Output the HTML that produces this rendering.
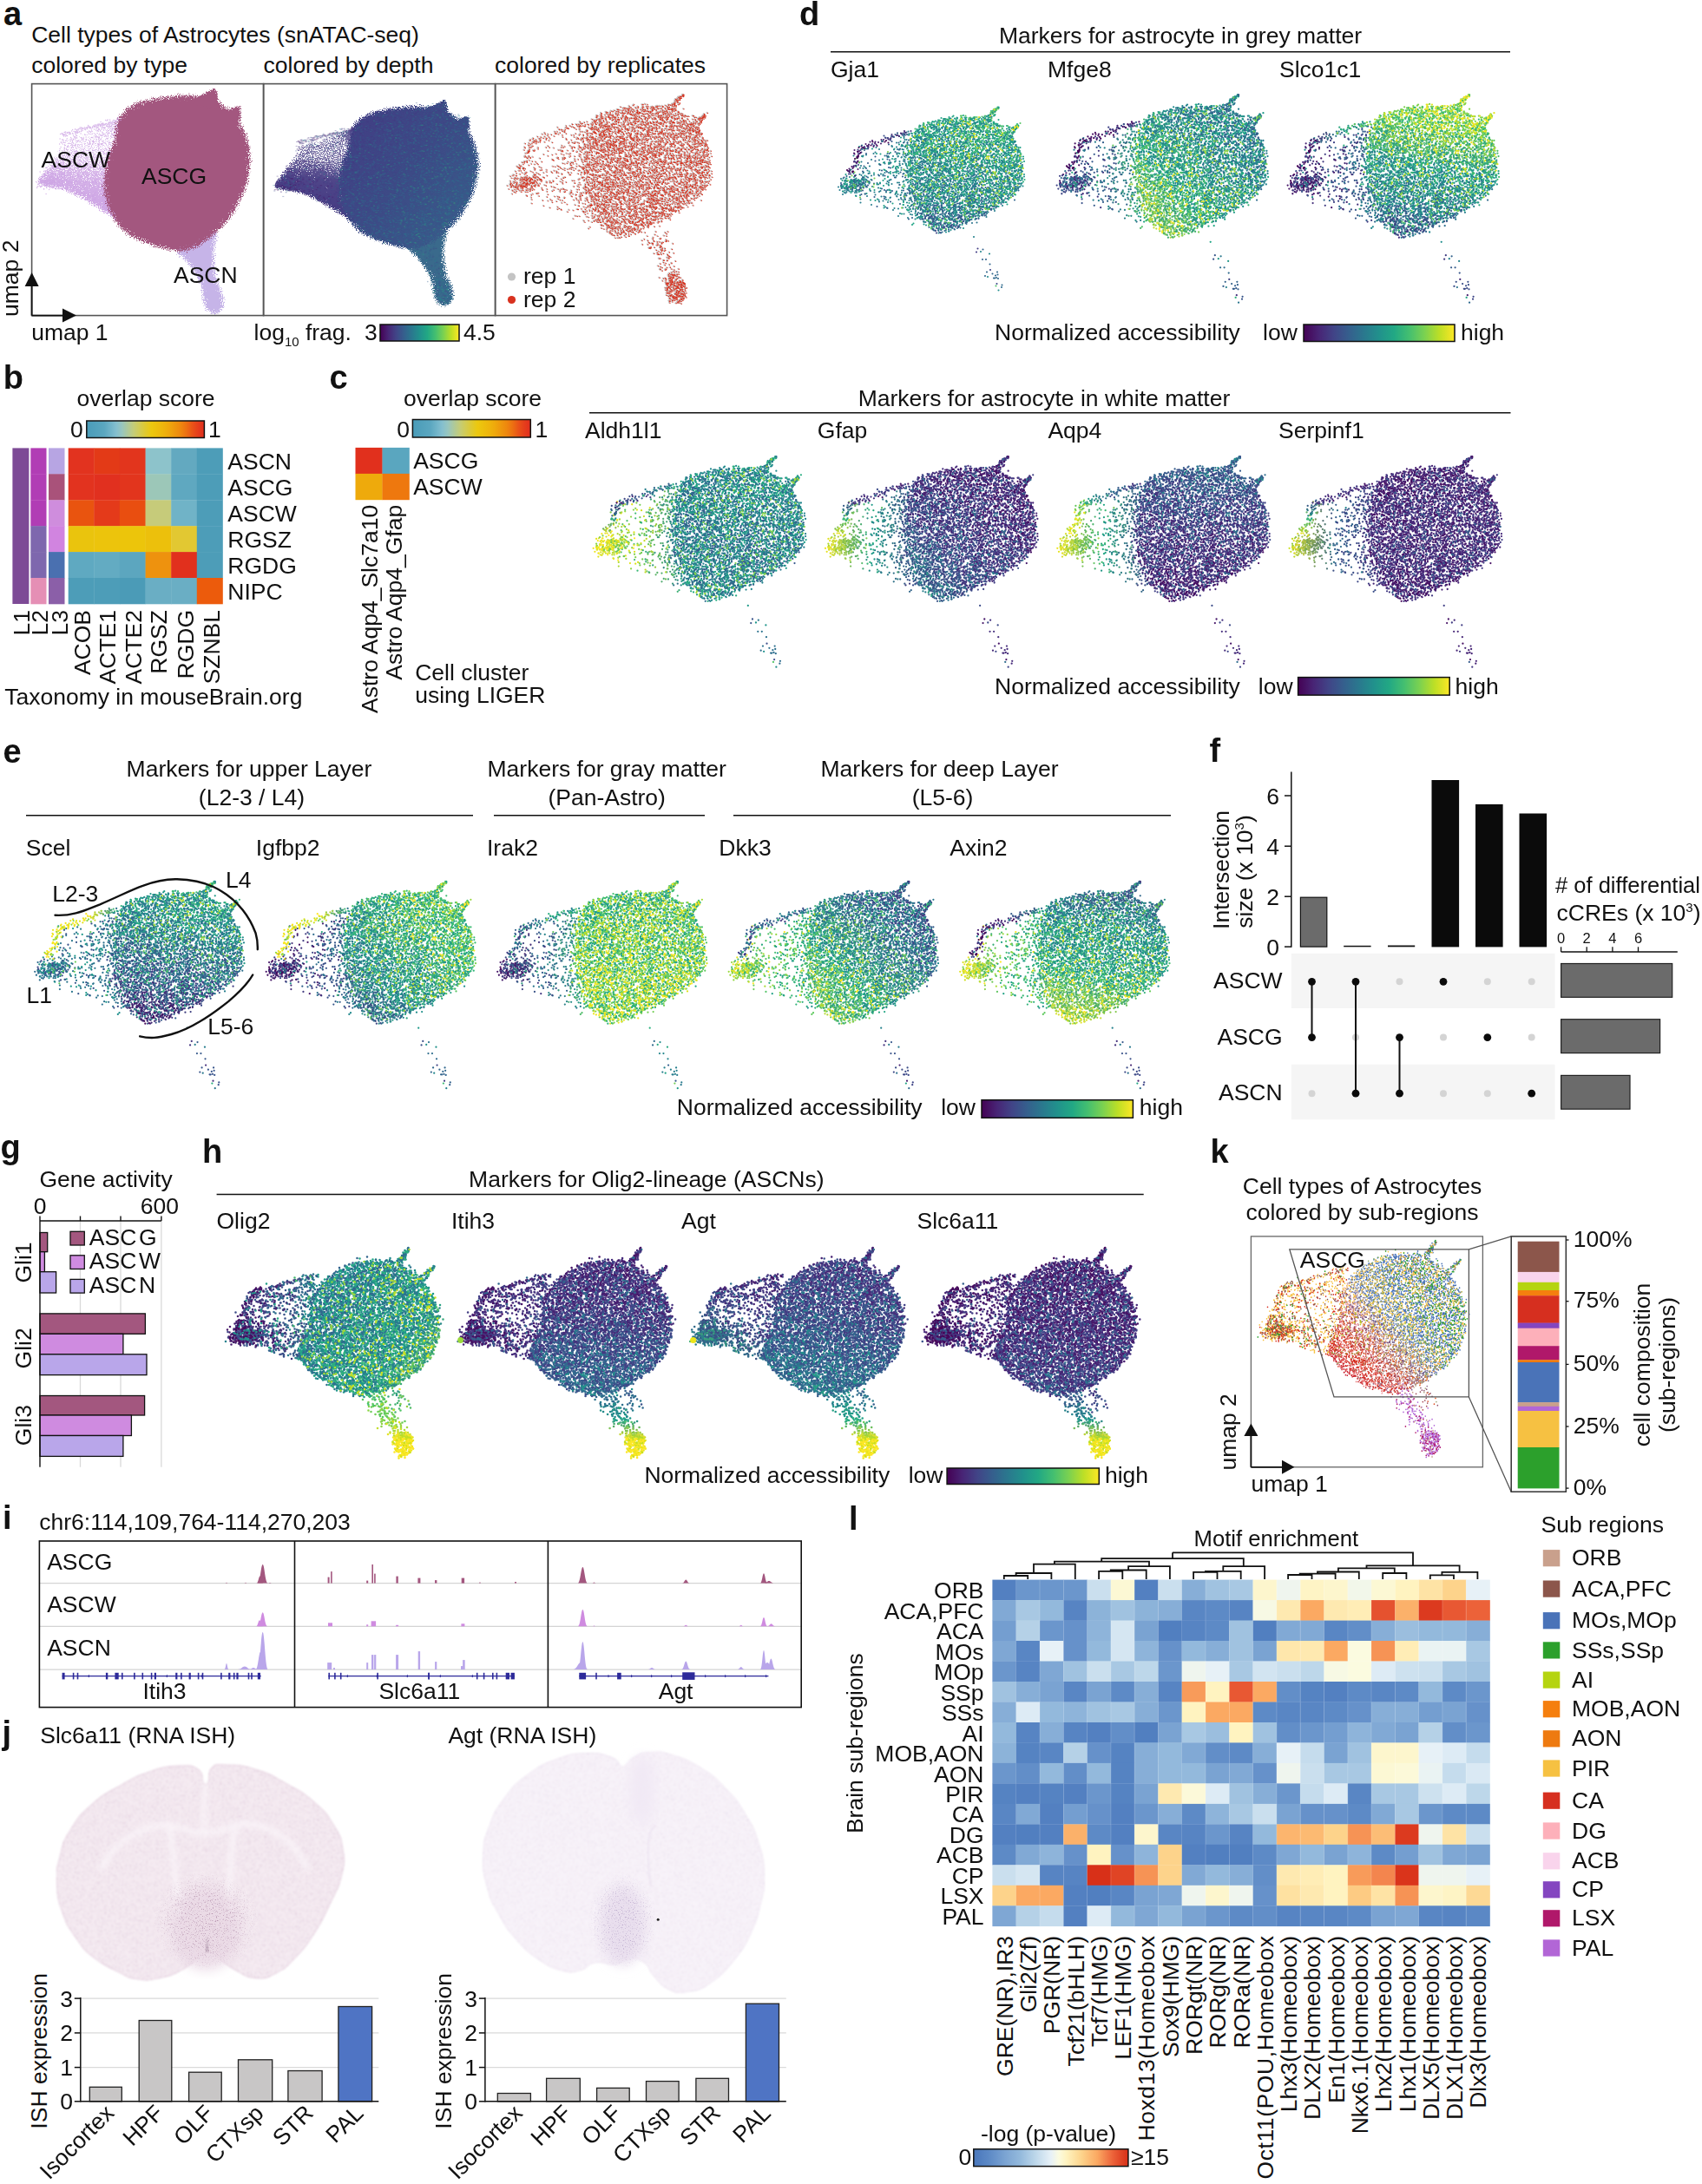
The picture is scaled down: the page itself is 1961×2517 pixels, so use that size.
<!DOCTYPE html>
<html><head><meta charset="utf-8"><title>Figure</title>
<style>html,body{margin:0;padding:0;background:#fff}svg{display:block}text{font-family:"Liberation Sans", sans-serif;fill:#111}</style>
</head><body>
<svg width="1961" height="2517" viewBox="0 0 1961 2517">
<defs>
<path id="BW0" transform="scale(.5)" d="M81 202h0M130 201h0M185 246h0M58 194h0M52 232h0M186 260h0M155 224h0M153 214h0M101 200h0M187 177h0M163 248h0M80 175h0M192 274h0M164 189h0M119 140h0M124 233h0M125 261h0M151 174h0M184 250h0M184 127h0M153 243h0M66 224h0M183 115h0M182 264h0M183 191h0M73 211h0M160 205h0M86 225h0M187 246h0M191 236h0M185 256h0M152 255h0M167 194h0M188 135h0M90 197h0M67 200h0M145 238h0M99 193h0M178 134h0M159 204h0M138 174h0M186 137h0M155 137h0M135 205h0M193 147h0M128 223h0M168 221h0M148 178h0M170 281h0M139 159h0M177 192h0M165 245h0M135 202h0M176 249h0M71 216h0M139 177h0M151 177h0M150 215h0M173 181h0M176 256h0M89 159h0M183 200h0M164 186h0M166 139h0M177 187h0M178 134h0M202 113h0M198 121h0M166 205h0M158 160h0M173 226h0M178 239h0M151 244h0M166 129h0M88 141h0M148 162h0M104 220h0M117 249h0M187 278h0M145 154h0M149 238h0M177 137h0M171 233h0M185 173h0M91 222h0M170 160h0M42 229h0M189 158h0M210 288h0M189 251h0M153 175h0M96 143h0M155 136h0M115 243h0M171 153h0M104 199h0M199 244h0M131 253h0M82 187h0M52 217h0M166 241h0M178 244h0M173 177h0M126 169h0M84 182h0M145 218h0M195 289h0M186 155h0M85 173h0M190 283h0M108 168h0M171 260h0M169 161h0M61 218h0M166 252h0M146 207h0M187 205h0M143 223h0M57 196h0M146 207h0M182 153h0M181 219h0M192 157h0M96 157h0M114 203h0M183 118h0M191 142h0M165 195h0M191 128h0M93 247h0M190 267h0M90 216h0M126 242h0M171 200h0M167 253h0M135 203h0M189 122h0M106 240h0M89 188h0M195 111h0M181 157h0M195 279h0M149 216h0M192 134h0M59 225h0M179 144h0M169 248h0M148 221h0M168 144h0M164 209h0M105 239h0M65 241h0M198 282h0M108 205h0M181 137h0M182 171h0M191 140h0M158 198h0M121 222h0M142 243h0M124 203h0M178 162h0M140 254h0M183 253h0M88 208h0M129 240h0M164 166h0M186 139h0M156 138h0M127 192h0M124 225h0M182 145h0M160 145h0M148 227h0M164 245h0M185 122h0M180 279h0M200 262h0M142 194h0M148 198h0M89 199h0M164 171h0M175 250h0M195 262h0M182 234h0M174 181h0M113 154h0M172 221h0M188 181h0M177 163h0M186 154h0M104 183h0M117 151h0M194 174h0M173 172h0M200 287h0M73 218h0M180 178h0M126 144h0M142 260h0M74 240h0M139 198h0M151 256h0M184 161h0M72 204h0M100 219h0M68 219h0M71 228h0M78 216h0M55 231h0M84 227h0M73 219h0M95 220h0M49 245h0M42 241h0M85 204h0M94 226h0M48 233h0M70 213h0M40 234h0M35 238h0M52 232h0M39 226h0M39 234h0M38 230h0M94 218h0M94 213h0M89 214h0M61 221h0M75 216h0M71 240h0M80 220h0M74 217h0M38 212h0M88 224h0M63 227h0M93 224h0M52 238h0M80 218h0M69 227h0M98 216h0M100 209h0M68 224h0M88 210h0M46 244h0M40 232h0M64 237h0M81 216h0M50 230h0M80 241h0M84 240h0M49 235h0M81 218h0M89 215h0M110 230h0M98 252h0M68 216h0M71 219h0M80 226h0M49 216h0M84 226h0M57 241h0M60 236h0M61 214h0M100 218h0M70 234h0M58 208h0M78 220h0M58 220h0M103 223h0M77 229h0M70 230h0M70 206h0M70 244h0M45 234h0M42 248h0M47 239h0M61 231h0M74 237h0M64 230h0M59 232h0M86 214h0M52 218h0M96 231h0M81 219h0M38 228h0M66 218h0M46 217h0M32 231h0M64 215h0M79 222h0M79 223h0M71 221h0M61 222h0M84 218h0M65 226h0M86 212h0M83 224h0M87 222h0M96 214h0M91 229h0M73 222h0M73 231h0M43 211h0M84 219h0M64 236h0M98 231h0M59 231h0M60 229h0M74 227h0M51 242h0M74 226h0M65 223h0M72 234h0M90 215h0M70 221h0M45 223h0M55 238h0M82 231h0M108 272h0M74 244h0M82 250h0M72 251h0M202 295h0M209 305h0M141 255h0M192 302h0M83 259h0M217 300h0M146 266h0M126 265h0M140 277h0M135 263h0M214 302h0M60 236h0M83 267h0M174 292h0M145 280h0M198 294h0M210 297h0M170 298h0M158 284h0M183 293h0M64 240h0M161 280h0"/>
<path id="BW1" transform="scale(.5)" d="M161 167h0M110 143h0M137 191h0M152 152h0M127 179h0M139 212h0M139 192h0M94 186h0M159 183h0M176 117h0M136 175h0M126 178h0M80 138h0M182 272h0M200 137h0M167 156h0M179 232h0M135 216h0M182 150h0M197 276h0M204 282h0M173 154h0M172 133h0M175 126h0M157 186h0M136 228h0M93 205h0M192 194h0M166 190h0M166 184h0M50 211h0M181 261h0M195 284h0M152 196h0M201 272h0M88 161h0M73 181h0M191 283h0M121 225h0M73 219h0M156 166h0M195 268h0M149 237h0M78 214h0M182 266h0M162 173h0M157 269h0M169 184h0M148 175h0M161 143h0M183 225h0M181 272h0M152 200h0M147 261h0M166 198h0M102 219h0M188 215h0M170 195h0M173 145h0M162 197h0M73 184h0M166 244h0M114 199h0M183 167h0M128 221h0M145 162h0M107 214h0M180 135h0M152 239h0M147 160h0M129 155h0M120 154h0M88 226h0M103 195h0M192 285h0M146 208h0M97 246h0M129 234h0M51 226h0M187 163h0M193 111h0M147 225h0M193 204h0M167 153h0M170 187h0M196 135h0M134 167h0M43 241h0M48 215h0M92 213h0M83 225h0M38 228h0M48 233h0M83 233h0M65 219h0M52 224h0M71 229h0M51 211h0M53 236h0M91 209h0M67 231h0M83 218h0M45 226h0M71 234h0M52 227h0M72 214h0M115 238h0M104 236h0M89 231h0M79 242h0M48 220h0M102 220h0M58 232h0M65 227h0M48 224h0M50 234h0M87 231h0M82 216h0M44 231h0M80 238h0M74 227h0M68 208h0M61 241h0M72 229h0M73 229h0M62 232h0M64 220h0M59 217h0M57 229h0M42 230h0M66 233h0M49 202h0M77 222h0M41 216h0M63 217h0M72 226h0M205 315h0M212 296h0M73 252h0M202 318h0M106 261h0M137 274h0M122 259h0M137 279h0M117 262h0M213 303h0M178 293h0M61 244h0"/>
<path id="BW2" transform="scale(.5)" d="M144 196h0M148 133h0M117 171h0M162 209h0M171 129h0M182 239h0M137 253h0M175 197h0M152 187h0M143 159h0M149 154h0M139 205h0M174 270h0M148 186h0M96 229h0M53 235h0M185 169h0M117 161h0M96 154h0M132 193h0M181 201h0M88 195h0M91 183h0M200 274h0M191 130h0M96 188h0M180 207h0M138 258h0M191 245h0M152 265h0M109 215h0M145 167h0M185 259h0M127 179h0M171 145h0M132 235h0M129 180h0M167 153h0M182 129h0M92 146h0M194 123h0M189 197h0M142 240h0M138 238h0M173 226h0M146 161h0M126 205h0M100 176h0M186 209h0M174 143h0M150 169h0M156 240h0M177 259h0M114 223h0M163 150h0M64 233h0M78 227h0M85 226h0M77 229h0M81 224h0M45 209h0M75 217h0M68 214h0M90 233h0M100 227h0M66 232h0M63 235h0M68 219h0M81 236h0M90 209h0M51 228h0M89 220h0M51 206h0M78 238h0M67 233h0M97 207h0M63 234h0M90 221h0M83 234h0M94 247h0M88 239h0M102 218h0M82 231h0M71 227h0M39 226h0M75 217h0M73 225h0M84 234h0M38 222h0M54 234h0M115 254h0M144 279h0M121 276h0M194 305h0M85 248h0M202 302h0"/>
<path id="BW3" transform="scale(.5)" d="M146 150h0M115 211h0M80 174h0M69 232h0M181 229h0M198 182h0M63 205h0M182 191h0M184 153h0M178 279h0M190 137h0M185 253h0M92 143h0M73 165h0M85 237h0M114 225h0M90 230h0M69 197h0M67 225h0M99 219h0M54 216h0M113 231h0M71 227h0M61 233h0M82 255h0"/>
<path id="BE0" transform="scale(.5)" d="M159 115h0M186 111h0M105 127h0M147 121h0M101 140h0M151 120h0M101 139h0M157 115h0M146 118h0M119 133h0M113 138h0M156 114h0M177 108h0M153 118h0M124 128h0M117 127h0M85 143h0M155 110h0M98 136h0M141 118h0M110 124h0M190 110h0M136 122h0M91 142h0M184 109h0M179 111h0M101 136h0M152 122h0M168 107h0M169 112h0M187 106h0M113 136h0M181 107h0M184 109h0M131 122h0M183 111h0M93 141h0M189 105h0M95 132h0M102 133h0M130 131h0M116 130h0M182 111h0M134 126h0"/>
<path id="BE1" transform="scale(.5)" d="M100 140h0M168 107h0M132 126h0M163 110h0M110 132h0M155 126h0M200 107h0M154 114h0M140 117h0M193 103h0M151 123h0M195 108h0M172 114h0M137 113h0M100 143h0M114 135h0M182 111h0M92 138h0M145 118h0M160 116h0"/>
<path id="BE2" transform="scale(.5)" d="M139 127h0M111 127h0M142 124h0M185 105h0M107 135h0M172 114h0M176 107h0M184 102h0M121 136h0M147 129h0M166 112h0M199 102h0M89 140h0"/>
<path id="BE3" transform="scale(.5)" d="M133 125h0M86 135h0"/>
<path id="BF0" transform="scale(.5)" d="M77 171h0M72 182h0M78 161h0M77 160h0M65 197h0M87 141h0M80 148h0M56 195h0M57 189h0M85 137h0M70 205h0M69 155h0M75 163h0M68 153h0M77 162h0M69 146h0M65 195h0M73 175h0M76 149h0M63 184h0M65 188h0M54 194h0M76 162h0M68 173h0M76 173h0M59 192h0M58 197h0M81 154h0M77 190h0M74 176h0"/>
<path id="BF1" transform="scale(.5)" d="M56 201h0M78 154h0M75 164h0M69 171h0M60 201h0M85 151h0M67 183h0M77 145h0M71 173h0M78 180h0M83 146h0M68 182h0"/>
<path id="BF2" transform="scale(.5)" d="M83 152h0M77 150h0M64 196h0M52 192h0M70 166h0M78 158h0M67 185h0M66 195h0M76 164h0M79 140h0M75 161h0"/>
<path id="BF3" transform="scale(.5)" d="M87 144h0M86 160h0M61 191h0M67 159h0"/>
<path id="BB0" transform="scale(.5)" d="M295 69h0M317 72h0M324 71h0M343 72h0M269 72h0M277 74h0M287 70h0M287 74h0M300 73h0M325 75h0M326 76h0M337 73h0M336 74h0M347 76h0M346 73h0M347 70h0M357 72h0M355 75h0M362 74h0M368 74h0M256 79h0M264 77h0M263 81h0M274 74h0M280 80h0M298 80h0M301 74h0M304 78h0M303 79h0M327 81h0M334 80h0M336 76h0M343 78h0M357 83h0M363 76h0M365 79h0M247 83h0M249 80h0M252 81h0M253 81h0M273 82h0M275 78h0M280 81h0M293 81h0M302 83h0M304 82h0M309 83h0M315 78h0M319 81h0M328 81h0M332 83h0M340 77h0M347 86h0M349 82h0M347 84h0M357 80h0M360 80h0M364 85h0M381 89h0M384 79h0M391 83h0M227 88h0M228 84h0M241 83h0M247 88h0M250 88h0M264 85h0M269 84h0M274 90h0M278 84h0M283 86h0M280 90h0M294 87h0M303 87h0M306 85h0M308 84h0M316 86h0M328 89h0M328 88h0M332 82h0M343 85h0M344 85h0M358 86h0M364 90h0M381 80h0M390 81h0M389 86h0M393 86h0M399 86h0M219 89h0M227 92h0M232 92h0M255 91h0M259 92h0M265 88h0M297 95h0M300 92h0M308 91h0M315 85h0M322 93h0M335 89h0M356 93h0M359 88h0M367 89h0M371 90h0M381 94h0M385 89h0M391 91h0M397 89h0M412 91h0M218 93h0M227 96h0M238 92h0M251 94h0M246 96h0M257 93h0M258 98h0M266 97h0M270 94h0M271 96h0M291 95h0M294 95h0M302 94h0M312 95h0M320 97h0M329 94h0M328 94h0M341 94h0M347 91h0M356 98h0M365 96h0M366 92h0M369 93h0M368 96h0M376 91h0M384 85h0M397 95h0M213 98h0M216 100h0M227 100h0M227 99h0M238 97h0M241 102h0M253 98h0M263 98h0M262 97h0M288 95h0M283 98h0M292 104h0M298 100h0M301 100h0M302 96h0M314 101h0M320 95h0M326 104h0M340 97h0M359 99h0M357 97h0M375 99h0M381 104h0M388 95h0M391 95h0M396 102h0M403 92h0M406 100h0M410 97h0M209 109h0M213 100h0M220 104h0M224 108h0M230 104h0M234 102h0M254 106h0M252 106h0M270 104h0M278 96h0M279 102h0M280 98h0M284 102h0M286 105h0M296 101h0M301 105h0M320 103h0M323 101h0M323 105h0M345 102h0M351 104h0M360 101h0M364 104h0M378 102h0M382 104h0M391 103h0M397 102h0M401 103h0M422 102h0M210 103h0M215 111h0M216 105h0M217 107h0M229 108h0M244 110h0M255 107h0M256 107h0M265 103h0M275 107h0M279 110h0M285 108h0M290 106h0M301 105h0M310 107h0M313 108h0M314 109h0M322 108h0M333 110h0M344 107h0M354 106h0M352 104h0M359 106h0M364 110h0M365 110h0M372 102h0M377 104h0M388 105h0M393 106h0M403 106h0M405 109h0M409 109h0M417 112h0M214 112h0M218 113h0M236 108h0M252 111h0M255 114h0M263 113h0M268 110h0M282 117h0M283 108h0M288 112h0M295 112h0M305 112h0M310 115h0M332 105h0M339 108h0M341 108h0M365 110h0M371 112h0M375 112h0M386 111h0M390 118h0M392 111h0M399 107h0M417 108h0M423 112h0M428 112h0M205 116h0M208 116h0M209 113h0M213 121h0M232 112h0M231 120h0M241 118h0M243 116h0M246 110h0M257 112h0M258 118h0M265 117h0M284 116h0M294 114h0M299 115h0M308 112h0M313 115h0M334 111h0M344 117h0M350 111h0M370 117h0M374 111h0M379 111h0M388 114h0M393 118h0M394 113h0M422 121h0M426 114h0M210 117h0M210 114h0M217 116h0M224 120h0M239 117h0M246 121h0M252 122h0M256 115h0M264 121h0M268 121h0M273 117h0M299 120h0M306 120h0M306 114h0M318 115h0M328 120h0M352 123h0M355 120h0M360 119h0M372 117h0M388 115h0M391 120h0M400 115h0M426 119h0M427 122h0M205 125h0M209 126h0M217 125h0M228 122h0M235 127h0M244 124h0M253 123h0M266 120h0M272 122h0M278 121h0M287 125h0M291 128h0M316 120h0M316 128h0M326 123h0M342 121h0M342 126h0M348 125h0M355 125h0M362 126h0M367 125h0M379 125h0M390 127h0M395 125h0M398 121h0M400 120h0M403 126h0M415 116h0M420 122h0M421 118h0M428 123h0M428 125h0M199 128h0M210 127h0M212 122h0M223 134h0M224 127h0M229 129h0M239 128h0M245 128h0M250 130h0M263 132h0M266 132h0M275 125h0M289 130h0M290 131h0M310 127h0M313 125h0M324 128h0M325 125h0M328 131h0M350 132h0M351 131h0M363 124h0M375 129h0M374 128h0M384 129h0M396 129h0M398 125h0M411 131h0M421 134h0M421 128h0M428 131h0M434 129h0M437 127h0M204 133h0M202 137h0M218 131h0M224 139h0M230 133h0M237 133h0M246 131h0M253 131h0M268 132h0M274 131h0M283 133h0M289 133h0M297 134h0M299 130h0M302 133h0M306 134h0M312 132h0M317 133h0M331 132h0M348 126h0M382 134h0M386 134h0M402 129h0M407 130h0M415 131h0M424 133h0M428 129h0M431 134h0M441 134h0M209 134h0M216 139h0M218 139h0M229 136h0M234 137h0M239 133h0M248 135h0M274 131h0M280 139h0M284 138h0M283 138h0M294 140h0M293 137h0M309 139h0M333 137h0M341 136h0M344 134h0M353 136h0M358 140h0M366 137h0M366 143h0M371 139h0M378 136h0M407 135h0M429 134h0M198 139h0M203 140h0M216 145h0M221 137h0M244 145h0M258 142h0M260 138h0M268 142h0M276 138h0M277 140h0M307 137h0M308 138h0M313 140h0M316 136h0M334 142h0M341 142h0M352 143h0M380 142h0M404 138h0M413 142h0M415 141h0M423 142h0M433 141h0M439 141h0M443 139h0M441 143h0M447 140h0M200 148h0M211 145h0M205 146h0M217 143h0M224 143h0M231 141h0M231 140h0M239 144h0M248 146h0M256 142h0M274 146h0M281 143h0M281 143h0M286 151h0M302 144h0M304 148h0M306 141h0M313 146h0M314 147h0M323 140h0M325 144h0M334 148h0M333 145h0M339 146h0M347 142h0M352 147h0M362 149h0M363 145h0M380 146h0M375 146h0M385 142h0M390 144h0M397 148h0M395 142h0M413 137h0M419 143h0M440 143h0M196 153h0M205 147h0M214 152h0M229 153h0M247 151h0M252 149h0M250 149h0M260 149h0M271 145h0M298 147h0M310 149h0M315 153h0M326 150h0M332 148h0M339 153h0M341 148h0M350 148h0M354 150h0M363 147h0M368 154h0M379 146h0M381 153h0M390 154h0M398 150h0M402 148h0M412 150h0M413 151h0M420 148h0M423 147h0M424 147h0M433 148h0M445 149h0M450 148h0M191 154h0M200 154h0M205 150h0M215 156h0M222 155h0M221 154h0M226 150h0M234 149h0M241 153h0M246 154h0M253 151h0M265 155h0M268 155h0M278 153h0M291 150h0M294 153h0M302 150h0M313 154h0M316 154h0M328 156h0M328 150h0M331 150h0M340 152h0M343 153h0M353 151h0M356 153h0M359 153h0M379 159h0M383 152h0M392 155h0M399 155h0M408 154h0M419 153h0M429 152h0M432 151h0M446 151h0M209 152h0M210 156h0M215 155h0M226 160h0M236 160h0M237 159h0M255 157h0M260 161h0M261 158h0M273 157h0M272 155h0M291 156h0M294 162h0M303 161h0M306 162h0M308 160h0M319 163h0M318 153h0M314 157h0M328 158h0M339 157h0M341 154h0M355 158h0M353 156h0M350 158h0M360 159h0M367 159h0M374 160h0M386 159h0M384 158h0M386 163h0M396 157h0M403 157h0M405 158h0M416 155h0M418 155h0M424 155h0M429 162h0M432 160h0M443 161h0M451 158h0M451 152h0M198 162h0M208 161h0M206 159h0M219 165h0M214 162h0M218 165h0M231 163h0M234 158h0M243 163h0M251 160h0M257 165h0M266 157h0M261 165h0M270 159h0M273 161h0M288 158h0M298 163h0M303 163h0M309 157h0M317 162h0M317 159h0M324 161h0M330 162h0M335 164h0M354 166h0M355 164h0M359 160h0M363 161h0M372 160h0M373 160h0M378 161h0M403 167h0M411 158h0M418 160h0M420 164h0M421 158h0M429 158h0M450 160h0M195 163h0M221 164h0M223 166h0M228 161h0M238 168h0M251 165h0M271 165h0M268 163h0M281 159h0M286 167h0M286 164h0M306 162h0M310 168h0M312 169h0M319 164h0M326 167h0M335 168h0M344 169h0M358 164h0M366 164h0M366 167h0M380 169h0M384 162h0M393 161h0M397 167h0M403 163h0M416 161h0M425 168h0M428 164h0M430 171h0M443 165h0M441 170h0M443 162h0M193 173h0M198 169h0M198 169h0M198 173h0M209 170h0M224 171h0M224 165h0M251 169h0M256 167h0M267 171h0M269 165h0M288 172h0M302 170h0M312 168h0M319 172h0M322 171h0M331 165h0M339 168h0M353 168h0M358 166h0M367 166h0M381 170h0M394 171h0M391 170h0M396 171h0M413 167h0M414 170h0M419 172h0M426 174h0M429 166h0M439 178h0M445 175h0M447 172h0M450 171h0M203 175h0M209 174h0M219 175h0M221 174h0M231 171h0M233 173h0M244 176h0M255 177h0M268 177h0M267 176h0M275 175h0M277 176h0M279 172h0M297 176h0M308 175h0M315 176h0M324 174h0M325 175h0M335 175h0M336 171h0M361 174h0M365 181h0M376 171h0M375 176h0M386 173h0M395 170h0M408 171h0M409 175h0M415 173h0M416 176h0M420 174h0M430 175h0M435 176h0M188 178h0M194 178h0M199 174h0M209 179h0M220 179h0M228 174h0M238 178h0M251 183h0M258 175h0M276 179h0M278 176h0M282 177h0M282 179h0M305 179h0M302 182h0M315 176h0M317 177h0M322 179h0M326 178h0M336 179h0M342 180h0M348 179h0M358 182h0M364 174h0M369 174h0M380 175h0M396 178h0M407 176h0M409 177h0M416 179h0M415 179h0M423 175h0M456 184h0M200 186h0M208 184h0M211 188h0M212 181h0M214 186h0M220 183h0M232 181h0M239 187h0M249 180h0M261 183h0M261 183h0M266 185h0M272 182h0M277 187h0M284 180h0M284 181h0M290 187h0M296 184h0M295 185h0M306 185h0M313 183h0M323 185h0M325 183h0M335 186h0M339 183h0M346 186h0M362 183h0M368 188h0M375 182h0M381 183h0M383 184h0M385 185h0M394 186h0M397 186h0M405 185h0M414 183h0M418 182h0M422 182h0M428 181h0M440 184h0M441 184h0M452 185h0M191 188h0M214 187h0M217 186h0M218 189h0M222 187h0M238 190h0M243 184h0M247 185h0M261 184h0M266 185h0M287 191h0M296 185h0M302 185h0M304 192h0M311 187h0M313 185h0M329 189h0M338 189h0M351 190h0M359 182h0M369 187h0M378 188h0M388 189h0M399 185h0M408 182h0M406 188h0M417 184h0M410 182h0M422 187h0M429 186h0M437 183h0M445 183h0M444 184h0M447 190h0M198 194h0M209 188h0M216 194h0M216 194h0M226 192h0M233 196h0M239 189h0M251 191h0M252 184h0M275 192h0M280 189h0M283 190h0M291 191h0M319 190h0M326 195h0M344 194h0M341 191h0M345 189h0M354 188h0M350 189h0M358 192h0M360 191h0M375 185h0M380 193h0M381 191h0M389 187h0M387 188h0M395 189h0M400 187h0M402 189h0M409 191h0M421 191h0M427 190h0M435 186h0M437 188h0M441 194h0M450 193h0M200 200h0M191 198h0M196 194h0M211 196h0M227 198h0M228 198h0M246 198h0M242 190h0M246 193h0M251 193h0M260 196h0M263 197h0M278 194h0M278 194h0M283 195h0M290 198h0M311 198h0M317 193h0M322 195h0M325 195h0M340 198h0M343 195h0M345 194h0M357 196h0M365 196h0M371 191h0M394 198h0M402 195h0M412 195h0M417 194h0M426 197h0M435 199h0M437 194h0M446 195h0M456 195h0M193 204h0M198 203h0M197 200h0M213 197h0M224 201h0M236 196h0M243 203h0M246 198h0M250 200h0M257 202h0M258 201h0M262 199h0M273 199h0M281 197h0M287 196h0M290 201h0M295 203h0M319 200h0M323 202h0M343 202h0M345 198h0M353 201h0M358 200h0M357 199h0M361 198h0M376 197h0M377 197h0M390 199h0M393 198h0M400 201h0M402 198h0M409 200h0M419 198h0M418 201h0M426 198h0M429 200h0M435 205h0M443 204h0M440 204h0M446 198h0M449 199h0M197 200h0M204 199h0M210 202h0M215 200h0M222 203h0M236 201h0M240 206h0M252 205h0M256 205h0M277 206h0M279 210h0M287 200h0M297 204h0M298 208h0M317 205h0M317 203h0M326 207h0M326 206h0M337 203h0M348 208h0M362 204h0M366 201h0M374 201h0M379 209h0M396 204h0M396 207h0M405 200h0M405 201h0M431 206h0M433 203h0M440 203h0M451 205h0M195 205h0M199 207h0M211 207h0M217 203h0M220 204h0M223 210h0M227 210h0M234 208h0M254 211h0M261 209h0M268 204h0M272 207h0M283 214h0M288 205h0M293 206h0M295 207h0M305 210h0M310 203h0M320 212h0M329 202h0M336 211h0M334 212h0M343 202h0M347 209h0M351 207h0M358 206h0M364 208h0M372 205h0M392 207h0M393 209h0M403 208h0M407 213h0M429 204h0M199 214h0M211 209h0M211 209h0M212 211h0M227 210h0M225 212h0M231 210h0M234 215h0M240 214h0M246 213h0M247 208h0M255 213h0M258 209h0M271 216h0M280 209h0M281 210h0M289 214h0M291 214h0M296 210h0M300 213h0M302 211h0M319 205h0M326 213h0M336 214h0M340 211h0M345 216h0M354 212h0M357 211h0M361 213h0M370 217h0M375 215h0M382 213h0M383 216h0M390 213h0M394 212h0M404 213h0M405 210h0M415 216h0M424 216h0M440 210h0M442 211h0M446 209h0M449 210h0M451 216h0M456 211h0M189 214h0M189 215h0M213 214h0M217 214h0M227 214h0M232 216h0M245 215h0M243 213h0M257 214h0M262 214h0M278 210h0M300 212h0M302 217h0M313 214h0M322 219h0M321 218h0M330 213h0M340 216h0M348 219h0M348 218h0M350 216h0M359 219h0M377 214h0M379 215h0M384 214h0M395 221h0M405 215h0M411 216h0M413 216h0M422 216h0M436 216h0M445 215h0M443 213h0M455 215h0M192 221h0M198 221h0M202 219h0M211 219h0M219 223h0M234 220h0M231 222h0M238 219h0M241 219h0M249 218h0M258 219h0M268 225h0M272 221h0M277 221h0M285 218h0M291 219h0M300 223h0M307 227h0M312 221h0M315 218h0M329 219h0M341 216h0M340 224h0M348 222h0M359 222h0M367 220h0M369 217h0M372 218h0M382 223h0M386 217h0M388 222h0M396 222h0M401 218h0M414 220h0M426 219h0M429 221h0M438 225h0M445 215h0M452 223h0M209 226h0M215 226h0M223 228h0M237 222h0M236 227h0M239 226h0M248 224h0M255 224h0M260 223h0M263 219h0M269 227h0M279 223h0M282 226h0M288 225h0M288 227h0M298 225h0M309 222h0M305 223h0M319 229h0M326 226h0M336 228h0M346 224h0M351 224h0M349 225h0M363 227h0M370 226h0M374 223h0M390 227h0M405 222h0M407 226h0M415 231h0M425 220h0M426 226h0M440 221h0M441 223h0M441 224h0M455 222h0M202 229h0M220 230h0M228 230h0M236 231h0M248 228h0M254 230h0M267 231h0M268 223h0M278 228h0M277 230h0M300 228h0M305 233h0M312 232h0M316 234h0M328 232h0M323 230h0M335 226h0M342 230h0M345 230h0M355 227h0M392 227h0M410 229h0M416 231h0M429 231h0M430 230h0M440 230h0M447 232h0M194 234h0M195 231h0M201 236h0M209 231h0M228 227h0M231 229h0M240 235h0M243 240h0M245 232h0M264 230h0M262 231h0M274 232h0M287 232h0M288 236h0M294 232h0M305 232h0M311 230h0M312 228h0M340 233h0M348 230h0M357 235h0M374 236h0M380 234h0M383 236h0M379 234h0M392 234h0M401 230h0M398 236h0M406 235h0M409 234h0M426 229h0M428 235h0M434 235h0M441 230h0M451 230h0M196 235h0M203 240h0M211 236h0M223 238h0M221 238h0M232 237h0M245 236h0M250 238h0M267 236h0M272 237h0M294 236h0M297 234h0M313 237h0M317 236h0M323 238h0M324 236h0M329 236h0M327 238h0M340 235h0M346 236h0M351 241h0M358 237h0M363 241h0M367 237h0M376 237h0M388 237h0M398 239h0M402 236h0M407 235h0M406 236h0M410 238h0M415 239h0M420 233h0M437 236h0M201 242h0M208 246h0M221 239h0M217 239h0M223 238h0M230 237h0M256 248h0M268 243h0M271 244h0M275 247h0M278 241h0M283 239h0M294 241h0M292 241h0M298 244h0M303 239h0M316 239h0M325 235h0M328 243h0M338 250h0M343 242h0M349 242h0M350 237h0M361 243h0M371 238h0M377 240h0M388 238h0M392 243h0M400 241h0M413 245h0M415 243h0M424 235h0M427 236h0M432 241h0M432 238h0M437 242h0M441 240h0M197 247h0M204 244h0M224 244h0M229 250h0M236 247h0M251 245h0M260 244h0M275 248h0M275 245h0M286 243h0M283 244h0M290 246h0M295 248h0M300 245h0M303 246h0M309 245h0M316 244h0M319 243h0M323 247h0M340 247h0M345 243h0M347 245h0M353 250h0M364 244h0M371 245h0M380 242h0M385 247h0M382 249h0M389 249h0M399 241h0M425 248h0M432 248h0M431 249h0M434 246h0M196 247h0M217 248h0M227 253h0M239 254h0M245 250h0M240 246h0M252 245h0M261 245h0M276 246h0M283 250h0M301 246h0M304 254h0M311 251h0M331 249h0M333 251h0M336 251h0M356 251h0M358 252h0M406 250h0M407 251h0M412 245h0M412 245h0M418 248h0M422 251h0M196 257h0M210 254h0M217 252h0M222 261h0M233 252h0M240 247h0M239 253h0M245 251h0M248 254h0M259 255h0M270 256h0M274 256h0M287 256h0M299 251h0M307 253h0M315 252h0M318 248h0M321 252h0M337 253h0M343 256h0M365 247h0M373 251h0M371 257h0M386 254h0M392 253h0M400 251h0M407 253h0M408 249h0M411 252h0M412 252h0M424 256h0M199 260h0M222 254h0M223 259h0M231 261h0M243 265h0M250 259h0M251 254h0M258 257h0M261 258h0M263 258h0M275 258h0M276 254h0M278 259h0M286 259h0M287 259h0M294 260h0M307 249h0M325 257h0M328 253h0M328 256h0M340 255h0M338 261h0M361 259h0M363 260h0M380 256h0M392 255h0M408 257h0M417 257h0M202 265h0M215 259h0M225 263h0M229 264h0M239 261h0M242 258h0M249 259h0M254 262h0M259 264h0M264 259h0M267 262h0M278 262h0M283 262h0M288 266h0M301 266h0M306 259h0M323 263h0M332 261h0M332 261h0M336 262h0M337 259h0M343 260h0M369 261h0M368 260h0M373 263h0M372 259h0M379 259h0M392 261h0M395 265h0M392 267h0M411 264h0M213 264h0M221 266h0M227 270h0M233 269h0M238 264h0M240 265h0M247 264h0M252 268h0M269 268h0M287 271h0M294 265h0M299 267h0M304 265h0M312 268h0M313 267h0M318 268h0M340 263h0M342 266h0M345 266h0M348 264h0M362 267h0M373 269h0M379 266h0M385 265h0M392 269h0M401 263h0M413 266h0M419 266h0M220 274h0M222 271h0M230 268h0M244 270h0M252 267h0M262 270h0M270 272h0M271 268h0M271 267h0M282 270h0M285 273h0M289 274h0M298 274h0M309 277h0M312 271h0M318 268h0M324 272h0M329 265h0M333 265h0M339 269h0M356 267h0M360 271h0M363 270h0M374 273h0M383 274h0M392 272h0M410 274h0M408 266h0M211 277h0M222 278h0M236 276h0M241 277h0M243 275h0M245 273h0M251 278h0M262 277h0M270 279h0M273 278h0M282 274h0M285 278h0M297 273h0M300 277h0M310 275h0M344 274h0M345 275h0M351 271h0M362 276h0M363 276h0M375 277h0M375 276h0M384 273h0M391 274h0M398 276h0M209 282h0M212 279h0M229 278h0M233 279h0M235 279h0M243 279h0M239 281h0M249 281h0M253 279h0M257 278h0M265 279h0M270 277h0M274 280h0M291 280h0M296 278h0M297 283h0M307 277h0M318 279h0M316 276h0M337 276h0M341 278h0M344 277h0M342 278h0M364 278h0M372 278h0M379 279h0M396 276h0M215 282h0M221 284h0M226 286h0M245 287h0M242 284h0M249 283h0M255 285h0M260 281h0M273 288h0M289 278h0M291 282h0M298 281h0M299 276h0M301 281h0M308 284h0M310 284h0M318 284h0M316 283h0M325 282h0M340 285h0M344 286h0M363 288h0M369 279h0M375 278h0M383 282h0M390 281h0M225 291h0M227 289h0M230 286h0M233 288h0M238 289h0M245 286h0M246 288h0M255 288h0M256 290h0M256 286h0M262 289h0M277 284h0M282 287h0M288 288h0M287 291h0M299 285h0M302 292h0M302 289h0M316 292h0M331 288h0M336 286h0M356 289h0M355 293h0M366 293h0M377 289h0M375 287h0M220 292h0M222 298h0M224 294h0M228 289h0M237 287h0M236 295h0M266 295h0M280 291h0M287 293h0M290 293h0M292 292h0M297 293h0M305 290h0M312 290h0M322 295h0M328 291h0M330 289h0M350 292h0M350 291h0M357 286h0M252 296h0M262 292h0M262 298h0M272 297h0M268 294h0M314 298h0M312 297h0M324 300h0M332 298h0M342 294h0M345 295h0M354 297h0M372 296h0M241 300h0M244 302h0M252 303h0M266 301h0M274 299h0M283 298h0M288 302h0M289 303h0M295 303h0M301 298h0M305 304h0M332 306h0M334 301h0M342 298h0M228 305h0M232 304h0M250 305h0M257 303h0M276 301h0M288 306h0M293 304h0M309 300h0M316 306h0M328 309h0M325 304h0M336 306h0M347 306h0M228 311h0M239 310h0M244 313h0M246 303h0M256 309h0M258 305h0M286 304h0M289 307h0M294 304h0M312 308h0M325 307h0M331 309h0M339 306h0M241 314h0M252 317h0M260 306h0M259 306h0M267 313h0M280 314h0M284 315h0M302 309h0M314 309h0M326 311h0M243 316h0M264 314h0M265 315h0M268 316h0M278 316h0M284 316h0M291 314h0M304 320h0M305 317h0M306 312h0M312 318h0M318 315h0M327 316h0M241 324h0M248 322h0M252 320h0M283 319h0M289 323h0M295 324h0M298 320h0M311 319h0M251 328h0M264 325h0M271 326h0M275 325h0M279 327h0M298 320h0M306 326h0M313 325h0M255 331h0M262 331h0M268 330h0M269 330h0M277 332h0M286 325h0M286 329h0M295 325h0M300 329h0M271 335h0M280 330h0M293 321h0M250 272h0M360 290h0M341 148h0M347 260h0M395 234h0M255 203h0M276 147h0M390 146h0M267 248h0M444 200h0M324 169h0M229 193h0M449 168h0M284 152h0M299 203h0M272 134h0M405 256h0M305 297h0M415 153h0M407 194h0M390 199h0M338 165h0M242 113h0M257 150h0M254 203h0M225 105h0M404 199h0M380 114h0M203 169h0M321 194h0M195 191h0M445 169h0M333 276h0M271 262h0M318 91h0M446 180h0M379 282h0M358 129h0M218 147h0M257 308h0M314 162h0M218 126h0M301 212h0M264 275h0M246 113h0M245 119h0M253 219h0M404 173h0M321 173h0M205 252h0M223 141h0M294 204h0M246 258h0M411 140h0M316 298h0M257 268h0M260 113h0M207 217h0M312 162h0M457 229h0M214 222h0M323 71h0M311 166h0M396 133h0M440 126h0M323 227h0M358 224h0M358 198h0M343 195h0M294 135h0M236 195h0M280 222h0M376 107h0M361 185h0M426 184h0M340 314h0M331 102h0M323 272h0M340 249h0M410 250h0M285 241h0M221 305h0M253 90h0M392 126h0M321 241h0M246 261h0M263 226h0M309 218h0M221 216h0M359 286h0M265 245h0M227 179h0M353 97h0M364 297h0M406 132h0M395 222h0M211 137h0M231 228h0M279 115h0M362 205h0M435 164h0M450 159h0M281 313h0M241 287h0M280 193h0M256 238h0M266 258h0M364 218h0M255 145h0M268 132h0M279 179h0M255 205h0M213 188h0M423 156h0M204 208h0M336 243h0M309 233h0M249 273h0M396 190h0M270 321h0M403 262h0M263 216h0M396 194h0M207 133h0M373 280h0M241 295h0M413 223h0M367 288h0M326 290h0M327 216h0M334 156h0M214 268h0M289 197h0M414 107h0M237 111h0M325 262h0M252 147h0M322 297h0M301 183h0M381 243h0M224 253h0M206 226h0M280 290h0M222 223h0M358 126h0M352 155h0M214 270h0M241 202h0M202 108h0M250 113h0M373 186h0M276 244h0M248 153h0M254 105h0M260 106h0M259 161h0M233 312h0M359 83h0M270 282h0M374 184h0M331 304h0M354 143h0M295 306h0M250 176h0M276 203h0M343 143h0M438 216h0M237 95h0M317 172h0M249 210h0M426 158h0M409 109h0M396 263h0M369 170h0M368 162h0M332 258h0M339 237h0M301 285h0M203 247h0M260 127h0M228 225h0M210 132h0M303 178h0M192 214h0M318 180h0M261 302h0M305 295h0M416 125h0M451 157h0M217 219h0M249 313h0M426 173h0M392 286h0M225 275h0M430 171h0M396 186h0M454 211h0M328 291h0M413 219h0M284 107h0M304 80h0M344 115h0M292 151h0M226 133h0M269 132h0M377 95h0M214 236h0M382 228h0M257 202h0M274 146h0M302 154h0M198 134h0M284 315h0M367 94h0M356 137h0M190 184h0M322 239h0M374 115h0M320 150h0M246 113h0M304 84h0M387 197h0M399 90h0M379 104h0M419 232h0M279 241h0M434 186h0M210 286h0M222 305h0M311 115h0M331 103h0M204 164h0M460 172h0M394 99h0M335 185h0M329 258h0M200 150h0M259 286h0M285 78h0M308 235h0M244 117h0M420 120h0M425 143h0M236 261h0M266 151h0M373 105h0M282 182h0M383 75h0M343 96h0M380 197h0M303 147h0M318 80h0M232 253h0M343 193h0M312 311h0M201 190h0M415 196h0M323 80h0M261 195h0M413 134h0M293 108h0M358 283h0M434 233h0M309 302h0M372 242h0M248 116h0M254 175h0M438 139h0M302 132h0M241 303h0M326 137h0M317 296h0M392 175h0M234 188h0M446 231h0M391 120h0M363 293h0M410 119h0M214 118h0M337 201h0M442 167h0M288 99h0M373 215h0M221 190h0M314 140h0M408 188h0M444 204h0M343 71h0M222 186h0M450 164h0M341 262h0M235 298h0M202 240h0M447 146h0M274 183h0M261 114h0M356 256h0M323 186h0M412 170h0M331 267h0M289 285h0M298 225h0M355 122h0M343 274h0M305 222h0M453 198h0M265 192h0M344 262h0M356 116h0M342 217h0M300 181h0M417 217h0M205 275h0M410 261h0M227 155h0M270 127h0M224 211h0M243 236h0M277 266h0M389 276h0M320 156h0M240 239h0M300 167h0M293 145h0M224 96h0M381 220h0M427 244h0M331 123h0M285 205h0M318 264h0M354 274h0M225 234h0M248 243h0M383 240h0M412 117h0M244 91h0M205 251h0M234 263h0M365 168h0M233 99h0M365 160h0M415 229h0M247 116h0M246 152h0M300 97h0M376 185h0M322 111h0M206 208h0M372 160h0M344 268h0M325 314h0M324 281h0M325 163h0M409 178h0M286 125h0M287 144h0M307 304h0M276 85h0M243 173h0M292 325h0M351 214h0M295 257h0M299 105h0M285 82h0M360 157h0M216 139h0M370 196h0M253 234h0M318 306h0M379 257h0M192 196h0M430 113h0M270 175h0M401 76h0M241 254h0M183 217h0M297 241h0M287 85h0M299 96h0M260 269h0M348 147h0M386 206h0M342 251h0M303 125h0M377 119h0M305 74h0M270 273h0M409 241h0M234 277h0M320 289h0M237 238h0M213 221h0M326 126h0M439 146h0M282 188h0M439 193h0M289 128h0M269 135h0M368 237h0M253 97h0M331 83h0M286 234h0M367 166h0M436 163h0M340 232h0M213 141h0M367 265h0M218 99h0M351 126h0M375 176h0M425 153h0M434 221h0M297 288h0M337 113h0M358 237h0M285 227h0M408 169h0M271 216h0M387 182h0M217 142h0M303 279h0M357 275h0M380 238h0M255 204h0M379 119h0M268 135h0M347 228h0M280 171h0M374 239h0M273 84h0M405 244h0M440 234h0M356 274h0M353 123h0M381 144h0M415 125h0M220 267h0M333 145h0M340 294h0M333 297h0M344 165h0M460 207h0M340 74h0M408 204h0M395 234h0M264 321h0M379 159h0M190 194h0M217 183h0M213 115h0M419 241h0M449 150h0M258 316h0M458 161h0M330 304h0M316 224h0M230 123h0M444 161h0M340 275h0M397 120h0M335 117h0M326 265h0M382 109h0M202 203h0M301 294h0M414 212h0M391 213h0M316 87h0M297 116h0M339 169h0M320 66h0M282 75h0M439 188h0M271 187h0M426 167h0M279 181h0M393 200h0M325 80h0M407 232h0M337 102h0M366 239h0M356 99h0M210 233h0M259 85h0M247 85h0M239 263h0M450 204h0M208 151h0M283 248h0M392 276h0M396 126h0M244 170h0M414 114h0M301 231h0M230 228h0M254 229h0M327 71h0M324 177h0M370 194h0M436 179h0M236 295h0M297 67h0M420 159h0M365 256h0M321 86h0M247 263h0M436 146h0M348 93h0M263 332h0M308 185h0M316 250h0M199 139h0M402 175h0M306 186h0M451 140h0M286 274h0M303 276h0M355 89h0M337 208h0M367 271h0M303 285h0M234 153h0M316 178h0M265 208h0M259 92h0M416 238h0M315 100h0M311 254h0M362 171h0M248 178h0M295 138h0M232 157h0M327 229h0M215 209h0M234 263h0M415 120h0M284 246h0M228 110h0M402 102h0M424 180h0M283 76h0M354 286h0M406 201h0M290 194h0M205 159h0M366 277h0M406 123h0M398 89h0M249 143h0M258 315h0M287 333h0M236 307h0M261 230h0M221 147h0M328 129h0M433 127h0M206 241h0M208 199h0M397 240h0M313 205h0M234 102h0M407 134h0M214 295h0M306 315h0M228 158h0M396 85h0M380 102h0M335 77h0M304 188h0M250 292h0M311 206h0M341 242h0M276 304h0M260 141h0M322 131h0M413 118h0M399 241h0M299 119h0M297 318h0M243 157h0M218 251h0M353 236h0M264 218h0M425 147h0M442 180h0M221 173h0M219 165h0M328 247h0M277 259h0M321 252h0M396 111h0M213 116h0M221 271h0M437 220h0M268 337h0M358 277h0M357 78h0M224 224h0M368 143h0M275 175h0M231 227h0M233 148h0M268 202h0M203 163h0M255 313h0M200 120h0M236 136h0M398 224h0M268 231h0M209 238h0M221 246h0M252 331h0M290 205h0M293 157h0M413 175h0M299 106h0M245 87h0M396 276h0M324 282h0M317 160h0M201 156h0M233 183h0M228 105h0M357 286h0M375 101h0M271 161h0M227 151h0M281 321h0M304 208h0M351 286h0M214 144h0M361 179h0M428 186h0M437 186h0M237 252h0M322 279h0M376 151h0M222 251h0M214 102h0M335 89h0M244 92h0M213 198h0M451 157h0M231 132h0M275 127h0M329 229h0M213 229h0M400 258h0M352 179h0M355 201h0M394 227h0M301 190h0M229 310h0M201 125h0M341 167h0M201 155h0M439 149h0M296 149h0M242 191h0M386 256h0M249 161h0M352 107h0M336 79h0M307 244h0M389 181h0M219 148h0M314 299h0M403 184h0M265 109h0M406 233h0M353 80h0M192 167h0M319 186h0M382 69h0M243 204h0M252 311h0M336 269h0M242 241h0M300 297h0M358 71h0M302 213h0M280 223h0M304 140h0M250 117h0M298 152h0M317 178h0M341 241h0M213 263h0M314 211h0M289 178h0M232 278h0M222 283h0M261 184h0M458 166h0M316 280h0M365 112h0M201 203h0M371 289h0M277 234h0M433 206h0M230 159h0M239 204h0M257 227h0M193 147h0M362 102h0M212 258h0M407 210h0M249 147h0M379 103h0M360 206h0M211 146h0M221 97h0M369 248h0M291 252h0M257 148h0M385 217h0M300 298h0M302 167h0M342 95h0M285 318h0M332 211h0M306 101h0M324 85h0M391 155h0M345 182h0M429 225h0M232 131h0M366 80h0M328 201h0M443 165h0M305 71h0M250 174h0M243 218h0M343 221h0M419 136h0M245 103h0M345 251h0M331 205h0M285 107h0M444 161h0M395 209h0M259 201h0M259 84h0M219 270h0M330 174h0M219 93h0M422 210h0M327 155h0M218 209h0M421 223h0M283 178h0M317 91h0M427 202h0M305 96h0M284 262h0M217 279h0M235 272h0M372 118h0M345 201h0M204 280h0M374 76h0M219 148h0M251 238h0M275 322h0M435 146h0M387 119h0M239 215h0M298 94h0M341 221h0M386 224h0M395 252h0M446 223h0M379 133h0M415 134h0M256 256h0M253 305h0M275 162h0M440 156h0M225 273h0M322 175h0M362 259h0M376 280h0M372 211h0M384 96h0M380 244h0M226 305h0M351 196h0M244 174h0M374 169h0M246 147h0M397 230h0M265 217h0M331 223h0M310 322h0M333 250h0M389 82h0M314 115h0M276 324h0M387 145h0M288 268h0M270 176h0M445 163h0M369 173h0M247 154h0M211 175h0M309 145h0M443 138h0M333 226h0M350 285h0M224 227h0M268 312h0M409 225h0M241 311h0M414 180h0M330 118h0M321 153h0M342 220h0M276 145h0M343 291h0M413 244h0M193 219h0M270 232h0M318 144h0M238 82h0M313 286h0M245 190h0M251 99h0M365 140h0M425 214h0M297 309h0M291 137h0M238 132h0M436 210h0M235 130h0M405 139h0M332 92h0M423 211h0M295 326h0M325 306h0M277 284h0M282 126h0M393 182h0M443 238h0M258 326h0M394 263h0M397 114h0M390 104h0M404 89h0M428 246h0M297 90h0M450 186h0M388 208h0M291 125h0M351 122h0M372 129h0M398 275h0M293 165h0M407 180h0M248 265h0M296 220h0M432 200h0M290 175h0M340 157h0M282 196h0M377 110h0M342 287h0M334 232h0M449 231h0M307 167h0M221 174h0M244 188h0M383 268h0M267 78h0M295 242h0M420 153h0M312 84h0M301 185h0M237 123h0M211 261h0M235 283h0M293 279h0M335 80h0M415 245h0M354 123h0M412 267h0M277 260h0M221 117h0M185 193h0M314 248h0M248 326h0M204 133h0M333 181h0M287 98h0M366 275h0M223 236h0M273 201h0M373 300h0M241 270h0M334 128h0M397 121h0M366 195h0M296 139h0M312 162h0M414 166h0M432 189h0M315 178h0M238 284h0M297 171h0M366 210h0M344 285h0M255 150h0M321 93h0M405 192h0M339 282h0M363 170h0M248 121h0M308 324h0M324 106h0M201 143h0M296 254h0M238 142h0M285 182h0M262 185h0M302 139h0M345 228h0M269 276h0M235 129h0M333 309h0M269 265h0M376 242h0M291 78h0M432 186h0M303 310h0M394 113h0M324 264h0M426 122h0M408 255h0M202 230h0M355 181h0M380 173h0M355 263h0M195 152h0M336 133h0M219 303h0M341 171h0M429 189h0M390 142h0M421 158h0M228 104h0M296 103h0M367 133h0M325 242h0M197 217h0M207 240h0M299 257h0M279 158h0M448 192h0M253 142h0M237 112h0M262 77h0M229 171h0M412 222h0M273 136h0M352 156h0M264 97h0M305 80h0M351 313h0M315 303h0M403 233h0M306 264h0M277 312h0M290 169h0M279 169h0M297 87h0M219 259h0M352 97h0M317 165h0M319 211h0M453 192h0M430 242h0M410 175h0M327 124h0M241 116h0M351 245h0M347 237h0M204 182h0M377 254h0M220 119h0M344 231h0M438 173h0M440 195h0M226 211h0M255 239h0M460 202h0M278 191h0M245 251h0M440 206h0M220 272h0M450 158h0M277 218h0M337 76h0M400 245h0M282 180h0M264 104h0M288 228h0M366 81h0M311 310h0M357 298h0M259 195h0M416 194h0M227 284h0M438 206h0M204 146h0M289 188h0M235 110h0M362 129h0M267 242h0M294 298h0M321 137h0M243 111h0M247 96h0M363 93h0M366 244h0M358 110h0M320 78h0M388 183h0M254 252h0M348 217h0M314 144h0M244 289h0M275 238h0M382 244h0M351 182h0M288 188h0M440 239h0M226 223h0M297 292h0M336 266h0M384 163h0M424 218h0M382 178h0M322 249h0M241 301h0M303 285h0M256 273h0M216 123h0M443 145h0M421 246h0M214 222h0M241 220h0M218 98h0M229 149h0M299 328h0M431 142h0M374 292h0M395 168h0M216 290h0M221 150h0M267 149h0M226 133h0M321 310h0M344 210h0M286 77h0M247 149h0M218 118h0M328 245h0M248 247h0M406 218h0M289 224h0M381 90h0M269 111h0M416 107h0M453 226h0M205 154h0M407 242h0M335 279h0M388 257h0M281 134h0M273 285h0M371 176h0M257 182h0M243 205h0M188 194h0M279 92h0M221 137h0M260 244h0M244 311h0M445 152h0M242 144h0M432 122h0M437 174h0M329 292h0M286 286h0M312 216h0M216 281h0M343 113h0M305 124h0M352 240h0M288 223h0M273 194h0M260 102h0M203 189h0M380 278h0M398 107h0M274 189h0M252 307h0M370 135h0M312 128h0M311 112h0M344 200h0M204 271h0M317 215h0M281 92h0M207 190h0M349 216h0M361 277h0M257 102h0M408 91h0M390 164h0M388 258h0M281 154h0M263 156h0M303 127h0M394 141h0M264 179h0M373 269h0M266 199h0M250 257h0M315 292h0M311 113h0M415 108h0M422 139h0M234 128h0M303 241h0M289 152h0M397 126h0M386 240h0M356 193h0M228 240h0M430 128h0M287 188h0M284 323h0M289 297h0M346 158h0M378 127h0M337 198h0M206 154h0M348 128h0M227 140h0M251 224h0M229 90h0M336 71h0M328 257h0M275 220h0M391 260h0M328 273h0M395 184h0M271 96h0M240 286h0M448 214h0M329 285h0M307 179h0M400 150h0M350 133h0M299 308h0M300 305h0M445 157h0M288 261h0M272 289h0M271 305h0M235 268h0M355 258h0M355 217h0M427 146h0M253 299h0M355 212h0M420 110h0M217 277h0M403 233h0M394 130h0M393 54h0M399 48h0M371 77h0M388 60h0M399 47h0M381 76h0M393 55h0M376 76h0M391 53h0M401 47h0M387 60h0M388 55h0M396 51h0M371 72h0M401 50h0M392 66h0M377 70h0M376 68h0M393 64h0M392 58h0M384 78h0M382 65h0M399 49h0M377 77h0M380 71h0M369 68h0M379 76h0M377 66h0M384 56h0M368 76h0M394 51h0M389 62h0M390 67h0M395 54h0M426 104h0M425 98h0M441 93h0M441 93h0M444 86h0M435 96h0M432 95h0M440 98h0M443 93h0M439 95h0M431 96h0M443 91h0M422 105h0M425 97h0M435 97h0M444 89h0M442 93h0M431 106h0M419 107h0M434 95h0M420 90h0M443 96h0M413 101h0M424 93h0M435 93h0M429 101h0M447 90h0M427 93h0M426 106h0M445 87h0M446 92h0M435 119h0M425 133h0M430 117h0M441 90h0M433 119h0M433 121h0M438 104h0M426 130h0M436 101h0M439 99h0M427 124h0"/>
<path id="BB1" transform="scale(.5)" d="M316 67h0M333 72h0M345 70h0M315 71h0M311 77h0M289 80h0M296 80h0M317 77h0M352 75h0M368 72h0M385 78h0M241 83h0M264 80h0M272 84h0M284 82h0M365 81h0M379 87h0M253 87h0M289 86h0M298 88h0M336 85h0M348 89h0M375 86h0M239 85h0M244 90h0M274 90h0M284 83h0M308 92h0M338 89h0M350 90h0M353 92h0M353 89h0M375 92h0M382 95h0M219 91h0M238 96h0M246 94h0M282 95h0M283 93h0M299 96h0M311 95h0M325 95h0M388 95h0M398 94h0M403 99h0M410 91h0M409 96h0M209 97h0M324 99h0M346 100h0M354 95h0M366 98h0M367 96h0M374 99h0M383 96h0M211 106h0M230 104h0M240 104h0M239 99h0M259 106h0M304 102h0M312 102h0M317 107h0M332 104h0M365 98h0M372 102h0M406 103h0M410 108h0M418 106h0M238 107h0M241 105h0M251 109h0M319 108h0M327 106h0M334 105h0M349 105h0M374 109h0M401 106h0M417 104h0M209 112h0M224 109h0M227 111h0M241 108h0M250 107h0M272 108h0M318 118h0M321 113h0M328 113h0M357 110h0M358 106h0M387 111h0M401 114h0M408 111h0M414 107h0M237 119h0M270 118h0M278 114h0M302 113h0M316 119h0M320 117h0M327 117h0M330 113h0M351 113h0M355 117h0M362 116h0M369 118h0M382 110h0M404 118h0M421 115h0M426 115h0M233 122h0M264 119h0M294 117h0M305 120h0M333 119h0M336 115h0M336 120h0M356 122h0M375 118h0M394 123h0M402 121h0M409 120h0M413 120h0M419 116h0M433 120h0M208 126h0M238 127h0M251 126h0M273 123h0M297 122h0M324 122h0M350 125h0M359 125h0M366 120h0M379 126h0M410 123h0M434 124h0M235 135h0M260 133h0M284 130h0M320 127h0M338 127h0M343 131h0M359 127h0M368 129h0M385 129h0M387 129h0M401 124h0M406 125h0M241 132h0M247 133h0M262 131h0M262 131h0M267 133h0M276 135h0M325 131h0M330 128h0M332 135h0M340 133h0M357 135h0M389 132h0M199 133h0M205 139h0M246 138h0M259 137h0M264 139h0M304 137h0M298 134h0M328 137h0M340 136h0M348 137h0M356 136h0M380 138h0M402 134h0M404 138h0M424 136h0M425 137h0M438 139h0M205 143h0M211 143h0M221 143h0M231 139h0M270 141h0M277 143h0M289 142h0M299 142h0M297 139h0M336 141h0M344 141h0M353 140h0M359 144h0M362 136h0M367 143h0M370 138h0M382 137h0M194 150h0M216 141h0M242 148h0M248 141h0M258 144h0M268 147h0M271 148h0M268 144h0M349 148h0M352 147h0M373 147h0M409 143h0M437 145h0M447 143h0M214 150h0M230 151h0M239 151h0M241 147h0M267 145h0M285 153h0M293 151h0M296 156h0M305 147h0M304 146h0M318 147h0M345 150h0M348 152h0M394 149h0M436 151h0M211 152h0M236 156h0M261 154h0M314 157h0M343 152h0M362 148h0M372 156h0M373 152h0M397 157h0M401 154h0M427 153h0M439 158h0M194 156h0M200 154h0M206 155h0M228 159h0M278 158h0M287 160h0M292 157h0M336 161h0M367 156h0M405 157h0M412 158h0M236 162h0M245 159h0M272 164h0M283 160h0M297 161h0M338 157h0M339 161h0M409 164h0M431 158h0M441 163h0M444 162h0M208 169h0M236 168h0M249 167h0M255 163h0M296 164h0M315 166h0M351 167h0M372 167h0M403 165h0M432 169h0M453 161h0M235 173h0M253 169h0M260 165h0M278 164h0M280 167h0M290 170h0M294 169h0M327 167h0M331 172h0M363 175h0M386 170h0M403 169h0M435 169h0M196 177h0M212 175h0M240 178h0M257 171h0M289 169h0M289 173h0M307 176h0M313 174h0M334 175h0M342 170h0M350 177h0M380 177h0M398 173h0M403 169h0M424 175h0M444 174h0M451 171h0M198 178h0M291 183h0M338 177h0M375 177h0M375 178h0M383 184h0M388 176h0M394 175h0M431 182h0M429 177h0M440 179h0M454 182h0M195 182h0M231 182h0M251 180h0M297 186h0M305 186h0M316 183h0M332 183h0M347 183h0M396 186h0M407 184h0M440 183h0M198 188h0M202 188h0M204 185h0M262 179h0M274 185h0M290 187h0M322 186h0M344 184h0M365 185h0M388 187h0M397 184h0M428 187h0M456 187h0M203 188h0M230 190h0M247 191h0M256 193h0M259 193h0M285 193h0M304 190h0M308 194h0M311 189h0M413 187h0M427 192h0M453 188h0M205 194h0M211 192h0M219 193h0M227 192h0M234 192h0M270 194h0M273 190h0M294 197h0M300 194h0M309 198h0M317 194h0M329 198h0M361 193h0M376 199h0M395 196h0M412 191h0M424 189h0M210 200h0M217 199h0M219 201h0M234 198h0M304 202h0M302 201h0M305 197h0M318 195h0M340 204h0M400 199h0M453 203h0M193 201h0M200 202h0M227 202h0M233 198h0M250 201h0M269 199h0M268 200h0M283 205h0M304 201h0M331 204h0M353 209h0M359 206h0M377 203h0M407 206h0M408 208h0M430 204h0M441 203h0M193 208h0M217 210h0M236 211h0M239 210h0M245 208h0M258 211h0M271 205h0M276 208h0M327 206h0M372 208h0M379 209h0M410 207h0M415 211h0M426 209h0M438 205h0M451 206h0M455 209h0M194 206h0M209 210h0M256 210h0M309 208h0M389 212h0M398 209h0M406 217h0M443 213h0M197 217h0M204 214h0M208 217h0M237 219h0M266 219h0M283 217h0M292 212h0M299 212h0M307 214h0M337 216h0M358 224h0M367 217h0M396 213h0M421 213h0M436 214h0M447 214h0M210 220h0M227 225h0M252 222h0M266 217h0M315 224h0M316 217h0M331 221h0M337 220h0M378 218h0M403 222h0M416 219h0M430 218h0M436 223h0M458 219h0M198 225h0M200 224h0M213 229h0M220 222h0M231 224h0M242 228h0M261 225h0M309 220h0M315 224h0M330 223h0M331 224h0M356 226h0M383 229h0M381 226h0M402 228h0M428 226h0M440 223h0M185 229h0M195 233h0M213 230h0M214 232h0M219 233h0M231 230h0M241 226h0M239 227h0M254 229h0M288 228h0M333 227h0M353 233h0M367 226h0M388 231h0M406 228h0M407 231h0M421 229h0M424 229h0M198 234h0M214 234h0M255 232h0M258 235h0M289 228h0M301 236h0M317 231h0M330 237h0M330 234h0M360 238h0M360 235h0M385 231h0M419 233h0M418 234h0M225 237h0M240 233h0M264 240h0M280 240h0M282 237h0M308 234h0M339 242h0M426 233h0M428 239h0M429 242h0M438 238h0M443 235h0M197 246h0M212 243h0M241 242h0M249 244h0M264 245h0M309 243h0M313 236h0M319 242h0M360 240h0M373 243h0M378 244h0M390 243h0M397 241h0M406 244h0M222 245h0M236 242h0M243 244h0M248 248h0M252 246h0M256 249h0M302 248h0M326 247h0M338 250h0M353 249h0M405 246h0M403 246h0M409 247h0M420 242h0M440 249h0M199 255h0M217 251h0M255 247h0M256 253h0M265 254h0M270 247h0M287 251h0M288 247h0M294 248h0M319 250h0M315 248h0M321 247h0M321 247h0M342 246h0M346 248h0M355 251h0M362 246h0M373 248h0M378 253h0M381 250h0M394 250h0M402 252h0M423 251h0M429 251h0M207 255h0M212 253h0M220 252h0M235 257h0M292 252h0M295 253h0M302 255h0M326 251h0M356 258h0M383 256h0M427 256h0M208 259h0M215 255h0M218 259h0M232 255h0M238 256h0M247 259h0M289 262h0M303 254h0M311 258h0M351 260h0M356 256h0M370 252h0M385 259h0M417 257h0M218 261h0M243 260h0M245 269h0M265 260h0M281 264h0M294 264h0M297 264h0M305 262h0M316 267h0M345 262h0M347 267h0M357 263h0M409 261h0M424 260h0M215 267h0M261 267h0M270 268h0M285 268h0M314 269h0M334 269h0M356 268h0M366 270h0M376 261h0M388 267h0M401 268h0M417 266h0M206 270h0M232 270h0M234 271h0M235 268h0M263 269h0M314 269h0M342 268h0M383 273h0M384 274h0M404 267h0M216 280h0M222 272h0M286 277h0M291 272h0M303 272h0M319 273h0M324 274h0M334 273h0M330 275h0M354 273h0M380 276h0M401 276h0M256 280h0M265 286h0M278 278h0M281 282h0M287 279h0M318 277h0M360 281h0M375 281h0M391 282h0M215 280h0M230 285h0M261 275h0M260 282h0M276 279h0M284 286h0M335 283h0M335 288h0M355 285h0M385 282h0M209 292h0M267 283h0M297 291h0M322 292h0M326 287h0M341 287h0M342 285h0M347 293h0M250 287h0M275 299h0M314 291h0M339 294h0M355 293h0M368 290h0M222 297h0M223 301h0M226 299h0M232 300h0M240 295h0M248 296h0M249 294h0M289 294h0M291 298h0M300 299h0M302 294h0M324 295h0M339 301h0M339 299h0M352 297h0M223 300h0M220 300h0M229 294h0M255 300h0M324 304h0M328 300h0M338 300h0M355 302h0M225 302h0M247 305h0M240 304h0M277 301h0M287 305h0M293 303h0M347 299h0M263 308h0M270 309h0M278 306h0M282 308h0M299 308h0M312 310h0M230 312h0M246 314h0M249 310h0M256 317h0M267 308h0M289 315h0M307 310h0M332 308h0M229 317h0M234 319h0M250 317h0M288 318h0M317 318h0M252 319h0M252 323h0M263 319h0M273 318h0M287 323h0M298 318h0M258 323h0M288 322h0M291 330h0M286 333h0M202 194h0M361 291h0M370 249h0M230 275h0M304 229h0M322 283h0M240 178h0M272 288h0M263 337h0M388 240h0M268 199h0M293 119h0M225 107h0M269 172h0M374 85h0M407 131h0M272 142h0M293 306h0M405 90h0M314 67h0M396 181h0M337 255h0M233 163h0M263 328h0M246 239h0M212 154h0M229 85h0M266 256h0M255 143h0M384 162h0M325 67h0M341 197h0M356 259h0M217 275h0M348 145h0M385 73h0M267 328h0M433 137h0M197 171h0M410 206h0M239 270h0M232 160h0M240 296h0M438 248h0M372 281h0M208 137h0M227 113h0M326 178h0M199 136h0M334 116h0M401 269h0M216 257h0M244 239h0M247 233h0M381 120h0M369 126h0M412 148h0M202 238h0M332 162h0M304 198h0M323 234h0M194 151h0M370 86h0M232 147h0M414 106h0M229 87h0M407 224h0M197 176h0M247 132h0M372 157h0M314 74h0M242 154h0M304 287h0M233 281h0M276 106h0M318 268h0M235 231h0M278 190h0M331 271h0M396 252h0M282 172h0M346 212h0M448 148h0M412 262h0M287 275h0M197 198h0M334 200h0M285 153h0M343 173h0M392 143h0M297 212h0M292 121h0M332 288h0M302 283h0M237 234h0M417 210h0M329 307h0M275 210h0M308 238h0M259 205h0M363 217h0M289 196h0M365 116h0M377 170h0M207 268h0M281 172h0M255 159h0M233 100h0M256 192h0M219 150h0M274 142h0M388 255h0M241 253h0M266 165h0M237 265h0M239 308h0M365 98h0M351 213h0M332 155h0M292 185h0M392 227h0M292 179h0M242 193h0M284 241h0M249 130h0M244 233h0M328 312h0M263 232h0M391 170h0M333 215h0M407 253h0M383 214h0M315 212h0M327 312h0M275 86h0M390 126h0M292 186h0M237 167h0M311 231h0M291 159h0M421 271h0M412 234h0M243 120h0M401 106h0M227 241h0M237 171h0M207 106h0M379 173h0M305 155h0M275 252h0M391 94h0M354 104h0M278 234h0M267 181h0M291 86h0M305 101h0M443 171h0M434 121h0M356 195h0M280 244h0M365 146h0M307 83h0M291 107h0M446 218h0M435 199h0M272 241h0M253 226h0M221 212h0M260 287h0M262 233h0M325 224h0M298 316h0M224 282h0M249 196h0M435 180h0M231 259h0M382 129h0M249 250h0M321 113h0M266 156h0M242 171h0M452 155h0M224 159h0M313 162h0M350 207h0M233 129h0M264 159h0M374 237h0M438 172h0M337 293h0M287 265h0M352 260h0M248 130h0M453 155h0M316 290h0M350 267h0M400 98h0M364 111h0M274 160h0M286 206h0M439 180h0M262 205h0M281 229h0M371 214h0M398 110h0M378 222h0M395 225h0M257 121h0M411 111h0M315 305h0M352 270h0M354 126h0M368 269h0M418 119h0M193 181h0M234 115h0M231 288h0M248 134h0M227 126h0M293 291h0M206 196h0M244 133h0M259 318h0M327 150h0M432 166h0M266 120h0M389 88h0M413 127h0M347 260h0M306 113h0M288 116h0M332 136h0M264 124h0M370 216h0M361 94h0M259 151h0M415 124h0M408 105h0M229 169h0M352 93h0M236 230h0M398 258h0M421 236h0M328 116h0M362 81h0M279 306h0M319 91h0M387 200h0M405 180h0M388 102h0M277 256h0M429 122h0M341 269h0M299 272h0M461 214h0M252 315h0M304 313h0M370 177h0M455 174h0M242 92h0M199 188h0M403 115h0M245 158h0M251 126h0M422 184h0M418 246h0M328 260h0M303 194h0M244 293h0M340 200h0M344 112h0M386 129h0M207 157h0M301 249h0M400 100h0M323 290h0M337 72h0M226 130h0M218 146h0M241 131h0M289 103h0M415 238h0M388 177h0M418 185h0M336 252h0M327 81h0M233 284h0M436 210h0M322 135h0M368 265h0M316 231h0M227 126h0M320 159h0M335 124h0M341 174h0M261 303h0M320 326h0M320 169h0M335 192h0M396 158h0M323 286h0M317 81h0M282 94h0M224 129h0M218 150h0M330 110h0M378 103h0M254 246h0M309 83h0M293 151h0M189 135h0M328 235h0M228 269h0M415 125h0M252 228h0M208 118h0M391 264h0M240 224h0M369 237h0M381 252h0M258 232h0M244 164h0M252 224h0M265 82h0M277 138h0M190 143h0M381 264h0M248 186h0M379 136h0M267 165h0M311 199h0M291 147h0M226 114h0M273 319h0M208 178h0M279 74h0M281 146h0M349 140h0M356 99h0M303 161h0M345 257h0M311 123h0M299 260h0M413 113h0M300 311h0M351 97h0M389 267h0M438 238h0M351 165h0M363 69h0M253 280h0M307 210h0M342 278h0M349 150h0M413 149h0M407 242h0M233 126h0M312 169h0M350 164h0M338 107h0M423 109h0M391 166h0M340 126h0M335 118h0M383 149h0M242 219h0M262 89h0M215 229h0M285 301h0M199 166h0M395 246h0M421 219h0M269 254h0M311 220h0M320 109h0M239 176h0M413 172h0M259 301h0M278 295h0M270 324h0M237 280h0M303 136h0M396 160h0M314 182h0M287 278h0M263 318h0M273 244h0M397 151h0M264 93h0M215 155h0M216 247h0M335 293h0M337 272h0M415 191h0M396 212h0M339 301h0M235 127h0M350 177h0M340 259h0M425 133h0M209 254h0M342 301h0M274 184h0M300 289h0M415 184h0M214 171h0M286 75h0M232 233h0M280 335h0M247 221h0M348 247h0M219 266h0M343 293h0M269 155h0M242 150h0M215 156h0M350 278h0M288 285h0M364 208h0M343 90h0M331 81h0M422 170h0M288 146h0M336 169h0M333 237h0M356 184h0M325 99h0M234 251h0M245 126h0M440 180h0M225 225h0M254 137h0M335 200h0M422 90h0M293 154h0M341 170h0M239 116h0M319 132h0M348 304h0M342 171h0M412 190h0M260 189h0M255 148h0M347 284h0M313 279h0M308 261h0M289 196h0M424 236h0M376 152h0M274 293h0M332 75h0M351 70h0M377 91h0M398 256h0M430 175h0M412 125h0M219 145h0M358 92h0M312 105h0M300 319h0M254 268h0M393 58h0M372 82h0M386 57h0M370 67h0M388 63h0M381 64h0M389 58h0M383 59h0M381 67h0M386 59h0M393 51h0M383 62h0M382 68h0M377 80h0M400 51h0M396 54h0M385 70h0M393 56h0M390 52h0M398 49h0M432 105h0M444 88h0M451 84h0M422 110h0M422 105h0M443 88h0M428 102h0M432 113h0M435 107h0M438 100h0M438 102h0M440 95h0"/>
<path id="BB2" transform="scale(.5)" d="M277 74h0M291 73h0M306 72h0M325 75h0M272 79h0M279 78h0M285 79h0M313 80h0M320 77h0M374 77h0M377 79h0M381 80h0M284 84h0M291 87h0M368 86h0M383 90h0M242 87h0M259 87h0M348 84h0M362 86h0M361 84h0M372 87h0M396 89h0M236 88h0M251 90h0M258 94h0M282 94h0M293 89h0M308 93h0M330 90h0M326 86h0M342 95h0M401 90h0M229 95h0M278 95h0M301 90h0M335 95h0M356 95h0M382 98h0M231 95h0M245 93h0M257 96h0M260 100h0M271 95h0M273 92h0M279 99h0M307 101h0M314 97h0M335 95h0M339 103h0M401 100h0M259 101h0M264 102h0M338 104h0M338 102h0M344 102h0M367 102h0M394 104h0M218 107h0M229 103h0M266 109h0M276 110h0M297 109h0M306 108h0M385 110h0M421 106h0M210 108h0M232 109h0M243 115h0M271 115h0M274 112h0M292 113h0M326 108h0M336 115h0M366 110h0M378 115h0M222 121h0M223 117h0M269 120h0M278 112h0M283 119h0M406 116h0M408 114h0M414 119h0M433 115h0M205 116h0M215 123h0M223 122h0M235 119h0M262 123h0M285 123h0M286 119h0M299 121h0M346 121h0M345 120h0M377 122h0M381 119h0M414 117h0M432 124h0M216 125h0M227 126h0M240 122h0M258 124h0M265 123h0M300 126h0M314 126h0M325 128h0M330 123h0M375 127h0M438 125h0M206 130h0M226 128h0M246 126h0M272 131h0M281 125h0M302 131h0M305 127h0M336 132h0M372 124h0M417 128h0M200 129h0M224 128h0M229 131h0M303 130h0M320 130h0M354 134h0M360 133h0M365 131h0M375 133h0M373 132h0M381 131h0M394 132h0M406 134h0M412 131h0M435 132h0M208 137h0M216 135h0M227 136h0M256 134h0M266 138h0M314 137h0M318 138h0M322 138h0M387 137h0M399 134h0M419 138h0M429 139h0M441 134h0M242 141h0M243 139h0M247 140h0M247 146h0M320 143h0M326 140h0M388 134h0M397 145h0M400 137h0M401 140h0M425 139h0M377 147h0M410 146h0M423 138h0M432 144h0M430 146h0M447 146h0M201 150h0M211 148h0M218 145h0M235 146h0M260 151h0M278 150h0M291 147h0M331 152h0M372 147h0M395 149h0M430 153h0M446 148h0M256 154h0M275 152h0M302 150h0M353 155h0M375 149h0M415 155h0M416 151h0M424 151h0M448 159h0M221 158h0M243 158h0M252 156h0M264 157h0M388 156h0M445 159h0M199 164h0M228 168h0M291 160h0M325 159h0M350 164h0M385 159h0M390 163h0M399 162h0M437 160h0M201 164h0M209 163h0M219 163h0M240 169h0M266 165h0M297 165h0M329 164h0M345 161h0M355 168h0M391 170h0M403 170h0M453 167h0M208 169h0M227 173h0M234 164h0M266 167h0M283 170h0M339 171h0M350 170h0M349 170h0M375 170h0M411 173h0M426 172h0M200 171h0M233 172h0M247 169h0M285 173h0M301 176h0M350 172h0M363 178h0M377 175h0M440 180h0M443 173h0M452 177h0M203 177h0M216 177h0M225 177h0M224 181h0M239 177h0M242 181h0M263 182h0M264 176h0M267 178h0M292 182h0M342 184h0M353 177h0M363 181h0M442 178h0M456 180h0M218 183h0M248 183h0M254 178h0M339 180h0M354 183h0M370 185h0M427 184h0M436 181h0M230 188h0M247 185h0M269 184h0M278 190h0M292 185h0M315 188h0M329 189h0M339 186h0M347 186h0M380 184h0M452 191h0M198 190h0M266 190h0M266 193h0M308 194h0M330 194h0M330 186h0M364 198h0M402 190h0M421 193h0M443 192h0M260 197h0M298 190h0M335 194h0M349 195h0M382 194h0M384 198h0M416 197h0M432 194h0M447 200h0M192 196h0M236 201h0M272 196h0M270 201h0M286 198h0M311 196h0M332 206h0M332 197h0M365 201h0M370 194h0M228 198h0M240 207h0M263 203h0M266 204h0M295 203h0M311 201h0M343 205h0M346 203h0M423 199h0M421 205h0M450 207h0M208 209h0M250 210h0M310 204h0M322 213h0M355 207h0M370 203h0M382 207h0M420 208h0M435 214h0M441 209h0M446 209h0M270 211h0M320 210h0M323 214h0M329 212h0M344 214h0M422 212h0M220 216h0M224 213h0M259 215h0M263 214h0M281 215h0M290 217h0M326 219h0M371 218h0M399 212h0M426 214h0M433 213h0M204 223h0M222 224h0M298 216h0M322 224h0M358 222h0M401 225h0M448 224h0M202 227h0M277 225h0M345 225h0M362 225h0M387 222h0M399 225h0M413 223h0M195 228h0M259 227h0M278 228h0M293 225h0M342 228h0M376 232h0M379 232h0M391 227h0M437 227h0M444 231h0M208 237h0M217 234h0M231 228h0M251 231h0M272 231h0M283 229h0M313 232h0M330 235h0M338 235h0M348 235h0M365 234h0M437 232h0M447 239h0M196 240h0M194 238h0M242 236h0M271 240h0M285 238h0M308 237h0M345 234h0M357 240h0M374 235h0M387 237h0M196 244h0M230 239h0M251 241h0M262 243h0M284 244h0M362 232h0M409 240h0M203 245h0M215 249h0M229 242h0M335 244h0M359 241h0M395 250h0M209 250h0M236 248h0M287 252h0M358 251h0M376 252h0M208 252h0M273 253h0M280 255h0M306 256h0M332 253h0M335 251h0M346 253h0M347 259h0M362 255h0M376 253h0M396 253h0M208 257h0M298 261h0M311 258h0M333 258h0M372 257h0M380 263h0M391 259h0M403 254h0M408 260h0M421 258h0M208 263h0M360 263h0M402 264h0M414 261h0M207 270h0M209 270h0M248 263h0M274 269h0M334 266h0M364 264h0M239 273h0M253 273h0M301 271h0M346 265h0M352 267h0M395 273h0M407 270h0M226 273h0M252 276h0M260 272h0M311 278h0M332 274h0M331 272h0M358 276h0M387 275h0M217 278h0M222 281h0M312 281h0M324 279h0M356 279h0M356 278h0M388 276h0M234 282h0M267 282h0M349 287h0M223 292h0M271 284h0M311 284h0M327 293h0M357 289h0M384 284h0M246 297h0M255 293h0M260 292h0M271 293h0M286 292h0M308 295h0M332 291h0M356 291h0M369 292h0M240 296h0M244 291h0M277 293h0M281 300h0M286 300h0M310 296h0M362 296h0M369 297h0M232 303h0M237 296h0M255 301h0M271 303h0M272 304h0M279 298h0M311 300h0M313 302h0M314 303h0M343 298h0M348 298h0M226 305h0M249 304h0M255 299h0M262 305h0M303 305h0M308 302h0M316 299h0M355 304h0M250 311h0M317 306h0M334 308h0M350 304h0M276 315h0M292 307h0M298 311h0M302 311h0M320 310h0M316 312h0M245 316h0M248 317h0M256 318h0M268 318h0M294 318h0M261 315h0M275 325h0M275 322h0M308 324h0M308 321h0M261 327h0M290 322h0M302 323h0M249 329h0M258 337h0M423 207h0M225 274h0M231 114h0M261 248h0M202 214h0M385 125h0M215 181h0M223 173h0M334 155h0M395 279h0M228 247h0M288 132h0M232 300h0M347 209h0M216 102h0M327 91h0M203 192h0M296 77h0M273 214h0M237 274h0M426 114h0M291 258h0M236 177h0M396 184h0M278 94h0M248 300h0M231 175h0M221 90h0M347 104h0M222 115h0M233 126h0M285 118h0M303 226h0M410 172h0M257 274h0M310 114h0M434 252h0M300 274h0M266 336h0M349 261h0M395 158h0M345 73h0M384 200h0M371 232h0M289 210h0M315 276h0M360 188h0M292 157h0M257 205h0M234 121h0M305 141h0M274 217h0M423 252h0M256 160h0M256 332h0M272 325h0M399 244h0M216 138h0M381 213h0M425 229h0M352 82h0M355 278h0M209 231h0M349 230h0M296 150h0M259 216h0M248 94h0M324 176h0M213 192h0M298 262h0M306 269h0M309 84h0M341 276h0M390 181h0M434 175h0M371 206h0M372 105h0M204 163h0M297 137h0M256 158h0M210 224h0M336 293h0M441 136h0M315 229h0M214 137h0M434 146h0M263 137h0M220 186h0M309 172h0M197 240h0M327 104h0M430 202h0M188 159h0M281 321h0M340 113h0M234 110h0M246 232h0M420 231h0M293 295h0M416 207h0M312 231h0M362 249h0M310 269h0M201 176h0M412 158h0M265 115h0M301 246h0M254 93h0M361 184h0M292 260h0M374 176h0M362 232h0M377 268h0M353 288h0M356 120h0M415 188h0M356 228h0M289 233h0M332 146h0M240 111h0M344 78h0M350 90h0M385 260h0M425 222h0M325 150h0M383 140h0M316 104h0M295 83h0M438 261h0M298 321h0M338 259h0M247 199h0M240 253h0M377 82h0M287 293h0M229 147h0M385 281h0M215 103h0M243 192h0M250 108h0M241 304h0M336 300h0M329 165h0M330 270h0M279 117h0M407 232h0M346 154h0M217 116h0M361 152h0M342 248h0M297 300h0M358 152h0M326 96h0M325 120h0M266 171h0M374 275h0M425 177h0M340 206h0M245 196h0M417 185h0M313 90h0M233 124h0M241 161h0M300 86h0M266 99h0M250 177h0M367 83h0M320 96h0M376 243h0M254 155h0M270 277h0M307 87h0M410 220h0M333 256h0M389 241h0M327 166h0M401 147h0M391 175h0M231 297h0M256 286h0M325 74h0M371 270h0M220 218h0M352 123h0M188 250h0M279 186h0M427 224h0M291 134h0M335 246h0M237 219h0M316 102h0M273 226h0M232 120h0M347 186h0M212 123h0M276 104h0M252 164h0M248 246h0M224 258h0M417 113h0M382 133h0M222 198h0M350 204h0M354 192h0M352 182h0M343 103h0M439 196h0M224 99h0M323 306h0M275 101h0M454 194h0M214 223h0M240 303h0M272 135h0M364 283h0M391 226h0M219 158h0M328 120h0M438 128h0M259 250h0M226 185h0M238 111h0M253 281h0M267 265h0M269 143h0M260 81h0M292 231h0M267 120h0M269 273h0M312 180h0M423 119h0M200 205h0M278 98h0M273 227h0M360 281h0M412 192h0M250 308h0M225 102h0M342 161h0M292 319h0M408 161h0M301 165h0M214 293h0M254 283h0M337 258h0M209 164h0M254 113h0M342 121h0M327 313h0M266 248h0M269 211h0M214 124h0M308 224h0M380 147h0M356 140h0M366 213h0M376 146h0M298 274h0M449 223h0M290 135h0M262 180h0M345 82h0M250 255h0M342 168h0M260 252h0M325 263h0M302 248h0M289 73h0M279 154h0M351 160h0M286 194h0M430 116h0M237 288h0M231 208h0M351 94h0M273 288h0M425 165h0M372 289h0M262 175h0M285 214h0M222 165h0M388 134h0M387 261h0M239 146h0M275 137h0M199 258h0M352 222h0M243 234h0M232 163h0M253 146h0M446 235h0M449 183h0M363 157h0M396 212h0M337 274h0M326 163h0M347 164h0M431 124h0M289 87h0M203 245h0M344 133h0M390 247h0M271 123h0M304 91h0M438 234h0M267 160h0M347 236h0M381 281h0M337 74h0M390 110h0M317 313h0M429 117h0M266 146h0M358 187h0M354 104h0M225 187h0M311 129h0M303 170h0M216 137h0M291 172h0M335 258h0M341 86h0M271 236h0M332 305h0M213 122h0M295 290h0M400 127h0M441 236h0M325 114h0M223 173h0M244 300h0M294 203h0M230 123h0M275 254h0M327 128h0M316 250h0M313 222h0M360 103h0M241 183h0M288 129h0M264 240h0M307 304h0M408 115h0M392 164h0M409 214h0M356 249h0M275 141h0M367 132h0M291 94h0M239 215h0M221 248h0M235 232h0M265 124h0M368 293h0M381 66h0M383 64h0M377 74h0M393 57h0M387 59h0M382 69h0M373 68h0M382 65h0M379 66h0M385 69h0M401 48h0M366 71h0M370 74h0M420 97h0M442 92h0M436 95h0M426 99h0M435 104h0M435 105h0M433 109h0M440 98h0"/>
<path id="BB3" transform="scale(.5)" d="M293 76h0M315 74h0M336 79h0M348 75h0M321 80h0M336 85h0M319 87h0M229 92h0M273 88h0M283 95h0M339 94h0M300 103h0M374 111h0M410 107h0M293 107h0M303 110h0M346 109h0M407 112h0M315 115h0M340 116h0M346 116h0M246 120h0M282 116h0M325 120h0M198 125h0M290 127h0M304 126h0M276 135h0M304 132h0M212 135h0M347 133h0M253 140h0M309 137h0M390 133h0M400 138h0M234 141h0M293 136h0M325 139h0M373 142h0M409 147h0M217 140h0M298 146h0M321 148h0M405 144h0M277 150h0M383 149h0M242 153h0M272 154h0M281 150h0M298 153h0M245 160h0M329 159h0M379 161h0M298 164h0M376 161h0M390 162h0M450 159h0M194 166h0M243 167h0M266 162h0M300 164h0M345 161h0M378 166h0M417 163h0M218 167h0M243 169h0M304 169h0M317 170h0M373 165h0M213 178h0M345 174h0M259 182h0M299 176h0M318 177h0M407 183h0M433 181h0M354 181h0M450 182h0M232 186h0M238 190h0M269 189h0M362 187h0M369 187h0M417 182h0M213 191h0M237 190h0M295 189h0M316 188h0M375 194h0M394 197h0M455 201h0M392 199h0M418 195h0M358 201h0M386 203h0M393 203h0M300 206h0M397 207h0M427 210h0M200 212h0M267 212h0M306 212h0M353 212h0M418 217h0M247 217h0M319 212h0M396 218h0M257 220h0M275 223h0M362 220h0M412 218h0M302 225h0M201 229h0M288 234h0M296 229h0M321 229h0M358 224h0M366 228h0M376 234h0M404 232h0M413 232h0M209 237h0M229 231h0M250 234h0M284 241h0M389 238h0M233 242h0M341 241h0M214 246h0M264 247h0M370 248h0M414 248h0M206 246h0M216 251h0M222 247h0M385 248h0M437 245h0M262 250h0M265 254h0M430 255h0M344 261h0M400 261h0M214 264h0M224 268h0M319 261h0M387 259h0M230 267h0M268 263h0M280 268h0M296 269h0M326 264h0M398 267h0M208 271h0M206 272h0M294 272h0M329 272h0M371 272h0M212 279h0M261 278h0M326 280h0M370 280h0M389 273h0M238 283h0M337 284h0M357 280h0M377 283h0M379 282h0M360 288h0M236 292h0M244 289h0M324 291h0M321 296h0M268 307h0M279 304h0M331 304h0M339 301h0M236 308h0M264 305h0M278 311h0M304 305h0M315 311h0M241 317h0M240 320h0M246 324h0M280 328h0M271 328h0M352 141h0M265 120h0M398 95h0M356 70h0M349 169h0M255 189h0M213 217h0M265 234h0M350 115h0M277 137h0M261 142h0M333 157h0M208 199h0M297 245h0M326 299h0M374 161h0M394 173h0M242 141h0M440 141h0M357 141h0M298 254h0M402 250h0M371 282h0M339 274h0M429 242h0M262 290h0M355 284h0M427 198h0M446 199h0M285 314h0M336 262h0M330 264h0M333 162h0M277 207h0M344 108h0M445 227h0M332 247h0M303 230h0M307 198h0M306 206h0M389 196h0M336 97h0M262 87h0M243 228h0M399 245h0M395 272h0M440 149h0M257 322h0M349 245h0M326 205h0M233 255h0M363 244h0M402 240h0M277 184h0M261 249h0M254 179h0M458 188h0M333 87h0M198 119h0M302 232h0M388 269h0M425 199h0M447 184h0M360 243h0M431 159h0M348 185h0M286 239h0M289 82h0M316 209h0M383 208h0M263 239h0M426 140h0M211 133h0M246 327h0M291 134h0M376 93h0M227 125h0M207 114h0M301 212h0M239 146h0M276 128h0M436 233h0M232 95h0M387 95h0M287 313h0M270 209h0M284 283h0M354 155h0M387 97h0M392 257h0M320 285h0M309 243h0M313 90h0M332 153h0M238 162h0M237 281h0M371 90h0M337 125h0M205 232h0M352 256h0M452 169h0M334 165h0M333 256h0M308 98h0M258 125h0M349 237h0M218 112h0M395 245h0M350 288h0M187 204h0M369 218h0M304 164h0M330 84h0M373 197h0M290 260h0M439 214h0M258 253h0M394 109h0M244 225h0M196 148h0M243 311h0M259 194h0M382 67h0M391 53h0M369 77h0M444 91h0M446 94h0M433 98h0M440 93h0M432 122h0M438 95h0M436 100h0M439 92h0"/>
<path id="BT0" transform="scale(.5)" d="M374 427h0M408 462h0M400 442h0M398 427h0M381 409h0M396 440h0M370 436h0M394 435h0M364 398h0M387 431h0M372 398h0M399 433h0M365 375h0M392 441h0M409 457h0M390 441h0"/>
<path id="BT1" transform="scale(.5)" d="M401 469h0M376 438h0M360 380h0M380 385h0M344 346h0"/>
<path id="BT2" transform="scale(.5)" d="M382 422h0M350 381h0M397 454h0M353 373h0"/>
<path id="BT3" transform="scale(.5)" d="M395 459h0"/>
<path id="AW0" transform="scale(.5)" d="M72 216h0M142 250h0M117 127h0M131 154h0M106 183h0M30 233h0M75 217h0M82 244h0M95 199h0M112 218h0M148 124h0M83 146h0M148 188h0M141 212h0M193 128h0M90 197h0M87 226h0M67 168h0M113 211h0M105 223h0M179 155h0M131 254h0M146 187h0M81 219h0M140 260h0M65 127h0M77 213h0M140 271h0M116 251h0M56 174h0M160 139h0M40 220h0M134 233h0M184 114h0M124 181h0M146 222h0M107 210h0M55 240h0M122 187h0M50 237h0M84 239h0M145 266h0M137 192h0M153 204h0M185 117h0M170 120h0M139 173h0M84 249h0M170 150h0M116 157h0M124 202h0M38 230h0M162 244h0M154 125h0M180 136h0M82 120h0M168 262h0M103 132h0M166 161h0M89 216h0M110 178h0M107 192h0M113 217h0M42 211h0M164 202h0M60 188h0M108 197h0M173 113h0M137 159h0M140 140h0M65 222h0M70 129h0M95 205h0M188 118h0M30 226h0M73 189h0M140 183h0M95 142h0M146 268h0M81 120h0M163 262h0M41 229h0M145 183h0M149 180h0M169 137h0M160 243h0M157 209h0M89 132h0M156 196h0M69 215h0M111 227h0M69 135h0M164 269h0M44 228h0M47 240h0M120 227h0M133 180h0M141 134h0M73 160h0M107 185h0M167 160h0M183 109h0M159 229h0M133 161h0M109 176h0M173 113h0M121 260h0M148 210h0M158 248h0M165 181h0M131 113h0M197 83h0M161 222h0M105 244h0M183 122h0M131 219h0M110 200h0M141 259h0M53 183h0M90 180h0M156 137h0M41 228h0M42 229h0M140 124h0M150 166h0M142 167h0M135 139h0M147 226h0M140 140h0M149 193h0M136 111h0M97 237h0M88 193h0M148 277h0M119 129h0M140 226h0M128 255h0M29 201h0M125 182h0M111 184h0M69 203h0M156 248h0M111 250h0M197 106h0M80 247h0M189 124h0M145 254h0M80 193h0M96 128h0M138 263h0M94 237h0M142 137h0M138 124h0M122 233h0M155 149h0M115 196h0M154 97h0M118 152h0M135 235h0M163 100h0M62 194h0M153 107h0M72 173h0M165 158h0M148 224h0M101 225h0M149 128h0M45 194h0M94 131h0M178 135h0M164 134h0M91 250h0M107 131h0M47 190h0M165 276h0M27 207h0M102 119h0M162 193h0M85 230h0M144 273h0M165 196h0M188 131h0M117 193h0M196 97h0M166 297h0M134 135h0M76 142h0M167 171h0M121 260h0M51 236h0M96 120h0M65 194h0M139 220h0M81 152h0M61 200h0M157 278h0M147 263h0M98 176h0M135 194h0M72 129h0M131 144h0M78 121h0M63 208h0M135 138h0M129 171h0M147 170h0M173 161h0M118 210h0M106 143h0M99 194h0M51 215h0M110 201h0M41 177h0M151 109h0M85 189h0M65 198h0M120 155h0M18 216h0M125 227h0M166 102h0M79 131h0M155 104h0M60 242h0M100 126h0M91 247h0M120 206h0M192 114h0M88 172h0M33 193h0M70 197h0M165 156h0M138 265h0M76 204h0M42 182h0M103 124h0M181 99h0M98 123h0M97 254h0M148 232h0M170 129h0M94 141h0M124 191h0M186 87h0M147 117h0M107 167h0M148 107h0M67 135h0M143 273h0M145 268h0M81 206h0M119 162h0M188 102h0M37 218h0M127 172h0M89 204h0M140 257h0M101 164h0M186 106h0M67 146h0M161 210h0M76 174h0M150 221h0M119 179h0M131 180h0M126 128h0M103 157h0M85 224h0M56 209h0M121 243h0M154 106h0M93 146h0M43 222h0M33 228h0M48 224h0M22 237h0M48 221h0M32 222h0M60 218h0M23 223h0M28 227h0M50 223h0M51 235h0M25 212h0M31 217h0M51 229h0M21 218h0M31 236h0M15 224h0M51 206h0M49 221h0M42 224h0M42 236h0M33 232h0M65 234h0M30 219h0M30 214h0M40 238h0M53 230h0M48 229h0M39 229h0M26 223h0M48 214h0M37 226h0M52 229h0M67 230h0M48 224h0M50 219h0M45 231h0M19 203h0M54 202h0M43 230h0M81 211h0M63 226h0M68 225h0M45 214h0M28 226h0M73 216h0M53 219h0M46 215h0M37 224h0M51 239h0M80 221h0M17 236h0M42 217h0M46 231h0M29 234h0M19 215h0M46 215h0M45 227h0M40 230h0M65 219h0M55 232h0M62 223h0M42 224h0M32 226h0M52 228h0M59 213h0M68 211h0M78 236h0M54 222h0M71 226h0M41 216h0M47 219h0M54 222h0M38 233h0M47 224h0M44 231h0M81 213h0M36 228h0M16 231h0M51 230h0M28 242h0M29 209h0M48 222h0M54 211h0M49 224h0M60 212h0M35 222h0M23 227h0M41 230h0M50 240h0M22 220h0M22 226h0M37 230h0M65 221h0M24 227h0M51 223h0M40 205h0M35 212h0M29 227h0M71 230h0M59 234h0M37 223h0M57 200h0M59 235h0M43 212h0M31 224h0M76 222h0M28 213h0M50 220h0M21 236h0M30 220h0M47 219h0M44 231h0M44 204h0M37 228h0M39 222h0M56 228h0M55 220h0M42 217h0M36 217h0M65 219h0M36 228h0M50 222h0M70 214h0M31 224h0M50 235h0M66 203h0M40 232h0M20 227h0M28 243h0M33 234h0M49 209h0M63 214h0M44 211h0M46 206h0M71 229h0M41 234h0M58 220h0M81 227h0M42 224h0M30 227h0M34 235h0M48 228h0M48 206h0M35 233h0M31 228h0M41 227h0M66 116h0M101 110h0M101 116h0M94 106h0M159 88h0M135 101h0M181 87h0M78 111h0M113 115h0M169 94h0M170 93h0M164 91h0M199 78h0M132 99h0M154 96h0M144 98h0M174 95h0M174 84h0M188 89h0M133 99h0M205 84h0M69 115h0M158 97h0M92 109h0M173 85h0M154 95h0M95 116h0M144 105h0M89 115h0M105 111h0M177 90h0M115 103h0M164 93h0M180 83h0M105 110h0M190 89h0M153 102h0M100 105h0M110 111h0M180 90h0M104 106h0M158 95h0M114 107h0M163 97h0M75 112h0M73 117h0M177 90h0M74 121h0M79 118h0M149 101h0M164 96h0M162 92h0M137 103h0M88 112h0M104 108h0M158 97h0M165 93h0M102 111h0M150 99h0M194 87h0M172 98h0M71 116h0M109 104h0M124 105h0M144 98h0M178 92h0M179 96h0M118 102h0M148 95h0M105 114h0M107 112h0M137 103h0M135 102h0M164 94h0M195 87h0M132 109h0M128 104h0M165 94h0M85 112h0M191 87h0M76 112h0M127 101h0M114 101h0M194 88h0M178 93h0M128 111h0M190 91h0M125 102h0M97 110h0M87 115h0M163 95h0M122 101h0M123 106h0M175 83h0M145 97h0M107 105h0M104 112h0M129 100h0M121 104h0M169 93h0M114 102h0M133 102h0M166 95h0M115 103h0M124 106h0"/>
<path id="AW1" transform="scale(.5)" d="M168 101h0M115 126h0M153 140h0M154 237h0M15 231h0M116 143h0M117 235h0M44 208h0M127 174h0M129 137h0M139 270h0M112 259h0M139 116h0M106 133h0M142 131h0M143 162h0M141 267h0M115 253h0M161 120h0M145 259h0M147 227h0M75 210h0M38 208h0M22 214h0M159 119h0M104 120h0M100 123h0M85 227h0M91 183h0M75 198h0M136 190h0M99 174h0M76 150h0M100 156h0M92 148h0M134 134h0M89 160h0M65 164h0M73 131h0M73 208h0M176 108h0M182 157h0M88 235h0M99 122h0M90 227h0M46 228h0M64 154h0M132 193h0M107 214h0M141 133h0M122 193h0M182 109h0M46 232h0M130 185h0M71 233h0M164 119h0M164 100h0M71 207h0M160 196h0M97 155h0M154 124h0M64 139h0M121 239h0M125 193h0M100 172h0M148 121h0M143 259h0M184 98h0M166 116h0M174 126h0M103 252h0M131 198h0M155 148h0M123 172h0M136 218h0M90 124h0M177 98h0M118 206h0M72 237h0M101 231h0M53 226h0M145 272h0M133 110h0M185 91h0M51 223h0M148 237h0M36 236h0M158 109h0M160 191h0M114 266h0M99 159h0M151 207h0M171 178h0M34 211h0M101 142h0M70 172h0M102 225h0M143 279h0M165 282h0M89 185h0M64 197h0M138 107h0M89 128h0M147 250h0M19 222h0M93 215h0M159 181h0M92 127h0M163 139h0M122 117h0M100 228h0M128 212h0M66 183h0M63 210h0M56 219h0M60 230h0M64 228h0M42 214h0M71 223h0M58 233h0M36 234h0M56 218h0M41 232h0M49 218h0M41 227h0M45 213h0M28 209h0M70 206h0M82 232h0M42 228h0M53 234h0M44 237h0M52 215h0M33 254h0M76 206h0M51 225h0M35 202h0M46 229h0M45 221h0M21 227h0M80 223h0M32 222h0M45 228h0M34 225h0M93 227h0M29 228h0M48 239h0M72 232h0M59 215h0M38 226h0M29 213h0M58 223h0M40 244h0M42 225h0M46 231h0M60 216h0M40 223h0M39 217h0M36 205h0M50 219h0M29 217h0M47 224h0M46 224h0M98 204h0M31 217h0M49 227h0M74 219h0M51 206h0M43 224h0M52 225h0M75 214h0M36 227h0M12 240h0M59 221h0M22 230h0M61 228h0M70 213h0M64 241h0M55 227h0M140 99h0M72 118h0M118 103h0M76 118h0M130 96h0M128 100h0M140 101h0M111 104h0M153 93h0M75 117h0M172 92h0M86 112h0M100 112h0M127 102h0M149 103h0M151 95h0M188 84h0M89 116h0M100 111h0M100 105h0M147 98h0M183 93h0M103 113h0M178 90h0M152 100h0M164 92h0M146 99h0M116 105h0"/>
<path id="AW2" transform="scale(.5)" d="M129 188h0M168 121h0M100 161h0M65 150h0M99 255h0M156 160h0M176 114h0M54 193h0M123 118h0M117 258h0M83 240h0M114 164h0M124 186h0M58 225h0M99 187h0M141 228h0M32 212h0M140 184h0M52 171h0M131 130h0M155 142h0M115 214h0M189 119h0M122 252h0M73 135h0M167 177h0M144 180h0M119 254h0M77 241h0M73 207h0M98 223h0M168 154h0M116 232h0M96 165h0M96 241h0M133 260h0M157 118h0M49 191h0M125 268h0M168 101h0M155 131h0M166 107h0M178 149h0M150 228h0M97 175h0M101 172h0M70 209h0M46 190h0M87 251h0M124 226h0M81 210h0M115 168h0M72 184h0M73 197h0M131 257h0M75 166h0M143 254h0M96 211h0M109 147h0M52 209h0M125 123h0M131 272h0M171 150h0M75 175h0M81 127h0M110 186h0M104 240h0M72 191h0M191 110h0M164 267h0M56 178h0M132 260h0M152 256h0M37 231h0M138 172h0M88 198h0M67 167h0M114 249h0M126 167h0M132 209h0M141 154h0M138 275h0M71 215h0M113 237h0M47 236h0M85 166h0M155 94h0M19 227h0M51 231h0M68 213h0M73 236h0M44 231h0M62 218h0M56 227h0M31 227h0M63 226h0M49 218h0M66 237h0M62 225h0M13 237h0M105 218h0M62 236h0M76 218h0M49 222h0M27 229h0M27 234h0M67 217h0M35 229h0M20 238h0M62 231h0M71 223h0M52 225h0M49 233h0M51 224h0M49 220h0M44 231h0M83 223h0M50 223h0M38 218h0M34 233h0M31 235h0M55 209h0M154 96h0M114 110h0M161 93h0M131 99h0M135 100h0M142 97h0M178 89h0M145 95h0M197 80h0M160 96h0M111 101h0M182 91h0M151 96h0M200 84h0M86 116h0M139 110h0M191 84h0M100 113h0M199 82h0M70 114h0M114 110h0M140 101h0M158 98h0M144 99h0M183 89h0M156 93h0M73 119h0M117 108h0M177 93h0M110 110h0M82 114h0M107 107h0M78 115h0M171 92h0M196 87h0M73 117h0"/>
<path id="AW3" transform="scale(.5)" d="M162 103h0M104 232h0M49 195h0M153 141h0M113 180h0M176 101h0M104 125h0M161 287h0M158 129h0M103 160h0M24 235h0M54 226h0M57 189h0M158 197h0M139 204h0M132 198h0M113 124h0M98 218h0M170 291h0M69 208h0M186 91h0M87 185h0M160 208h0M59 216h0M48 221h0M38 212h0M92 229h0M42 240h0M47 219h0M45 216h0M10 226h0M35 205h0M31 233h0M22 236h0M94 114h0M178 90h0M170 84h0M83 112h0M114 102h0M81 113h0M175 93h0M144 99h0M168 95h0M160 93h0M158 95h0"/>
<path id="AB0" transform="scale(.5)" d="M269 337h0M243 138h0M427 81h0M349 323h0M322 168h0M457 123h0M443 53h0M363 345h0M324 76h0M264 212h0M281 39h0M249 282h0M485 235h0M472 196h0M281 212h0M464 105h0M423 267h0M390 47h0M272 351h0M182 150h0M267 295h0M421 36h0M277 213h0M355 104h0M238 193h0M352 143h0M190 218h0M306 91h0M324 247h0M446 103h0M165 263h0M400 345h0M349 79h0M226 99h0M266 84h0M459 161h0M432 257h0M339 301h0M280 272h0M310 239h0M381 356h0M334 67h0M287 121h0M422 271h0M398 66h0M243 251h0M210 191h0M477 118h0M343 328h0M451 266h0M262 308h0M456 243h0M302 93h0M298 252h0M322 147h0M256 100h0M241 129h0M274 231h0M493 209h0M459 186h0M294 72h0M444 117h0M270 228h0M220 177h0M363 290h0M227 106h0M300 300h0M341 206h0M394 55h0M432 124h0M371 122h0M401 45h0M411 33h0M391 244h0M313 97h0M200 251h0M448 87h0M396 310h0M261 153h0M201 123h0M407 203h0M342 274h0M380 138h0M338 175h0M456 180h0M402 84h0M388 208h0M242 135h0M349 378h0M362 56h0M380 121h0M449 265h0M335 215h0M318 104h0M353 352h0M338 312h0M310 363h0M216 315h0M303 114h0M241 223h0M274 203h0M210 86h0M307 246h0M372 48h0M430 109h0M310 315h0M310 212h0M415 341h0M383 26h0M195 243h0M382 94h0M251 306h0M474 158h0M415 60h0M379 58h0M281 366h0M235 66h0M481 138h0M190 237h0M366 318h0M324 313h0M432 179h0M354 261h0M333 206h0M409 140h0M341 116h0M228 291h0M374 322h0M469 231h0M451 183h0M218 177h0M464 134h0M361 253h0M425 170h0M418 100h0M214 87h0M400 244h0M301 278h0M269 350h0M464 233h0M383 309h0M456 152h0M390 128h0M453 284h0M370 96h0M440 198h0M328 85h0M181 272h0M361 259h0M345 258h0M194 171h0M445 308h0M253 131h0M192 291h0M483 225h0M426 203h0M221 264h0M281 230h0M371 353h0M405 174h0M421 108h0M176 164h0M392 290h0M325 213h0M271 114h0M461 190h0M459 77h0M419 319h0M403 97h0M417 102h0M194 168h0M214 138h0M430 247h0M453 110h0M409 293h0M426 258h0M421 93h0M274 213h0M212 286h0M371 246h0M421 284h0M203 206h0M250 282h0M263 129h0M404 157h0M337 330h0M259 127h0M240 277h0M201 299h0M420 198h0M380 226h0M326 220h0M230 337h0M433 282h0M342 153h0M217 249h0M312 323h0M204 278h0M196 273h0M242 134h0M316 215h0M397 142h0M347 69h0M430 280h0M404 222h0M293 302h0M323 358h0M375 124h0M253 320h0M323 210h0M210 208h0M372 84h0M356 83h0M322 295h0M203 299h0M269 160h0M192 126h0M270 107h0M256 245h0M276 270h0M404 122h0M362 295h0M271 108h0M174 229h0M282 354h0M433 45h0M264 84h0M345 342h0M274 342h0M407 93h0M330 60h0M182 222h0M315 314h0M260 294h0M306 304h0M365 350h0M432 247h0M284 273h0M194 151h0M334 70h0M463 81h0M340 358h0M333 349h0M190 145h0M432 173h0M186 164h0M188 167h0M215 208h0M218 138h0M376 273h0M505 179h0M311 72h0M363 153h0M167 273h0M384 96h0M433 211h0M273 281h0M362 358h0M209 166h0M232 129h0M283 348h0M238 310h0M345 202h0M295 355h0M303 354h0M279 220h0M262 236h0M283 338h0M349 200h0M276 308h0M321 200h0M276 55h0M368 309h0M323 127h0M296 258h0M199 194h0M210 166h0M282 220h0M369 302h0M207 156h0M272 333h0M363 35h0M307 245h0M329 306h0M373 44h0M311 82h0M450 268h0M215 197h0M361 34h0M428 196h0M270 75h0M448 160h0M273 178h0M477 127h0M190 182h0M454 279h0M158 226h0M217 317h0M227 123h0M209 221h0M418 262h0M209 318h0M345 273h0M363 44h0M491 124h0M229 84h0M371 313h0M378 176h0M411 100h0M461 209h0M355 235h0M322 36h0M427 326h0M348 279h0M377 52h0M207 289h0M290 252h0M356 246h0M283 319h0M347 328h0M363 150h0M421 224h0M392 38h0M192 185h0M457 151h0M226 266h0M226 97h0M184 275h0M449 252h0M283 89h0M253 260h0M294 87h0M420 52h0M401 180h0M431 115h0M439 182h0M436 107h0M230 119h0M415 156h0M421 56h0M377 291h0M265 200h0M341 260h0M320 337h0M368 185h0M363 246h0M278 272h0M344 306h0M262 275h0M238 241h0M367 279h0M360 166h0M216 119h0M394 226h0M251 163h0M354 307h0M486 122h0M421 20h0M309 283h0M224 86h0M413 82h0M218 222h0M263 305h0M279 231h0M436 239h0M468 99h0M288 106h0M251 221h0M382 55h0M233 226h0M433 222h0M166 169h0M263 197h0M239 224h0M266 210h0M275 151h0M360 76h0M360 326h0M428 181h0M416 230h0M295 77h0M389 155h0M268 57h0M319 228h0M197 152h0M387 74h0M403 22h0M238 307h0M380 290h0M423 242h0M308 346h0M439 196h0M457 206h0M482 126h0M273 196h0M290 172h0M476 242h0M389 300h0M326 168h0M396 295h0M389 326h0M192 125h0M212 190h0M156 235h0M283 150h0M304 182h0M314 77h0M423 212h0M213 248h0M449 74h0M182 277h0M345 107h0M218 230h0M397 71h0M241 316h0M311 320h0M450 238h0M234 182h0M200 315h0M467 218h0M251 214h0M257 112h0M402 156h0M191 153h0M364 175h0M424 253h0M331 140h0M392 291h0M345 98h0M210 323h0M421 311h0M236 133h0M337 94h0M351 293h0M416 85h0M174 207h0M490 160h0M418 46h0M231 298h0M242 72h0M343 232h0M237 279h0M259 183h0M415 181h0M485 151h0M317 79h0M322 97h0M471 190h0M359 182h0M274 198h0M385 297h0M266 202h0M447 53h0M302 50h0M431 52h0M291 318h0M280 313h0M326 314h0M366 301h0M282 335h0M343 367h0M310 46h0M406 307h0M202 273h0M227 246h0M243 309h0M372 197h0M262 306h0M269 346h0M212 238h0M491 130h0M190 246h0M312 172h0M346 119h0M373 276h0M349 72h0M474 271h0M238 268h0M388 145h0M335 202h0M301 36h0M323 38h0M426 142h0M341 188h0M347 74h0M362 88h0M372 119h0M220 272h0M299 250h0M265 278h0M458 269h0M252 290h0M186 185h0M325 316h0M248 172h0M433 103h0M237 335h0M414 120h0M427 192h0M258 240h0M170 233h0M478 127h0M242 145h0M174 202h0M210 258h0M231 307h0M424 239h0M421 57h0M383 148h0M466 187h0M380 83h0M472 247h0M251 140h0M306 238h0M275 304h0M312 42h0M256 123h0M348 245h0M455 258h0M408 102h0M192 249h0M284 274h0M359 50h0M345 333h0M301 111h0M436 255h0M231 159h0M285 99h0M270 273h0M423 254h0M440 191h0M331 332h0M225 198h0M271 320h0M290 260h0M330 90h0M464 253h0M329 347h0M253 256h0M339 119h0M469 69h0M378 214h0M392 51h0M376 233h0M316 301h0M213 252h0M248 107h0M349 111h0M176 160h0M436 289h0M433 53h0M424 299h0M254 198h0M232 158h0M456 276h0M392 337h0M215 311h0M474 138h0M203 239h0M434 219h0M343 32h0M433 209h0M247 156h0M272 183h0M224 331h0M418 283h0M379 168h0M262 316h0M463 114h0M367 116h0M374 298h0M348 244h0M435 287h0M299 176h0M459 272h0M286 103h0M239 237h0M243 225h0M194 115h0M276 141h0M342 78h0M185 260h0M212 324h0M485 238h0M225 195h0M236 88h0M453 200h0M332 159h0M240 323h0M367 31h0M385 109h0M277 85h0M457 173h0M324 204h0M287 221h0M205 216h0M324 356h0M361 341h0M478 188h0M260 285h0M290 316h0M278 107h0M300 66h0M282 133h0M341 149h0M183 155h0M363 291h0M178 285h0M262 308h0M406 83h0M275 51h0M460 225h0M181 287h0M313 170h0M213 148h0M490 228h0M433 53h0M388 161h0M254 111h0M365 211h0M168 225h0M299 274h0M457 58h0M469 174h0M471 85h0M289 218h0M327 325h0M356 149h0M280 88h0M315 202h0M348 265h0M325 217h0M388 256h0M244 100h0M476 54h0M263 153h0M244 177h0M405 296h0M255 324h0M158 230h0M348 259h0M389 327h0M324 181h0M369 110h0M268 225h0M310 240h0M393 310h0M311 219h0M416 315h0M250 275h0M361 83h0M305 59h0M205 210h0M216 173h0M229 193h0M404 82h0M223 265h0M240 123h0M240 78h0M384 171h0M212 318h0M300 187h0M413 78h0M309 284h0M288 141h0M402 304h0M401 266h0M478 214h0M242 122h0M228 324h0M223 282h0M437 139h0M388 112h0M268 246h0M462 67h0M346 174h0M327 217h0M282 274h0M465 169h0M348 72h0M402 338h0M433 86h0M302 122h0M450 231h0M400 194h0M200 236h0M387 59h0M194 204h0M287 237h0M416 237h0M392 287h0M198 192h0M319 305h0M416 189h0M375 214h0M352 340h0M215 319h0M280 254h0M380 266h0M364 199h0M265 339h0M384 151h0M310 59h0M244 227h0M393 36h0M363 270h0M259 206h0M489 182h0M280 361h0M480 178h0M185 217h0M265 229h0M398 259h0M344 41h0M416 221h0M370 352h0M439 174h0M244 203h0M203 155h0M411 253h0M402 73h0M401 56h0M326 204h0M331 102h0M195 244h0M175 217h0M351 272h0M274 121h0M383 153h0M401 125h0M496 150h0M306 263h0M476 147h0M479 68h0M412 298h0M431 278h0M400 227h0M317 142h0M276 290h0M207 118h0M184 221h0M444 220h0M424 166h0M286 294h0M431 296h0M496 206h0M261 354h0M245 48h0M385 249h0M288 285h0M191 145h0M378 33h0M307 233h0M404 27h0M278 285h0M446 79h0M475 268h0M355 91h0M425 294h0M299 126h0M332 100h0M273 238h0M271 324h0M331 34h0M268 93h0M372 311h0M379 56h0M370 209h0M417 294h0M468 178h0M406 328h0M246 158h0M323 280h0M389 140h0M401 122h0M345 94h0M341 294h0M358 141h0M477 249h0M411 318h0M435 251h0M310 59h0M351 96h0M460 227h0M274 349h0M287 184h0M480 157h0M423 187h0M203 229h0M241 108h0M327 301h0M357 99h0M411 151h0M314 93h0M310 375h0M405 84h0M378 34h0M399 28h0M351 353h0M379 163h0M211 174h0M327 49h0M263 308h0M248 259h0M422 250h0M257 345h0M371 371h0M385 164h0M334 129h0M240 352h0M240 348h0M205 261h0M189 253h0M252 205h0M297 51h0M216 242h0M397 200h0M339 272h0M241 265h0M278 61h0M224 207h0M441 235h0M456 204h0M393 111h0M239 104h0M285 46h0M247 333h0M423 224h0M205 265h0M383 338h0M476 119h0M191 207h0M286 107h0M230 216h0M289 308h0M432 285h0M374 318h0M240 328h0M439 192h0M331 144h0M283 220h0M391 360h0M232 278h0M245 79h0M357 78h0M367 106h0M354 344h0M259 208h0M206 83h0M366 363h0M436 59h0M324 163h0M278 132h0M397 144h0M413 257h0M420 322h0M220 125h0M309 357h0M402 181h0M229 166h0M338 96h0M385 201h0M383 197h0M166 254h0M351 182h0M410 159h0M378 318h0M373 94h0M312 306h0M312 333h0M421 56h0M311 203h0M246 331h0M427 146h0M245 202h0M313 252h0M468 88h0M267 192h0M402 289h0M395 174h0M276 355h0M313 89h0M418 312h0M463 162h0M457 274h0M324 302h0M284 315h0M324 232h0M202 132h0M317 59h0M274 217h0M260 203h0M391 140h0M351 233h0M174 211h0M270 118h0M288 284h0M256 148h0M477 69h0M461 123h0M203 274h0M416 49h0M402 297h0M372 201h0M492 156h0M349 60h0M301 218h0M279 114h0M176 202h0M330 355h0M342 40h0M433 286h0M248 87h0M465 139h0M223 145h0M180 185h0M340 266h0M219 102h0M409 234h0M283 69h0M354 114h0M294 168h0M391 50h0M389 39h0M447 209h0M460 249h0M386 63h0M239 194h0M268 336h0M325 90h0M248 343h0M392 76h0M476 111h0M410 269h0M270 164h0M418 53h0M333 157h0M471 123h0M365 256h0M170 215h0M466 226h0M373 82h0M220 140h0M339 161h0M305 347h0M489 177h0M464 211h0M268 48h0M377 326h0M220 108h0M331 40h0M212 170h0M406 244h0M210 304h0M238 192h0M284 204h0M277 100h0M478 265h0M297 368h0M354 192h0M419 265h0M486 163h0M199 130h0M400 160h0M386 358h0M385 298h0M246 327h0M443 214h0M450 135h0M358 355h0M306 256h0M412 172h0M233 317h0M366 199h0M327 133h0M248 307h0M456 148h0M213 78h0M367 177h0M362 208h0M330 94h0M391 31h0M350 209h0M224 85h0M409 292h0M346 283h0M307 252h0M463 249h0M366 100h0M271 76h0M446 84h0M403 100h0M503 207h0M240 201h0M390 67h0M374 79h0M453 291h0M245 205h0M345 56h0M198 115h0M248 215h0M271 60h0M324 222h0M483 133h0M362 33h0M174 257h0M250 251h0M255 125h0M366 312h0M333 155h0M449 187h0M303 77h0M301 171h0M316 371h0M474 224h0M303 161h0M431 311h0M304 127h0M486 207h0M359 217h0M227 272h0M315 84h0M225 225h0M480 102h0M246 149h0M331 73h0M395 240h0M301 134h0M182 255h0M282 98h0M288 279h0M288 115h0M324 255h0M200 325h0M345 163h0M334 132h0M393 214h0M266 46h0M210 97h0M362 75h0M191 250h0M443 167h0M314 126h0M346 362h0M331 304h0M323 97h0M393 253h0M336 334h0M452 165h0M436 298h0M340 98h0M337 239h0M348 118h0M335 54h0M442 181h0M193 145h0M424 94h0M278 117h0M181 177h0M349 73h0M260 76h0M408 129h0M432 97h0M432 258h0M396 327h0M283 175h0M407 249h0M271 309h0M462 218h0M267 125h0M418 333h0M325 241h0M423 284h0M302 110h0M212 71h0M253 169h0M358 316h0M310 285h0M206 257h0M277 159h0M392 282h0M266 265h0M300 100h0M230 204h0M169 213h0M301 39h0M366 139h0M231 167h0M228 66h0M247 206h0M407 178h0M374 36h0M442 63h0M321 117h0M331 60h0M405 149h0M240 126h0M386 96h0M428 298h0M479 156h0M314 74h0M363 349h0M230 345h0M222 121h0M301 330h0M180 243h0M358 82h0M369 206h0M381 59h0M241 322h0M314 147h0M171 246h0M342 177h0M431 89h0M400 235h0M446 233h0M183 293h0M289 343h0M274 252h0M369 349h0M225 65h0M388 286h0M367 354h0M390 355h0M337 244h0M440 118h0M454 277h0M191 278h0M425 181h0M372 315h0M290 303h0M368 207h0M436 100h0M433 110h0M264 317h0M222 201h0M259 170h0M466 185h0M164 255h0M418 99h0M368 86h0M169 209h0M246 336h0M226 297h0M244 266h0M277 123h0M228 265h0M328 92h0M219 201h0M199 262h0M379 284h0M249 360h0M409 257h0M365 319h0M315 176h0M407 165h0M342 46h0M342 299h0M178 196h0M447 140h0M339 278h0M200 123h0M381 136h0M181 155h0M419 271h0M327 332h0M323 102h0M209 172h0M385 107h0M474 210h0M316 114h0M250 61h0M302 204h0M222 249h0M384 208h0M189 139h0M278 204h0M450 92h0M379 301h0M454 149h0M299 355h0M243 185h0M448 61h0M464 161h0M290 139h0M258 256h0M275 74h0M457 56h0M407 260h0M410 156h0M339 106h0M252 340h0M250 114h0M279 353h0M399 209h0M448 213h0M309 134h0M449 252h0M255 237h0M198 284h0M375 125h0M262 237h0M356 303h0M272 123h0M231 131h0M226 151h0M286 273h0M267 115h0M403 185h0M394 89h0M291 111h0M237 221h0M192 277h0M259 89h0M281 141h0M483 204h0M477 72h0M287 334h0M253 216h0M263 171h0M315 349h0M339 147h0M403 309h0M176 179h0M276 332h0M363 326h0M289 313h0M167 255h0M271 213h0M354 18h0M328 65h0M293 311h0M467 59h0M271 214h0M347 285h0M310 351h0M356 58h0M457 120h0M361 78h0M203 146h0M285 137h0M445 66h0M178 226h0M370 55h0M373 82h0M259 348h0M256 245h0M344 266h0M272 352h0M284 353h0M236 173h0M395 260h0M209 224h0M330 215h0M347 370h0M345 232h0M376 242h0M267 293h0M401 317h0M298 296h0M247 125h0M380 352h0M382 40h0M374 304h0M336 162h0M345 96h0M277 100h0M404 176h0M266 138h0M244 352h0M369 40h0M324 94h0M357 366h0M345 177h0M411 296h0M452 88h0M414 277h0M278 166h0M326 27h0M435 162h0M263 190h0M467 106h0M327 93h0M290 108h0M456 114h0M313 248h0M295 136h0M368 245h0M375 38h0M379 193h0M299 347h0M406 155h0M448 275h0M357 263h0M259 303h0M353 318h0M406 297h0M369 92h0M358 269h0M470 184h0M460 177h0M169 201h0M324 349h0M403 97h0M328 334h0M427 71h0M227 303h0M233 109h0M408 48h0M232 247h0M361 266h0M335 169h0M319 251h0M305 150h0M360 79h0M312 193h0M394 357h0M417 124h0M322 207h0M398 337h0M225 96h0M327 168h0M391 272h0M298 258h0M355 131h0M274 126h0M355 69h0M337 134h0M421 196h0M418 38h0M373 99h0M362 356h0M270 147h0M369 342h0M357 74h0M438 189h0M286 270h0M242 263h0M195 168h0M371 207h0M483 183h0M408 195h0M423 167h0M466 193h0M279 112h0M308 266h0M232 317h0M384 355h0M478 101h0M233 245h0M405 195h0M445 86h0M275 340h0M387 238h0M243 224h0M337 135h0M408 205h0M396 62h0M457 208h0M308 316h0M277 165h0M241 350h0M191 312h0M383 95h0M346 229h0M335 234h0M285 93h0M207 78h0M359 183h0M252 235h0M192 205h0M448 54h0M224 87h0M406 108h0M411 199h0M198 268h0M342 321h0M362 92h0M232 300h0M341 280h0M219 179h0M401 223h0M185 158h0M361 166h0M399 57h0M329 185h0M184 228h0M357 63h0M385 221h0M238 75h0M322 57h0M361 62h0M489 203h0M327 297h0M257 360h0M294 45h0M191 304h0M467 127h0M319 372h0M200 265h0M317 310h0M308 253h0M449 177h0M270 102h0M417 258h0M437 332h0M388 166h0M215 165h0M291 138h0M209 151h0M261 84h0M252 201h0M449 287h0M299 138h0M215 176h0M473 227h0M243 179h0M323 289h0M469 64h0M256 144h0M374 103h0M271 228h0M261 65h0M361 287h0M282 112h0M208 293h0M394 342h0M482 213h0M283 48h0M187 125h0M434 163h0M403 92h0M293 328h0M330 217h0M444 262h0M274 310h0M440 215h0M305 313h0M281 314h0M456 145h0M381 78h0M312 328h0M257 124h0M251 241h0M241 305h0M313 120h0M402 115h0M193 163h0M248 288h0M295 130h0M471 168h0M296 229h0M367 160h0M276 118h0M311 106h0M302 174h0M472 172h0M392 337h0M200 101h0M249 201h0M268 181h0M259 234h0M328 143h0M272 156h0M340 158h0M458 122h0M372 293h0M252 256h0M298 306h0M430 247h0M352 208h0M217 147h0M304 95h0M306 229h0M300 89h0M243 234h0M446 118h0M244 146h0M259 351h0M356 220h0M261 99h0M227 275h0M403 185h0M357 239h0M286 307h0M297 262h0M297 347h0M341 339h0M340 162h0M374 199h0M443 105h0M411 292h0M297 271h0M255 103h0M238 171h0M251 230h0M482 223h0M245 208h0M409 243h0M275 46h0M314 299h0M247 176h0M324 66h0M184 292h0M394 185h0M339 309h0M478 137h0M360 74h0M381 45h0M310 56h0M160 219h0M285 194h0M271 68h0M424 70h0M430 88h0M391 227h0M207 331h0M470 237h0M309 310h0M282 145h0M348 343h0M490 124h0M332 300h0M282 234h0M380 283h0M370 273h0M283 226h0M210 255h0M446 147h0M435 194h0M422 257h0M236 330h0M303 354h0M374 99h0M227 107h0M263 128h0M440 89h0M254 354h0M267 254h0M314 101h0M177 226h0M444 136h0M419 130h0M308 40h0M352 80h0M244 182h0M437 76h0M283 69h0M405 127h0M371 200h0M317 68h0M243 173h0M219 330h0M373 52h0M399 30h0M215 117h0M408 100h0M484 235h0M407 126h0M345 35h0M452 288h0M334 375h0M241 275h0M341 107h0M286 237h0M383 188h0M367 192h0M302 255h0M184 122h0M312 40h0M343 48h0M185 197h0M378 260h0M387 61h0M335 59h0M233 251h0M390 261h0M307 361h0M443 99h0M446 85h0M300 164h0M301 39h0M191 162h0M367 301h0M423 17h0M347 337h0M435 179h0M392 81h0M323 236h0M466 120h0M257 48h0M268 111h0M389 161h0M249 290h0M358 44h0M321 154h0M407 146h0M198 259h0M293 263h0M188 140h0M323 258h0M340 341h0M410 116h0M321 215h0M217 122h0M206 86h0M317 186h0M331 192h0M310 62h0M371 86h0M278 197h0M172 239h0M207 181h0M273 254h0M214 212h0M435 125h0M288 150h0M417 182h0M211 168h0M314 146h0M461 254h0M314 134h0M433 81h0M455 83h0M286 157h0M209 156h0M380 201h0M275 306h0M188 157h0M305 100h0M456 251h0M315 243h0M302 100h0M328 349h0M349 159h0M305 174h0M322 29h0M436 326h0M379 79h0M486 144h0M297 232h0M345 344h0M315 132h0M191 256h0M375 211h0M370 271h0M349 240h0M414 96h0M273 321h0M407 282h0M374 339h0M214 151h0M212 320h0M449 243h0M421 78h0M319 284h0M393 297h0M363 106h0M371 191h0M327 29h0M290 51h0M200 154h0M459 218h0M457 143h0M215 302h0M271 322h0M478 144h0M474 172h0M252 259h0M258 289h0M341 354h0M357 83h0M287 118h0M343 272h0M161 229h0M281 356h0M244 212h0M384 279h0M354 195h0M223 197h0M297 56h0M379 330h0M362 152h0M424 120h0M465 250h0M453 298h0M457 90h0M345 40h0M335 223h0M360 44h0M412 285h0M211 137h0M339 101h0M291 128h0M315 261h0M384 237h0M263 75h0M180 258h0M218 273h0M476 85h0M496 163h0M423 89h0M319 119h0M413 171h0M327 126h0M190 153h0M349 243h0M307 166h0M463 135h0M291 260h0M217 162h0M377 147h0M354 191h0M184 220h0M465 201h0M395 299h0M361 298h0M490 133h0M384 221h0M368 247h0M243 207h0M374 233h0M292 320h0M244 240h0M405 138h0M395 163h0M316 72h0M371 179h0M176 242h0M386 193h0M417 116h0M467 262h0M188 264h0M216 327h0M403 216h0M246 116h0M260 222h0M315 109h0M441 85h0M250 307h0M231 226h0M429 211h0M288 43h0M430 172h0M492 200h0M321 64h0M487 202h0M331 296h0M332 287h0M315 48h0M310 294h0M244 111h0M331 177h0M429 259h0M412 227h0M237 216h0M373 307h0M317 314h0M349 303h0M375 40h0M264 45h0M333 67h0M230 311h0M179 278h0M265 216h0M214 286h0M356 106h0M281 179h0M386 354h0M300 198h0M391 275h0M463 240h0M329 49h0M275 159h0M319 276h0M259 262h0M348 276h0M250 325h0M300 318h0M303 72h0M426 108h0M358 85h0M256 94h0M257 107h0M390 64h0M303 74h0M303 215h0M411 266h0M395 294h0M480 203h0M430 60h0M381 98h0M381 226h0M225 307h0M354 195h0M324 335h0M312 40h0M314 189h0M191 117h0M313 43h0M216 146h0M173 257h0M414 169h0M250 69h0M361 120h0M314 252h0M275 154h0M316 283h0M202 285h0M343 101h0M198 192h0M490 177h0M363 228h0M311 339h0M309 306h0M215 244h0M363 52h0M283 305h0M293 46h0M275 179h0M269 290h0M273 76h0M225 297h0M288 340h0M304 264h0M350 260h0M464 128h0M336 120h0M380 193h0M381 179h0M317 100h0M276 199h0M423 109h0M249 155h0M240 109h0M335 245h0M452 129h0M460 76h0M423 173h0M235 134h0M231 302h0M406 330h0M364 166h0M300 37h0M324 67h0M422 292h0M378 234h0M251 335h0M298 177h0M267 330h0M432 324h0M303 238h0M285 358h0M439 167h0M443 268h0M343 287h0M367 139h0M434 317h0M250 166h0M243 298h0M196 278h0M321 183h0M314 146h0M352 35h0M473 210h0M276 280h0M223 231h0M353 264h0M194 159h0M172 228h0M376 60h0M170 234h0M286 255h0M417 268h0M332 306h0M426 242h0M467 167h0M349 303h0M455 47h0M235 340h0M480 267h0M396 103h0M282 82h0M307 44h0M366 234h0M261 144h0M217 322h0M414 270h0M424 202h0M283 52h0M283 60h0M238 160h0M233 318h0M235 66h0M457 225h0M419 235h0M166 250h0M286 273h0M240 182h0M279 210h0M314 77h0M229 317h0M345 122h0M377 71h0M333 198h0M294 366h0M258 69h0M335 372h0M439 232h0M229 132h0M351 166h0M237 227h0M424 95h0M378 73h0M327 217h0M209 75h0M297 191h0M216 97h0M262 171h0M397 40h0M377 202h0M251 249h0M367 182h0M262 219h0M442 161h0M308 89h0M323 96h0M504 197h0M434 206h0M401 239h0M327 366h0M261 311h0M206 328h0M496 188h0M360 189h0M388 225h0M319 329h0M425 222h0M405 88h0M358 322h0M458 178h0M366 272h0M179 240h0M332 82h0M200 305h0M292 255h0M319 144h0M352 193h0M321 177h0M186 236h0M214 189h0M301 259h0M276 337h0M167 217h0M474 203h0M432 262h0M204 200h0M253 240h0M282 283h0M209 148h0M351 165h0M318 131h0M480 63h0M464 82h0M219 107h0M281 161h0M190 195h0M331 40h0M355 225h0M340 298h0M252 168h0M355 306h0M390 46h0M474 264h0M356 202h0M430 150h0M395 150h0M400 276h0M401 193h0M247 255h0M430 298h0M226 322h0M321 297h0M283 58h0M343 273h0M342 288h0M417 171h0M478 250h0M302 130h0M380 122h0M450 252h0M311 135h0M271 259h0M470 106h0M289 210h0M320 378h0M348 118h0M381 361h0M302 69h0M189 303h0M299 259h0M256 199h0M307 62h0M374 271h0M477 144h0M196 285h0M407 290h0M370 189h0M420 120h0M416 49h0M397 202h0M260 137h0M299 326h0M167 219h0M220 88h0M278 104h0M207 229h0M286 252h0M292 326h0M260 279h0M203 146h0M320 304h0M362 310h0M498 175h0M245 56h0M313 196h0M443 60h0M239 254h0M459 268h0M346 71h0M198 237h0M201 295h0M182 177h0M261 165h0M426 215h0M352 111h0M472 54h0M328 326h0M318 83h0M356 307h0M411 329h0M351 72h0M311 263h0M367 321h0M454 70h0M296 224h0M294 290h0M398 131h0M319 263h0M238 307h0M325 255h0M394 311h0M388 152h0M198 282h0M284 222h0M358 30h0M493 149h0M360 357h0M333 283h0M339 151h0M354 214h0M203 218h0M469 207h0M465 173h0M392 310h0M421 210h0M427 217h0M463 168h0M482 168h0M298 58h0M299 340h0M422 251h0M328 240h0M304 43h0M460 83h0M390 299h0M326 260h0M172 257h0M336 116h0M413 297h0M296 118h0M451 67h0M471 264h0M381 230h0M357 302h0M432 234h0M461 243h0M252 244h0M265 228h0M313 350h0M341 257h0M329 341h0M338 83h0M374 316h0M194 299h0M416 280h0M396 225h0M349 168h0M247 286h0M342 265h0M377 185h0M256 326h0M377 101h0M318 110h0M326 246h0M298 76h0M295 164h0M271 337h0M298 319h0M459 174h0M276 102h0M225 300h0M260 134h0M345 304h0M342 282h0M436 153h0M398 261h0M175 220h0M360 70h0M346 314h0M413 282h0M342 276h0M321 223h0M330 373h0M190 258h0M208 120h0M300 150h0M465 263h0M216 153h0M366 194h0M191 218h0M410 147h0M214 282h0M334 300h0M472 175h0M411 63h0M272 104h0M303 349h0M489 167h0M360 113h0M374 340h0M416 264h0M495 186h0M286 56h0M313 272h0M402 85h0M363 58h0M426 173h0M325 195h0M285 115h0M321 200h0M382 145h0M360 62h0M328 145h0M271 97h0M243 272h0M472 191h0M401 22h0M423 78h0M492 145h0M369 264h0M230 156h0M397 167h0M421 246h0M323 147h0M409 157h0M225 90h0M372 310h0M235 183h0M331 288h0M206 151h0M175 193h0M475 126h0M209 89h0M447 276h0M402 133h0M242 304h0M417 150h0M318 148h0M306 285h0M232 339h0M386 175h0M355 225h0M364 60h0M259 259h0M279 340h0M279 350h0M222 337h0M288 277h0M283 83h0M195 309h0M261 47h0M251 102h0M239 204h0M339 321h0M274 147h0M396 328h0M300 253h0M335 121h0M457 76h0M231 86h0M269 61h0M280 297h0M428 97h0M190 224h0M183 200h0M330 336h0M247 206h0M302 204h0M206 212h0M458 263h0M221 337h0M377 90h0M230 319h0M336 313h0M429 103h0M252 171h0M365 225h0M184 210h0M372 105h0M296 206h0M499 148h0M391 238h0M335 350h0M476 159h0M415 228h0M258 156h0M237 347h0M450 258h0M423 79h0M378 284h0M320 51h0M310 291h0M387 117h0M446 190h0M349 43h0M324 252h0M176 229h0M471 206h0M252 44h0M255 270h0M469 102h0M401 139h0M237 163h0M220 279h0M342 245h0M181 210h0M267 254h0M422 27h0M448 260h0M319 168h0M327 54h0M367 174h0M266 343h0M344 320h0M419 174h0M249 317h0M345 232h0M233 112h0M278 324h0M217 318h0M280 352h0M296 290h0M292 227h0M378 275h0M439 86h0M463 186h0M256 240h0M228 270h0M318 99h0M381 31h0M376 165h0M398 221h0M338 210h0M355 341h0M402 105h0M350 371h0M458 313h0M236 133h0M203 92h0M362 172h0M414 274h0M477 162h0M409 219h0M405 128h0M366 164h0M426 169h0M362 34h0M429 285h0M225 291h0M370 32h0M291 159h0M470 269h0M245 204h0M493 154h0M291 128h0M378 27h0M217 209h0M322 164h0M438 266h0M237 128h0M308 199h0M344 357h0M397 316h0M232 136h0M396 288h0M212 193h0M258 99h0M447 157h0M312 118h0M289 114h0M222 76h0M423 155h0M375 259h0M451 127h0M380 139h0M270 319h0M240 194h0M400 258h0M364 315h0M463 147h0M446 241h0M371 211h0M252 118h0M380 231h0M211 323h0M180 182h0M400 341h0M303 352h0M306 286h0M308 54h0M256 128h0M360 174h0M328 174h0M246 243h0M187 151h0M442 131h0M210 124h0M430 46h0M386 202h0M382 283h0M437 45h0M451 52h0M223 245h0M291 209h0M379 54h0M273 254h0M402 215h0M214 252h0M214 192h0M381 319h0M374 240h0M254 98h0M346 118h0M282 96h0M332 141h0M327 351h0M425 21h0M286 113h0M219 255h0M491 176h0M406 195h0M363 222h0M382 62h0M216 188h0M251 249h0M252 292h0M206 150h0M266 130h0M318 199h0M451 213h0M202 269h0M397 58h0M325 161h0M293 333h0M503 156h0M212 151h0M278 42h0"/>
<path id="AB1" transform="scale(.5)" d="M257 269h0M478 263h0M236 171h0M299 185h0M168 222h0M235 184h0M358 213h0M384 188h0M457 51h0M244 90h0M408 75h0M427 301h0M255 303h0M270 79h0M450 239h0M420 113h0M346 263h0M375 300h0M433 296h0M179 263h0M305 320h0M376 195h0M321 246h0M389 154h0M307 284h0M197 171h0M359 265h0M182 222h0M265 234h0M320 138h0M326 349h0M371 170h0M236 314h0M419 185h0M416 242h0M424 38h0M464 119h0M373 69h0M467 246h0M291 106h0M400 237h0M473 94h0M354 267h0M432 146h0M446 155h0M367 308h0M359 97h0M423 205h0M262 70h0M348 87h0M287 298h0M193 242h0M327 308h0M299 331h0M261 345h0M313 170h0M348 117h0M246 350h0M364 205h0M349 235h0M198 127h0M245 283h0M251 286h0M286 68h0M319 293h0M360 309h0M443 148h0M408 140h0M247 267h0M310 139h0M481 179h0M290 221h0M471 275h0M373 355h0M285 86h0M207 192h0M452 163h0M391 323h0M416 110h0M206 113h0M433 285h0M389 127h0M489 136h0M450 258h0M209 155h0M195 278h0M427 270h0M434 170h0M200 247h0M314 75h0M424 121h0M472 172h0M341 119h0M427 27h0M195 179h0M480 172h0M392 86h0M363 181h0M409 183h0M385 314h0M454 97h0M357 171h0M373 352h0M401 37h0M289 316h0M370 239h0M218 205h0M483 112h0M351 66h0M248 172h0M224 269h0M293 261h0M302 309h0M288 274h0M424 297h0M442 133h0M335 170h0M386 98h0M255 289h0M299 129h0M264 340h0M224 257h0M286 348h0M411 56h0M339 174h0M215 303h0M399 129h0M343 75h0M341 300h0M423 227h0M205 195h0M382 135h0M267 239h0M421 341h0M495 178h0M436 68h0M384 190h0M291 320h0M372 311h0M380 137h0M411 226h0M430 271h0M237 165h0M379 313h0M416 203h0M350 176h0M175 211h0M221 308h0M196 143h0M472 237h0M280 49h0M311 168h0M424 346h0M345 86h0M418 172h0M243 352h0M480 145h0M461 186h0M254 128h0M318 318h0M254 252h0M368 291h0M490 176h0M376 322h0M376 166h0M329 320h0M425 53h0M299 270h0M231 173h0M315 68h0M390 183h0M165 184h0M258 48h0M318 210h0M267 205h0M429 149h0M463 227h0M342 92h0M189 171h0M437 51h0M429 99h0M378 104h0M422 327h0M254 114h0M302 111h0M259 93h0M445 59h0M215 208h0M171 247h0M256 52h0M287 125h0M478 87h0M323 221h0M272 272h0M233 278h0M346 350h0M209 256h0M238 183h0M379 173h0M265 343h0M441 55h0M365 274h0M443 307h0M436 142h0M364 32h0M398 129h0M282 135h0M408 127h0M445 88h0M219 182h0M281 297h0M267 86h0M439 107h0M252 202h0M445 218h0M395 51h0M192 203h0M443 255h0M416 323h0M356 351h0M492 213h0M280 297h0M390 61h0M307 150h0M330 173h0M368 60h0M289 188h0M479 246h0M266 361h0M358 231h0M385 79h0M253 222h0M164 200h0M353 122h0M238 82h0M296 266h0M370 238h0M338 119h0M332 321h0M408 104h0M303 250h0M403 207h0M287 365h0M476 62h0M295 78h0M401 186h0M229 235h0M347 108h0M258 239h0M394 49h0M328 279h0M431 197h0M287 265h0M312 368h0M191 225h0M373 178h0M217 151h0M302 142h0M351 178h0M212 156h0M341 370h0M370 234h0M447 229h0M276 141h0M454 305h0M320 110h0M236 106h0M487 207h0M235 270h0M402 80h0M430 262h0M419 173h0M339 263h0M279 109h0M429 44h0M498 162h0M192 259h0M262 232h0M385 193h0M282 85h0M348 79h0M279 113h0M367 128h0M222 178h0M198 294h0M342 228h0M474 99h0M455 188h0M319 282h0M318 251h0M407 28h0M373 258h0M407 21h0M473 83h0M252 262h0M416 307h0M187 187h0M216 295h0M370 262h0M266 196h0M217 129h0M256 347h0M184 272h0M297 237h0M206 192h0M235 321h0M410 149h0M186 292h0M391 68h0M241 208h0M488 195h0M207 102h0M292 222h0M329 352h0M399 255h0M306 244h0M220 112h0M477 104h0M207 167h0M429 67h0M328 237h0M346 47h0M270 254h0M465 80h0M365 318h0M350 111h0M239 112h0M332 373h0M356 251h0M468 276h0M451 317h0M372 260h0M182 189h0M256 73h0M393 20h0M369 297h0M260 284h0M211 135h0M286 90h0M361 216h0M367 190h0M227 234h0M420 279h0M419 186h0M265 313h0M308 98h0M175 170h0M418 124h0M171 241h0M437 69h0M352 94h0M354 155h0M219 104h0M320 285h0M416 326h0M298 52h0M229 182h0M390 286h0M431 238h0M475 246h0M380 258h0M287 215h0M211 156h0M225 206h0M367 231h0M356 342h0M428 263h0M316 104h0M307 100h0M297 314h0M244 303h0M304 157h0M487 144h0M215 294h0M465 129h0M429 89h0M170 269h0M331 43h0M306 107h0M337 250h0M328 211h0M389 145h0M170 244h0M295 71h0M417 257h0M203 268h0M320 73h0M429 327h0M427 192h0M418 185h0M353 239h0M485 156h0M394 208h0M333 116h0M296 188h0M257 194h0M349 314h0M441 215h0M198 300h0M328 205h0M246 315h0M265 133h0M430 127h0M367 190h0M300 154h0M348 236h0M438 93h0M248 347h0M441 167h0M444 291h0M272 54h0M347 57h0M212 239h0M428 57h0M253 326h0M252 167h0M332 165h0M483 223h0M218 123h0M386 59h0M428 267h0M281 129h0M266 101h0M352 37h0M294 48h0M299 213h0M357 348h0M402 138h0M248 128h0M388 307h0M369 325h0M408 152h0M229 144h0M430 216h0M319 221h0M492 221h0M403 170h0M326 143h0M351 243h0M454 280h0M266 137h0M402 224h0M467 71h0M457 89h0M470 175h0M314 132h0M356 296h0M308 224h0M236 229h0M321 120h0M471 185h0M423 108h0M283 181h0M268 318h0M315 111h0M312 206h0M393 72h0M314 334h0M334 295h0M404 317h0M473 181h0M323 301h0M309 336h0M462 160h0M244 223h0M432 300h0M314 315h0M412 203h0M221 91h0M300 153h0M265 135h0M278 162h0M318 146h0M432 76h0M388 145h0M226 153h0M313 129h0M263 102h0M389 26h0M245 294h0M349 108h0M395 224h0M246 261h0M350 345h0M447 73h0M450 247h0M485 130h0M390 139h0M476 200h0M276 349h0M376 57h0M378 30h0M347 360h0M251 355h0M439 268h0M176 259h0M252 185h0M441 191h0M273 220h0M407 318h0M379 328h0M379 155h0M269 331h0M332 317h0M374 318h0M451 73h0M393 76h0M284 97h0M268 363h0M199 108h0M345 214h0M258 337h0M438 46h0M222 264h0M201 135h0M362 223h0M325 32h0M458 196h0M258 268h0M443 239h0M411 158h0M184 213h0M343 313h0M379 195h0M305 143h0M267 330h0M306 279h0M476 110h0M252 122h0M419 324h0M352 114h0M197 162h0M385 325h0M228 192h0M302 158h0M377 50h0M333 45h0M228 318h0M437 92h0M374 94h0M194 195h0M425 218h0M263 283h0M345 61h0M288 87h0M436 202h0M382 338h0M476 132h0M348 120h0M462 225h0M251 119h0M205 154h0M299 185h0M379 305h0M211 163h0M402 312h0M267 220h0M261 280h0M293 209h0M454 241h0M440 180h0M229 225h0M366 328h0M363 140h0M433 214h0M197 209h0M418 48h0M373 172h0M206 312h0M236 216h0M271 69h0M262 216h0M310 30h0M259 82h0M230 84h0M440 111h0M416 200h0M407 260h0M319 191h0M364 74h0M279 220h0M379 218h0M403 87h0M176 206h0M406 317h0M212 303h0M377 161h0M221 66h0M494 139h0M219 272h0M388 91h0M380 354h0M442 52h0M365 335h0M359 276h0M456 50h0M399 47h0M262 290h0M334 122h0M411 70h0M406 221h0M366 341h0M254 130h0M244 208h0M287 230h0M313 64h0M345 329h0M389 133h0M266 69h0M272 309h0M392 117h0M314 123h0M375 215h0M389 83h0M315 67h0M414 95h0M367 102h0M197 163h0M163 176h0M300 291h0M332 92h0M482 181h0M374 341h0M273 198h0M295 79h0M349 252h0M258 253h0M222 76h0M292 148h0M421 320h0M231 266h0M397 306h0M162 222h0M265 163h0M269 173h0M216 329h0M447 120h0M294 236h0M218 294h0M375 53h0M421 242h0M472 275h0M391 57h0M426 300h0M283 357h0M339 261h0M370 158h0M165 270h0M307 45h0M416 76h0M305 107h0M400 103h0M168 162h0M231 152h0M218 227h0M344 154h0M168 213h0M412 181h0M425 188h0M384 35h0M417 44h0M216 115h0M360 257h0M217 226h0M296 251h0M432 317h0M363 38h0M229 340h0M292 95h0M321 79h0M443 65h0M368 229h0M171 185h0M376 220h0M370 258h0M181 187h0M204 230h0M401 52h0M399 139h0M323 235h0M468 138h0M283 77h0M381 25h0M462 205h0M236 251h0M288 342h0M275 145h0M374 58h0M362 67h0M406 51h0M387 263h0M442 131h0M199 210h0M353 373h0M406 349h0M226 265h0M346 159h0M354 186h0M329 186h0M317 244h0M350 106h0M390 58h0M249 126h0M330 364h0M251 230h0M482 55h0M475 136h0M320 156h0M299 316h0M444 149h0M393 166h0M476 204h0M316 266h0M293 272h0M361 34h0M424 267h0M223 135h0M304 131h0M252 333h0M291 207h0M319 314h0M204 251h0M334 202h0M306 292h0M239 122h0M200 182h0M293 108h0M419 14h0M356 34h0M233 77h0M277 134h0M197 246h0M242 176h0M445 163h0M195 198h0M437 71h0M198 271h0M428 280h0M347 242h0M351 341h0M462 184h0M409 272h0M319 77h0M311 67h0M464 256h0M353 191h0M344 352h0M317 273h0M452 90h0M219 217h0M217 133h0M360 175h0M434 312h0M402 96h0M469 72h0M275 97h0M325 127h0M312 98h0M250 174h0M246 85h0M349 179h0M201 323h0M298 344h0M180 185h0M348 279h0M267 309h0M332 232h0M342 348h0M262 246h0M311 168h0M359 118h0M441 103h0M408 239h0M479 219h0M272 250h0M236 116h0M328 313h0M309 218h0M270 234h0M295 41h0M233 124h0M421 284h0M310 225h0M365 202h0M228 211h0M401 224h0M210 266h0M221 85h0M239 308h0M460 287h0M340 187h0M251 337h0M194 155h0M294 144h0M262 345h0M343 77h0M353 162h0M194 150h0M435 323h0M411 166h0M365 127h0M357 378h0M416 248h0M398 145h0M234 158h0M257 66h0M377 66h0M353 146h0M330 159h0M302 171h0M299 280h0M435 155h0M456 125h0M430 126h0M434 183h0M266 43h0M200 201h0M393 269h0M405 218h0M276 132h0M432 290h0M385 253h0M363 179h0M478 184h0M285 137h0M313 157h0M357 92h0M458 61h0M387 344h0M452 128h0M208 224h0M196 153h0M365 58h0M407 90h0M313 236h0M279 73h0M170 230h0M466 129h0M331 186h0M316 240h0M352 53h0M312 107h0M392 55h0M279 116h0M464 197h0M441 138h0M244 325h0M454 215h0M385 55h0M313 368h0M271 80h0M356 96h0M186 218h0M475 112h0M332 111h0M311 369h0M283 284h0M418 157h0M356 337h0M327 369h0M469 58h0M359 148h0M286 365h0M419 232h0M372 126h0M305 81h0M184 245h0M313 367h0M469 109h0M319 169h0M372 218h0M340 177h0M265 51h0M371 365h0M422 164h0M415 73h0M278 195h0M374 324h0M210 194h0M478 200h0M276 87h0M190 240h0M384 315h0M399 237h0M225 255h0M316 325h0"/>
<path id="AB2" transform="scale(.5)" d="M471 164h0M385 94h0M209 80h0M373 146h0M492 155h0M175 190h0M271 129h0M293 355h0M441 301h0M328 337h0M460 279h0M200 98h0M427 196h0M268 56h0M477 182h0M248 276h0M383 339h0M440 206h0M475 234h0M371 247h0M400 65h0M282 277h0M416 181h0M310 232h0M362 171h0M380 162h0M408 191h0M359 164h0M288 300h0M237 164h0M259 318h0M362 323h0M427 296h0M391 53h0M267 197h0M267 72h0M408 36h0M317 252h0M393 192h0M441 133h0M277 265h0M255 224h0M348 45h0M381 353h0M383 261h0M373 152h0M217 72h0M379 263h0M303 194h0M228 117h0M193 141h0M264 92h0M358 212h0M259 326h0M216 253h0M392 169h0M377 205h0M172 189h0M213 307h0M417 16h0M269 288h0M395 180h0M411 153h0M372 142h0M255 151h0M244 231h0M394 299h0M271 59h0M180 289h0M451 72h0M341 116h0M393 320h0M386 354h0M479 240h0M477 111h0M211 218h0M290 261h0M334 329h0M347 345h0M301 61h0M265 217h0M384 100h0M382 73h0M302 55h0M439 45h0M467 264h0M220 95h0M217 71h0M276 159h0M315 306h0M315 289h0M199 308h0M347 269h0M476 248h0M211 298h0M350 270h0M363 245h0M432 48h0M227 201h0M162 234h0M240 135h0M431 247h0M333 325h0M318 232h0M361 88h0M234 247h0M309 269h0M366 373h0M434 64h0M284 314h0M316 243h0M382 297h0M178 289h0M394 211h0M335 172h0M394 353h0M189 161h0M369 360h0M433 182h0M361 230h0M350 61h0M316 88h0M397 301h0M180 235h0M365 216h0M300 361h0M374 343h0M344 117h0M220 336h0M331 349h0M206 315h0M344 132h0M213 200h0M360 82h0M343 261h0M417 196h0M459 182h0M238 130h0M327 93h0M201 210h0M388 310h0M224 231h0M389 72h0M332 328h0M419 68h0M234 249h0M383 367h0M430 291h0M465 56h0M471 88h0M415 242h0M330 276h0M311 230h0M223 127h0M284 44h0M429 64h0M283 330h0M341 189h0M239 292h0M353 233h0M430 152h0M173 289h0M456 211h0M448 236h0M403 251h0M277 222h0M418 93h0M311 245h0M310 120h0M403 321h0M194 234h0M293 289h0M394 147h0M284 253h0M338 61h0M381 290h0M300 253h0M183 277h0M446 165h0M426 117h0M472 207h0M270 146h0M373 348h0M268 196h0M442 67h0M356 100h0M240 216h0M382 293h0M292 250h0M352 378h0M221 303h0M267 349h0M241 114h0M351 64h0M462 105h0M397 148h0M338 213h0M320 307h0M299 192h0M180 239h0M223 244h0M289 272h0M254 177h0M172 211h0M276 250h0M330 103h0M451 185h0M482 165h0M441 258h0M206 91h0M278 267h0M391 301h0M246 294h0M342 291h0M367 33h0M212 146h0M234 270h0M477 215h0M426 318h0M401 184h0M396 330h0M434 316h0M463 79h0M226 160h0M435 54h0M308 119h0M317 54h0M233 294h0M465 237h0M419 280h0M359 139h0M194 159h0M344 146h0M283 156h0M406 319h0M444 69h0M336 99h0M350 161h0M465 226h0M239 288h0M477 243h0M322 155h0M396 303h0M270 143h0M302 324h0M223 111h0M271 67h0M415 132h0M314 267h0M342 49h0M358 157h0M275 329h0M452 246h0M213 245h0M352 294h0M300 289h0M338 314h0M431 59h0M449 127h0M228 233h0M226 246h0M315 299h0M445 126h0M375 154h0M333 290h0M348 153h0M474 248h0M402 327h0M344 226h0M264 184h0M460 162h0M244 274h0M432 242h0M450 163h0M400 141h0M200 190h0M412 191h0M300 291h0M388 98h0M233 289h0M472 91h0M246 161h0M456 195h0M312 254h0M395 294h0M248 310h0M273 270h0M295 95h0M285 140h0M257 77h0M473 273h0M319 289h0M304 172h0M338 120h0M419 149h0M406 272h0M303 331h0M276 308h0M361 83h0M471 217h0M489 147h0M437 80h0M455 196h0M331 185h0M415 212h0M199 186h0M361 323h0M341 107h0M420 93h0M410 160h0M430 173h0M353 280h0M367 271h0M323 181h0M232 131h0M464 191h0M371 168h0M186 181h0M381 308h0M330 335h0M419 81h0M438 99h0M302 231h0M283 265h0M465 158h0M176 242h0M284 358h0M458 119h0M447 265h0M382 247h0M313 333h0M326 282h0M296 256h0M325 215h0M316 221h0M413 249h0M450 318h0M175 197h0M344 286h0M467 246h0M207 189h0M321 319h0M415 147h0M362 63h0M459 139h0M221 233h0M235 331h0M237 114h0M383 84h0M317 106h0M352 44h0M337 112h0M471 153h0M458 294h0M473 87h0M361 318h0M189 222h0M423 223h0M416 220h0M343 177h0M410 158h0M320 316h0M489 133h0M299 109h0M384 248h0M375 187h0M320 96h0M379 156h0M391 164h0M246 103h0M194 127h0M292 364h0M370 254h0M394 74h0M366 64h0M255 343h0M317 82h0M360 146h0M285 229h0M470 179h0M366 344h0M330 240h0M456 140h0M347 128h0M239 201h0M255 183h0M435 145h0M338 154h0M183 204h0M473 99h0M451 309h0M426 142h0M405 188h0M320 339h0M173 176h0M193 174h0M292 123h0M429 132h0M475 113h0M392 40h0M306 268h0M328 273h0M258 317h0M175 185h0M210 274h0M366 156h0M352 216h0M444 259h0M417 273h0M188 169h0M235 197h0M323 376h0M274 180h0M258 240h0M361 44h0M226 207h0M469 160h0M241 162h0M377 157h0M270 323h0M185 201h0M260 55h0M378 350h0M175 245h0M494 147h0M247 232h0M318 237h0M332 222h0M429 158h0M313 204h0M313 236h0M342 361h0M402 51h0M402 93h0M407 259h0M372 352h0M252 309h0M455 220h0M423 116h0M201 168h0M442 228h0M400 113h0M326 246h0M418 156h0M383 214h0M388 130h0M414 198h0M272 62h0M200 321h0M350 46h0M246 344h0M364 360h0M251 345h0M253 53h0M465 147h0M242 74h0M272 85h0M308 115h0M398 148h0M233 290h0M414 41h0M194 176h0M495 201h0M281 192h0M344 301h0M443 220h0M286 305h0M407 77h0M369 71h0M263 154h0M210 128h0M247 204h0M202 325h0M486 102h0M278 302h0M351 34h0M405 209h0M436 192h0M423 298h0M405 320h0M405 267h0M343 202h0M358 189h0M400 277h0M270 109h0M238 339h0M306 246h0M466 136h0M252 215h0M355 43h0M364 109h0M284 253h0M301 350h0M304 114h0M272 95h0M391 342h0M434 142h0M414 42h0M491 179h0M454 281h0M415 337h0M180 222h0M409 323h0M386 47h0M373 193h0M289 265h0M242 79h0M177 238h0M436 315h0M306 169h0M379 119h0M327 244h0M202 181h0M270 346h0M506 188h0M245 293h0M178 236h0M316 253h0M273 304h0M380 352h0M250 59h0M247 180h0M213 141h0M249 231h0M361 336h0M389 219h0M383 237h0M223 214h0M170 280h0M319 66h0M212 251h0M300 63h0M302 247h0M391 250h0M336 233h0M181 245h0M425 301h0M195 237h0M355 140h0M328 205h0M245 341h0M412 97h0M277 336h0M460 111h0M318 165h0M236 284h0M418 26h0M349 46h0M439 139h0M415 314h0M405 312h0M396 131h0M421 182h0M402 218h0M284 272h0M390 245h0M455 271h0M335 363h0M292 368h0M370 217h0M373 373h0M364 257h0M383 51h0M267 193h0M348 44h0M245 200h0M360 151h0M282 185h0M266 60h0M322 275h0M346 196h0M225 99h0M381 228h0M274 89h0M464 211h0M338 296h0M347 140h0M258 301h0M387 348h0M225 86h0M266 160h0M286 169h0M361 208h0M356 131h0M285 52h0M466 122h0M246 160h0M451 234h0M444 71h0M285 123h0M468 133h0M210 174h0M287 170h0M415 228h0M354 200h0M322 352h0M359 39h0M490 218h0M347 260h0M330 368h0M453 254h0M274 207h0M189 256h0M255 88h0M170 210h0M217 234h0M431 221h0M455 255h0M405 108h0M266 246h0M374 79h0M301 155h0M230 350h0M444 245h0M343 243h0M338 342h0M257 146h0M441 82h0M254 266h0M203 170h0M413 17h0M450 65h0M393 321h0M280 193h0M251 263h0M466 238h0M376 137h0M325 271h0M390 62h0M473 227h0M309 120h0M411 326h0M380 328h0M348 187h0M408 117h0M455 126h0M271 230h0M370 79h0M303 77h0M363 59h0M236 66h0M412 211h0M380 60h0M320 347h0M183 247h0M421 262h0M383 333h0M308 70h0M328 167h0M288 179h0M314 317h0M359 128h0M288 366h0M335 87h0M416 147h0M291 81h0M434 46h0M355 176h0M252 109h0M334 45h0M267 303h0M382 53h0M172 187h0M354 332h0M394 199h0M385 195h0M358 294h0M406 200h0M388 351h0M271 296h0M328 299h0M435 65h0M219 226h0M243 118h0M193 228h0M259 216h0M351 302h0M437 153h0M184 295h0M247 269h0M198 214h0M348 317h0M416 75h0M197 177h0M364 92h0M409 283h0M485 216h0M424 274h0M295 187h0M185 153h0M267 114h0M431 148h0M277 274h0M469 160h0M386 316h0M204 310h0M361 78h0M406 306h0M288 169h0M295 170h0M205 126h0M205 285h0M333 206h0M233 243h0M322 67h0M432 86h0M359 95h0M234 81h0"/>
<path id="AB3" transform="scale(.5)" d="M212 82h0M368 139h0M311 344h0M340 240h0M194 126h0M454 149h0M223 277h0M216 271h0M395 313h0M419 330h0M393 269h0M406 267h0M231 139h0M427 102h0M445 270h0M433 282h0M403 164h0M360 355h0M197 155h0M213 287h0M244 267h0M322 292h0M413 198h0M387 298h0M447 248h0M425 83h0M399 205h0M317 126h0M355 306h0M439 120h0M354 335h0M215 330h0M402 71h0M228 330h0M436 129h0M451 143h0M415 308h0M451 186h0M324 142h0M364 269h0M233 293h0M275 180h0M413 281h0M345 312h0M331 183h0M308 236h0M189 205h0M441 241h0M393 181h0M239 205h0M354 351h0M419 23h0M366 74h0M292 248h0M262 193h0M348 233h0M425 183h0M168 206h0M429 172h0M291 70h0M359 348h0M237 223h0M497 177h0M274 154h0M372 140h0M424 321h0M389 323h0M461 101h0M296 357h0M202 248h0M326 200h0M340 229h0M287 173h0M276 372h0M291 89h0M434 181h0M448 91h0M245 208h0M320 87h0M203 210h0M308 240h0M178 217h0M208 194h0M369 88h0M379 114h0M445 272h0M369 228h0M350 214h0M202 162h0M416 189h0M430 156h0M284 174h0M348 84h0M427 323h0M429 216h0M481 159h0M169 208h0M239 143h0M374 326h0M406 112h0M372 236h0M311 78h0M413 104h0M332 167h0M459 121h0M384 267h0M288 164h0M194 181h0M370 158h0M260 161h0M349 301h0M197 295h0M356 176h0M217 235h0M185 252h0M195 176h0M354 321h0M379 255h0M470 139h0M289 234h0M249 149h0M216 221h0M318 315h0M274 50h0M436 276h0M287 291h0M174 186h0M395 95h0M325 330h0M412 74h0M293 178h0M429 111h0M472 142h0M347 134h0M210 165h0M212 261h0M195 149h0M358 254h0M189 140h0M395 339h0M490 200h0M340 312h0M327 310h0M378 125h0M389 262h0M301 255h0M369 74h0M379 183h0M414 159h0M501 201h0M304 106h0M325 295h0M404 203h0M217 80h0M423 180h0M397 335h0M409 277h0M218 145h0M323 197h0M421 210h0M196 155h0M187 260h0M260 197h0M276 346h0M174 264h0M269 200h0M416 29h0M273 189h0M305 116h0M221 340h0M457 181h0M387 230h0M316 321h0M376 274h0M298 84h0M351 371h0M252 278h0M405 281h0M372 243h0M217 247h0M395 43h0M442 290h0M252 63h0M382 298h0M259 206h0M292 344h0M261 223h0M177 181h0M424 297h0M470 268h0M363 360h0M392 209h0M413 337h0M286 202h0M313 227h0M374 210h0M401 75h0M300 35h0M339 370h0M390 102h0M384 234h0M404 48h0M290 366h0M494 142h0M295 100h0M399 89h0M172 188h0M258 71h0M390 352h0M361 87h0M427 59h0M267 126h0M460 142h0M218 134h0M423 181h0M392 192h0M411 54h0M207 88h0M257 294h0M192 186h0M358 233h0M347 145h0M168 216h0M426 313h0M244 123h0M429 197h0M244 312h0M238 222h0"/>
<path id="AT0" transform="scale(.5)" d="M410 500h0M406 422h0M373 364h0M405 511h0M343 393h0M401 511h0M397 385h0M385 397h0M381 469h0M404 499h0M368 384h0M416 505h0M390 414h0M420 515h0M419 500h0M396 385h0M415 486h0M376 387h0M410 521h0M422 491h0M383 437h0M429 518h0M367 377h0M383 425h0M374 406h0M390 429h0M377 391h0M396 382h0M422 526h0M382 380h0M431 480h0M422 482h0M392 408h0M387 401h0M435 510h0M402 421h0M364 390h0M422 486h0M430 528h0M433 487h0M384 397h0M417 431h0M434 479h0M403 475h0M433 475h0M398 446h0M413 413h0M407 485h0M424 449h0M391 373h0M395 449h0M378 442h0M393 440h0M384 412h0M369 414h0M380 425h0M413 486h0M386 408h0M421 471h0M439 499h0M415 456h0M409 404h0M441 504h0M437 483h0M380 416h0M402 471h0M421 492h0M366 393h0M414 498h0M413 494h0M405 445h0M406 495h0M415 512h0M390 434h0M402 425h0M424 485h0M424 456h0M397 481h0M386 390h0M384 405h0M354 374h0M383 444h0M431 500h0M394 451h0M433 505h0M366 390h0M362 399h0M412 455h0M408 507h0M438 486h0M387 406h0M399 429h0M398 423h0M420 462h0M438 482h0M398 430h0M387 403h0M376 412h0M393 402h0M358 401h0M371 371h0M397 374h0M385 416h0M361 402h0M355 384h0M390 471h0M377 394h0M383 398h0M408 472h0M441 514h0M425 512h0M402 505h0M430 519h0M416 518h0M410 477h0M408 457h0M415 480h0M419 490h0M418 487h0M406 475h0M423 491h0M432 512h0M415 506h0M436 481h0M414 495h0M418 527h0M417 514h0M395 480h0M426 479h0M429 507h0M417 494h0M418 473h0M424 461h0M406 468h0M404 469h0M431 517h0M423 524h0M426 526h0M413 487h0M413 482h0M406 472h0M422 482h0M430 523h0M429 491h0M421 478h0M422 489h0M424 509h0M434 482h0M415 477h0M417 474h0M411 462h0M408 467h0M421 488h0M422 480h0M406 462h0M396 481h0M434 500h0M431 480h0M409 484h0M420 461h0M423 512h0M397 504h0M422 480h0M418 507h0M426 521h0M413 469h0M406 510h0M398 485h0M409 475h0M429 483h0M434 507h0M415 516h0M415 462h0M403 459h0M404 475h0M409 477h0M397 509h0M430 488h0M424 467h0M413 494h0M402 502h0M427 498h0M404 479h0M428 469h0M420 498h0M426 521h0M394 470h0M422 506h0M419 472h0M429 511h0M432 478h0M399 481h0M433 474h0M394 492h0M422 523h0M437 505h0M405 478h0M437 490h0M428 504h0M411 470h0M409 462h0M403 516h0M402 489h0M401 465h0M411 490h0M422 492h0M405 484h0M412 492h0M421 525h0M432 498h0M404 499h0M431 483h0M424 500h0M407 497h0M420 479h0M412 465h0M413 464h0M399 494h0M400 480h0M438 508h0M418 502h0M404 493h0M434 516h0M407 509h0M399 497h0M428 479h0M407 501h0"/>
<path id="AT1" transform="scale(.5)" d="M410 497h0M366 380h0M411 391h0M402 424h0M424 500h0M382 395h0M401 491h0M381 387h0M358 401h0M419 493h0M387 453h0M419 455h0M387 446h0M347 381h0M406 509h0M433 517h0M377 416h0M394 366h0M414 451h0M342 384h0M431 486h0M369 386h0M398 483h0M398 491h0M399 416h0M359 390h0M395 436h0M382 400h0M427 476h0M420 519h0M386 389h0M413 487h0M400 418h0M420 518h0M401 462h0M403 411h0M388 476h0M424 469h0M410 463h0M429 490h0M430 505h0M409 512h0M432 512h0M412 468h0M407 478h0M433 521h0M437 489h0M438 510h0M419 518h0M436 515h0M404 476h0M427 495h0M405 471h0M395 471h0M432 506h0M410 524h0M431 491h0M412 516h0M413 484h0M429 486h0M412 512h0M407 481h0M411 512h0M401 482h0M410 479h0M428 511h0M411 510h0M439 511h0M410 521h0M420 497h0M412 511h0M427 523h0M418 474h0M408 461h0M405 487h0M424 483h0M433 495h0M413 516h0M426 501h0M429 484h0M423 500h0M409 483h0M426 510h0M436 502h0M436 481h0M404 509h0M434 487h0M427 479h0M413 514h0M399 504h0M424 510h0M422 502h0M411 515h0"/>
<path id="AT2" transform="scale(.5)" d="M426 484h0M382 450h0M391 429h0M438 496h0M401 385h0M420 509h0M415 521h0M431 491h0M395 386h0M420 465h0M403 420h0M442 492h0M375 395h0M396 450h0M423 503h0M394 406h0M408 449h0M408 435h0M425 493h0M439 493h0M434 488h0M422 490h0M403 439h0M409 479h0M408 436h0M400 364h0M379 409h0M386 391h0M377 374h0M397 369h0M389 388h0M357 388h0M418 513h0M420 506h0M399 487h0M429 512h0M419 482h0M435 518h0M419 508h0M405 522h0M435 508h0M407 490h0M395 476h0M396 473h0M411 479h0M414 461h0M404 515h0M403 522h0M404 492h0M404 526h0M402 489h0M431 495h0M400 482h0M406 501h0M398 500h0M425 479h0M416 464h0M409 472h0M428 497h0M398 495h0M429 516h0M419 503h0M409 473h0M411 520h0M420 512h0M406 518h0M404 504h0M428 496h0M436 483h0M410 469h0M426 520h0M433 512h0M424 505h0M423 492h0"/>
<path id="AT3" transform="scale(.5)" d="M361 400h0M355 393h0M383 449h0M378 415h0M419 508h0M384 379h0M414 443h0M370 400h0M424 522h0M417 493h0M416 488h0M398 493h0M396 484h0M415 481h0M418 466h0M427 488h0M414 463h0M421 490h0M426 476h0M406 482h0M418 515h0M428 477h0M404 465h0M431 491h0M403 522h0M395 497h0"/>
<path id="HW0" transform="scale(.5)" d="M133 233h0M130 227h0M134 259h0M182 232h0M206 123h0M193 121h0M107 171h0M112 165h0M50 206h0M227 144h0M221 137h0M98 180h0M188 212h0M79 251h0M115 137h0M163 215h0M153 149h0M196 265h0M176 257h0M186 252h0M174 144h0M117 160h0M179 186h0M183 187h0M145 282h0M211 162h0M214 242h0M203 225h0M149 144h0M172 241h0M110 236h0M88 179h0M85 170h0M154 271h0M79 161h0M197 237h0M106 247h0M111 255h0M45 236h0M175 158h0M129 156h0M90 244h0M209 249h0M194 173h0M174 215h0M116 257h0M201 220h0M99 146h0M176 280h0M206 154h0M61 207h0M113 241h0M216 130h0M166 204h0M72 208h0M169 189h0M188 271h0M197 274h0M66 204h0M119 245h0M119 219h0M111 185h0M200 277h0M221 136h0M138 243h0M69 197h0M139 231h0M187 247h0M222 126h0M197 289h0M152 280h0M45 228h0M174 262h0M190 292h0M82 246h0M198 279h0M149 234h0M99 219h0M91 151h0M196 265h0M94 143h0M170 263h0M132 150h0M213 135h0M202 280h0M124 149h0M196 189h0M228 144h0M97 161h0M123 273h0M111 218h0M190 127h0M116 262h0M114 236h0M117 261h0M83 183h0M189 286h0M218 174h0M50 225h0M45 245h0M47 244h0M169 187h0M210 194h0M90 206h0M119 215h0M202 126h0M146 163h0M160 219h0M209 114h0M146 252h0M27 241h0M223 178h0M99 232h0M193 236h0M180 253h0M154 234h0M186 273h0M108 146h0M72 231h0M190 153h0M145 262h0M186 129h0M149 237h0M93 149h0M136 175h0M169 281h0M213 121h0M179 241h0M195 128h0M96 250h0M170 202h0M216 198h0M155 177h0M98 158h0M73 216h0M161 144h0M104 258h0M132 145h0M187 246h0M204 119h0M52 203h0M83 209h0M188 226h0M113 143h0M138 248h0M111 196h0M90 237h0M120 184h0M47 233h0M222 118h0M127 235h0M113 170h0M129 247h0M218 186h0M66 235h0M145 187h0M118 169h0M182 136h0M187 173h0M131 276h0M156 214h0M164 247h0M170 182h0M197 132h0M142 261h0M159 235h0M195 120h0M62 208h0M113 185h0M50 257h0M196 138h0M198 165h0M155 190h0M107 182h0M203 242h0M79 204h0M186 286h0M188 247h0M175 175h0M179 151h0M204 217h0M217 122h0M130 252h0M185 288h0M178 132h0M146 152h0M85 191h0M127 160h0M143 272h0M189 139h0M135 270h0M56 253h0M105 250h0M114 143h0M109 206h0M183 129h0M135 204h0M51 249h0M118 174h0M108 228h0M225 121h0M194 117h0M80 141h0M48 234h0M220 173h0M134 252h0M80 144h0M180 238h0M134 149h0M201 211h0M170 234h0M137 228h0M131 142h0M188 190h0M65 250h0M108 217h0M183 128h0M181 133h0M197 182h0M91 145h0M49 234h0M112 183h0M83 218h0M169 146h0M196 241h0M60 217h0M170 155h0M176 244h0M107 147h0M144 251h0M217 126h0M128 233h0M158 134h0M226 132h0M116 254h0M99 238h0M74 216h0M130 253h0M73 200h0M74 172h0M203 284h0M149 281h0M202 143h0M180 231h0M231 137h0M133 176h0M104 155h0M198 253h0M153 261h0M68 187h0M184 184h0M96 196h0M101 160h0M54 238h0M85 149h0M198 190h0M132 265h0M105 229h0M98 173h0M94 251h0M188 135h0M181 170h0M136 262h0M112 160h0M162 178h0M132 176h0M71 218h0M208 144h0M202 247h0M46 245h0M149 267h0M119 141h0M177 253h0M123 217h0M68 187h0M178 199h0M202 250h0M80 184h0M109 170h0M155 261h0M154 259h0M105 173h0M115 148h0M158 270h0M108 187h0M32 237h0M78 233h0M171 265h0M129 224h0M82 178h0M154 160h0M215 152h0M217 162h0M135 261h0M116 228h0M208 118h0M145 175h0M186 213h0M77 184h0M109 165h0M221 126h0M113 252h0M206 152h0M176 133h0M204 139h0M128 228h0M208 201h0M147 163h0M60 233h0M207 143h0M157 212h0M206 274h0M76 257h0M172 201h0M169 150h0M91 160h0M148 142h0M106 246h0M94 161h0M123 274h0M218 168h0M38 237h0M157 199h0M37 236h0M50 233h0M197 139h0M126 170h0M113 253h0M185 252h0M178 136h0M102 201h0M180 255h0M205 277h0M70 199h0M115 253h0M170 203h0M179 223h0M151 238h0M51 236h0M106 157h0M73 212h0M50 215h0M166 133h0M86 244h0M176 281h0M133 161h0M128 211h0M169 240h0M117 143h0M220 153h0M82 190h0M73 175h0M115 168h0M154 287h0M194 176h0M43 231h0M154 285h0M188 230h0M176 148h0M202 243h0M139 148h0M184 149h0M116 194h0M132 166h0M181 198h0M196 199h0M72 196h0M101 157h0M220 172h0M89 265h0M214 178h0M153 209h0M139 141h0M130 236h0M159 144h0M144 155h0M210 191h0M186 253h0M107 232h0M98 194h0M177 285h0M99 252h0M194 145h0M187 284h0M212 117h0M167 136h0M154 282h0M151 148h0M165 143h0M84 185h0M184 225h0M78 197h0M97 232h0M77 239h0M57 204h0M189 156h0M119 193h0M147 215h0M151 267h0M215 192h0M172 208h0M223 129h0M192 163h0M179 181h0M99 172h0M106 169h0M131 261h0M177 194h0M103 226h0M195 216h0M127 216h0M160 226h0M179 277h0M44 229h0M115 251h0M207 126h0M61 205h0M187 239h0M182 133h0M83 243h0M145 226h0M152 153h0M167 133h0M180 273h0M108 207h0M146 149h0M213 241h0M214 201h0M80 236h0M29 231h0M55 250h0M46 223h0M85 255h0M52 241h0M82 234h0M44 234h0M73 218h0M88 227h0M67 239h0M61 221h0M74 235h0M71 228h0M78 220h0M117 238h0M106 233h0M38 233h0M93 244h0M58 233h0M33 251h0M89 239h0M103 241h0M79 250h0M78 216h0M95 239h0M91 239h0M57 234h0M71 234h0M76 238h0M90 232h0M74 246h0M32 250h0M106 243h0M66 240h0M43 255h0M67 234h0M31 251h0M68 251h0M35 234h0M59 245h0M73 239h0M82 222h0M45 241h0M57 229h0M102 237h0M46 219h0M85 248h0M88 232h0M65 237h0M76 224h0M106 234h0M63 253h0M82 205h0M50 251h0M65 243h0M67 241h0M86 210h0M58 252h0M68 243h0M127 243h0M42 239h0M30 218h0M101 236h0M110 261h0M116 235h0M101 241h0M61 257h0M69 248h0M97 225h0M90 218h0M49 240h0M101 218h0M59 218h0M55 225h0M76 247h0M60 250h0M79 249h0M53 240h0M100 229h0M50 220h0M98 249h0M52 249h0M109 222h0M88 231h0M77 235h0M80 237h0M62 254h0M81 249h0M57 234h0M96 216h0M111 238h0M98 228h0M70 239h0M115 228h0M60 225h0M52 236h0M79 220h0M70 227h0M53 238h0M52 255h0M76 251h0M68 241h0M39 225h0M83 258h0M28 243h0M39 247h0M72 242h0M91 251h0M75 239h0M92 247h0M68 243h0M95 243h0M64 242h0M62 231h0M72 229h0M54 255h0M56 226h0M55 230h0M94 222h0M71 234h0M71 241h0M63 235h0M80 247h0M103 245h0M50 241h0M97 240h0M75 236h0M86 248h0M59 243h0M66 240h0M54 227h0M75 236h0M101 256h0M76 260h0M37 243h0M65 249h0M89 230h0M57 248h0M48 247h0M59 217h0M34 251h0M76 238h0M78 256h0M42 236h0M61 220h0M66 238h0M64 248h0M91 249h0M97 222h0M61 248h0M75 244h0M57 229h0M69 244h0M94 228h0M77 244h0M94 224h0M64 243h0M64 238h0M82 226h0M82 242h0M77 251h0M60 247h0M72 228h0M71 227h0M62 234h0M87 235h0M78 238h0M118 221h0M57 230h0M58 243h0M79 222h0M24 225h0M39 239h0M90 228h0M70 232h0M44 229h0M67 232h0M94 236h0M49 230h0M43 254h0M79 256h0M62 244h0M71 220h0M67 224h0M94 252h0M81 242h0M39 223h0M87 245h0M80 236h0M54 261h0M60 245h0M58 230h0M71 242h0M58 248h0M102 243h0M42 249h0M68 254h0M100 225h0M53 258h0M51 247h0M90 261h0M78 250h0M33 259h0M81 226h0M59 232h0M81 237h0M149 122h0M141 122h0M94 133h0M144 132h0M223 110h0M127 124h0M229 100h0M150 127h0M203 111h0M120 128h0M141 127h0M142 123h0M113 131h0M199 99h0M131 126h0M123 133h0M179 114h0M87 139h0M136 125h0M124 130h0M86 135h0M155 116h0M229 101h0M86 142h0M222 97h0M162 112h0M221 105h0M98 140h0M73 140h0M162 119h0M192 110h0M220 108h0M89 142h0M130 132h0M170 117h0M194 111h0M175 118h0M216 99h0M190 107h0M94 140h0M85 134h0M180 110h0M102 130h0M123 127h0M214 101h0M153 122h0M107 135h0M92 132h0M126 135h0M171 115h0M48 194h0M49 224h0M54 205h0M41 211h0M54 192h0M64 181h0M59 170h0M56 206h0M60 187h0M62 183h0M80 139h0M81 146h0M53 210h0M64 166h0M68 198h0M70 152h0M45 206h0M52 205h0M67 175h0M80 147h0M67 186h0M63 181h0M74 163h0M67 169h0M73 156h0M68 175h0M65 186h0M79 166h0M82 144h0M72 171h0M52 210h0M61 176h0M56 192h0M76 155h0M58 169h0M55 210h0M50 206h0M67 164h0M57 211h0M58 208h0M73 160h0M91 149h0M74 164h0M54 190h0M62 203h0M55 210h0M49 218h0M45 209h0M81 156h0M51 202h0M77 157h0M59 185h0"/>
<path id="HW1" transform="scale(.5)" d="M192 287h0M204 189h0M48 237h0M198 266h0M95 150h0M167 253h0M140 260h0M80 223h0M211 148h0M63 239h0M152 149h0M146 259h0M76 221h0M116 136h0M201 268h0M69 189h0M193 205h0M181 290h0M116 237h0M181 161h0M131 140h0M191 263h0M96 230h0M112 226h0M211 119h0M205 282h0M159 183h0M95 235h0M119 168h0M164 284h0M122 210h0M144 154h0M164 141h0M210 170h0M124 242h0M102 225h0M117 185h0M104 164h0M133 171h0M220 122h0M177 196h0M204 167h0M151 235h0M137 269h0M69 259h0M233 103h0M87 231h0M178 135h0M142 254h0M67 190h0M131 184h0M203 229h0M117 175h0M195 256h0M138 217h0M82 201h0M157 269h0M78 187h0M211 236h0M197 149h0M145 146h0M168 253h0M116 138h0M139 175h0M215 216h0M69 247h0M151 170h0M205 200h0M156 275h0M152 179h0M216 118h0M200 122h0M134 148h0M216 280h0M88 156h0M139 246h0M164 220h0M212 107h0M183 237h0M204 280h0M183 282h0M103 262h0M63 261h0M77 154h0M155 261h0M230 155h0M66 225h0M94 261h0M151 239h0M102 199h0M131 201h0M117 255h0M54 238h0M188 149h0M177 217h0M216 157h0M159 213h0M198 196h0M230 124h0M214 165h0M124 268h0M167 263h0M103 197h0M114 236h0M185 291h0M167 132h0M191 211h0M197 235h0M89 238h0M143 229h0M213 273h0M161 163h0M187 244h0M118 255h0M185 185h0M162 165h0M112 197h0M176 263h0M200 194h0M202 195h0M168 225h0M214 128h0M202 183h0M97 235h0M113 157h0M212 155h0M199 271h0M199 157h0M58 216h0M103 177h0M220 173h0M68 227h0M166 256h0M71 204h0M150 234h0M135 187h0M94 259h0M223 128h0M204 157h0M142 156h0M207 264h0M177 260h0M131 216h0M115 184h0M118 239h0M132 144h0M138 213h0M136 272h0M80 224h0M195 247h0M130 272h0M162 152h0M131 229h0M100 239h0M141 259h0M215 160h0M50 245h0M123 171h0M195 236h0M132 278h0M189 150h0M149 152h0M180 230h0M120 273h0M76 234h0M145 208h0M121 185h0M54 235h0M68 240h0M72 234h0M26 243h0M55 231h0M53 233h0M80 246h0M75 242h0M53 235h0M65 216h0M55 239h0M68 245h0M77 250h0M66 237h0M54 228h0M62 216h0M81 258h0M42 235h0M52 235h0M72 252h0M80 230h0M38 254h0M66 227h0M101 238h0M58 232h0M25 230h0M68 255h0M78 255h0M37 242h0M67 225h0M77 231h0M110 230h0M85 238h0M64 212h0M63 238h0M94 260h0M42 234h0M75 248h0M84 245h0M98 242h0M56 235h0M70 229h0M73 226h0M66 242h0M60 229h0M70 255h0M44 216h0M90 234h0M44 239h0M69 262h0M39 247h0M60 231h0M74 235h0M81 233h0M62 231h0M109 236h0M62 244h0M49 242h0M63 214h0M50 242h0M43 238h0M59 241h0M127 219h0M42 223h0M32 243h0M57 247h0M72 241h0M80 235h0M90 241h0M80 225h0M50 231h0M85 249h0M93 241h0M130 238h0M91 235h0M101 252h0M63 236h0M80 252h0M76 242h0M94 212h0M71 250h0M81 247h0M55 245h0M76 214h0M106 238h0M77 246h0M154 120h0M126 125h0M191 113h0M152 115h0M143 125h0M197 102h0M115 137h0M138 129h0M124 126h0M219 104h0M214 116h0M184 112h0M233 98h0M141 132h0M197 108h0M93 139h0M205 109h0M88 143h0M123 130h0M142 131h0M91 141h0M139 129h0M109 137h0M205 100h0M64 160h0M76 157h0M74 173h0M49 211h0M83 142h0M44 221h0M76 138h0M58 208h0M63 192h0M62 183h0M64 191h0M77 151h0M72 180h0M65 176h0M50 206h0M74 208h0M69 153h0M72 174h0M43 185h0M69 148h0M67 178h0M46 228h0M48 212h0M80 142h0"/>
<path id="HW2" transform="scale(.5)" d="M170 247h0M182 230h0M174 154h0M131 245h0M106 205h0M155 178h0M180 147h0M199 228h0M159 268h0M30 242h0M204 238h0M206 280h0M197 218h0M36 245h0M60 254h0M133 200h0M141 233h0M157 232h0M108 211h0M143 143h0M136 175h0M214 272h0M161 269h0M157 241h0M148 265h0M128 148h0M220 155h0M206 281h0M201 289h0M95 210h0M137 141h0M42 237h0M30 246h0M218 183h0M199 244h0M77 203h0M175 147h0M175 258h0M103 245h0M126 238h0M175 192h0M153 180h0M89 197h0M120 149h0M144 212h0M157 274h0M50 250h0M79 159h0M194 157h0M141 268h0M205 172h0M163 257h0M209 286h0M198 258h0M146 232h0M141 217h0M154 147h0M175 233h0M107 210h0M213 211h0M170 157h0M155 267h0M114 215h0M100 232h0M190 283h0M207 272h0M183 237h0M179 178h0M123 238h0M128 255h0M191 251h0M62 243h0M143 169h0M195 210h0M133 244h0M70 207h0M230 102h0M148 227h0M67 195h0M64 229h0M67 221h0M200 167h0M168 140h0M93 232h0M103 181h0M79 231h0M140 250h0M160 163h0M206 212h0M108 209h0M61 248h0M209 136h0M70 190h0M184 283h0M127 232h0M175 191h0M214 115h0M215 134h0M166 144h0M101 164h0M153 223h0M149 265h0M199 239h0M189 241h0M185 168h0M82 206h0M37 243h0M203 270h0M165 250h0M216 161h0M208 258h0M202 170h0M179 129h0M130 262h0M131 267h0M122 189h0M192 251h0M97 180h0M128 232h0M64 211h0M109 164h0M102 206h0M133 158h0M136 177h0M220 150h0M167 166h0M172 292h0M147 225h0M194 250h0M132 163h0M158 252h0M79 239h0M103 242h0M88 242h0M63 223h0M69 232h0M78 244h0M39 253h0M62 221h0M45 251h0M53 254h0M62 241h0M69 240h0M73 245h0M44 233h0M71 254h0M51 234h0M55 241h0M89 247h0M88 246h0M59 229h0M81 241h0M96 213h0M88 248h0M76 227h0M130 250h0M76 258h0M73 234h0M74 218h0M43 224h0M43 244h0M85 230h0M80 231h0M58 223h0M64 219h0M66 240h0M93 227h0M78 226h0M84 233h0M90 262h0M106 249h0M82 249h0M74 232h0M96 239h0M62 231h0M76 237h0M71 246h0M85 256h0M87 239h0M88 241h0M67 217h0M75 228h0M51 222h0M61 233h0M77 243h0M95 229h0M69 251h0M136 126h0M137 127h0M88 132h0M166 115h0M100 127h0M98 133h0M88 142h0M93 138h0M122 131h0M102 129h0M219 101h0M82 138h0M211 105h0M85 143h0M139 123h0M211 108h0M82 143h0M102 133h0M193 109h0M161 115h0M207 105h0M83 137h0M107 137h0M97 130h0M145 119h0M169 117h0M146 124h0M177 111h0M90 129h0M208 103h0M187 109h0M44 226h0M56 204h0M77 150h0M58 191h0M45 220h0M49 204h0M85 149h0M65 161h0M48 215h0M60 174h0M67 165h0M49 210h0M50 221h0M58 204h0M55 211h0M67 177h0M84 151h0M84 148h0"/>
<path id="HW3" transform="scale(.5)" d="M172 139h0M122 144h0M138 232h0M200 201h0M139 205h0M102 183h0M120 266h0M102 200h0M140 199h0M213 149h0M122 267h0M123 156h0M192 259h0M100 226h0M147 249h0M63 227h0M135 256h0M89 181h0M176 216h0M178 232h0M192 227h0M119 230h0M202 262h0M138 259h0M77 201h0M101 179h0M20 252h0M102 210h0M130 241h0M136 148h0M77 205h0M188 194h0M196 287h0M210 153h0M148 267h0M126 275h0M75 175h0M136 216h0M76 207h0M133 166h0M217 116h0M131 211h0M161 266h0M47 235h0M54 246h0M42 234h0M109 229h0M59 247h0M91 230h0M64 247h0M139 236h0M102 253h0M54 235h0M75 229h0M77 212h0M73 226h0M70 248h0M39 232h0M68 245h0M64 247h0M60 207h0M98 227h0M66 244h0M69 225h0M85 227h0M74 234h0M60 232h0M87 244h0M102 259h0M72 246h0M179 105h0M114 119h0M100 137h0M182 112h0M215 102h0M82 141h0M87 140h0M67 158h0M68 178h0M51 218h0M53 213h0"/>
<path id="HB0" transform="scale(.5)" d="M333 71h0M342 68h0M346 67h0M355 70h0M359 68h0M370 70h0M380 69h0M388 67h0M394 69h0M398 64h0M325 73h0M333 75h0M336 74h0M345 78h0M348 71h0M346 73h0M354 75h0M366 74h0M365 72h0M376 71h0M378 69h0M385 71h0M401 70h0M405 70h0M407 73h0M416 74h0M422 75h0M304 75h0M324 78h0M329 77h0M344 74h0M347 82h0M349 73h0M360 76h0M369 75h0M375 76h0M383 77h0M383 78h0M389 78h0M390 74h0M399 80h0M399 74h0M406 78h0M423 76h0M426 81h0M295 79h0M300 81h0M318 85h0M320 84h0M338 82h0M346 81h0M359 81h0M366 81h0M385 82h0M389 83h0M406 79h0M424 83h0M428 84h0M429 85h0M436 84h0M300 87h0M312 85h0M313 86h0M327 91h0M325 86h0M341 86h0M340 85h0M352 88h0M352 84h0M362 85h0M363 86h0M374 89h0M378 82h0M387 86h0M398 91h0M400 88h0M430 82h0M432 84h0M437 90h0M447 89h0M278 92h0M284 89h0M287 90h0M290 87h0M304 88h0M303 87h0M307 86h0M313 91h0M323 95h0M347 93h0M362 92h0M386 93h0M389 90h0M405 91h0M405 85h0M417 89h0M422 91h0M430 86h0M435 90h0M443 90h0M279 99h0M295 93h0M301 94h0M307 92h0M314 94h0M315 97h0M323 95h0M326 94h0M345 94h0M350 94h0M360 93h0M366 93h0M374 97h0M383 94h0M393 99h0M401 88h0M411 98h0M415 93h0M426 96h0M431 93h0M437 95h0M444 91h0M445 96h0M457 93h0M266 100h0M272 99h0M283 96h0M285 104h0M291 100h0M290 101h0M302 101h0M308 101h0M315 102h0M321 104h0M329 103h0M337 104h0M340 99h0M342 101h0M352 101h0M359 100h0M371 106h0M372 102h0M381 100h0M383 101h0M396 99h0M401 98h0M425 95h0M438 100h0M444 97h0M447 98h0M453 100h0M264 110h0M279 106h0M299 105h0M305 107h0M309 102h0M311 104h0M319 105h0M328 108h0M323 104h0M338 101h0M345 108h0M356 103h0M357 105h0M363 102h0M378 103h0M389 105h0M407 103h0M428 104h0M430 103h0M440 102h0M444 108h0M457 105h0M459 104h0M470 102h0M268 105h0M272 113h0M280 105h0M287 108h0M295 111h0M298 107h0M305 107h0M305 105h0M317 111h0M315 105h0M332 112h0M333 109h0M346 109h0M348 109h0M368 104h0M373 108h0M378 109h0M385 103h0M394 109h0M400 109h0M408 105h0M427 105h0M429 113h0M430 106h0M448 112h0M461 106h0M466 112h0M472 111h0M254 114h0M256 114h0M266 115h0M270 112h0M287 114h0M296 111h0M298 111h0M307 110h0M321 114h0M327 114h0M336 116h0M343 113h0M343 112h0M356 113h0M360 116h0M368 114h0M376 115h0M383 114h0M385 111h0M390 112h0M393 110h0M397 114h0M421 110h0M432 109h0M429 113h0M435 112h0M450 114h0M456 113h0M460 118h0M473 118h0M254 118h0M261 117h0M260 117h0M266 117h0M282 117h0M284 121h0M291 119h0M293 116h0M306 117h0M306 118h0M319 115h0M323 119h0M328 118h0M334 119h0M339 120h0M358 117h0M365 120h0M370 118h0M374 118h0M378 116h0M392 118h0M405 121h0M408 113h0M409 114h0M419 118h0M424 116h0M427 113h0M435 120h0M437 116h0M447 117h0M460 118h0M465 114h0M473 112h0M477 122h0M244 123h0M255 122h0M256 123h0M260 123h0M266 120h0M279 124h0M299 120h0M303 117h0M317 121h0M324 124h0M322 119h0M333 119h0M344 125h0M349 118h0M348 117h0M352 125h0M355 124h0M362 117h0M378 124h0M381 123h0M386 123h0M386 123h0M403 125h0M410 121h0M422 120h0M443 122h0M449 121h0M450 121h0M452 119h0M474 122h0M475 119h0M480 121h0M236 122h0M241 124h0M249 124h0M259 128h0M267 128h0M271 126h0M280 126h0M283 123h0M287 128h0M292 125h0M304 123h0M301 124h0M314 128h0M326 129h0M351 122h0M354 125h0M360 130h0M360 126h0M390 126h0M396 125h0M402 125h0M407 126h0M415 126h0M414 129h0M428 130h0M437 128h0M441 126h0M450 130h0M452 128h0M473 127h0M476 131h0M236 131h0M243 129h0M266 130h0M274 131h0M276 124h0M287 132h0M291 131h0M305 135h0M325 128h0M332 132h0M329 132h0M341 135h0M355 132h0M353 131h0M355 127h0M375 132h0M385 132h0M387 128h0M405 128h0M407 129h0M410 131h0M415 127h0M425 128h0M432 132h0M438 129h0M446 127h0M454 132h0M462 128h0M465 134h0M473 132h0M479 130h0M484 128h0M487 131h0M248 135h0M257 133h0M258 134h0M266 136h0M263 134h0M282 135h0M287 134h0M296 137h0M302 136h0M307 133h0M316 134h0M328 135h0M330 134h0M334 138h0M335 138h0M346 137h0M354 137h0M355 133h0M358 137h0M368 137h0M365 135h0M375 142h0M390 138h0M396 134h0M409 134h0M415 132h0M439 137h0M446 133h0M463 138h0M465 133h0M470 133h0M484 136h0M489 136h0M240 139h0M247 142h0M265 142h0M267 137h0M271 141h0M289 142h0M303 138h0M308 141h0M319 140h0M334 135h0M333 138h0M342 142h0M355 141h0M368 135h0M366 142h0M372 143h0M382 140h0M388 141h0M390 140h0M397 137h0M417 140h0M432 139h0M435 139h0M440 136h0M450 138h0M458 143h0M465 135h0M466 142h0M478 140h0M478 141h0M485 143h0M491 144h0M231 145h0M234 144h0M243 142h0M258 142h0M264 141h0M269 145h0M269 138h0M285 146h0M288 147h0M293 143h0M299 143h0M306 141h0M311 142h0M314 141h0M329 143h0M342 145h0M352 143h0M356 145h0M371 149h0M377 146h0M380 141h0M388 142h0M400 145h0M403 145h0M408 140h0M419 146h0M423 142h0M425 146h0M440 144h0M442 141h0M458 149h0M462 143h0M466 143h0M471 144h0M481 144h0M228 149h0M241 151h0M248 152h0M251 148h0M255 149h0M262 148h0M267 148h0M277 149h0M292 149h0M293 148h0M319 147h0M327 145h0M329 150h0M337 151h0M341 146h0M342 148h0M350 149h0M355 151h0M366 150h0M376 149h0M377 147h0M403 143h0M421 147h0M427 149h0M431 152h0M441 145h0M444 147h0M449 148h0M457 153h0M466 145h0M476 151h0M479 145h0M485 152h0M488 148h0M494 147h0M496 149h0M227 153h0M244 151h0M260 149h0M270 151h0M279 150h0M284 151h0M290 154h0M294 149h0M297 151h0M301 153h0M317 153h0M325 152h0M329 153h0M331 154h0M340 151h0M350 152h0M351 152h0M360 151h0M361 157h0M368 149h0M379 152h0M382 153h0M387 154h0M397 156h0M405 154h0M418 152h0M421 152h0M421 151h0M428 154h0M435 154h0M449 153h0M451 155h0M450 152h0M455 150h0M464 151h0M471 149h0M471 154h0M483 156h0M491 156h0M497 151h0M223 161h0M237 163h0M239 160h0M251 155h0M273 154h0M268 153h0M296 160h0M296 155h0M304 159h0M307 158h0M326 158h0M328 157h0M342 154h0M351 154h0M359 156h0M364 157h0M365 159h0M376 156h0M380 160h0M392 156h0M415 156h0M423 159h0M429 154h0M428 160h0M434 157h0M440 157h0M443 158h0M451 158h0M468 158h0M487 156h0M495 159h0M493 158h0M497 158h0M225 164h0M223 159h0M230 160h0M236 163h0M253 163h0M255 160h0M260 163h0M265 161h0M270 164h0M274 164h0M278 162h0M285 163h0M289 160h0M308 162h0M307 159h0M316 164h0M343 164h0M353 165h0M363 163h0M369 163h0M410 163h0M415 161h0M418 160h0M433 166h0M445 163h0M452 161h0M453 159h0M459 163h0M460 158h0M473 161h0M470 161h0M482 162h0M493 159h0M499 162h0M223 162h0M238 165h0M237 163h0M240 167h0M250 168h0M263 169h0M262 165h0M284 165h0M287 163h0M289 168h0M295 168h0M314 165h0M329 166h0M329 170h0M338 166h0M342 167h0M350 165h0M365 168h0M373 166h0M382 166h0M386 164h0M391 163h0M409 164h0M419 161h0M424 171h0M433 166h0M442 165h0M451 170h0M450 167h0M461 167h0M464 163h0M464 165h0M476 170h0M486 168h0M486 167h0M488 172h0M495 168h0M225 174h0M255 174h0M261 174h0M266 173h0M283 172h0M285 175h0M289 171h0M303 168h0M304 173h0M312 171h0M319 173h0M323 171h0M344 173h0M364 174h0M362 173h0M373 176h0M402 175h0M403 172h0M411 174h0M424 169h0M427 168h0M442 165h0M447 168h0M457 172h0M470 166h0M479 174h0M503 171h0M504 167h0M229 174h0M237 173h0M245 176h0M247 177h0M257 175h0M272 177h0M274 175h0M282 177h0M293 174h0M306 176h0M314 180h0M325 177h0M325 178h0M335 175h0M353 177h0M358 174h0M370 178h0M371 175h0M379 173h0M383 175h0M396 179h0M394 175h0M407 173h0M404 175h0M408 172h0M418 173h0M424 178h0M434 176h0M430 171h0M441 175h0M450 179h0M462 175h0M465 176h0M479 174h0M500 173h0M216 174h0M236 180h0M239 181h0M242 183h0M257 178h0M255 185h0M278 181h0M279 179h0M286 184h0M293 177h0M297 183h0M300 183h0M306 175h0M314 179h0M322 180h0M336 176h0M345 184h0M351 177h0M353 179h0M374 181h0M376 183h0M389 177h0M406 182h0M428 181h0M432 183h0M458 178h0M469 185h0M477 180h0M493 182h0M507 181h0M216 186h0M231 183h0M237 185h0M243 183h0M244 183h0M246 184h0M257 183h0M258 188h0M271 184h0M280 183h0M281 185h0M287 180h0M301 184h0M307 187h0M315 185h0M322 183h0M322 187h0M330 179h0M339 184h0M343 184h0M348 185h0M351 185h0M374 186h0M388 188h0M393 184h0M395 189h0M406 190h0M417 182h0M416 187h0M422 182h0M427 187h0M436 183h0M441 189h0M441 184h0M459 187h0M467 186h0M471 187h0M484 185h0M489 185h0M492 188h0M510 182h0M214 189h0M235 192h0M241 190h0M252 188h0M260 189h0M266 186h0M275 190h0M286 192h0M292 186h0M294 185h0M299 187h0M307 188h0M311 190h0M317 189h0M322 188h0M330 191h0M333 190h0M336 189h0M350 188h0M365 191h0M370 191h0M387 187h0M400 186h0M414 192h0M423 189h0M441 189h0M456 185h0M458 185h0M473 190h0M473 188h0M498 189h0M510 181h0M230 190h0M230 193h0M246 192h0M251 192h0M256 195h0M259 195h0M271 189h0M285 191h0M289 192h0M291 188h0M319 191h0M326 193h0M332 190h0M337 194h0M346 190h0M352 194h0M359 196h0M367 194h0M369 193h0M375 192h0M380 197h0M385 193h0M393 192h0M397 192h0M407 192h0M413 194h0M415 192h0M418 189h0M433 195h0M439 191h0M460 198h0M477 194h0M481 192h0M485 193h0M494 193h0M502 199h0M508 194h0M510 193h0M217 197h0M221 198h0M235 194h0M240 196h0M246 199h0M242 199h0M263 197h0M269 192h0M291 197h0M297 198h0M313 199h0M313 198h0M316 198h0M323 199h0M331 195h0M339 196h0M356 197h0M360 197h0M370 195h0M371 195h0M383 203h0M385 194h0M392 198h0M395 199h0M397 198h0M417 196h0M419 197h0M426 194h0M434 201h0M442 198h0M441 197h0M448 199h0M459 201h0M461 201h0M464 200h0M479 196h0M483 200h0M489 197h0M511 198h0M223 205h0M222 200h0M244 200h0M250 202h0M263 203h0M279 200h0M296 205h0M316 199h0M325 203h0M329 205h0M340 199h0M344 205h0M351 201h0M363 202h0M366 201h0M376 200h0M381 202h0M390 202h0M397 199h0M400 204h0M405 206h0M419 203h0M426 201h0M430 200h0M433 203h0M441 199h0M446 204h0M448 202h0M456 202h0M461 202h0M466 202h0M466 199h0M476 197h0M484 204h0M489 203h0M504 201h0M508 203h0M215 206h0M227 204h0M232 206h0M250 207h0M257 205h0M264 208h0M264 203h0M274 207h0M277 208h0M290 205h0M295 205h0M298 205h0M305 204h0M310 204h0M315 203h0M328 207h0M331 209h0M336 208h0M342 210h0M356 203h0M359 206h0M383 209h0M399 205h0M408 207h0M416 207h0M422 205h0M432 207h0M437 209h0M436 207h0M443 206h0M445 206h0M460 208h0M467 206h0M479 208h0M480 207h0M491 203h0M495 203h0M501 201h0M508 202h0M214 213h0M214 212h0M219 211h0M222 208h0M242 209h0M244 211h0M249 211h0M250 209h0M258 209h0M270 211h0M272 214h0M282 211h0M289 212h0M295 210h0M303 209h0M304 209h0M329 213h0M333 207h0M345 212h0M348 213h0M352 213h0M365 215h0M372 213h0M375 205h0M391 212h0M393 211h0M405 210h0M415 215h0M417 210h0M431 211h0M435 212h0M436 211h0M444 211h0M451 213h0M467 209h0M474 210h0M488 206h0M492 216h0M496 214h0M501 212h0M507 210h0M211 212h0M219 217h0M229 214h0M243 213h0M250 216h0M263 217h0M268 211h0M286 212h0M297 220h0M294 215h0M312 216h0M321 214h0M328 213h0M323 217h0M339 214h0M341 215h0M341 214h0M351 214h0M354 214h0M358 218h0M369 211h0M368 214h0M373 219h0M373 215h0M380 215h0M387 215h0M394 215h0M398 215h0M408 215h0M415 215h0M432 215h0M448 219h0M449 210h0M465 219h0M469 211h0M478 214h0M486 214h0M487 214h0M492 215h0M506 213h0M214 219h0M217 217h0M224 217h0M225 222h0M233 221h0M239 220h0M295 218h0M297 220h0M301 218h0M306 219h0M309 220h0M309 220h0M317 221h0M327 220h0M338 224h0M336 219h0M338 218h0M342 221h0M371 220h0M395 223h0M402 222h0M410 223h0M411 220h0M414 216h0M427 217h0M429 216h0M439 224h0M443 220h0M448 220h0M466 217h0M475 218h0M486 217h0M504 222h0M209 225h0M236 221h0M239 225h0M239 225h0M250 223h0M250 230h0M281 226h0M290 224h0M295 223h0M298 224h0M309 225h0M316 223h0M319 225h0M343 226h0M347 223h0M367 231h0M374 227h0M381 224h0M389 220h0M396 224h0M405 229h0M415 224h0M419 224h0M426 225h0M464 223h0M471 220h0M478 222h0M475 223h0M490 224h0M496 227h0M501 225h0M508 227h0M513 227h0M216 229h0M232 233h0M249 229h0M258 225h0M261 234h0M270 227h0M277 233h0M282 231h0M303 232h0M301 230h0M314 225h0M316 230h0M320 226h0M326 227h0M340 231h0M341 230h0M358 229h0M366 227h0M368 229h0M379 230h0M387 229h0M388 227h0M402 229h0M406 229h0M408 230h0M414 230h0M411 226h0M428 225h0M430 232h0M430 228h0M434 231h0M447 223h0M464 232h0M466 226h0M485 224h0M493 227h0M497 229h0M506 227h0M205 235h0M209 232h0M222 237h0M226 236h0M237 230h0M240 238h0M247 232h0M259 233h0M261 236h0M268 235h0M278 233h0M278 235h0M282 233h0M289 230h0M299 236h0M310 234h0M320 235h0M318 235h0M327 236h0M337 232h0M344 235h0M355 232h0M360 231h0M366 234h0M370 230h0M383 234h0M387 235h0M395 236h0M395 237h0M404 229h0M407 234h0M429 234h0M438 237h0M440 235h0M441 237h0M459 231h0M473 232h0M488 232h0M511 233h0M207 237h0M219 240h0M219 236h0M223 240h0M236 237h0M236 239h0M244 241h0M248 236h0M250 233h0M261 237h0M258 240h0M269 237h0M276 237h0M278 235h0M282 238h0M287 238h0M295 238h0M303 237h0M312 238h0M320 238h0M330 237h0M334 241h0M345 237h0M346 235h0M354 242h0M367 237h0M376 240h0M402 236h0M407 238h0M411 240h0M421 243h0M423 240h0M435 234h0M447 238h0M447 239h0M456 237h0M463 236h0M465 237h0M471 239h0M473 240h0M479 237h0M497 236h0M500 237h0M510 237h0M511 235h0M512 240h0M211 243h0M220 245h0M228 242h0M229 245h0M236 246h0M240 243h0M248 239h0M268 240h0M265 242h0M274 242h0M291 244h0M292 239h0M317 244h0M323 241h0M337 240h0M337 235h0M359 239h0M364 237h0M364 243h0M370 244h0M377 237h0M379 242h0M379 245h0M388 245h0M406 242h0M406 247h0M413 246h0M433 243h0M442 241h0M441 241h0M443 244h0M449 239h0M461 244h0M468 238h0M478 245h0M492 244h0M509 242h0M211 244h0M219 245h0M221 244h0M235 249h0M238 249h0M240 246h0M251 249h0M253 246h0M260 248h0M264 246h0M266 250h0M274 249h0M286 251h0M288 249h0M296 247h0M300 249h0M308 246h0M312 247h0M329 249h0M349 252h0M353 248h0M354 245h0M360 248h0M369 247h0M380 248h0M387 249h0M396 244h0M402 249h0M409 249h0M412 249h0M423 250h0M428 247h0M437 244h0M437 242h0M439 248h0M446 246h0M452 248h0M453 251h0M461 249h0M471 246h0M475 246h0M489 247h0M499 249h0M208 252h0M210 255h0M228 246h0M242 255h0M243 253h0M253 253h0M255 249h0M262 251h0M273 252h0M296 254h0M298 256h0M318 252h0M350 249h0M351 252h0M364 249h0M365 250h0M388 251h0M390 249h0M395 249h0M399 253h0M407 250h0M405 250h0M421 257h0M429 250h0M435 251h0M450 254h0M455 252h0M465 251h0M468 251h0M473 253h0M473 249h0M478 255h0M504 251h0M503 252h0M202 255h0M209 256h0M214 260h0M219 255h0M224 252h0M231 256h0M249 255h0M256 253h0M267 255h0M281 256h0M299 252h0M303 255h0M307 260h0M309 256h0M328 255h0M338 255h0M339 258h0M347 257h0M373 256h0M375 258h0M388 253h0M391 257h0M403 257h0M412 256h0M419 254h0M439 261h0M443 254h0M445 256h0M457 259h0M466 256h0M473 258h0M476 258h0M483 256h0M487 255h0M493 258h0M496 254h0M201 262h0M210 259h0M226 259h0M229 262h0M234 256h0M244 262h0M259 258h0M267 263h0M270 263h0M276 260h0M279 257h0M285 265h0M287 261h0M299 263h0M296 259h0M310 259h0M310 261h0M320 265h0M320 263h0M332 262h0M340 263h0M344 260h0M358 259h0M370 264h0M386 264h0M388 255h0M392 262h0M411 257h0M423 259h0M431 258h0M432 261h0M444 262h0M442 262h0M451 261h0M468 258h0M470 258h0M474 257h0M488 257h0M491 260h0M499 262h0M507 255h0M194 267h0M197 267h0M218 263h0M229 266h0M241 264h0M241 266h0M248 265h0M255 265h0M258 262h0M265 262h0M270 263h0M285 261h0M292 263h0M294 264h0M306 266h0M313 261h0M326 264h0M328 265h0M333 264h0M339 263h0M343 264h0M360 263h0M370 265h0M378 264h0M381 266h0M384 263h0M388 268h0M392 269h0M394 267h0M407 265h0M413 265h0M426 267h0M426 266h0M435 264h0M436 267h0M451 266h0M455 265h0M464 268h0M469 268h0M472 265h0M483 263h0M490 266h0M503 264h0M200 271h0M205 273h0M211 268h0M215 269h0M225 270h0M234 269h0M243 270h0M260 267h0M260 271h0M265 269h0M272 267h0M274 269h0M295 274h0M295 268h0M300 272h0M309 267h0M331 273h0M341 269h0M355 270h0M358 266h0M365 268h0M370 266h0M380 268h0M385 271h0M386 274h0M394 267h0M398 266h0M401 266h0M417 267h0M422 267h0M431 268h0M440 271h0M456 272h0M459 266h0M465 267h0M465 271h0M478 273h0M486 270h0M487 270h0M498 268h0M192 273h0M206 273h0M212 276h0M214 271h0M217 274h0M235 275h0M240 274h0M241 273h0M247 272h0M263 272h0M262 274h0M273 276h0M271 273h0M283 274h0M284 277h0M286 271h0M297 273h0M301 277h0M305 275h0M312 272h0M320 273h0M341 273h0M348 274h0M359 273h0M358 277h0M364 266h0M371 279h0M380 275h0M383 276h0M393 274h0M400 271h0M399 274h0M407 273h0M411 275h0M422 276h0M426 270h0M434 272h0M442 274h0M444 276h0M456 275h0M464 271h0M470 274h0M475 272h0M482 279h0M496 279h0M494 274h0M193 277h0M200 279h0M199 277h0M213 283h0M208 280h0M220 276h0M230 275h0M243 280h0M247 277h0M265 275h0M268 279h0M269 281h0M277 279h0M299 279h0M306 279h0M324 282h0M334 279h0M337 280h0M344 279h0M354 279h0M360 281h0M372 275h0M388 275h0M406 280h0M412 280h0M416 277h0M420 282h0M425 281h0M438 280h0M438 276h0M450 271h0M456 278h0M461 281h0M463 274h0M478 277h0M481 280h0M486 281h0M490 279h0M493 282h0M190 283h0M202 285h0M212 284h0M217 286h0M221 287h0M226 280h0M240 284h0M251 280h0M263 281h0M272 280h0M277 284h0M281 281h0M291 285h0M300 286h0M310 281h0M315 281h0M326 282h0M335 285h0M344 280h0M350 280h0M365 281h0M381 285h0M391 282h0M395 284h0M403 283h0M411 280h0M439 287h0M473 283h0M499 281h0M209 283h0M228 289h0M230 289h0M235 284h0M237 288h0M254 288h0M265 287h0M271 288h0M276 287h0M284 287h0M301 289h0M308 282h0M312 290h0M316 287h0M319 292h0M322 287h0M329 287h0M338 292h0M343 285h0M357 285h0M363 286h0M374 287h0M377 290h0M394 284h0M410 291h0M413 286h0M417 287h0M421 286h0M425 287h0M439 285h0M452 286h0M461 290h0M466 287h0M475 288h0M480 289h0M491 284h0M192 292h0M196 295h0M197 295h0M213 293h0M219 294h0M236 293h0M270 295h0M276 295h0M282 290h0M288 292h0M302 297h0M304 293h0M310 289h0M325 291h0M333 289h0M341 293h0M349 294h0M355 293h0M358 292h0M370 290h0M382 294h0M383 290h0M388 296h0M390 292h0M399 296h0M401 291h0M402 293h0M418 286h0M426 289h0M443 291h0M454 287h0M458 291h0M460 292h0M468 296h0M480 292h0M481 292h0M491 292h0M194 295h0M199 291h0M203 295h0M212 296h0M216 296h0M218 297h0M222 299h0M228 296h0M235 296h0M237 297h0M245 297h0M252 297h0M253 296h0M257 289h0M284 299h0M289 295h0M294 296h0M299 296h0M320 300h0M331 293h0M332 292h0M339 294h0M345 296h0M353 295h0M361 299h0M370 292h0M383 298h0M397 296h0M403 296h0M403 301h0M419 292h0M419 299h0M422 300h0M429 297h0M435 293h0M436 294h0M436 299h0M451 294h0M456 293h0M471 295h0M473 298h0M479 296h0M200 301h0M203 302h0M213 301h0M220 303h0M223 303h0M225 301h0M225 295h0M242 302h0M250 304h0M255 299h0M259 298h0M276 301h0M290 298h0M293 301h0M304 303h0M309 303h0M319 301h0M322 298h0M326 304h0M356 301h0M358 302h0M370 297h0M371 302h0M398 305h0M406 301h0M418 299h0M427 306h0M439 304h0M466 300h0M472 302h0M205 307h0M205 305h0M214 304h0M217 306h0M248 305h0M269 305h0M291 304h0M292 303h0M297 304h0M305 305h0M310 304h0M318 305h0M322 312h0M330 302h0M335 305h0M341 306h0M355 306h0M363 304h0M382 306h0M391 305h0M398 300h0M407 306h0M407 308h0M421 302h0M423 306h0M438 308h0M451 303h0M458 306h0M467 306h0M466 302h0M217 308h0M224 311h0M237 310h0M244 310h0M245 314h0M249 308h0M252 309h0M259 309h0M264 309h0M285 307h0M297 310h0M309 310h0M307 310h0M317 310h0M328 311h0M331 309h0M349 309h0M362 305h0M390 307h0M401 308h0M401 309h0M420 309h0M424 303h0M430 310h0M443 308h0M452 308h0M460 313h0M207 308h0M208 313h0M218 316h0M237 311h0M248 314h0M246 313h0M252 307h0M255 313h0M266 314h0M280 313h0M286 315h0M293 312h0M295 309h0M301 308h0M309 316h0M312 310h0M321 314h0M335 313h0M345 316h0M360 313h0M383 313h0M383 315h0M396 310h0M408 313h0M419 315h0M419 317h0M429 317h0M430 315h0M434 317h0M440 309h0M447 311h0M451 316h0M458 314h0M464 315h0M219 321h0M224 318h0M228 317h0M239 317h0M246 320h0M264 319h0M272 320h0M270 314h0M278 322h0M282 319h0M300 317h0M304 317h0M301 319h0M306 319h0M310 317h0M316 320h0M333 319h0M333 316h0M338 322h0M348 316h0M352 319h0M360 317h0M377 318h0M383 321h0M389 317h0M391 321h0M399 316h0M403 321h0M407 319h0M415 324h0M428 317h0M443 317h0M217 321h0M228 325h0M238 325h0M241 325h0M247 323h0M251 325h0M254 321h0M272 320h0M279 324h0M286 322h0M290 322h0M304 325h0M307 324h0M315 325h0M323 320h0M341 321h0M343 327h0M349 324h0M351 321h0M356 320h0M374 324h0M372 323h0M380 324h0M385 320h0M395 320h0M403 326h0M410 322h0M421 319h0M455 321h0M459 322h0M228 328h0M232 329h0M240 323h0M243 324h0M244 326h0M259 325h0M266 329h0M274 327h0M275 324h0M281 329h0M290 329h0M299 327h0M303 332h0M304 326h0M324 327h0M330 324h0M340 329h0M343 325h0M346 328h0M355 326h0M358 325h0M363 329h0M371 329h0M375 322h0M383 328h0M383 331h0M404 329h0M421 327h0M417 328h0M435 327h0M441 330h0M233 331h0M237 331h0M248 333h0M248 330h0M249 327h0M259 332h0M263 330h0M263 330h0M275 335h0M282 334h0M287 335h0M290 330h0M298 331h0M302 335h0M311 335h0M319 328h0M334 334h0M336 330h0M343 333h0M351 333h0M373 331h0M378 333h0M381 329h0M383 335h0M387 332h0M404 333h0M410 334h0M411 333h0M419 332h0M432 331h0M438 328h0M443 336h0M444 332h0M238 335h0M242 338h0M254 332h0M262 337h0M263 336h0M275 336h0M278 338h0M301 331h0M300 335h0M309 333h0M326 335h0M332 335h0M334 335h0M343 340h0M346 336h0M374 338h0M382 335h0M383 340h0M386 340h0M399 339h0M404 334h0M406 333h0M429 338h0M431 338h0M439 333h0M244 341h0M251 338h0M257 341h0M263 343h0M271 340h0M287 339h0M294 336h0M301 345h0M300 342h0M309 342h0M337 340h0M346 339h0M347 343h0M351 340h0M354 340h0M374 339h0M378 341h0M398 345h0M404 339h0M413 346h0M411 338h0M422 342h0M429 341h0M248 340h0M257 345h0M267 343h0M272 344h0M281 345h0M279 348h0M289 348h0M300 344h0M305 342h0M307 345h0M312 347h0M317 346h0M324 344h0M332 344h0M331 348h0M335 351h0M353 340h0M356 348h0M379 340h0M380 348h0M394 348h0M396 341h0M401 346h0M412 346h0M408 342h0M261 349h0M276 346h0M286 348h0M285 352h0M292 350h0M298 348h0M305 347h0M304 350h0M308 350h0M313 352h0M324 352h0M326 347h0M335 348h0M338 349h0M347 348h0M349 352h0M372 347h0M375 351h0M384 350h0M389 342h0M401 351h0M410 348h0M414 351h0M418 349h0M263 354h0M266 355h0M277 353h0M280 355h0M285 350h0M298 356h0M321 356h0M328 358h0M338 356h0M346 351h0M352 353h0M357 355h0M364 351h0M368 353h0M371 357h0M375 353h0M395 357h0M398 355h0M410 351h0M280 357h0M285 358h0M283 362h0M294 355h0M304 360h0M313 357h0M323 360h0M330 360h0M345 360h0M363 360h0M383 358h0M390 355h0M393 358h0M287 362h0M294 365h0M304 363h0M306 362h0M336 364h0M344 359h0M362 366h0M372 360h0M384 363h0M388 362h0M292 369h0M299 366h0M299 364h0M306 368h0M314 368h0M339 367h0M344 368h0M356 365h0M361 368h0M368 368h0M373 368h0M314 373h0M319 373h0M334 376h0M334 371h0M346 375h0M354 378h0M336 376h0M430 302h0M223 260h0M229 156h0M461 323h0M251 214h0M253 207h0M277 104h0M248 280h0M270 117h0M223 219h0M358 209h0M241 211h0M376 122h0M301 231h0M328 84h0M336 247h0M486 209h0M237 221h0M256 336h0M219 207h0M373 215h0M410 242h0M378 349h0M335 268h0M276 365h0M341 154h0M462 156h0M277 241h0M365 254h0M390 354h0M328 157h0M280 216h0M486 287h0M411 230h0M300 337h0M475 183h0M281 313h0M247 305h0M464 198h0M354 127h0M224 331h0M303 217h0M292 163h0M393 345h0M310 273h0M339 325h0M342 72h0M399 259h0M348 289h0M385 282h0M271 184h0M349 364h0M469 123h0M370 230h0M478 224h0M267 170h0M507 227h0M332 174h0M304 106h0M436 118h0M339 249h0M228 307h0M319 370h0M298 122h0M306 266h0M334 374h0M348 271h0M364 238h0M286 259h0M280 289h0M282 301h0M276 169h0M439 281h0M390 249h0M413 208h0M246 187h0M432 87h0M330 89h0M368 234h0M372 358h0M281 107h0M292 325h0M475 112h0M349 86h0M205 273h0M220 234h0M429 244h0M328 335h0M378 313h0M258 254h0M494 164h0M340 200h0M240 237h0M253 129h0M279 360h0M415 130h0M291 185h0M357 104h0M467 229h0M311 124h0M381 347h0M318 256h0M355 275h0M245 307h0M343 117h0M256 345h0M384 250h0M224 155h0M382 274h0M332 244h0M273 272h0M252 142h0M350 325h0M345 207h0M344 338h0M288 326h0M346 123h0M372 72h0M336 339h0M298 278h0M397 298h0M337 233h0M336 296h0M432 143h0M499 177h0M473 284h0M444 197h0M400 175h0M289 188h0M338 81h0M419 282h0M425 279h0M376 276h0M265 313h0M232 338h0M397 205h0M443 95h0M251 239h0M509 196h0M313 131h0M400 249h0M282 319h0M342 232h0M303 263h0M404 258h0M448 181h0M456 88h0M319 232h0M246 328h0M300 144h0M341 123h0M291 255h0M237 185h0M342 315h0M342 216h0M393 199h0M214 239h0M322 370h0M400 350h0M200 263h0M252 159h0M345 106h0M401 270h0M335 304h0M396 285h0M241 326h0M327 226h0M406 281h0M441 268h0M329 272h0M334 101h0M404 103h0M404 179h0M476 124h0M293 169h0M483 288h0M454 225h0M257 165h0M326 120h0M354 330h0M484 156h0M331 359h0M284 332h0M203 283h0M432 107h0M293 291h0M405 350h0M474 309h0M205 242h0M493 191h0M307 216h0M347 136h0M416 342h0M500 152h0M393 323h0M307 206h0M489 188h0M410 252h0M220 234h0M339 380h0M287 222h0M325 300h0M474 219h0M366 341h0M276 283h0M347 223h0M343 372h0M343 241h0M405 107h0M313 222h0M451 145h0M420 292h0M413 207h0M486 256h0M231 247h0M384 74h0M395 95h0M328 84h0M250 200h0M329 93h0M409 313h0M346 135h0M360 335h0M278 123h0M282 159h0M243 186h0M354 307h0M293 229h0M433 337h0M284 172h0M401 73h0M242 275h0M435 281h0M275 156h0M226 234h0M415 304h0M377 102h0M281 353h0M456 202h0M289 165h0M212 290h0M340 285h0M512 196h0M473 154h0M480 158h0M302 161h0M266 281h0M286 196h0M427 231h0M342 118h0M281 259h0M322 126h0M494 169h0M294 153h0M477 112h0M403 327h0M461 146h0M315 78h0M265 313h0M226 252h0M385 326h0M329 234h0M304 286h0M307 166h0M237 192h0M351 150h0M455 192h0M361 344h0M295 286h0M325 151h0M322 317h0M419 127h0M463 206h0M323 296h0M402 327h0M235 198h0M481 248h0M242 284h0M419 284h0M248 137h0M308 206h0M241 245h0M336 254h0M410 212h0M317 301h0M358 88h0M349 252h0M407 313h0M273 226h0M293 235h0M318 86h0M492 167h0M428 150h0M439 254h0M470 120h0M493 196h0M342 140h0M353 351h0M344 137h0M428 235h0M458 98h0M297 268h0M233 236h0M211 192h0M424 177h0M402 237h0M449 202h0M470 224h0M357 173h0M236 200h0M341 178h0M373 287h0M219 325h0M307 240h0M404 161h0M456 178h0M342 359h0M295 256h0M405 165h0M406 122h0M345 77h0M431 241h0M467 207h0M379 260h0M309 208h0M304 136h0M392 90h0M343 120h0M359 283h0M331 264h0M287 240h0M434 223h0M345 257h0M381 132h0M373 149h0M269 352h0M237 149h0M345 248h0M444 172h0M451 260h0M395 178h0M259 291h0M466 303h0M236 334h0M210 253h0M306 311h0M373 291h0M291 306h0M283 125h0M433 218h0M338 227h0M275 233h0M416 330h0M282 233h0M352 126h0M371 198h0M366 244h0M223 317h0M456 220h0M239 269h0M401 329h0M465 134h0M416 184h0M277 117h0M232 157h0M271 94h0M441 265h0M353 72h0M426 179h0M202 275h0M369 209h0M398 348h0M367 105h0M412 113h0M360 154h0M390 353h0M314 251h0M471 249h0M411 353h0M412 128h0M302 240h0M442 233h0M325 175h0M350 201h0M254 244h0M346 340h0M287 206h0M410 274h0M379 189h0M333 350h0M283 87h0M257 223h0M206 297h0M481 250h0M332 249h0M453 199h0M491 208h0M403 244h0M261 303h0M384 254h0M233 234h0M385 218h0M336 119h0M485 210h0M362 272h0M374 214h0M402 67h0M396 228h0M464 119h0M389 105h0M392 86h0M434 311h0M248 233h0M326 289h0M343 301h0M275 312h0M313 337h0M416 108h0M283 284h0M424 112h0M425 227h0M240 222h0M453 215h0M302 305h0M473 297h0M478 258h0M420 270h0M367 306h0M485 152h0M296 257h0M341 79h0M272 186h0M424 249h0M410 322h0M265 276h0M289 203h0M383 367h0M461 123h0M259 308h0M213 192h0M363 306h0M240 231h0M367 83h0M272 310h0M347 271h0M284 300h0M255 144h0M403 283h0M483 290h0M504 184h0M213 314h0M422 188h0M263 145h0M282 229h0M465 134h0M219 202h0M329 195h0M240 140h0M274 306h0M364 259h0M404 282h0M292 152h0M333 184h0M361 188h0M407 250h0M444 133h0M381 262h0M347 159h0M423 296h0M521 201h0M295 203h0M433 252h0M431 140h0M271 305h0M248 338h0M372 283h0M403 207h0M416 146h0M443 103h0M225 271h0M460 279h0M325 163h0M429 149h0M413 119h0M345 123h0M495 275h0M416 150h0M234 277h0M267 109h0M220 319h0M299 304h0M298 216h0M388 342h0M404 217h0M408 341h0M398 65h0M270 268h0M378 193h0M265 132h0M479 154h0M319 228h0M332 358h0M439 145h0M353 183h0M366 348h0M447 287h0M401 242h0M362 92h0M343 89h0M359 69h0M429 139h0M499 195h0M322 219h0M385 180h0M358 311h0M438 151h0M474 206h0M252 294h0M498 234h0M375 156h0M359 282h0M351 326h0M455 114h0M503 222h0M254 308h0M443 77h0M394 118h0M383 310h0M372 168h0M259 325h0M281 181h0M274 306h0M334 235h0M385 219h0M314 192h0M409 195h0M311 132h0M305 353h0M256 320h0M343 173h0M273 304h0M444 210h0M307 223h0M479 256h0M335 188h0M436 301h0M456 256h0M364 308h0M351 160h0M293 201h0M483 279h0M467 308h0M422 140h0M332 309h0M333 98h0M256 193h0M406 200h0M430 105h0M464 244h0M408 267h0M426 141h0M338 162h0M309 108h0M465 124h0M375 347h0M318 268h0M421 331h0M417 199h0M420 165h0M339 203h0M433 282h0M400 242h0M447 123h0M364 310h0M438 156h0M281 179h0M305 155h0M278 357h0M417 202h0M418 215h0M426 97h0M420 180h0M457 246h0M435 242h0M320 134h0M243 288h0M486 137h0M489 281h0M271 326h0M452 176h0M244 241h0M374 253h0M288 92h0M413 247h0M366 273h0M371 269h0M321 274h0M465 177h0M435 186h0M336 103h0M358 146h0M387 93h0M346 192h0M321 276h0M385 230h0M445 193h0M472 211h0M461 198h0M291 215h0M256 274h0M298 236h0M355 144h0M249 230h0M322 174h0M333 247h0M469 214h0M190 288h0M228 189h0M239 231h0M197 258h0M357 243h0M350 372h0M424 169h0M488 269h0M270 259h0M263 161h0M470 274h0M333 222h0M375 168h0M238 328h0M382 358h0M460 128h0M376 348h0M462 318h0M389 271h0M493 171h0M257 166h0M388 159h0M407 223h0M322 346h0M489 161h0M487 288h0M256 209h0M367 192h0M305 245h0M368 235h0M340 264h0M307 285h0M416 263h0M203 293h0M376 347h0M373 110h0M322 71h0M235 193h0M461 178h0M252 229h0M418 219h0M219 207h0M387 83h0M482 283h0M487 248h0M456 176h0M436 286h0M431 126h0M347 69h0M469 170h0M310 196h0M347 76h0M381 96h0M230 186h0M328 105h0M396 183h0M341 269h0M256 201h0M280 126h0M480 161h0M292 91h0M465 117h0M409 240h0M429 150h0M375 230h0M442 121h0M229 308h0M481 237h0M217 218h0M477 168h0M419 247h0M436 177h0M344 317h0M373 342h0M330 310h0M231 174h0M303 323h0M243 272h0M504 212h0M298 243h0M469 247h0M366 234h0M201 300h0M372 216h0M399 231h0M397 215h0M209 172h0M318 83h0M338 368h0M269 230h0M488 128h0M344 149h0M385 177h0M304 242h0M270 144h0M419 169h0M223 224h0M326 101h0M470 126h0M429 199h0M341 126h0M400 214h0M254 282h0M309 119h0M275 319h0M281 165h0M430 223h0M389 215h0M394 349h0M361 134h0M229 263h0M230 309h0M309 96h0M239 261h0M315 360h0M355 197h0M345 191h0M236 240h0M426 180h0M238 206h0M351 153h0M354 118h0M383 130h0M422 149h0M419 160h0M491 193h0M357 242h0M295 334h0M421 137h0M281 147h0M277 306h0M372 109h0M354 94h0M342 136h0M228 257h0M439 139h0M339 148h0M332 342h0M432 172h0M231 225h0M431 265h0M386 225h0M433 208h0M430 118h0M445 165h0M250 175h0M363 271h0M289 186h0M275 352h0M369 195h0M374 352h0M483 225h0M274 99h0M483 185h0M263 121h0M341 348h0M252 153h0M257 293h0M433 83h0M473 299h0M261 202h0M382 104h0M463 289h0M283 274h0M503 175h0M270 274h0M332 236h0M315 350h0M485 268h0M427 143h0M216 226h0M405 144h0M245 117h0M362 313h0M204 299h0M261 245h0M466 253h0M377 212h0M274 142h0M213 261h0M391 185h0M332 262h0M465 315h0M474 245h0M384 107h0M455 320h0M352 341h0M408 164h0M435 212h0M303 224h0M330 155h0M345 172h0M379 250h0M448 326h0M254 123h0M280 304h0M383 99h0M477 147h0M501 246h0M337 361h0M349 191h0M349 191h0M417 115h0M327 69h0M401 213h0M364 71h0M301 109h0M215 229h0M290 341h0M251 339h0M466 252h0M251 218h0M405 204h0M408 267h0M289 295h0M337 360h0M352 146h0M314 198h0M451 269h0M414 96h0M424 340h0M276 190h0M359 164h0M334 315h0M335 90h0M352 375h0M428 159h0M478 277h0M306 118h0M458 198h0M228 337h0M371 321h0M284 256h0M462 180h0M239 253h0M350 318h0M377 188h0M389 142h0M343 88h0M341 179h0M423 172h0M276 301h0M429 145h0M413 194h0M247 303h0M474 193h0M426 281h0M372 289h0M237 286h0M419 105h0M319 264h0M346 149h0M253 312h0M458 223h0M247 340h0M315 113h0M262 292h0M308 232h0M407 160h0M433 332h0M473 287h0M403 260h0M258 300h0M345 136h0M364 114h0M298 166h0M354 199h0M268 305h0M204 279h0M483 138h0M467 204h0M313 308h0M315 180h0M403 315h0M347 123h0M505 254h0M273 224h0M431 164h0M383 123h0M379 130h0M230 216h0M254 326h0M498 142h0M274 343h0M498 176h0M276 208h0M346 257h0M344 204h0M373 209h0M412 123h0M456 219h0M232 252h0M308 303h0M267 175h0M210 230h0M324 166h0M469 270h0M231 234h0M246 203h0M501 201h0M255 137h0M380 348h0M388 134h0M374 235h0M214 249h0M470 226h0M357 143h0M258 172h0M387 118h0M459 220h0M413 334h0M514 168h0M381 317h0M315 173h0M452 134h0M285 153h0M284 226h0M282 269h0M378 241h0M395 162h0M358 227h0M267 217h0M268 208h0M422 252h0M317 246h0M288 235h0M273 198h0M326 333h0M256 238h0M371 212h0M209 273h0M386 295h0M336 106h0M462 262h0M363 141h0M505 197h0M213 296h0M489 244h0M357 288h0M293 119h0M493 215h0M400 210h0M232 291h0M330 364h0M260 109h0M379 240h0M316 298h0M295 352h0M284 225h0M308 345h0M439 272h0M423 268h0M277 357h0M352 227h0M268 201h0M301 318h0M377 105h0M320 370h0M239 189h0M473 153h0M298 268h0M431 261h0M338 314h0M447 161h0M389 243h0M234 275h0M483 139h0M318 126h0M410 241h0M496 276h0M395 208h0M446 233h0M332 181h0M283 157h0M418 261h0M421 254h0M233 240h0M250 298h0M321 98h0M403 305h0M413 133h0M489 211h0M301 331h0M291 230h0M310 205h0M423 148h0M211 295h0M414 235h0M403 217h0M333 261h0M295 253h0M392 237h0M400 280h0M335 324h0M349 215h0M423 174h0M389 80h0M332 139h0M342 278h0M323 155h0M338 133h0M197 275h0M321 201h0M387 212h0M370 112h0M473 159h0M370 94h0M351 89h0M380 344h0M407 291h0M318 285h0M456 300h0M444 142h0M382 316h0M471 270h0M339 283h0M423 147h0M271 204h0M287 229h0M353 276h0M390 104h0M338 245h0M441 107h0M388 97h0M411 154h0M386 355h0M275 107h0M253 257h0M283 97h0M197 280h0M446 324h0M393 91h0M427 181h0M449 272h0M318 77h0M326 245h0M307 363h0M224 261h0M316 307h0M444 212h0M287 149h0M424 241h0M392 261h0M376 368h0M261 306h0M451 181h0M403 338h0M385 327h0M350 166h0M305 333h0M402 116h0M386 317h0M343 307h0M310 266h0M283 182h0M295 197h0M210 233h0M404 121h0M400 308h0M401 161h0M341 157h0M334 240h0M446 227h0M363 257h0M309 202h0M215 190h0M348 257h0M282 113h0M337 232h0M330 123h0M292 264h0M218 218h0M399 336h0M392 128h0M277 352h0M261 118h0M358 296h0M210 240h0M300 158h0M247 164h0M354 283h0M218 193h0M427 259h0M351 240h0M396 284h0M238 322h0M224 324h0M431 194h0M258 269h0M265 319h0M305 274h0M413 130h0M459 260h0M408 252h0M358 197h0M404 330h0M316 210h0M343 72h0M493 227h0M385 179h0M324 88h0M299 218h0M356 246h0M316 212h0M287 208h0M373 119h0M424 186h0M259 193h0M482 254h0M406 70h0M272 225h0M211 265h0M245 196h0M299 267h0M293 363h0M439 296h0M368 69h0M478 288h0M436 324h0M400 210h0M427 280h0M486 186h0M283 331h0M388 312h0M215 309h0M240 179h0M299 141h0M204 270h0M253 188h0M336 353h0M396 211h0M434 136h0M301 206h0M398 196h0M275 337h0M256 152h0M404 81h0M268 207h0M450 308h0M238 227h0M246 264h0M320 138h0M299 357h0M260 246h0M256 105h0M324 186h0M477 198h0M260 151h0M423 339h0M294 298h0M365 305h0M435 216h0M261 114h0M230 296h0M412 97h0M351 177h0M404 103h0M308 214h0M278 121h0M408 210h0M354 78h0M338 337h0M320 363h0M499 165h0M442 110h0M455 185h0M286 167h0M200 269h0M271 343h0M274 192h0M366 335h0M196 285h0M356 180h0M292 238h0M439 100h0M450 148h0M263 141h0M284 269h0M331 332h0M314 212h0M296 227h0M311 102h0M212 226h0M376 100h0M439 318h0M273 233h0M479 144h0M417 342h0M277 357h0M371 321h0M348 73h0M219 253h0M469 149h0M462 138h0M471 154h0M400 128h0M388 210h0M328 103h0M320 81h0M397 181h0M308 354h0M287 251h0M396 162h0M353 223h0M303 175h0M410 139h0M260 304h0M495 146h0M467 180h0M246 313h0M389 249h0M241 266h0M284 313h0M329 179h0M314 101h0M270 257h0M319 143h0M310 366h0M241 115h0M385 105h0M355 326h0M327 102h0M371 138h0M416 156h0M399 60h0M304 98h0M459 263h0M257 209h0M359 368h0M413 331h0M360 240h0M397 85h0M460 222h0M389 176h0M465 145h0M455 247h0M293 178h0M383 162h0M475 118h0M427 280h0M427 331h0M321 247h0M459 308h0M273 231h0M286 244h0M262 267h0M262 181h0M334 291h0M333 95h0M312 154h0M432 150h0M464 142h0M333 309h0M437 259h0M366 120h0M288 297h0M431 297h0M350 226h0M456 264h0M256 117h0M335 374h0M363 321h0M338 160h0M353 207h0M269 246h0M306 353h0M442 161h0M327 202h0M297 225h0M422 260h0M442 248h0M344 270h0M386 257h0M224 261h0M332 79h0M299 158h0M389 76h0M244 274h0M251 116h0M361 84h0M352 84h0M440 226h0M310 366h0M429 297h0M278 119h0M239 129h0M242 130h0M239 145h0M341 146h0M478 295h0M475 201h0M436 193h0M266 105h0M263 137h0M338 84h0M408 259h0M340 263h0M377 167h0M390 286h0M313 141h0M361 217h0M414 205h0M371 285h0M231 206h0M375 64h0M264 314h0M222 311h0M355 132h0M416 121h0M201 254h0M454 310h0M305 240h0M304 164h0M283 147h0M211 269h0M305 185h0M277 111h0M396 351h0M391 352h0M282 90h0M435 227h0M377 74h0M443 324h0M453 254h0M331 376h0M496 198h0M374 81h0M218 163h0M326 308h0M429 153h0M489 168h0M343 244h0M313 349h0M436 117h0M355 186h0M209 281h0M311 304h0M257 257h0M343 301h0M415 229h0M373 185h0M267 193h0M439 143h0M436 111h0M214 219h0M353 280h0M359 280h0M343 128h0M479 287h0M423 211h0M225 203h0M374 92h0M372 108h0M405 126h0M402 248h0M244 270h0M361 111h0M482 126h0M355 156h0M474 258h0M322 265h0M272 172h0M389 80h0M313 225h0M304 258h0M456 238h0M236 164h0M300 112h0M330 136h0M441 43h0M427 61h0M422 65h0M431 55h0M435 55h0M441 45h0M434 59h0M431 54h0M429 47h0M440 40h0M427 55h0M440 37h0M435 50h0M434 56h0M432 54h0M430 50h0M417 62h0M422 79h0M435 63h0M433 42h0M425 68h0M415 66h0M422 64h0M440 38h0M434 47h0M426 67h0M420 70h0M427 71h0M425 64h0M425 58h0M433 49h0M427 63h0M430 49h0M426 54h0M433 55h0M417 74h0M439 44h0M435 53h0M435 48h0M439 45h0M421 64h0M423 60h0M464 109h0M488 89h0M482 93h0M478 94h0M499 78h0M497 82h0M492 86h0M478 97h0M497 88h0M497 83h0M485 94h0M494 87h0M488 97h0M486 101h0M472 107h0M500 80h0M470 100h0M469 107h0M468 110h0M485 87h0M465 115h0M499 80h0M479 110h0M490 87h0M478 99h0M487 101h0M476 111h0M487 99h0M483 102h0M403 407h0M424 350h0M423 376h0M419 389h0M411 397h0M387 351h0M409 371h0M433 385h0M422 400h0M406 366h0M420 369h0M425 381h0M395 379h0M414 372h0M405 375h0M446 405h0M411 415h0M400 345h0M386 353h0M402 354h0M419 382h0M420 407h0M406 354h0M416 394h0M420 335h0M429 378h0"/>
<path id="HB1" transform="scale(.5)" d="M354 66h0M364 72h0M366 63h0M377 68h0M311 77h0M316 75h0M319 71h0M358 74h0M378 72h0M401 74h0M299 79h0M302 83h0M311 75h0M314 79h0M325 74h0M366 73h0M324 82h0M334 82h0M334 82h0M345 80h0M412 81h0M421 79h0M287 88h0M288 89h0M305 83h0M318 90h0M329 88h0M340 88h0M392 84h0M399 83h0M418 84h0M426 83h0M296 91h0M328 90h0M328 92h0M331 93h0M336 89h0M350 92h0M361 92h0M381 92h0M396 89h0M416 89h0M430 89h0M276 98h0M285 96h0M295 97h0M297 96h0M337 96h0M360 95h0M385 95h0M388 93h0M425 98h0M445 95h0M454 99h0M331 96h0M355 98h0M364 98h0M376 102h0M394 97h0M409 100h0M417 98h0M427 99h0M436 100h0M461 99h0M256 102h0M274 105h0M279 102h0M290 102h0M340 104h0M349 105h0M365 105h0M370 102h0M379 100h0M395 103h0M402 101h0M445 104h0M253 109h0M260 110h0M337 110h0M338 107h0M363 109h0M384 111h0M391 111h0M440 106h0M446 112h0M454 106h0M458 112h0M248 109h0M264 113h0M278 114h0M279 115h0M289 118h0M303 112h0M332 106h0M350 113h0M350 112h0M404 117h0M421 113h0M435 111h0M442 111h0M464 113h0M249 118h0M271 121h0M312 120h0M436 115h0M243 119h0M251 121h0M273 117h0M284 123h0M311 119h0M315 127h0M366 122h0M399 122h0M413 122h0M429 120h0M428 125h0M436 125h0M462 122h0M239 130h0M272 129h0M309 127h0M320 129h0M343 124h0M345 121h0M360 127h0M371 127h0M371 126h0M379 125h0M382 130h0M383 124h0M431 123h0M466 121h0M476 127h0M483 130h0M257 128h0M264 132h0M292 128h0M303 129h0M380 127h0M391 134h0M440 129h0M477 130h0M236 137h0M249 137h0M277 134h0M296 137h0M306 138h0M319 137h0M341 133h0M381 132h0M391 132h0M408 133h0M423 137h0M427 132h0M440 136h0M456 138h0M475 134h0M478 139h0M232 141h0M238 137h0M278 139h0M281 143h0M292 142h0M301 140h0M316 139h0M323 136h0M338 140h0M353 139h0M376 138h0M483 140h0M222 143h0M242 143h0M250 143h0M340 144h0M372 145h0M449 143h0M452 145h0M479 146h0M488 146h0M237 148h0M240 150h0M266 146h0M282 145h0M286 153h0M299 153h0M304 149h0M315 147h0M325 152h0M352 149h0M366 143h0M386 147h0M393 147h0M413 149h0M417 148h0M442 150h0M459 150h0M227 149h0M241 150h0M247 157h0M280 152h0M304 156h0M336 153h0M370 154h0M388 154h0M404 153h0M410 152h0M439 152h0M477 150h0M228 153h0M229 160h0M235 158h0M249 161h0M291 158h0M321 159h0M336 156h0M348 156h0M353 155h0M386 156h0M414 157h0M440 157h0M247 164h0M248 161h0M306 162h0M320 161h0M333 161h0M363 162h0M387 163h0M420 160h0M438 158h0M485 160h0M227 165h0M252 159h0M269 168h0M279 168h0M299 165h0M303 164h0M317 165h0M323 169h0M343 164h0M357 168h0M358 161h0M362 161h0M392 167h0M400 170h0M401 164h0M421 168h0M469 166h0M481 171h0M228 170h0M237 170h0M239 175h0M248 171h0M268 171h0M333 173h0M337 172h0M345 172h0M349 175h0M357 170h0M373 168h0M375 173h0M382 172h0M424 169h0M427 173h0M442 171h0M469 172h0M494 170h0M220 176h0M222 177h0M258 175h0M272 175h0M291 177h0M302 173h0M331 177h0M360 176h0M422 179h0M452 178h0M457 174h0M475 174h0M494 179h0M497 174h0M506 173h0M219 177h0M321 175h0M333 180h0M340 176h0M362 180h0M361 177h0M379 175h0M389 180h0M416 185h0M419 177h0M422 174h0M483 176h0M495 185h0M496 177h0M509 178h0M217 186h0M234 184h0M264 183h0M264 184h0M290 182h0M297 188h0M327 183h0M340 183h0M356 182h0M361 183h0M372 184h0M386 181h0M402 186h0M435 183h0M453 179h0M456 184h0M472 185h0M478 187h0M487 188h0M220 189h0M248 189h0M260 187h0M274 188h0M280 185h0M321 191h0M341 193h0M355 186h0M363 186h0M374 187h0M380 188h0M387 189h0M403 187h0M410 185h0M440 191h0M444 190h0M470 188h0M491 189h0M236 195h0M239 195h0M265 197h0M270 192h0M281 196h0M305 195h0M314 190h0M338 194h0M347 193h0M363 194h0M439 191h0M462 190h0M473 192h0M218 197h0M230 196h0M276 199h0M278 195h0M284 196h0M300 197h0M311 196h0M337 199h0M350 203h0M354 201h0M384 199h0M404 199h0M433 199h0M454 201h0M468 197h0M491 201h0M502 195h0M513 196h0M217 201h0M231 206h0M236 198h0M279 202h0M296 199h0M310 201h0M316 202h0M339 202h0M353 202h0M378 203h0M452 205h0M496 199h0M211 208h0M223 204h0M242 208h0M248 207h0M300 207h0M319 209h0M322 207h0M348 206h0M371 205h0M381 209h0M389 208h0M392 206h0M393 207h0M410 206h0M255 208h0M266 204h0M306 208h0M313 216h0M323 213h0M383 214h0M386 216h0M409 211h0M422 210h0M463 214h0M465 212h0M221 217h0M222 216h0M237 217h0M303 217h0M309 216h0M357 215h0M398 221h0M406 219h0M436 216h0M442 215h0M446 213h0M464 211h0M498 218h0M505 213h0M240 220h0M250 221h0M249 217h0M275 220h0M283 219h0M364 222h0M370 218h0M380 222h0M382 221h0M393 224h0M393 216h0M448 221h0M477 221h0M479 222h0M490 221h0M494 221h0M210 228h0M219 229h0M224 222h0M270 223h0M271 226h0M281 228h0M300 230h0M307 222h0M319 225h0M330 225h0M340 224h0M353 226h0M364 224h0M405 226h0M410 226h0M415 221h0M430 226h0M461 221h0M489 221h0M215 226h0M226 225h0M229 229h0M272 226h0M297 231h0M310 224h0M417 231h0M513 225h0M214 240h0M251 236h0M253 237h0M293 238h0M323 232h0M351 238h0M398 234h0M414 233h0M422 233h0M462 228h0M469 235h0M484 231h0M494 234h0M203 233h0M262 236h0M292 234h0M294 239h0M308 232h0M317 234h0M325 235h0M342 236h0M363 240h0M381 239h0M383 235h0M390 234h0M397 237h0M432 237h0M437 236h0M485 236h0M216 244h0M242 247h0M253 243h0M282 245h0M283 242h0M298 244h0M302 245h0M304 247h0M319 247h0M332 241h0M352 246h0M397 244h0M398 242h0M457 242h0M457 240h0M496 243h0M504 243h0M201 249h0M205 246h0M279 246h0M315 251h0M336 249h0M340 248h0M384 249h0M419 248h0M426 249h0M466 249h0M498 246h0M507 247h0M200 252h0M226 253h0M234 251h0M268 250h0M277 254h0M285 254h0M295 251h0M306 248h0M308 251h0M319 251h0M329 252h0M332 248h0M336 249h0M338 253h0M367 249h0M376 250h0M384 247h0M433 254h0M486 252h0M493 253h0M206 255h0M234 256h0M237 255h0M242 254h0M249 254h0M313 258h0M323 261h0M348 252h0M359 251h0M381 257h0M409 255h0M432 255h0M450 255h0M458 251h0M484 258h0M504 252h0M203 261h0M225 261h0M238 262h0M255 261h0M263 262h0M288 261h0M334 258h0M346 260h0M354 266h0M367 259h0M379 258h0M401 261h0M416 261h0M439 261h0M460 259h0M499 265h0M201 266h0M216 267h0M225 263h0M228 264h0M268 264h0M272 265h0M316 266h0M354 263h0M415 264h0M482 265h0M495 265h0M188 268h0M193 271h0M230 270h0M251 270h0M291 268h0M317 269h0M343 271h0M347 270h0M371 267h0M408 274h0M418 267h0M189 274h0M195 275h0M204 270h0M224 275h0M252 274h0M294 277h0M306 275h0M344 271h0M389 270h0M413 273h0M433 278h0M458 275h0M500 272h0M192 279h0M238 281h0M251 277h0M279 278h0M283 279h0M293 279h0M294 281h0M309 275h0M362 281h0M369 278h0M379 276h0M393 281h0M401 279h0M471 279h0M192 282h0M201 282h0M227 283h0M245 283h0M254 282h0M269 282h0M286 282h0M293 281h0M312 277h0M331 283h0M338 281h0M357 282h0M403 285h0M413 285h0M434 284h0M443 283h0M450 285h0M460 281h0M462 282h0M488 289h0M494 278h0M216 286h0M241 282h0M260 287h0M293 288h0M295 285h0M346 285h0M387 285h0M405 284h0M442 287h0M454 286h0M485 287h0M230 293h0M237 293h0M244 294h0M250 291h0M257 293h0M257 288h0M265 290h0M276 291h0M299 295h0M309 289h0M319 293h0M336 293h0M341 291h0M361 288h0M437 291h0M444 292h0M261 299h0M310 294h0M350 294h0M361 297h0M374 293h0M388 297h0M463 296h0M467 294h0M199 298h0M267 301h0M272 300h0M284 299h0M334 302h0M335 297h0M339 301h0M356 299h0M377 299h0M386 296h0M387 299h0M396 302h0M403 297h0M439 304h0M444 302h0M449 298h0M453 301h0M452 303h0M459 299h0M476 300h0M200 305h0M235 308h0M241 304h0M242 307h0M249 306h0M254 307h0M265 303h0M270 303h0M269 307h0M303 306h0M340 305h0M348 305h0M359 304h0M380 304h0M431 307h0M442 305h0M451 305h0M473 303h0M232 306h0M269 311h0M276 309h0M280 308h0M289 310h0M300 308h0M314 307h0M341 307h0M360 309h0M372 309h0M392 311h0M411 309h0M417 308h0M450 307h0M457 309h0M468 308h0M470 314h0M221 318h0M228 316h0M230 317h0M243 312h0M265 308h0M270 315h0M274 314h0M300 317h0M324 311h0M329 313h0M337 313h0M347 312h0M354 310h0M380 312h0M400 314h0M413 312h0M233 316h0M238 315h0M256 319h0M259 320h0M287 320h0M293 316h0M348 321h0M369 320h0M374 324h0M386 321h0M411 318h0M424 319h0M453 320h0M231 324h0M265 323h0M267 322h0M274 323h0M287 327h0M297 323h0M319 320h0M333 323h0M403 323h0M417 324h0M423 323h0M429 321h0M225 331h0M252 328h0M293 325h0M325 328h0M389 327h0M390 331h0M407 329h0M429 328h0M437 329h0M445 325h0M269 336h0M276 334h0M329 333h0M344 333h0M361 332h0M361 331h0M357 334h0M267 333h0M272 338h0M309 331h0M375 339h0M417 339h0M252 340h0M269 337h0M278 340h0M313 338h0M327 340h0M333 342h0M356 343h0M364 340h0M369 342h0M387 343h0M384 340h0M390 343h0M417 342h0M429 341h0M273 345h0M291 345h0M363 342h0M386 346h0M421 344h0M266 352h0M290 348h0M320 350h0M357 348h0M374 347h0M397 347h0M268 357h0M290 352h0M305 357h0M316 354h0M348 357h0M385 355h0M404 360h0M405 356h0M321 354h0M338 359h0M347 357h0M350 358h0M369 356h0M374 355h0M397 355h0M306 364h0M313 367h0M317 361h0M333 363h0M346 366h0M374 365h0M380 364h0M309 366h0M326 362h0M337 368h0M349 364h0M327 376h0M329 376h0M337 370h0M345 375h0M459 250h0M262 177h0M223 196h0M384 228h0M217 317h0M451 280h0M393 333h0M320 124h0M222 282h0M232 220h0M438 129h0M274 202h0M461 278h0M309 258h0M328 294h0M455 237h0M304 146h0M457 119h0M488 260h0M319 372h0M362 245h0M333 198h0M226 166h0M308 108h0M356 211h0M326 311h0M323 270h0M391 141h0M335 190h0M444 243h0M415 323h0M438 124h0M427 165h0M324 171h0M332 164h0M336 217h0M386 86h0M423 247h0M359 329h0M446 118h0M359 63h0M365 265h0M405 144h0M402 147h0M475 306h0M294 174h0M255 147h0M418 237h0M336 213h0M418 183h0M417 113h0M342 364h0M350 153h0M234 263h0M306 220h0M312 259h0M329 287h0M312 359h0M317 361h0M316 343h0M420 140h0M411 266h0M308 229h0M212 277h0M292 116h0M306 271h0M233 178h0M439 313h0M325 229h0M423 335h0M290 232h0M380 309h0M288 325h0M466 232h0M441 216h0M262 118h0M313 332h0M298 83h0M348 305h0M454 198h0M499 154h0M392 103h0M401 190h0M271 260h0M442 166h0M272 179h0M340 217h0M232 233h0M313 173h0M334 194h0M431 193h0M338 130h0M408 172h0M375 207h0M378 313h0M310 302h0M368 235h0M368 219h0M295 201h0M445 138h0M412 179h0M251 268h0M368 197h0M422 149h0M445 108h0M298 335h0M449 105h0M301 124h0M436 168h0M260 266h0M345 314h0M434 101h0M456 185h0M361 360h0M373 92h0M303 238h0M463 179h0M346 309h0M313 112h0M299 351h0M358 187h0M273 323h0M463 291h0M266 242h0M414 225h0M315 241h0M413 274h0M263 176h0M294 264h0M340 200h0M258 352h0M354 366h0M256 256h0M418 317h0M368 231h0M320 338h0M330 221h0M262 113h0M460 279h0M319 316h0M390 153h0M246 329h0M340 103h0M267 283h0M222 152h0M267 150h0M233 185h0M334 249h0M368 282h0M243 337h0M336 143h0M420 180h0M424 182h0M273 226h0M381 280h0M392 296h0M315 327h0M269 248h0M321 211h0M384 269h0M250 160h0M228 189h0M358 224h0M460 295h0M380 227h0M389 280h0M252 250h0M323 231h0M504 223h0M413 286h0M300 196h0M323 99h0M382 185h0M254 216h0M491 234h0M386 227h0M210 246h0M285 182h0M358 85h0M284 303h0M380 237h0M418 182h0M272 289h0M316 352h0M461 205h0M453 324h0M370 343h0M399 326h0M224 221h0M330 337h0M434 270h0M387 125h0M286 272h0M374 238h0M243 201h0M365 115h0M245 174h0M231 289h0M336 336h0M500 260h0M323 366h0M188 293h0M227 231h0M317 152h0M258 320h0M472 267h0M454 160h0M237 266h0M344 169h0M291 223h0M384 244h0M367 110h0M387 113h0M321 120h0M268 315h0M250 197h0M392 65h0M477 181h0M286 107h0M455 142h0M207 288h0M300 132h0M263 125h0M317 208h0M379 325h0M506 220h0M446 180h0M282 346h0M357 361h0M295 269h0M300 334h0M388 113h0M350 82h0M388 293h0M432 273h0M414 169h0M365 86h0M403 343h0M404 195h0M472 131h0M225 164h0M229 303h0M311 103h0M193 263h0M243 202h0M287 312h0M334 270h0M288 176h0M494 155h0M384 211h0M370 76h0M354 203h0M267 150h0M455 123h0M490 193h0M303 328h0M216 281h0M248 273h0M218 182h0M372 307h0M351 349h0M381 105h0M294 364h0M400 310h0M244 254h0M384 94h0M425 297h0M465 214h0M300 189h0M440 274h0M270 343h0M266 154h0M267 286h0M338 343h0M259 200h0M198 261h0M419 100h0M356 346h0M486 161h0M229 197h0M345 368h0M388 224h0M195 283h0M404 301h0M330 150h0M312 191h0M451 302h0M355 188h0M370 95h0M306 278h0M383 132h0M410 164h0M416 224h0M477 232h0M222 314h0M437 288h0M472 292h0M353 316h0M467 305h0M260 254h0M271 157h0M385 141h0M409 217h0M211 241h0M394 111h0M349 174h0M408 289h0M328 215h0M300 151h0M389 257h0M379 326h0M269 145h0M306 278h0M269 105h0M355 200h0M475 254h0M224 279h0M370 122h0M286 258h0M326 135h0M227 307h0M406 349h0M358 224h0M287 257h0M422 275h0M402 108h0M351 335h0M444 89h0M247 194h0M268 238h0M285 108h0M467 146h0M200 268h0M368 356h0M357 351h0M273 348h0M370 354h0M435 301h0M230 299h0M389 271h0M380 300h0M449 312h0M496 193h0M301 139h0M459 263h0M246 295h0M349 283h0M277 131h0M287 127h0M371 296h0M394 139h0M355 367h0M313 267h0M294 235h0M280 125h0M295 297h0M421 347h0M400 233h0M337 344h0M375 255h0M297 135h0M288 251h0M449 177h0M508 227h0M371 335h0M339 251h0M431 296h0M227 196h0M358 237h0M196 276h0M442 315h0M479 233h0M284 260h0M262 345h0M417 307h0M293 176h0M420 217h0M392 243h0M309 263h0M466 272h0M404 292h0M453 209h0M230 263h0M264 277h0M196 290h0M407 148h0M345 133h0M406 237h0M219 303h0M467 254h0M365 294h0M405 239h0M461 286h0M431 296h0M409 98h0M243 219h0M388 141h0M285 199h0M298 123h0M395 112h0M369 200h0M329 61h0M397 342h0M409 163h0M423 99h0M314 287h0M389 110h0M273 270h0M373 329h0M253 166h0M403 350h0M321 217h0M358 81h0M397 76h0M275 181h0M251 207h0M260 328h0M347 304h0M391 268h0M508 181h0M444 112h0M367 120h0M454 212h0M465 144h0M389 80h0M339 335h0M246 202h0M370 285h0M240 266h0M249 133h0M512 243h0M390 78h0M294 309h0M292 318h0M346 286h0M330 354h0M455 200h0M283 91h0M245 221h0M240 301h0M262 107h0M282 190h0M261 173h0M377 100h0M445 315h0M264 236h0M458 238h0M300 109h0M324 130h0M206 295h0M266 313h0M374 178h0M368 103h0M400 308h0M335 251h0M469 222h0M387 362h0M345 316h0M269 253h0M498 245h0M335 319h0M356 253h0M413 350h0M385 295h0M484 198h0M493 289h0M495 213h0M407 140h0M354 320h0M251 162h0M443 117h0M284 276h0M328 339h0M507 223h0M360 129h0M370 259h0M453 187h0M357 236h0M367 163h0M350 378h0M446 117h0M240 243h0M275 159h0M282 282h0M423 100h0M393 231h0M424 291h0M379 312h0M377 148h0M252 235h0M455 136h0M447 311h0M284 219h0M318 119h0M425 243h0M249 178h0M304 124h0M478 152h0M263 136h0M306 223h0M372 123h0M441 277h0M360 112h0M256 196h0M207 294h0M352 105h0M383 206h0M388 108h0M446 94h0M218 289h0M304 293h0M220 252h0M289 337h0M310 193h0M279 279h0M506 253h0M269 113h0M329 186h0M229 173h0M428 105h0M380 289h0M315 241h0M423 279h0M391 322h0M236 172h0M421 192h0M309 187h0M261 114h0M420 341h0M358 201h0M364 277h0M471 153h0M307 290h0M255 305h0M395 283h0M305 183h0M420 91h0M360 295h0M326 337h0M333 225h0M303 97h0M459 243h0M291 241h0M294 225h0M305 180h0M250 308h0M485 170h0M393 85h0M349 323h0M395 127h0M312 361h0M297 260h0M466 159h0M222 146h0M316 182h0M419 349h0M385 247h0M452 313h0M426 95h0M250 263h0M268 309h0M431 48h0M410 70h0M433 63h0M433 49h0M431 50h0M439 47h0M417 67h0M424 59h0M430 56h0M435 44h0M430 63h0M420 61h0M439 44h0M500 83h0M488 96h0M472 111h0M486 101h0M474 107h0M484 95h0M496 85h0M488 92h0M492 90h0M438 402h0M380 366h0M421 377h0M441 389h0M423 396h0M427 379h0"/>
<path id="HB2" transform="scale(.5)" d="M366 64h0M390 65h0M330 75h0M337 78h0M373 80h0M418 77h0M420 77h0M295 77h0M310 84h0M317 80h0M362 83h0M370 84h0M374 81h0M376 76h0M393 82h0M409 84h0M292 86h0M360 86h0M371 87h0M408 88h0M413 88h0M418 85h0M344 89h0M355 88h0M368 91h0M371 88h0M385 89h0M410 90h0M448 94h0M448 93h0M274 91h0M332 94h0M396 89h0M407 95h0M269 96h0M290 100h0M306 99h0M326 98h0M403 99h0M413 99h0M434 95h0M267 102h0M291 105h0M333 104h0M412 101h0M416 104h0M422 101h0M429 102h0M453 106h0M254 109h0M277 112h0M285 108h0M318 108h0M355 109h0M405 110h0M416 112h0M415 109h0M438 110h0M323 112h0M370 109h0M469 113h0M278 113h0M343 114h0M348 122h0M353 111h0M356 121h0M385 115h0M397 119h0M459 119h0M292 119h0M298 121h0M372 123h0M398 120h0M414 118h0M432 126h0M462 120h0M250 129h0M266 127h0M309 125h0M333 127h0M332 123h0M405 129h0M423 124h0M443 128h0M456 126h0M233 134h0M245 130h0M252 130h0M270 135h0M284 131h0M297 132h0M316 133h0M318 130h0M334 133h0M370 131h0M396 133h0M435 131h0M456 131h0M232 132h0M238 132h0M273 133h0M291 134h0M432 135h0M446 136h0M460 139h0M231 140h0M249 138h0M258 142h0M354 142h0M419 143h0M446 140h0M461 143h0M276 145h0M280 143h0M305 145h0M323 144h0M331 148h0M361 144h0M362 147h0M387 144h0M398 146h0M432 145h0M484 148h0M224 147h0M272 143h0M303 146h0M379 148h0M382 149h0M411 149h0M437 146h0M223 154h0M238 156h0M251 150h0M258 153h0M267 151h0M354 154h0M430 154h0M481 151h0M254 160h0M256 157h0M294 153h0M317 156h0M370 161h0M395 154h0M399 155h0M401 158h0M410 156h0M462 159h0M462 155h0M473 156h0M478 160h0M489 156h0M240 163h0M286 160h0M324 162h0M339 158h0M347 163h0M357 161h0M374 161h0M382 164h0M386 163h0M387 159h0M400 162h0M405 162h0M438 161h0M497 165h0M503 162h0M247 166h0M272 164h0M374 167h0M405 167h0M427 163h0M438 166h0M500 168h0M278 171h0M297 173h0M320 168h0M331 169h0M386 169h0M390 177h0M402 171h0M414 167h0M477 170h0M230 179h0M245 178h0M261 174h0M285 177h0M305 177h0M313 173h0M342 175h0M352 177h0M380 176h0M386 173h0M440 180h0M476 178h0M490 175h0M501 176h0M229 179h0M229 177h0M252 176h0M252 178h0M263 179h0M276 181h0M315 181h0M347 181h0M383 180h0M396 176h0M399 178h0M408 180h0M431 181h0M439 179h0M456 179h0M461 178h0M223 180h0M359 189h0M382 187h0M501 182h0M504 183h0M229 189h0M244 192h0M350 189h0M384 186h0M400 187h0M428 186h0M434 188h0M450 187h0M452 189h0M480 193h0M484 185h0M495 189h0M496 190h0M218 193h0M229 190h0M280 193h0M301 190h0M400 194h0M404 198h0M429 192h0M454 198h0M456 191h0M471 189h0M498 195h0M507 194h0M224 198h0M256 197h0M337 194h0M350 197h0M408 198h0M418 195h0M487 200h0M497 195h0M253 202h0M258 200h0M270 202h0M269 202h0M284 204h0M303 203h0M305 201h0M345 201h0M373 206h0M395 208h0M411 205h0M473 203h0M493 202h0M237 206h0M269 207h0M285 209h0M351 207h0M377 207h0M404 210h0M453 203h0M474 205h0M502 202h0M220 214h0M230 209h0M289 211h0M317 211h0M332 215h0M358 212h0M365 211h0M415 209h0M454 208h0M481 215h0M484 215h0M509 211h0M516 211h0M238 215h0M253 215h0M284 211h0M306 215h0M413 214h0M421 217h0M460 211h0M496 218h0M512 213h0M257 224h0M256 223h0M263 220h0M265 221h0M289 217h0M347 217h0M351 222h0M360 223h0M377 223h0M418 222h0M430 221h0M458 220h0M461 220h0M501 220h0M510 223h0M221 222h0M226 225h0M253 225h0M284 224h0M355 226h0M360 221h0M391 225h0M438 222h0M438 225h0M449 224h0M452 223h0M453 221h0M463 223h0M501 226h0M212 228h0M238 232h0M240 232h0M246 232h0M252 229h0M283 230h0M333 231h0M337 230h0M347 231h0M359 229h0M362 225h0M381 225h0M389 229h0M443 236h0M448 228h0M450 226h0M457 231h0M471 226h0M478 231h0M486 231h0M501 228h0M269 231h0M307 236h0M334 233h0M366 235h0M381 232h0M422 231h0M428 234h0M448 232h0M471 233h0M476 234h0M499 232h0M505 232h0M225 238h0M359 239h0M368 240h0M387 238h0M419 240h0M451 236h0M486 239h0M487 238h0M204 242h0M208 239h0M257 245h0M274 242h0M309 244h0M346 243h0M343 240h0M385 240h0M423 244h0M476 241h0M478 246h0M482 245h0M502 242h0M222 250h0M244 248h0M308 248h0M358 251h0M394 243h0M486 245h0M504 249h0M506 252h0M219 253h0M246 250h0M277 255h0M311 248h0M325 251h0M358 249h0M373 255h0M416 252h0M416 252h0M442 247h0M485 254h0M495 249h0M260 253h0M272 256h0M274 256h0M288 254h0M289 252h0M324 256h0M325 255h0M354 252h0M370 258h0M395 254h0M422 254h0M425 258h0M431 253h0M497 257h0M504 254h0M196 259h0M213 261h0M217 263h0M361 257h0M372 261h0M396 262h0M412 260h0M415 263h0M479 263h0M209 263h0M218 269h0M286 263h0M298 266h0M313 265h0M347 268h0M343 269h0M374 265h0M407 265h0M417 264h0M441 262h0M451 266h0M467 265h0M218 273h0M221 268h0M233 271h0M288 268h0M307 267h0M317 273h0M324 272h0M329 268h0M354 271h0M422 269h0M433 269h0M438 266h0M448 272h0M473 270h0M476 269h0M498 271h0M229 275h0M256 276h0M330 274h0M340 274h0M377 277h0M441 272h0M452 274h0M479 274h0M189 279h0M233 273h0M257 278h0M259 278h0M314 281h0M312 279h0M320 275h0M349 280h0M353 279h0M384 278h0M394 280h0M423 278h0M445 275h0M464 279h0M189 282h0M239 282h0M325 287h0M362 286h0M371 282h0M373 281h0M378 283h0M399 283h0M424 281h0M446 285h0M454 284h0M478 284h0M481 279h0M192 286h0M194 289h0M218 291h0M278 283h0M331 291h0M350 287h0M367 286h0M386 287h0M399 288h0M431 288h0M444 289h0M468 290h0M477 290h0M193 291h0M207 290h0M242 290h0M290 292h0M376 290h0M382 290h0M433 290h0M462 292h0M477 296h0M210 296h0M267 299h0M272 297h0M278 296h0M302 299h0M312 300h0M323 295h0M340 295h0M376 299h0M408 295h0M444 299h0M462 292h0M246 300h0M264 299h0M343 298h0M380 294h0M408 303h0M418 302h0M426 301h0M475 302h0M485 298h0M221 305h0M226 307h0M230 306h0M282 306h0M300 302h0M316 310h0M371 307h0M375 303h0M384 301h0M405 306h0M412 307h0M423 306h0M446 301h0M479 300h0M212 308h0M219 309h0M226 308h0M264 312h0M320 309h0M353 313h0M378 308h0M387 309h0M409 310h0M436 308h0M282 315h0M366 313h0M368 312h0M394 315h0M405 315h0M458 318h0M213 318h0M243 316h0M321 322h0M328 320h0M421 321h0M440 317h0M445 316h0M454 314h0M461 314h0M221 324h0M243 322h0M334 320h0M361 323h0M367 321h0M394 326h0M430 320h0M438 324h0M451 320h0M268 327h0M318 325h0M365 323h0M394 327h0M409 328h0M427 329h0M239 334h0M338 334h0M395 334h0M418 332h0M246 336h0M254 331h0M287 335h0M293 337h0M295 336h0M325 335h0M350 335h0M350 336h0M360 339h0M365 339h0M367 331h0M418 336h0M428 340h0M268 337h0M313 340h0M338 342h0M400 342h0M313 343h0M341 344h0M343 345h0M365 346h0M367 345h0M388 346h0M267 349h0M270 351h0M346 351h0M358 354h0M364 351h0M381 351h0M406 352h0M298 357h0M336 360h0M387 352h0M271 362h0M276 360h0M300 359h0M310 358h0M331 358h0M354 361h0M367 359h0M379 354h0M285 367h0M321 363h0M327 365h0M353 362h0M355 362h0M369 364h0M325 369h0M342 368h0M364 365h0M325 371h0M346 371h0M394 89h0M382 204h0M225 148h0M465 239h0M392 349h0M296 220h0M288 168h0M384 120h0M397 141h0M348 310h0M463 207h0M240 313h0M411 217h0M325 112h0M195 236h0M265 232h0M316 102h0M382 164h0M272 197h0M345 165h0M478 173h0M269 226h0M492 187h0M346 57h0M308 104h0M405 333h0M329 378h0M365 259h0M297 183h0M276 269h0M282 82h0M342 194h0M486 218h0M304 175h0M225 198h0M199 277h0M354 105h0M435 241h0M475 228h0M478 221h0M315 283h0M340 336h0M506 213h0M417 313h0M426 90h0M300 115h0M376 232h0M498 208h0M402 354h0M360 345h0M408 229h0M326 175h0M314 361h0M484 187h0M386 249h0M250 281h0M349 119h0M363 145h0M193 261h0M436 245h0M291 261h0M303 179h0M478 272h0M272 255h0M334 246h0M400 245h0M293 220h0M229 236h0M396 218h0M487 199h0M234 257h0M322 220h0M293 317h0M219 233h0M420 210h0M352 245h0M477 146h0M436 202h0M348 293h0M378 321h0M360 237h0M264 105h0M341 255h0M375 211h0M266 325h0M242 325h0M460 153h0M385 100h0M292 252h0M372 273h0M245 217h0M226 142h0M300 330h0M397 106h0M304 321h0M379 148h0M450 178h0M426 137h0M309 358h0M363 346h0M428 277h0M392 297h0M273 350h0M465 310h0M321 311h0M267 129h0M253 159h0M274 91h0M356 275h0M358 177h0M330 145h0M270 348h0M240 183h0M345 329h0M449 297h0M507 184h0M434 290h0M249 324h0M235 178h0M338 326h0M302 335h0M376 193h0M341 323h0M346 132h0M504 183h0M390 365h0M398 67h0M262 235h0M321 148h0M440 303h0M228 170h0M441 162h0M455 282h0M439 321h0M237 174h0M456 320h0M394 359h0M453 123h0M446 81h0M268 195h0M413 352h0M440 167h0M235 254h0M314 378h0M211 281h0M375 168h0M444 188h0M481 225h0M207 274h0M313 251h0M291 88h0M436 129h0M295 106h0M245 237h0M233 238h0M288 238h0M482 203h0M332 207h0M401 264h0M336 91h0M320 100h0M390 310h0M210 318h0M315 341h0M317 129h0M451 233h0M333 164h0M325 209h0M419 341h0M447 155h0M354 274h0M433 134h0M250 332h0M338 203h0M295 367h0M351 134h0M257 293h0M383 99h0M355 278h0M465 200h0M289 303h0M371 137h0M241 189h0M464 261h0M404 116h0M429 118h0M307 162h0M296 186h0M385 74h0M412 203h0M362 360h0M254 129h0M342 188h0M246 331h0M271 207h0M291 150h0M209 268h0M227 307h0M421 334h0M477 233h0M321 172h0M404 267h0M289 284h0M459 243h0M219 218h0M219 319h0M292 267h0M274 297h0M384 274h0M439 196h0M354 258h0M362 340h0M218 226h0M421 208h0M359 96h0M340 91h0M487 276h0M330 169h0M418 284h0M496 238h0M349 229h0M411 84h0M264 201h0M447 169h0M490 185h0M433 86h0M256 151h0M437 95h0M449 114h0M337 221h0M493 168h0M261 214h0M406 177h0M414 297h0M428 145h0M347 212h0M387 231h0M413 293h0M287 101h0M320 288h0M420 337h0M421 101h0M423 238h0M306 206h0M332 108h0M389 264h0M374 251h0M453 217h0M434 217h0M270 168h0M413 249h0M212 301h0M217 219h0M468 264h0M323 73h0M336 120h0M405 310h0M482 166h0M284 147h0M391 167h0M314 134h0M435 248h0M389 161h0M466 195h0M315 215h0M448 125h0M456 141h0M514 194h0M265 235h0M477 189h0M480 225h0M438 278h0M404 111h0M480 204h0M243 122h0M313 71h0M315 250h0M315 374h0M323 60h0M332 289h0M234 284h0M400 164h0M264 319h0M463 307h0M469 317h0M376 227h0M483 280h0M331 132h0M427 203h0M325 225h0M298 163h0M248 184h0M404 68h0M490 188h0M303 140h0M305 264h0M303 128h0M405 316h0M466 103h0M385 82h0M219 164h0M369 94h0M310 173h0M310 304h0M465 311h0M361 226h0M278 250h0M253 181h0M342 322h0M384 273h0M296 202h0M336 248h0M222 246h0M243 285h0M403 196h0M322 243h0M342 112h0M215 291h0M411 209h0M397 260h0M299 304h0M294 185h0M406 293h0M481 204h0M447 183h0M294 317h0M226 263h0M489 256h0M455 137h0M315 154h0M330 344h0M366 271h0M285 290h0M276 303h0M302 214h0M421 227h0M240 200h0M495 277h0M441 263h0M287 143h0M450 263h0M240 220h0M368 361h0M352 321h0M352 111h0M362 145h0M261 249h0M434 185h0M302 192h0M334 123h0M409 98h0M476 281h0M263 317h0M271 321h0M359 278h0M232 226h0M418 224h0M506 195h0M352 344h0M323 228h0M398 306h0M446 274h0M486 223h0M459 300h0M493 170h0M422 142h0M298 310h0M297 117h0M250 312h0M374 333h0M333 129h0M458 276h0M276 198h0M421 250h0M434 140h0M357 357h0M406 103h0M299 132h0M269 283h0M392 107h0M360 216h0M427 149h0M323 126h0M370 280h0M293 297h0M342 359h0M231 197h0M497 163h0M295 354h0M310 116h0M432 94h0M394 331h0M289 207h0M419 303h0M245 289h0M306 323h0M253 352h0M343 97h0M420 221h0M294 254h0M380 216h0M498 211h0M267 187h0M215 216h0M318 263h0M337 236h0M201 297h0M454 114h0M424 297h0M379 237h0M349 209h0M370 109h0M398 80h0M419 266h0M241 184h0M427 77h0M316 287h0M393 335h0M230 326h0M323 188h0M456 291h0M305 317h0M259 102h0M382 333h0M263 232h0M433 94h0M358 142h0M350 114h0M374 98h0M301 282h0M261 317h0M346 211h0M394 361h0M513 175h0M483 186h0M361 182h0M378 133h0M316 272h0M316 96h0M434 138h0M315 167h0M380 99h0M442 336h0M305 74h0M376 130h0M326 135h0M430 136h0M448 276h0M287 187h0M236 173h0M288 221h0M375 294h0M499 206h0M338 296h0M363 324h0M465 251h0M394 109h0M326 246h0M360 182h0M282 101h0M275 218h0M453 121h0M315 130h0M435 143h0M440 39h0M427 54h0M435 51h0M425 65h0M431 51h0M429 61h0M421 63h0M429 59h0M425 65h0M416 67h0M441 36h0M430 54h0M442 41h0M416 71h0M484 92h0M483 93h0M497 83h0M472 117h0M481 106h0M470 107h0M495 86h0M501 79h0M473 100h0M482 96h0M492 90h0M484 106h0M443 397h0M417 367h0M395 356h0M414 376h0M409 355h0M408 352h0"/>
<path id="HB3" transform="scale(.5)" d="M339 68h0M393 75h0M357 77h0M352 85h0M388 80h0M400 81h0M340 100h0M356 93h0M370 98h0M287 102h0M390 106h0M396 104h0M328 107h0M362 107h0M316 114h0M405 112h0M410 113h0M456 111h0M294 120h0M318 115h0M379 119h0M411 115h0M445 114h0M458 118h0M286 123h0M332 125h0M339 130h0M362 134h0M378 130h0M423 130h0M378 137h0M402 133h0M415 134h0M279 140h0M288 135h0M311 140h0M395 141h0M400 139h0M409 142h0M412 139h0M423 135h0M428 139h0M246 145h0M317 144h0M348 149h0M409 145h0M444 145h0M492 144h0M402 149h0M471 150h0M316 150h0M319 153h0M503 151h0M263 157h0M277 159h0M280 161h0M314 154h0M454 155h0M296 168h0M329 165h0M398 164h0M430 165h0M469 162h0M309 167h0M225 175h0M239 171h0M264 171h0M294 172h0M436 171h0M453 168h0M464 174h0M485 173h0M490 174h0M348 174h0M489 171h0M287 180h0M443 178h0M451 177h0M473 179h0M485 178h0M299 182h0M443 184h0M225 185h0M310 190h0M413 190h0M308 197h0M328 195h0M424 195h0M448 194h0M252 198h0M266 195h0M293 198h0M228 202h0M252 201h0M323 199h0M425 202h0M508 199h0M254 208h0M367 204h0M427 209h0M463 204h0M486 203h0M510 208h0M278 215h0M352 214h0M382 206h0M448 204h0M265 219h0M263 215h0M277 215h0M287 212h0M435 217h0M278 215h0M319 221h0M469 216h0M263 224h0M334 224h0M378 224h0M294 227h0M221 233h0M234 229h0M290 233h0M345 232h0M459 231h0M503 236h0M419 240h0M435 242h0M231 243h0M280 249h0M324 246h0M330 248h0M367 248h0M377 249h0M478 250h0M207 251h0M223 248h0M443 252h0M463 249h0M199 256h0M281 252h0M360 257h0M384 258h0M251 261h0M316 261h0M452 258h0M460 260h0M252 266h0M356 264h0M495 263h0M270 270h0M280 267h0M404 265h0M316 273h0M329 273h0M365 273h0M482 275h0M213 275h0M328 279h0M433 281h0M236 285h0M258 285h0M303 285h0M350 282h0M419 280h0M427 284h0M485 286h0M196 287h0M203 289h0M219 285h0M255 289h0M256 287h0M305 283h0M367 290h0M398 290h0M216 292h0M229 289h0M320 291h0M414 292h0M422 295h0M443 291h0M278 298h0M318 296h0M397 294h0M214 295h0M243 299h0M287 301h0M305 300h0M316 301h0M349 301h0M344 313h0M208 311h0M335 310h0M343 313h0M360 309h0M379 311h0M441 307h0M346 318h0M369 314h0M355 318h0M440 319h0M310 324h0M380 324h0M440 321h0M442 321h0M254 326h0M304 328h0M312 331h0M332 323h0M310 328h0M318 329h0M379 329h0M396 333h0M425 328h0M316 334h0M399 339h0M414 337h0M288 341h0M323 343h0M264 345h0M350 346h0M412 345h0M311 357h0M314 354h0M330 353h0M387 361h0M307 362h0M285 365h0M340 362h0M327 367h0M335 374h0M292 115h0M405 118h0M367 157h0M484 181h0M487 283h0M337 256h0M244 289h0M357 325h0M267 134h0M425 266h0M260 312h0M385 370h0M263 219h0M274 327h0M450 99h0M421 86h0M307 355h0M397 78h0M486 266h0M322 233h0M352 357h0M280 279h0M380 244h0M273 257h0M368 306h0M241 311h0M471 107h0M397 275h0M394 211h0M296 347h0M398 195h0M404 344h0M487 243h0M340 275h0M263 294h0M426 107h0M465 295h0M271 109h0M359 78h0M341 280h0M208 227h0M431 280h0M462 108h0M291 228h0M223 279h0M279 139h0M237 234h0M387 125h0M309 194h0M309 360h0M478 267h0M411 167h0M369 222h0M307 295h0M471 133h0M376 87h0M243 135h0M307 330h0M311 229h0M409 139h0M349 279h0M252 129h0M476 220h0M369 78h0M480 143h0M488 153h0M194 248h0M360 71h0M256 254h0M366 208h0M255 241h0M431 277h0M354 190h0M393 151h0M307 194h0M401 111h0M256 113h0M489 161h0M364 284h0M356 272h0M396 153h0M215 212h0M493 267h0M432 86h0M494 168h0M265 115h0M272 312h0M211 310h0M247 326h0M368 250h0M378 154h0M298 153h0M244 124h0M413 314h0M384 117h0M325 101h0M406 261h0M305 355h0M451 182h0M328 374h0M399 347h0M348 111h0M269 328h0M324 288h0M355 161h0M249 290h0M219 248h0M402 212h0M209 292h0M401 121h0M282 180h0M449 319h0M495 233h0M389 285h0M425 316h0M248 219h0M258 343h0M398 99h0M450 275h0M294 357h0M307 135h0M446 194h0M413 163h0M380 200h0M314 143h0M352 283h0M338 139h0M265 241h0M277 278h0M470 235h0M324 370h0M282 140h0M396 294h0M474 166h0M429 321h0M397 164h0M426 59h0M443 40h0M416 71h0M425 60h0M423 59h0M416 76h0M467 108h0M486 94h0M491 83h0M493 88h0M478 95h0M421 362h0M398 345h0"/>
<path id="HT0" transform="scale(.5)" d="M412 447h0M353 378h0M408 409h0M409 447h0M405 431h0M379 418h0M364 387h0M398 433h0M438 450h0M402 439h0M376 420h0M380 436h0M407 451h0M413 447h0M379 398h0M379 401h0M405 420h0M352 380h0M362 373h0M394 418h0M383 433h0M405 435h0M386 416h0M387 413h0M383 382h0M389 442h0M405 439h0M375 413h0M410 450h0M404 437h0M392 426h0M385 411h0M396 429h0M412 433h0M399 463h0M378 390h0M407 464h0M379 396h0M359 396h0M361 364h0M403 416h0M360 401h0M358 385h0M407 433h0M371 414h0M407 432h0M363 364h0M374 371h0M395 405h0M388 392h0M380 430h0M405 453h0M415 484h0M413 444h0M423 442h0M378 437h0M432 456h0M376 403h0M424 452h0M429 468h0M407 421h0M355 414h0M417 429h0M424 449h0M381 410h0M364 357h0M365 420h0M385 385h0M389 423h0M380 379h0M356 403h0M380 442h0M336 386h0M399 461h0M386 406h0M402 447h0M390 418h0M424 446h0M372 401h0M386 405h0M386 415h0M410 425h0M369 378h0M417 456h0M402 430h0M376 390h0M386 434h0M363 386h0M387 414h0M389 423h0M383 433h0M420 464h0M376 403h0M410 458h0M377 355h0M374 402h0M449 474h0M424 514h0M413 477h0M426 487h0M444 479h0M440 489h0M437 493h0M448 503h0M422 502h0M436 478h0M417 472h0M435 494h0M434 474h0M441 476h0M412 475h0M442 473h0M428 508h0M441 496h0M432 463h0M431 468h0M441 482h0M421 514h0M434 489h0M438 487h0M447 497h0M444 467h0M412 502h0M428 506h0M426 506h0M438 468h0M428 497h0M412 471h0M434 477h0M431 504h0M448 477h0M424 492h0M417 461h0M437 481h0M419 521h0M429 502h0M450 482h0M416 491h0M411 471h0M434 467h0M422 482h0M432 489h0M430 469h0M436 470h0M433 467h0M449 482h0M429 479h0M410 475h0M435 472h0M445 487h0M433 496h0M441 495h0M415 480h0M425 506h0M428 513h0M424 474h0M429 487h0M423 476h0M433 514h0M445 480h0M438 468h0M414 483h0M431 486h0M419 479h0M442 505h0M433 512h0M429 499h0M437 508h0M431 511h0M418 487h0M445 476h0M418 466h0M441 486h0M422 475h0M452 480h0M419 469h0M430 512h0M415 492h0M440 482h0M415 483h0M445 470h0M419 495h0M439 478h0M432 493h0M445 466h0M411 479h0M451 473h0M413 487h0M441 467h0M428 511h0M412 480h0M417 470h0M434 508h0M438 481h0M409 478h0M450 494h0M447 484h0M425 471h0M413 469h0M442 475h0M433 470h0M414 501h0M448 482h0M420 474h0M428 490h0M444 486h0M441 494h0M431 476h0M440 462h0M433 515h0M438 494h0M419 506h0M425 472h0M427 503h0M444 496h0M436 467h0M405 485h0M433 509h0M437 475h0M421 480h0M446 484h0M425 461h0M448 496h0M436 502h0M410 499h0M418 476h0M414 490h0M424 501h0M429 486h0M436 483h0M439 497h0M428 514h0M428 499h0M414 505h0M452 499h0"/>
<path id="HT1" transform="scale(.5)" d="M409 478h0M406 473h0M424 454h0M379 431h0M380 407h0M375 421h0M377 373h0M361 363h0M424 454h0M366 368h0M405 434h0M377 410h0M390 390h0M383 397h0M382 398h0M360 401h0M399 439h0M382 394h0M349 411h0M365 400h0M359 369h0M412 436h0M350 402h0M403 429h0M417 460h0M357 377h0M401 438h0M370 345h0M383 386h0M409 463h0M355 350h0M374 385h0M349 392h0M411 452h0M370 452h0M390 405h0M395 429h0M394 466h0M430 477h0M405 489h0M430 491h0M416 501h0M410 475h0M429 497h0M435 475h0M446 499h0M438 493h0M426 486h0M448 486h0M437 513h0M437 490h0M423 491h0M416 500h0M439 494h0M452 499h0M444 503h0M441 510h0M441 475h0M410 476h0M447 480h0M443 475h0M422 470h0M440 492h0M430 463h0M443 469h0M440 510h0M448 471h0M409 507h0M408 479h0M434 503h0M414 499h0M447 491h0M417 464h0M435 512h0M420 485h0M434 468h0M449 496h0M417 506h0M432 487h0M439 481h0M428 513h0M423 478h0M425 518h0M445 506h0M419 517h0M446 485h0M431 489h0M421 480h0M420 490h0M417 489h0M411 490h0M424 504h0M443 501h0M444 474h0M439 495h0M411 474h0M418 484h0M420 502h0M438 513h0"/>
<path id="HT2" transform="scale(.5)" d="M415 449h0M348 395h0M362 400h0M382 426h0M361 381h0M386 419h0M379 448h0M386 385h0M354 357h0M369 396h0M376 424h0M404 441h0M360 399h0M380 399h0M405 483h0M368 365h0M397 413h0M373 380h0M423 411h0M427 439h0M365 386h0M407 458h0M409 426h0M394 439h0M399 398h0M348 367h0M397 445h0M349 398h0M433 436h0M375 420h0M392 425h0M358 368h0M408 469h0M390 441h0M403 447h0M402 440h0M363 381h0M379 391h0M426 468h0M436 499h0M423 475h0M424 517h0M423 480h0M423 468h0M441 473h0M437 474h0M415 480h0M432 463h0M417 480h0M430 492h0M428 472h0M414 480h0M432 486h0M423 462h0M416 498h0M439 470h0M442 485h0M445 474h0M416 495h0M432 485h0M426 463h0M436 493h0M408 487h0M425 479h0M445 508h0M445 486h0M444 507h0M426 483h0M433 471h0M436 477h0M427 468h0"/>
<path id="HT3" transform="scale(.5)" d="M387 376h0M391 442h0M352 358h0M369 377h0M391 405h0M406 437h0M410 449h0M392 406h0M407 410h0M379 397h0M412 451h0M420 438h0M419 507h0M408 479h0M436 465h0M419 479h0M434 495h0M429 479h0M426 482h0M423 483h0M415 496h0M416 466h0M413 469h0M430 501h0M428 476h0M435 461h0M429 501h0M433 520h0M432 495h0M414 484h0M441 468h0M442 483h0M432 507h0M426 511h0"/>
<filter id="fz" x="-5%" y="-5%" width="110%" height="110%" color-interpolation-filters="sRGB"><feGaussianBlur in="SourceAlpha" stdDeviation="5.5" result="b"/><feTurbulence type="fractalNoise" baseFrequency="0.9" numOctaves="1" seed="2" result="n"/><feColorMatrix in="n" type="matrix" values="0 0 0 0 0 0 0 0 0 0 0 0 0 0 0 2.2 0 0 0 -0.6000000000000001" result="na"/><feComposite in="b" in2="na" operator="arithmetic" k1="0" k2="10.811" k3="5" k4="-9.541" result="m"/><feComposite in="SourceGraphic" in2="m" operator="in"/></filter>
<filter id="fzt" x="-5%" y="-5%" width="110%" height="110%" color-interpolation-filters="sRGB"><feGaussianBlur in="SourceAlpha" stdDeviation="2.6" result="b"/><feTurbulence type="fractalNoise" baseFrequency="0.9" numOctaves="1" seed="8" result="n"/><feColorMatrix in="n" type="matrix" values="0 0 0 0 0 0 0 0 0 0 0 0 0 0 0 2.2 0 0 0 -0.6000000000000001" result="na"/><feComposite in="b" in2="na" operator="arithmetic" k1="0" k2="9.677" k3="5" k4="-8.387" result="m"/><feComposite in="SourceGraphic" in2="m" operator="in"/></filter>
<filter id="fzw" x="-5%" y="-5%" width="110%" height="110%" color-interpolation-filters="sRGB"><feGaussianBlur in="SourceAlpha" stdDeviation="4.0" result="b"/><feTurbulence type="fractalNoise" baseFrequency="0.9" numOctaves="1" seed="5" result="n"/><feColorMatrix in="n" type="matrix" values="0 0 0 0 0 0 0 0 0 0 0 0 0 0 0 2.2 0 0 0 -0.6000000000000001" result="na"/><feComposite in="b" in2="na" operator="arithmetic" k1="0" k2="9.677" k3="5" k4="-8.677" result="m"/><feComposite in="SourceGraphic" in2="m" operator="in"/></filter>
<linearGradient id="wgm" gradientUnits="userSpaceOnUse" x1="60" y1="150" x2="75" y2="40"><stop offset="0" stop-color="#fff"/><stop offset="0.3" stop-color="#e0e0e0"/><stop offset="0.6" stop-color="#a8a8a8"/><stop offset="0.85" stop-color="#9a9a9a"/><stop offset="1" stop-color="#c0c0c0"/></linearGradient><mask id="wm" maskUnits="userSpaceOnUse" x="-20" y="-20" width="320" height="320"><rect x="-20" y="-20" width="320" height="320" fill="url(#wgm)"/></mask>
<linearGradient id="wgm2" gradientUnits="userSpaceOnUse" x1="60" y1="150" x2="75" y2="40"><stop offset="0" stop-color="#fff"/><stop offset="0.4" stop-color="#f0f0f0"/><stop offset="0.65" stop-color="#b4b4b4"/><stop offset="0.85" stop-color="#b0b0b0"/><stop offset="1" stop-color="#e0e0e0"/></linearGradient><mask id="wm2" maskUnits="userSpaceOnUse" x="-20" y="-20" width="320" height="320"><rect x="-20" y="-20" width="320" height="320" fill="url(#wgm2)"/></mask>
<linearGradient id="g1" gradientUnits="userSpaceOnUse" x1="30.0" y1="50.0" x2="230.0" y2="230.0"><stop offset="0.000" stop-color="#433a84"/><stop offset="0.500" stop-color="#3d4a86"/><stop offset="1.000" stop-color="#37638c"/></linearGradient>
<linearGradient id="g2" gradientUnits="userSpaceOnUse" x1="391.5" y1="363.9" x2="391.5" y2="527.5"><stop offset="0.000" stop-color="#38588c"/><stop offset="1.000" stop-color="#31678e"/></linearGradient>
<linearGradient id="g3" gradientUnits="userSpaceOnUse" x1="391.5" y1="363.9" x2="391.5" y2="527.5"><stop offset="0.000" stop-color="#2c738e"/><stop offset="1.000" stop-color="#26828e"/></linearGradient>
<linearGradient id="g4" gradientUnits="userSpaceOnUse" x1="391.5" y1="363.9" x2="391.5" y2="527.5"><stop offset="0.000" stop-color="#443983"/><stop offset="1.000" stop-color="#3e4a89"/></linearGradient>
<linearGradient id="g5" gradientUnits="userSpaceOnUse" x1="391.5" y1="363.9" x2="391.5" y2="527.5"><stop offset="0.000" stop-color="#1fa187"/><stop offset="1.000" stop-color="#2ab07f"/></linearGradient>
<linearGradient id="g6" gradientUnits="userSpaceOnUse" x1="10.1" y1="187.7" x2="204.7" y2="187.7"><stop offset="0.000" stop-color="#472a7a"/><stop offset="1.000" stop-color="#433e85"/></linearGradient>
<linearGradient id="g7" gradientUnits="userSpaceOnUse" x1="10.1" y1="187.7" x2="204.7" y2="187.7"><stop offset="0.000" stop-color="#3d4d8a"/><stop offset="1.000" stop-color="#365d8d"/></linearGradient>
<linearGradient id="g8" gradientUnits="userSpaceOnUse" x1="10.1" y1="187.7" x2="204.7" y2="187.7"><stop offset="0.000" stop-color="#46075a"/><stop offset="1.000" stop-color="#481c6e"/></linearGradient>
<linearGradient id="g9" gradientUnits="userSpaceOnUse" x1="10.1" y1="187.7" x2="204.7" y2="187.7"><stop offset="0.000" stop-color="#277e8e"/><stop offset="1.000" stop-color="#228c8d"/></linearGradient>
<linearGradient id="g10" gradientUnits="userSpaceOnUse" x1="152.2" y1="17.3" x2="509.5" y2="374.5"><stop offset="0.000" stop-color="#414487"/><stop offset="0.500" stop-color="#32648e"/><stop offset="1.000" stop-color="#2a788e"/></linearGradient>
<linearGradient id="g11" gradientUnits="userSpaceOnUse" x1="152.2" y1="17.3" x2="509.5" y2="374.5"><stop offset="0.000" stop-color="#33628d"/><stop offset="0.500" stop-color="#27808e"/><stop offset="1.000" stop-color="#20938c"/></linearGradient>
<linearGradient id="g12" gradientUnits="userSpaceOnUse" x1="152.2" y1="17.3" x2="509.5" y2="374.5"><stop offset="0.000" stop-color="#482374"/><stop offset="0.500" stop-color="#3f4889"/><stop offset="1.000" stop-color="#355e8d"/></linearGradient>
<linearGradient id="g13" gradientUnits="userSpaceOnUse" x1="152.2" y1="17.3" x2="509.5" y2="374.5"><stop offset="0.000" stop-color="#20928c"/><stop offset="0.500" stop-color="#27ad81"/><stop offset="1.000" stop-color="#46c06f"/></linearGradient>
<linearGradient id="g14" gradientUnits="userSpaceOnUse" x1="438.0" y1="0.0" x2="529.0" y2="0.0"><stop offset="0.000" stop-color="#440154"/><stop offset="0.100" stop-color="#482475"/><stop offset="0.200" stop-color="#414487"/><stop offset="0.300" stop-color="#355f8d"/><stop offset="0.400" stop-color="#2a788e"/><stop offset="0.500" stop-color="#21918c"/><stop offset="0.600" stop-color="#22a884"/><stop offset="0.700" stop-color="#44bf70"/><stop offset="0.800" stop-color="#7ad151"/><stop offset="0.900" stop-color="#bddf26"/><stop offset="1.000" stop-color="#fde725"/></linearGradient>
<linearGradient id="g15" gradientUnits="userSpaceOnUse" x1="376.9" y1="345.6" x2="376.9" y2="468.9"><stop offset="0.000" stop-color="#355f8d"/><stop offset="1.000" stop-color="#2f6c8e"/></linearGradient>
<linearGradient id="g16" gradientUnits="userSpaceOnUse" x1="376.9" y1="345.6" x2="376.9" y2="468.9"><stop offset="0.000" stop-color="#26828e"/><stop offset="1.000" stop-color="#218e8d"/></linearGradient>
<linearGradient id="g17" gradientUnits="userSpaceOnUse" x1="376.9" y1="345.6" x2="376.9" y2="468.9"><stop offset="0.000" stop-color="#443a83"/><stop offset="1.000" stop-color="#3e4989"/></linearGradient>
<linearGradient id="g18" gradientUnits="userSpaceOnUse" x1="376.9" y1="345.6" x2="376.9" y2="468.9"><stop offset="0.000" stop-color="#3bbb75"/><stop offset="1.000" stop-color="#52c569"/></linearGradient>
<linearGradient id="g19" gradientUnits="userSpaceOnUse" x1="32.1" y1="214.5" x2="216.6" y2="214.5"><stop offset="0.000" stop-color="#287d8e"/><stop offset="0.500" stop-color="#287d8e"/><stop offset="1.000" stop-color="#25848e"/></linearGradient>
<linearGradient id="g20" gradientUnits="userSpaceOnUse" x1="32.1" y1="214.5" x2="216.6" y2="214.5"><stop offset="0.000" stop-color="#1f9f88"/><stop offset="0.500" stop-color="#1f9f88"/><stop offset="1.000" stop-color="#21a685"/></linearGradient>
<linearGradient id="g21" gradientUnits="userSpaceOnUse" x1="32.1" y1="214.5" x2="216.6" y2="214.5"><stop offset="0.000" stop-color="#365d8d"/><stop offset="0.500" stop-color="#365d8d"/><stop offset="1.000" stop-color="#32648e"/></linearGradient>
<linearGradient id="g22" gradientUnits="userSpaceOnUse" x1="32.1" y1="214.5" x2="216.6" y2="214.5"><stop offset="0.000" stop-color="#7ad151"/><stop offset="0.500" stop-color="#7ad151"/><stop offset="1.000" stop-color="#8ed645"/></linearGradient>
<linearGradient id="g23" gradientUnits="userSpaceOnUse" x1="85.5" y1="122.3" x2="199.6" y2="122.3"><stop offset="0.000" stop-color="#481769"/><stop offset="0.500" stop-color="#482475"/><stop offset="1.000" stop-color="#355f8d"/></linearGradient>
<linearGradient id="g24" gradientUnits="userSpaceOnUse" x1="85.5" y1="122.3" x2="199.6" y2="122.3"><stop offset="0.000" stop-color="#414487"/><stop offset="0.500" stop-color="#3c4f8a"/><stop offset="1.000" stop-color="#26828e"/></linearGradient>
<linearGradient id="g25" gradientUnits="userSpaceOnUse" x1="85.5" y1="122.3" x2="199.6" y2="122.3"><stop offset="0.000" stop-color="#440154"/><stop offset="0.500" stop-color="#440154"/><stop offset="1.000" stop-color="#443a83"/></linearGradient>
<linearGradient id="g26" gradientUnits="userSpaceOnUse" x1="85.5" y1="122.3" x2="199.6" y2="122.3"><stop offset="0.000" stop-color="#26828e"/><stop offset="0.500" stop-color="#228b8d"/><stop offset="1.000" stop-color="#3bbb75"/></linearGradient>
<linearGradient id="g27" gradientUnits="userSpaceOnUse" x1="69.5" y1="137.2" x2="69.5" y2="204.5"><stop offset="0.000" stop-color="#481769"/><stop offset="1.000" stop-color="#481769"/></linearGradient>
<linearGradient id="g28" gradientUnits="userSpaceOnUse" x1="69.5" y1="137.2" x2="69.5" y2="204.5"><stop offset="0.000" stop-color="#414487"/><stop offset="1.000" stop-color="#414487"/></linearGradient>
<linearGradient id="g29" gradientUnits="userSpaceOnUse" x1="69.5" y1="137.2" x2="69.5" y2="204.5"><stop offset="0.000" stop-color="#440154"/><stop offset="1.000" stop-color="#440154"/></linearGradient>
<linearGradient id="g30" gradientUnits="userSpaceOnUse" x1="69.5" y1="137.2" x2="69.5" y2="204.5"><stop offset="0.000" stop-color="#26828e"/><stop offset="1.000" stop-color="#26828e"/></linearGradient>
<linearGradient id="g31" gradientUnits="userSpaceOnUse" x1="351.3" y1="27.3" x2="293.2" y2="356.8"><stop offset="0.000" stop-color="#26ad81"/><stop offset="0.333" stop-color="#1e9c89"/><stop offset="0.667" stop-color="#25848e"/><stop offset="1.000" stop-color="#31678e"/></linearGradient>
<linearGradient id="g32" gradientUnits="userSpaceOnUse" x1="351.3" y1="27.3" x2="293.2" y2="356.8"><stop offset="0.000" stop-color="#63cb5f"/><stop offset="0.333" stop-color="#3fbc73"/><stop offset="0.667" stop-color="#21a685"/><stop offset="1.000" stop-color="#23898e"/></linearGradient>
<linearGradient id="g33" gradientUnits="userSpaceOnUse" x1="351.3" y1="27.3" x2="293.2" y2="356.8"><stop offset="0.000" stop-color="#218e8d"/><stop offset="0.333" stop-color="#287d8e"/><stop offset="0.667" stop-color="#32648e"/><stop offset="1.000" stop-color="#414487"/></linearGradient>
<linearGradient id="g34" gradientUnits="userSpaceOnUse" x1="351.3" y1="27.3" x2="293.2" y2="356.8"><stop offset="0.000" stop-color="#fde725"/><stop offset="0.333" stop-color="#d2e21b"/><stop offset="0.667" stop-color="#8ed645"/><stop offset="1.000" stop-color="#48c16e"/></linearGradient>
<linearGradient id="g35" gradientUnits="userSpaceOnUse" x1="376.9" y1="345.6" x2="376.9" y2="468.9"><stop offset="0.000" stop-color="#25848e"/><stop offset="1.000" stop-color="#3b528b"/></linearGradient>
<linearGradient id="g36" gradientUnits="userSpaceOnUse" x1="376.9" y1="345.6" x2="376.9" y2="468.9"><stop offset="0.000" stop-color="#21a685"/><stop offset="1.000" stop-color="#2b758e"/></linearGradient>
<linearGradient id="g37" gradientUnits="userSpaceOnUse" x1="376.9" y1="345.6" x2="376.9" y2="468.9"><stop offset="0.000" stop-color="#32648e"/><stop offset="1.000" stop-color="#472a7a"/></linearGradient>
<linearGradient id="g38" gradientUnits="userSpaceOnUse" x1="376.9" y1="345.6" x2="376.9" y2="468.9"><stop offset="0.000" stop-color="#8ed645"/><stop offset="1.000" stop-color="#29af7f"/></linearGradient>
<linearGradient id="g39" gradientUnits="userSpaceOnUse" x1="32.1" y1="214.5" x2="216.6" y2="214.5"><stop offset="0.000" stop-color="#414487"/><stop offset="0.500" stop-color="#355f8d"/><stop offset="1.000" stop-color="#22a884"/></linearGradient>
<linearGradient id="g40" gradientUnits="userSpaceOnUse" x1="32.1" y1="214.5" x2="216.6" y2="214.5"><stop offset="0.000" stop-color="#306a8e"/><stop offset="0.500" stop-color="#26828e"/><stop offset="1.000" stop-color="#58c765"/></linearGradient>
<linearGradient id="g41" gradientUnits="userSpaceOnUse" x1="32.1" y1="214.5" x2="216.6" y2="214.5"><stop offset="0.000" stop-color="#481a6c"/><stop offset="0.500" stop-color="#443a83"/><stop offset="1.000" stop-color="#23898e"/></linearGradient>
<linearGradient id="g42" gradientUnits="userSpaceOnUse" x1="32.1" y1="214.5" x2="216.6" y2="214.5"><stop offset="0.000" stop-color="#20a386"/><stop offset="0.500" stop-color="#3bbb75"/><stop offset="1.000" stop-color="#f1e51d"/></linearGradient>
<linearGradient id="g43" gradientUnits="userSpaceOnUse" x1="85.5" y1="122.3" x2="199.6" y2="122.3"><stop offset="0.000" stop-color="#471063"/><stop offset="0.500" stop-color="#481769"/><stop offset="1.000" stop-color="#414487"/></linearGradient>
<linearGradient id="g44" gradientUnits="userSpaceOnUse" x1="85.5" y1="122.3" x2="199.6" y2="122.3"><stop offset="0.000" stop-color="#433e85"/><stop offset="0.500" stop-color="#414487"/><stop offset="1.000" stop-color="#306a8e"/></linearGradient>
<linearGradient id="g45" gradientUnits="userSpaceOnUse" x1="85.5" y1="122.3" x2="199.6" y2="122.3"><stop offset="0.000" stop-color="#440154"/><stop offset="0.500" stop-color="#440154"/><stop offset="1.000" stop-color="#481a6c"/></linearGradient>
<linearGradient id="g46" gradientUnits="userSpaceOnUse" x1="85.5" y1="122.3" x2="199.6" y2="122.3"><stop offset="0.000" stop-color="#287d8e"/><stop offset="0.500" stop-color="#26828e"/><stop offset="1.000" stop-color="#20a386"/></linearGradient>
<linearGradient id="g47" gradientUnits="userSpaceOnUse" x1="69.5" y1="137.2" x2="69.5" y2="204.5"><stop offset="0.000" stop-color="#471063"/><stop offset="1.000" stop-color="#471063"/></linearGradient>
<linearGradient id="g48" gradientUnits="userSpaceOnUse" x1="69.5" y1="137.2" x2="69.5" y2="204.5"><stop offset="0.000" stop-color="#433e85"/><stop offset="1.000" stop-color="#433e85"/></linearGradient>
<linearGradient id="g49" gradientUnits="userSpaceOnUse" x1="69.5" y1="137.2" x2="69.5" y2="204.5"><stop offset="0.000" stop-color="#440154"/><stop offset="1.000" stop-color="#440154"/></linearGradient>
<linearGradient id="g50" gradientUnits="userSpaceOnUse" x1="69.5" y1="137.2" x2="69.5" y2="204.5"><stop offset="0.000" stop-color="#287d8e"/><stop offset="1.000" stop-color="#287d8e"/></linearGradient>
<linearGradient id="g51" gradientUnits="userSpaceOnUse" x1="464.5" y1="49.8" x2="180.0" y2="334.3"><stop offset="0.000" stop-color="#2c738e"/><stop offset="0.333" stop-color="#25848e"/><stop offset="0.667" stop-color="#22a884"/><stop offset="1.000" stop-color="#b0dd2f"/></linearGradient>
<linearGradient id="g52" gradientUnits="userSpaceOnUse" x1="464.5" y1="49.8" x2="180.0" y2="334.3"><stop offset="0.000" stop-color="#1f958b"/><stop offset="0.333" stop-color="#21a685"/><stop offset="0.667" stop-color="#58c765"/><stop offset="1.000" stop-color="#fde725"/></linearGradient>
<linearGradient id="g53" gradientUnits="userSpaceOnUse" x1="464.5" y1="49.8" x2="180.0" y2="334.3"><stop offset="0.000" stop-color="#3b528b"/><stop offset="0.333" stop-color="#32648e"/><stop offset="0.667" stop-color="#23898e"/><stop offset="1.000" stop-color="#5ec962"/></linearGradient>
<linearGradient id="g54" gradientUnits="userSpaceOnUse" x1="464.5" y1="49.8" x2="180.0" y2="334.3"><stop offset="0.000" stop-color="#63cb5f"/><stop offset="0.333" stop-color="#8ed645"/><stop offset="0.667" stop-color="#f1e51d"/><stop offset="1.000" stop-color="#fde725"/></linearGradient>
<linearGradient id="g55" gradientUnits="userSpaceOnUse" x1="376.9" y1="345.6" x2="376.9" y2="468.9"><stop offset="0.000" stop-color="#2f6c8e"/><stop offset="1.000" stop-color="#414487"/></linearGradient>
<linearGradient id="g56" gradientUnits="userSpaceOnUse" x1="376.9" y1="345.6" x2="376.9" y2="468.9"><stop offset="0.000" stop-color="#218e8d"/><stop offset="1.000" stop-color="#306a8e"/></linearGradient>
<linearGradient id="g57" gradientUnits="userSpaceOnUse" x1="376.9" y1="345.6" x2="376.9" y2="468.9"><stop offset="0.000" stop-color="#3e4989"/><stop offset="1.000" stop-color="#481a6c"/></linearGradient>
<linearGradient id="g58" gradientUnits="userSpaceOnUse" x1="376.9" y1="345.6" x2="376.9" y2="468.9"><stop offset="0.000" stop-color="#52c569"/><stop offset="1.000" stop-color="#20a386"/></linearGradient>
<linearGradient id="g59" gradientUnits="userSpaceOnUse" x1="32.1" y1="214.5" x2="216.6" y2="214.5"><stop offset="0.000" stop-color="#481769"/><stop offset="0.500" stop-color="#414487"/><stop offset="1.000" stop-color="#2f6c8e"/></linearGradient>
<linearGradient id="g60" gradientUnits="userSpaceOnUse" x1="32.1" y1="214.5" x2="216.6" y2="214.5"><stop offset="0.000" stop-color="#414487"/><stop offset="0.500" stop-color="#306a8e"/><stop offset="1.000" stop-color="#218e8d"/></linearGradient>
<linearGradient id="g61" gradientUnits="userSpaceOnUse" x1="32.1" y1="214.5" x2="216.6" y2="214.5"><stop offset="0.000" stop-color="#440154"/><stop offset="0.500" stop-color="#481a6c"/><stop offset="1.000" stop-color="#3e4989"/></linearGradient>
<linearGradient id="g62" gradientUnits="userSpaceOnUse" x1="32.1" y1="214.5" x2="216.6" y2="214.5"><stop offset="0.000" stop-color="#26828e"/><stop offset="0.500" stop-color="#20a386"/><stop offset="1.000" stop-color="#52c569"/></linearGradient>
<linearGradient id="g63" gradientUnits="userSpaceOnUse" x1="85.5" y1="122.3" x2="199.6" y2="122.3"><stop offset="0.000" stop-color="#482475"/><stop offset="0.500" stop-color="#21918c"/><stop offset="1.000" stop-color="#44bf70"/></linearGradient>
<linearGradient id="g64" gradientUnits="userSpaceOnUse" x1="85.5" y1="122.3" x2="199.6" y2="122.3"><stop offset="0.000" stop-color="#3c4f8a"/><stop offset="0.500" stop-color="#2cb17e"/><stop offset="1.000" stop-color="#95d840"/></linearGradient>
<linearGradient id="g65" gradientUnits="userSpaceOnUse" x1="85.5" y1="122.3" x2="199.6" y2="122.3"><stop offset="0.000" stop-color="#440154"/><stop offset="0.500" stop-color="#2d718e"/><stop offset="1.000" stop-color="#1fa188"/></linearGradient>
<linearGradient id="g66" gradientUnits="userSpaceOnUse" x1="85.5" y1="122.3" x2="199.6" y2="122.3"><stop offset="0.000" stop-color="#228b8d"/><stop offset="0.500" stop-color="#b0dd2f"/><stop offset="1.000" stop-color="#fde725"/></linearGradient>
<linearGradient id="g67" gradientUnits="userSpaceOnUse" x1="69.5" y1="137.2" x2="69.5" y2="204.5"><stop offset="0.000" stop-color="#482475"/><stop offset="1.000" stop-color="#482475"/></linearGradient>
<linearGradient id="g68" gradientUnits="userSpaceOnUse" x1="69.5" y1="137.2" x2="69.5" y2="204.5"><stop offset="0.000" stop-color="#3c4f8a"/><stop offset="1.000" stop-color="#3c4f8a"/></linearGradient>
<linearGradient id="g69" gradientUnits="userSpaceOnUse" x1="69.5" y1="137.2" x2="69.5" y2="204.5"><stop offset="0.000" stop-color="#440154"/><stop offset="1.000" stop-color="#440154"/></linearGradient>
<linearGradient id="g70" gradientUnits="userSpaceOnUse" x1="69.5" y1="137.2" x2="69.5" y2="204.5"><stop offset="0.000" stop-color="#228b8d"/><stop offset="1.000" stop-color="#228b8d"/></linearGradient>
<linearGradient id="g71" gradientUnits="userSpaceOnUse" x1="351.3" y1="27.3" x2="293.2" y2="356.8"><stop offset="0.000" stop-color="#9bd93c"/><stop offset="0.250" stop-color="#6ece58"/><stop offset="0.500" stop-color="#1e9c89"/><stop offset="0.750" stop-color="#287d8e"/><stop offset="1.000" stop-color="#3b528b"/></linearGradient>
<linearGradient id="g72" gradientUnits="userSpaceOnUse" x1="351.3" y1="27.3" x2="293.2" y2="356.8"><stop offset="0.000" stop-color="#f8e621"/><stop offset="0.250" stop-color="#cae11f"/><stop offset="0.500" stop-color="#3fbc73"/><stop offset="0.750" stop-color="#1f9f88"/><stop offset="1.000" stop-color="#2b758e"/></linearGradient>
<linearGradient id="g73" gradientUnits="userSpaceOnUse" x1="351.3" y1="27.3" x2="293.2" y2="356.8"><stop offset="0.000" stop-color="#4ec36b"/><stop offset="0.250" stop-color="#2fb47c"/><stop offset="0.500" stop-color="#287d8e"/><stop offset="0.750" stop-color="#365d8d"/><stop offset="1.000" stop-color="#472a7a"/></linearGradient>
<linearGradient id="g74" gradientUnits="userSpaceOnUse" x1="351.3" y1="27.3" x2="293.2" y2="356.8"><stop offset="0.000" stop-color="#fde725"/><stop offset="0.250" stop-color="#fde725"/><stop offset="0.500" stop-color="#d2e21b"/><stop offset="0.750" stop-color="#7ad151"/><stop offset="1.000" stop-color="#29af7f"/></linearGradient>
<linearGradient id="g75" gradientUnits="userSpaceOnUse" x1="1502.0" y1="0.0" x2="1676.0" y2="0.0"><stop offset="0.000" stop-color="#440154"/><stop offset="0.100" stop-color="#482475"/><stop offset="0.200" stop-color="#414487"/><stop offset="0.300" stop-color="#355f8d"/><stop offset="0.400" stop-color="#2a788e"/><stop offset="0.500" stop-color="#21918c"/><stop offset="0.600" stop-color="#22a884"/><stop offset="0.700" stop-color="#44bf70"/><stop offset="0.800" stop-color="#7ad151"/><stop offset="0.900" stop-color="#bddf26"/><stop offset="1.000" stop-color="#fde725"/></linearGradient>
<linearGradient id="g76" gradientUnits="userSpaceOnUse" x1="376.9" y1="345.6" x2="376.9" y2="468.9"><stop offset="0.000" stop-color="#2a788e"/><stop offset="1.000" stop-color="#2f6c8e"/></linearGradient>
<linearGradient id="g77" gradientUnits="userSpaceOnUse" x1="376.9" y1="345.6" x2="376.9" y2="468.9"><stop offset="0.000" stop-color="#1f9a8a"/><stop offset="1.000" stop-color="#218e8d"/></linearGradient>
<linearGradient id="g78" gradientUnits="userSpaceOnUse" x1="376.9" y1="345.6" x2="376.9" y2="468.9"><stop offset="0.000" stop-color="#38588c"/><stop offset="1.000" stop-color="#3e4989"/></linearGradient>
<linearGradient id="g79" gradientUnits="userSpaceOnUse" x1="376.9" y1="345.6" x2="376.9" y2="468.9"><stop offset="0.000" stop-color="#6ece58"/><stop offset="1.000" stop-color="#52c569"/></linearGradient>
<linearGradient id="g80" gradientUnits="userSpaceOnUse" x1="32.1" y1="214.5" x2="216.6" y2="214.5"><stop offset="0.000" stop-color="#ece51b"/><stop offset="0.500" stop-color="#7ad151"/><stop offset="1.000" stop-color="#25848e"/></linearGradient>
<linearGradient id="g81" gradientUnits="userSpaceOnUse" x1="32.1" y1="214.5" x2="216.6" y2="214.5"><stop offset="0.000" stop-color="#fde725"/><stop offset="0.500" stop-color="#d8e219"/><stop offset="1.000" stop-color="#21a685"/></linearGradient>
<linearGradient id="g82" gradientUnits="userSpaceOnUse" x1="32.1" y1="214.5" x2="216.6" y2="214.5"><stop offset="0.000" stop-color="#95d840"/><stop offset="0.500" stop-color="#37b878"/><stop offset="1.000" stop-color="#32648e"/></linearGradient>
<linearGradient id="g83" gradientUnits="userSpaceOnUse" x1="32.1" y1="214.5" x2="216.6" y2="214.5"><stop offset="0.000" stop-color="#fde725"/><stop offset="0.500" stop-color="#fde725"/><stop offset="1.000" stop-color="#8ed645"/></linearGradient>
<linearGradient id="g84" gradientUnits="userSpaceOnUse" x1="85.5" y1="122.3" x2="199.6" y2="122.3"><stop offset="0.000" stop-color="#414487"/><stop offset="0.500" stop-color="#355f8d"/><stop offset="1.000" stop-color="#21918c"/></linearGradient>
<linearGradient id="g85" gradientUnits="userSpaceOnUse" x1="85.5" y1="122.3" x2="199.6" y2="122.3"><stop offset="0.000" stop-color="#306a8e"/><stop offset="0.500" stop-color="#26828e"/><stop offset="1.000" stop-color="#2cb17e"/></linearGradient>
<linearGradient id="g86" gradientUnits="userSpaceOnUse" x1="85.5" y1="122.3" x2="199.6" y2="122.3"><stop offset="0.000" stop-color="#481a6c"/><stop offset="0.500" stop-color="#443a83"/><stop offset="1.000" stop-color="#2d718e"/></linearGradient>
<linearGradient id="g87" gradientUnits="userSpaceOnUse" x1="85.5" y1="122.3" x2="199.6" y2="122.3"><stop offset="0.000" stop-color="#20a386"/><stop offset="0.500" stop-color="#3bbb75"/><stop offset="1.000" stop-color="#b0dd2f"/></linearGradient>
<linearGradient id="g88" gradientUnits="userSpaceOnUse" x1="69.5" y1="137.2" x2="69.5" y2="204.5"><stop offset="0.000" stop-color="#463480"/><stop offset="0.500" stop-color="#21918c"/><stop offset="1.000" stop-color="#ece51b"/></linearGradient>
<linearGradient id="g89" gradientUnits="userSpaceOnUse" x1="69.5" y1="137.2" x2="69.5" y2="204.5"><stop offset="0.000" stop-color="#365d8d"/><stop offset="0.500" stop-color="#2cb17e"/><stop offset="1.000" stop-color="#fde725"/></linearGradient>
<linearGradient id="g90" gradientUnits="userSpaceOnUse" x1="69.5" y1="137.2" x2="69.5" y2="204.5"><stop offset="0.000" stop-color="#46085c"/><stop offset="0.500" stop-color="#2d718e"/><stop offset="1.000" stop-color="#95d840"/></linearGradient>
<linearGradient id="g91" gradientUnits="userSpaceOnUse" x1="69.5" y1="137.2" x2="69.5" y2="204.5"><stop offset="0.000" stop-color="#1f978b"/><stop offset="0.500" stop-color="#b0dd2f"/><stop offset="1.000" stop-color="#fde725"/></linearGradient>
<linearGradient id="g92" gradientUnits="userSpaceOnUse" x1="351.3" y1="27.3" x2="293.2" y2="356.8"><stop offset="0.000" stop-color="#21918c"/><stop offset="0.333" stop-color="#25848e"/><stop offset="0.667" stop-color="#2a788e"/><stop offset="1.000" stop-color="#21918c"/></linearGradient>
<linearGradient id="g93" gradientUnits="userSpaceOnUse" x1="351.3" y1="27.3" x2="293.2" y2="356.8"><stop offset="0.000" stop-color="#2cb17e"/><stop offset="0.333" stop-color="#21a685"/><stop offset="0.667" stop-color="#1f9a8a"/><stop offset="1.000" stop-color="#2cb17e"/></linearGradient>
<linearGradient id="g94" gradientUnits="userSpaceOnUse" x1="351.3" y1="27.3" x2="293.2" y2="356.8"><stop offset="0.000" stop-color="#2d718e"/><stop offset="0.333" stop-color="#32648e"/><stop offset="0.667" stop-color="#38588c"/><stop offset="1.000" stop-color="#2d718e"/></linearGradient>
<linearGradient id="g95" gradientUnits="userSpaceOnUse" x1="351.3" y1="27.3" x2="293.2" y2="356.8"><stop offset="0.000" stop-color="#b0dd2f"/><stop offset="0.333" stop-color="#8ed645"/><stop offset="0.667" stop-color="#6ece58"/><stop offset="1.000" stop-color="#b0dd2f"/></linearGradient>
<linearGradient id="g96" gradientUnits="userSpaceOnUse" x1="376.9" y1="345.6" x2="376.9" y2="468.9"><stop offset="0.000" stop-color="#463480"/><stop offset="1.000" stop-color="#472a7a"/></linearGradient>
<linearGradient id="g97" gradientUnits="userSpaceOnUse" x1="376.9" y1="345.6" x2="376.9" y2="468.9"><stop offset="0.000" stop-color="#3d4d8a"/><stop offset="1.000" stop-color="#404588"/></linearGradient>
<linearGradient id="g98" gradientUnits="userSpaceOnUse" x1="376.9" y1="345.6" x2="376.9" y2="468.9"><stop offset="0.000" stop-color="#481b6d"/><stop offset="1.000" stop-color="#471063"/></linearGradient>
<linearGradient id="g99" gradientUnits="userSpaceOnUse" x1="376.9" y1="345.6" x2="376.9" y2="468.9"><stop offset="0.000" stop-color="#2c728e"/><stop offset="1.000" stop-color="#2f6c8e"/></linearGradient>
<linearGradient id="g100" gradientUnits="userSpaceOnUse" x1="32.1" y1="214.5" x2="216.6" y2="214.5"><stop offset="0.000" stop-color="#ece51b"/><stop offset="0.500" stop-color="#1e9c89"/><stop offset="1.000" stop-color="#414487"/></linearGradient>
<linearGradient id="g101" gradientUnits="userSpaceOnUse" x1="32.1" y1="214.5" x2="216.6" y2="214.5"><stop offset="0.000" stop-color="#fde725"/><stop offset="0.500" stop-color="#2ab07f"/><stop offset="1.000" stop-color="#375b8d"/></linearGradient>
<linearGradient id="g102" gradientUnits="userSpaceOnUse" x1="32.1" y1="214.5" x2="216.6" y2="214.5"><stop offset="0.000" stop-color="#b8de29"/><stop offset="0.500" stop-color="#23898e"/><stop offset="1.000" stop-color="#472c7a"/></linearGradient>
<linearGradient id="g103" gradientUnits="userSpaceOnUse" x1="32.1" y1="214.5" x2="216.6" y2="214.5"><stop offset="0.000" stop-color="#fde725"/><stop offset="0.500" stop-color="#6ece58"/><stop offset="1.000" stop-color="#277f8e"/></linearGradient>
<linearGradient id="g104" gradientUnits="userSpaceOnUse" x1="85.5" y1="122.3" x2="199.6" y2="122.3"><stop offset="0.000" stop-color="#463480"/><stop offset="0.500" stop-color="#463480"/><stop offset="1.000" stop-color="#463480"/></linearGradient>
<linearGradient id="g105" gradientUnits="userSpaceOnUse" x1="85.5" y1="122.3" x2="199.6" y2="122.3"><stop offset="0.000" stop-color="#3d4d8a"/><stop offset="0.500" stop-color="#3d4d8a"/><stop offset="1.000" stop-color="#3d4d8a"/></linearGradient>
<linearGradient id="g106" gradientUnits="userSpaceOnUse" x1="85.5" y1="122.3" x2="199.6" y2="122.3"><stop offset="0.000" stop-color="#481b6d"/><stop offset="0.500" stop-color="#481b6d"/><stop offset="1.000" stop-color="#481b6d"/></linearGradient>
<linearGradient id="g107" gradientUnits="userSpaceOnUse" x1="85.5" y1="122.3" x2="199.6" y2="122.3"><stop offset="0.000" stop-color="#2c728e"/><stop offset="0.500" stop-color="#2c728e"/><stop offset="1.000" stop-color="#2c728e"/></linearGradient>
<linearGradient id="g108" gradientUnits="userSpaceOnUse" x1="69.5" y1="137.2" x2="69.5" y2="204.5"><stop offset="0.000" stop-color="#414487"/><stop offset="0.500" stop-color="#22a884"/><stop offset="1.000" stop-color="#ece51b"/></linearGradient>
<linearGradient id="g109" gradientUnits="userSpaceOnUse" x1="69.5" y1="137.2" x2="69.5" y2="204.5"><stop offset="0.000" stop-color="#375b8d"/><stop offset="0.500" stop-color="#3dbc74"/><stop offset="1.000" stop-color="#fde725"/></linearGradient>
<linearGradient id="g110" gradientUnits="userSpaceOnUse" x1="69.5" y1="137.2" x2="69.5" y2="204.5"><stop offset="0.000" stop-color="#472c7a"/><stop offset="0.500" stop-color="#1f958b"/><stop offset="1.000" stop-color="#b8de29"/></linearGradient>
<linearGradient id="g111" gradientUnits="userSpaceOnUse" x1="69.5" y1="137.2" x2="69.5" y2="204.5"><stop offset="0.000" stop-color="#277f8e"/><stop offset="0.500" stop-color="#8bd646"/><stop offset="1.000" stop-color="#fde725"/></linearGradient>
<linearGradient id="g112" gradientUnits="userSpaceOnUse" x1="464.5" y1="49.8" x2="180.0" y2="334.3"><stop offset="0.000" stop-color="#482475"/><stop offset="0.333" stop-color="#472a7a"/><stop offset="0.667" stop-color="#414487"/><stop offset="1.000" stop-color="#287d8e"/></linearGradient>
<linearGradient id="g113" gradientUnits="userSpaceOnUse" x1="464.5" y1="49.8" x2="180.0" y2="334.3"><stop offset="0.000" stop-color="#423f85"/><stop offset="0.333" stop-color="#404588"/><stop offset="0.667" stop-color="#375b8d"/><stop offset="1.000" stop-color="#20928c"/></linearGradient>
<linearGradient id="g114" gradientUnits="userSpaceOnUse" x1="464.5" y1="49.8" x2="180.0" y2="334.3"><stop offset="0.000" stop-color="#46085c"/><stop offset="0.333" stop-color="#471063"/><stop offset="0.667" stop-color="#472c7a"/><stop offset="1.000" stop-color="#306a8e"/></linearGradient>
<linearGradient id="g115" gradientUnits="userSpaceOnUse" x1="464.5" y1="49.8" x2="180.0" y2="334.3"><stop offset="0.000" stop-color="#31668e"/><stop offset="0.333" stop-color="#2f6c8e"/><stop offset="0.667" stop-color="#277f8e"/><stop offset="1.000" stop-color="#2eb37c"/></linearGradient>
<linearGradient id="g116" gradientUnits="userSpaceOnUse" x1="376.9" y1="345.6" x2="376.9" y2="468.9"><stop offset="0.000" stop-color="#463480"/><stop offset="1.000" stop-color="#472a7a"/></linearGradient>
<linearGradient id="g117" gradientUnits="userSpaceOnUse" x1="376.9" y1="345.6" x2="376.9" y2="468.9"><stop offset="0.000" stop-color="#3d4d8a"/><stop offset="1.000" stop-color="#404588"/></linearGradient>
<linearGradient id="g118" gradientUnits="userSpaceOnUse" x1="376.9" y1="345.6" x2="376.9" y2="468.9"><stop offset="0.000" stop-color="#481b6d"/><stop offset="1.000" stop-color="#471063"/></linearGradient>
<linearGradient id="g119" gradientUnits="userSpaceOnUse" x1="376.9" y1="345.6" x2="376.9" y2="468.9"><stop offset="0.000" stop-color="#2c728e"/><stop offset="1.000" stop-color="#2f6c8e"/></linearGradient>
<linearGradient id="g120" gradientUnits="userSpaceOnUse" x1="32.1" y1="214.5" x2="216.6" y2="214.5"><stop offset="0.000" stop-color="#ece51b"/><stop offset="0.500" stop-color="#22a884"/><stop offset="1.000" stop-color="#414487"/></linearGradient>
<linearGradient id="g121" gradientUnits="userSpaceOnUse" x1="32.1" y1="214.5" x2="216.6" y2="214.5"><stop offset="0.000" stop-color="#fde725"/><stop offset="0.500" stop-color="#3dbc74"/><stop offset="1.000" stop-color="#375b8d"/></linearGradient>
<linearGradient id="g122" gradientUnits="userSpaceOnUse" x1="32.1" y1="214.5" x2="216.6" y2="214.5"><stop offset="0.000" stop-color="#b8de29"/><stop offset="0.500" stop-color="#1f958b"/><stop offset="1.000" stop-color="#472c7a"/></linearGradient>
<linearGradient id="g123" gradientUnits="userSpaceOnUse" x1="32.1" y1="214.5" x2="216.6" y2="214.5"><stop offset="0.000" stop-color="#fde725"/><stop offset="0.500" stop-color="#8bd646"/><stop offset="1.000" stop-color="#277f8e"/></linearGradient>
<linearGradient id="g124" gradientUnits="userSpaceOnUse" x1="85.5" y1="122.3" x2="199.6" y2="122.3"><stop offset="0.000" stop-color="#22a884"/><stop offset="0.500" stop-color="#355f8d"/><stop offset="1.000" stop-color="#414487"/></linearGradient>
<linearGradient id="g125" gradientUnits="userSpaceOnUse" x1="85.5" y1="122.3" x2="199.6" y2="122.3"><stop offset="0.000" stop-color="#3dbc74"/><stop offset="0.500" stop-color="#2b748e"/><stop offset="1.000" stop-color="#375b8d"/></linearGradient>
<linearGradient id="g126" gradientUnits="userSpaceOnUse" x1="85.5" y1="122.3" x2="199.6" y2="122.3"><stop offset="0.000" stop-color="#1f958b"/><stop offset="0.500" stop-color="#3e4989"/><stop offset="1.000" stop-color="#472c7a"/></linearGradient>
<linearGradient id="g127" gradientUnits="userSpaceOnUse" x1="85.5" y1="122.3" x2="199.6" y2="122.3"><stop offset="0.000" stop-color="#8bd646"/><stop offset="0.500" stop-color="#1f978b"/><stop offset="1.000" stop-color="#277f8e"/></linearGradient>
<linearGradient id="g128" gradientUnits="userSpaceOnUse" x1="69.5" y1="137.2" x2="69.5" y2="204.5"><stop offset="0.000" stop-color="#44bf70"/><stop offset="0.500" stop-color="#bddf26"/><stop offset="1.000" stop-color="#ece51b"/></linearGradient>
<linearGradient id="g129" gradientUnits="userSpaceOnUse" x1="69.5" y1="137.2" x2="69.5" y2="204.5"><stop offset="0.000" stop-color="#70cf57"/><stop offset="0.500" stop-color="#f4e61e"/><stop offset="1.000" stop-color="#fde725"/></linearGradient>
<linearGradient id="g130" gradientUnits="userSpaceOnUse" x1="69.5" y1="137.2" x2="69.5" y2="204.5"><stop offset="0.000" stop-color="#27ad81"/><stop offset="0.500" stop-color="#89d548"/><stop offset="1.000" stop-color="#b8de29"/></linearGradient>
<linearGradient id="g131" gradientUnits="userSpaceOnUse" x1="69.5" y1="137.2" x2="69.5" y2="204.5"><stop offset="0.000" stop-color="#d0e11c"/><stop offset="0.500" stop-color="#fde725"/><stop offset="1.000" stop-color="#fde725"/></linearGradient>
<linearGradient id="g132" gradientUnits="userSpaceOnUse" x1="322.2" y1="46.7" x2="322.2" y2="337.4"><stop offset="0.000" stop-color="#32648e"/><stop offset="0.333" stop-color="#414487"/><stop offset="0.667" stop-color="#472e7c"/><stop offset="1.000" stop-color="#482475"/></linearGradient>
<linearGradient id="g133" gradientUnits="userSpaceOnUse" x1="322.2" y1="46.7" x2="322.2" y2="337.4"><stop offset="0.000" stop-color="#29798e"/><stop offset="0.333" stop-color="#375b8d"/><stop offset="0.667" stop-color="#3f4788"/><stop offset="1.000" stop-color="#423f85"/></linearGradient>
<linearGradient id="g134" gradientUnits="userSpaceOnUse" x1="322.2" y1="46.7" x2="322.2" y2="337.4"><stop offset="0.000" stop-color="#3c4f8a"/><stop offset="0.333" stop-color="#472c7a"/><stop offset="0.667" stop-color="#481467"/><stop offset="1.000" stop-color="#46085c"/></linearGradient>
<linearGradient id="g135" gradientUnits="userSpaceOnUse" x1="322.2" y1="46.7" x2="322.2" y2="337.4"><stop offset="0.000" stop-color="#1e9c89"/><stop offset="0.333" stop-color="#277f8e"/><stop offset="0.667" stop-color="#2e6e8e"/><stop offset="1.000" stop-color="#31668e"/></linearGradient>
<linearGradient id="g136" gradientUnits="userSpaceOnUse" x1="376.9" y1="345.6" x2="376.9" y2="468.9"><stop offset="0.000" stop-color="#472a7a"/><stop offset="1.000" stop-color="#482475"/></linearGradient>
<linearGradient id="g137" gradientUnits="userSpaceOnUse" x1="376.9" y1="345.6" x2="376.9" y2="468.9"><stop offset="0.000" stop-color="#424086"/><stop offset="1.000" stop-color="#443a83"/></linearGradient>
<linearGradient id="g138" gradientUnits="userSpaceOnUse" x1="376.9" y1="345.6" x2="376.9" y2="468.9"><stop offset="0.000" stop-color="#481668"/><stop offset="1.000" stop-color="#470d60"/></linearGradient>
<linearGradient id="g139" gradientUnits="userSpaceOnUse" x1="376.9" y1="345.6" x2="376.9" y2="468.9"><stop offset="0.000" stop-color="#33628d"/><stop offset="1.000" stop-color="#365d8d"/></linearGradient>
<linearGradient id="g140" gradientUnits="userSpaceOnUse" x1="32.1" y1="214.5" x2="216.6" y2="214.5"><stop offset="0.000" stop-color="#cae11f"/><stop offset="0.500" stop-color="#355f8d"/><stop offset="1.000" stop-color="#463480"/></linearGradient>
<linearGradient id="g141" gradientUnits="userSpaceOnUse" x1="32.1" y1="214.5" x2="216.6" y2="214.5"><stop offset="0.000" stop-color="#f8e621"/><stop offset="0.500" stop-color="#2d718e"/><stop offset="1.000" stop-color="#3e4989"/></linearGradient>
<linearGradient id="g142" gradientUnits="userSpaceOnUse" x1="32.1" y1="214.5" x2="216.6" y2="214.5"><stop offset="0.000" stop-color="#9dd93b"/><stop offset="0.500" stop-color="#3d4e8a"/><stop offset="1.000" stop-color="#481f70"/></linearGradient>
<linearGradient id="g143" gradientUnits="userSpaceOnUse" x1="32.1" y1="214.5" x2="216.6" y2="214.5"><stop offset="0.000" stop-color="#fde725"/><stop offset="0.500" stop-color="#218e8d"/><stop offset="1.000" stop-color="#306a8e"/></linearGradient>
<linearGradient id="g144" gradientUnits="userSpaceOnUse" x1="85.5" y1="122.3" x2="199.6" y2="122.3"><stop offset="0.000" stop-color="#463480"/><stop offset="0.500" stop-color="#472a7a"/><stop offset="1.000" stop-color="#472a7a"/></linearGradient>
<linearGradient id="g145" gradientUnits="userSpaceOnUse" x1="85.5" y1="122.3" x2="199.6" y2="122.3"><stop offset="0.000" stop-color="#3e4989"/><stop offset="0.500" stop-color="#424086"/><stop offset="1.000" stop-color="#424086"/></linearGradient>
<linearGradient id="g146" gradientUnits="userSpaceOnUse" x1="85.5" y1="122.3" x2="199.6" y2="122.3"><stop offset="0.000" stop-color="#481f70"/><stop offset="0.500" stop-color="#481668"/><stop offset="1.000" stop-color="#481668"/></linearGradient>
<linearGradient id="g147" gradientUnits="userSpaceOnUse" x1="85.5" y1="122.3" x2="199.6" y2="122.3"><stop offset="0.000" stop-color="#306a8e"/><stop offset="0.500" stop-color="#33628d"/><stop offset="1.000" stop-color="#33628d"/></linearGradient>
<linearGradient id="g148" gradientUnits="userSpaceOnUse" x1="69.5" y1="137.2" x2="69.5" y2="204.5"><stop offset="0.000" stop-color="#414487"/><stop offset="0.500" stop-color="#22a884"/><stop offset="1.000" stop-color="#dfe318"/></linearGradient>
<linearGradient id="g149" gradientUnits="userSpaceOnUse" x1="69.5" y1="137.2" x2="69.5" y2="204.5"><stop offset="0.000" stop-color="#38588c"/><stop offset="0.500" stop-color="#37b878"/><stop offset="1.000" stop-color="#fde725"/></linearGradient>
<linearGradient id="g150" gradientUnits="userSpaceOnUse" x1="69.5" y1="137.2" x2="69.5" y2="204.5"><stop offset="0.000" stop-color="#472f7d"/><stop offset="0.500" stop-color="#1f988b"/><stop offset="1.000" stop-color="#b2dd2d"/></linearGradient>
<linearGradient id="g151" gradientUnits="userSpaceOnUse" x1="69.5" y1="137.2" x2="69.5" y2="204.5"><stop offset="0.000" stop-color="#2b758e"/><stop offset="0.500" stop-color="#75d054"/><stop offset="1.000" stop-color="#fde725"/></linearGradient>
<linearGradient id="g152" gradientUnits="userSpaceOnUse" x1="322.2" y1="46.7" x2="322.2" y2="337.4"><stop offset="0.000" stop-color="#482475"/><stop offset="0.500" stop-color="#472a7a"/><stop offset="1.000" stop-color="#482475"/></linearGradient>
<linearGradient id="g153" gradientUnits="userSpaceOnUse" x1="322.2" y1="46.7" x2="322.2" y2="337.4"><stop offset="0.000" stop-color="#443a83"/><stop offset="0.500" stop-color="#424086"/><stop offset="1.000" stop-color="#443a83"/></linearGradient>
<linearGradient id="g154" gradientUnits="userSpaceOnUse" x1="322.2" y1="46.7" x2="322.2" y2="337.4"><stop offset="0.000" stop-color="#470d60"/><stop offset="0.500" stop-color="#481668"/><stop offset="1.000" stop-color="#470d60"/></linearGradient>
<linearGradient id="g155" gradientUnits="userSpaceOnUse" x1="322.2" y1="46.7" x2="322.2" y2="337.4"><stop offset="0.000" stop-color="#365d8d"/><stop offset="0.500" stop-color="#33628d"/><stop offset="1.000" stop-color="#365d8d"/></linearGradient>
<linearGradient id="g156" gradientUnits="userSpaceOnUse" x1="1495.6" y1="0.0" x2="1670.2" y2="0.0"><stop offset="0.000" stop-color="#440154"/><stop offset="0.100" stop-color="#482475"/><stop offset="0.200" stop-color="#414487"/><stop offset="0.300" stop-color="#355f8d"/><stop offset="0.400" stop-color="#2a788e"/><stop offset="0.500" stop-color="#21918c"/><stop offset="0.600" stop-color="#22a884"/><stop offset="0.700" stop-color="#44bf70"/><stop offset="0.800" stop-color="#7ad151"/><stop offset="0.900" stop-color="#bddf26"/><stop offset="1.000" stop-color="#fde725"/></linearGradient>
<linearGradient id="g157" gradientUnits="userSpaceOnUse" x1="99.8" y1="0.0" x2="235.4" y2="0.0"><stop offset="0.000" stop-color="#4a9cb8"/><stop offset="0.050" stop-color="#4f9fbb"/><stop offset="0.100" stop-color="#55a3bd"/><stop offset="0.150" stop-color="#5ba7c0"/><stop offset="0.200" stop-color="#6fb3c8"/><stop offset="0.250" stop-color="#84bfcf"/><stop offset="0.300" stop-color="#98c6bf"/><stop offset="0.350" stop-color="#aec99b"/><stop offset="0.400" stop-color="#c4cc78"/><stop offset="0.450" stop-color="#d2cb54"/><stop offset="0.500" stop-color="#dfc930"/><stop offset="0.550" stop-color="#ecc80f"/><stop offset="0.600" stop-color="#edbf0d"/><stop offset="0.650" stop-color="#eeb50c"/><stop offset="0.700" stop-color="#efa80c"/><stop offset="0.750" stop-color="#ee970d"/><stop offset="0.800" stop-color="#ee870e"/><stop offset="0.850" stop-color="#ec6f12"/><stop offset="0.900" stop-color="#e95218"/><stop offset="0.950" stop-color="#e53d1c"/><stop offset="1.000" stop-color="#e02e1e"/></linearGradient>
<linearGradient id="g158" gradientUnits="userSpaceOnUse" x1="475.4" y1="0.0" x2="611.3" y2="0.0"><stop offset="0.000" stop-color="#4a9cb8"/><stop offset="0.050" stop-color="#4f9fbb"/><stop offset="0.100" stop-color="#55a3bd"/><stop offset="0.150" stop-color="#5ba7c0"/><stop offset="0.200" stop-color="#6fb3c8"/><stop offset="0.250" stop-color="#84bfcf"/><stop offset="0.300" stop-color="#98c6bf"/><stop offset="0.350" stop-color="#aec99b"/><stop offset="0.400" stop-color="#c4cc78"/><stop offset="0.450" stop-color="#d2cb54"/><stop offset="0.500" stop-color="#dfc930"/><stop offset="0.550" stop-color="#ecc80f"/><stop offset="0.600" stop-color="#edbf0d"/><stop offset="0.650" stop-color="#eeb50c"/><stop offset="0.700" stop-color="#efa80c"/><stop offset="0.750" stop-color="#ee970d"/><stop offset="0.800" stop-color="#ee870e"/><stop offset="0.850" stop-color="#ec6f12"/><stop offset="0.900" stop-color="#e95218"/><stop offset="0.950" stop-color="#e53d1c"/><stop offset="1.000" stop-color="#e02e1e"/></linearGradient>
<linearGradient id="g159" gradientUnits="userSpaceOnUse" x1="376.9" y1="345.6" x2="376.9" y2="468.9"><stop offset="0.000" stop-color="#355f8d"/><stop offset="1.000" stop-color="#3b528b"/></linearGradient>
<linearGradient id="g160" gradientUnits="userSpaceOnUse" x1="376.9" y1="345.6" x2="376.9" y2="468.9"><stop offset="0.000" stop-color="#26828e"/><stop offset="1.000" stop-color="#2b758e"/></linearGradient>
<linearGradient id="g161" gradientUnits="userSpaceOnUse" x1="376.9" y1="345.6" x2="376.9" y2="468.9"><stop offset="0.000" stop-color="#443a83"/><stop offset="1.000" stop-color="#472a7a"/></linearGradient>
<linearGradient id="g162" gradientUnits="userSpaceOnUse" x1="376.9" y1="345.6" x2="376.9" y2="468.9"><stop offset="0.000" stop-color="#3bbb75"/><stop offset="1.000" stop-color="#29af7f"/></linearGradient>
<linearGradient id="g163" gradientUnits="userSpaceOnUse" x1="32.1" y1="214.5" x2="216.6" y2="214.5"><stop offset="0.000" stop-color="#2f6c8e"/><stop offset="0.500" stop-color="#2a788e"/><stop offset="1.000" stop-color="#2f6c8e"/></linearGradient>
<linearGradient id="g164" gradientUnits="userSpaceOnUse" x1="32.1" y1="214.5" x2="216.6" y2="214.5"><stop offset="0.000" stop-color="#218e8d"/><stop offset="0.500" stop-color="#1f9a8a"/><stop offset="1.000" stop-color="#218e8d"/></linearGradient>
<linearGradient id="g165" gradientUnits="userSpaceOnUse" x1="32.1" y1="214.5" x2="216.6" y2="214.5"><stop offset="0.000" stop-color="#3e4989"/><stop offset="0.500" stop-color="#38588c"/><stop offset="1.000" stop-color="#3e4989"/></linearGradient>
<linearGradient id="g166" gradientUnits="userSpaceOnUse" x1="32.1" y1="214.5" x2="216.6" y2="214.5"><stop offset="0.000" stop-color="#52c569"/><stop offset="0.500" stop-color="#6ece58"/><stop offset="1.000" stop-color="#52c569"/></linearGradient>
<linearGradient id="g167" gradientUnits="userSpaceOnUse" x1="85.5" y1="122.3" x2="199.6" y2="122.3"><stop offset="0.000" stop-color="#ece51b"/><stop offset="0.500" stop-color="#dfe318"/><stop offset="1.000" stop-color="#21918c"/></linearGradient>
<linearGradient id="g168" gradientUnits="userSpaceOnUse" x1="85.5" y1="122.3" x2="199.6" y2="122.3"><stop offset="0.000" stop-color="#fde725"/><stop offset="0.500" stop-color="#fde725"/><stop offset="1.000" stop-color="#2cb17e"/></linearGradient>
<linearGradient id="g169" gradientUnits="userSpaceOnUse" x1="85.5" y1="122.3" x2="199.6" y2="122.3"><stop offset="0.000" stop-color="#95d840"/><stop offset="0.500" stop-color="#86d549"/><stop offset="1.000" stop-color="#2d718e"/></linearGradient>
<linearGradient id="g170" gradientUnits="userSpaceOnUse" x1="85.5" y1="122.3" x2="199.6" y2="122.3"><stop offset="0.000" stop-color="#fde725"/><stop offset="0.500" stop-color="#fde725"/><stop offset="1.000" stop-color="#b0dd2f"/></linearGradient>
<linearGradient id="g171" gradientUnits="userSpaceOnUse" x1="69.5" y1="137.2" x2="69.5" y2="204.5"><stop offset="0.000" stop-color="#ece51b"/><stop offset="1.000" stop-color="#ece51b"/></linearGradient>
<linearGradient id="g172" gradientUnits="userSpaceOnUse" x1="69.5" y1="137.2" x2="69.5" y2="204.5"><stop offset="0.000" stop-color="#fde725"/><stop offset="1.000" stop-color="#fde725"/></linearGradient>
<linearGradient id="g173" gradientUnits="userSpaceOnUse" x1="69.5" y1="137.2" x2="69.5" y2="204.5"><stop offset="0.000" stop-color="#95d840"/><stop offset="1.000" stop-color="#95d840"/></linearGradient>
<linearGradient id="g174" gradientUnits="userSpaceOnUse" x1="69.5" y1="137.2" x2="69.5" y2="204.5"><stop offset="0.000" stop-color="#fde725"/><stop offset="1.000" stop-color="#fde725"/></linearGradient>
<linearGradient id="g175" gradientUnits="userSpaceOnUse" x1="351.3" y1="27.3" x2="293.2" y2="356.8"><stop offset="0.000" stop-color="#20a386"/><stop offset="0.333" stop-color="#228b8d"/><stop offset="0.667" stop-color="#355f8d"/><stop offset="1.000" stop-color="#482475"/></linearGradient>
<linearGradient id="g176" gradientUnits="userSpaceOnUse" x1="351.3" y1="27.3" x2="293.2" y2="356.8"><stop offset="0.000" stop-color="#4ec36b"/><stop offset="0.333" stop-color="#26ad81"/><stop offset="0.667" stop-color="#26828e"/><stop offset="1.000" stop-color="#3c4f8a"/></linearGradient>
<linearGradient id="g177" gradientUnits="userSpaceOnUse" x1="351.3" y1="27.3" x2="293.2" y2="356.8"><stop offset="0.000" stop-color="#25848e"/><stop offset="0.333" stop-color="#2f6c8e"/><stop offset="0.667" stop-color="#443a83"/><stop offset="1.000" stop-color="#440154"/></linearGradient>
<linearGradient id="g178" gradientUnits="userSpaceOnUse" x1="351.3" y1="27.3" x2="293.2" y2="356.8"><stop offset="0.000" stop-color="#e5e419"/><stop offset="0.333" stop-color="#a2da37"/><stop offset="0.667" stop-color="#3bbb75"/><stop offset="1.000" stop-color="#228b8d"/></linearGradient>
<linearGradient id="g179" gradientUnits="userSpaceOnUse" x1="376.9" y1="345.6" x2="376.9" y2="468.9"><stop offset="0.000" stop-color="#2a788e"/><stop offset="1.000" stop-color="#355f8d"/></linearGradient>
<linearGradient id="g180" gradientUnits="userSpaceOnUse" x1="376.9" y1="345.6" x2="376.9" y2="468.9"><stop offset="0.000" stop-color="#1f9a8a"/><stop offset="1.000" stop-color="#26828e"/></linearGradient>
<linearGradient id="g181" gradientUnits="userSpaceOnUse" x1="376.9" y1="345.6" x2="376.9" y2="468.9"><stop offset="0.000" stop-color="#38588c"/><stop offset="1.000" stop-color="#443a83"/></linearGradient>
<linearGradient id="g182" gradientUnits="userSpaceOnUse" x1="376.9" y1="345.6" x2="376.9" y2="468.9"><stop offset="0.000" stop-color="#6ece58"/><stop offset="1.000" stop-color="#3bbb75"/></linearGradient>
<linearGradient id="g183" gradientUnits="userSpaceOnUse" x1="32.1" y1="214.5" x2="216.6" y2="214.5"><stop offset="0.000" stop-color="#471365"/><stop offset="0.500" stop-color="#414487"/><stop offset="1.000" stop-color="#2f6c8e"/></linearGradient>
<linearGradient id="g184" gradientUnits="userSpaceOnUse" x1="32.1" y1="214.5" x2="216.6" y2="214.5"><stop offset="0.000" stop-color="#424086"/><stop offset="0.500" stop-color="#306a8e"/><stop offset="1.000" stop-color="#218e8d"/></linearGradient>
<linearGradient id="g185" gradientUnits="userSpaceOnUse" x1="32.1" y1="214.5" x2="216.6" y2="214.5"><stop offset="0.000" stop-color="#440154"/><stop offset="0.500" stop-color="#481a6c"/><stop offset="1.000" stop-color="#3e4989"/></linearGradient>
<linearGradient id="g186" gradientUnits="userSpaceOnUse" x1="32.1" y1="214.5" x2="216.6" y2="214.5"><stop offset="0.000" stop-color="#27808e"/><stop offset="0.500" stop-color="#20a386"/><stop offset="1.000" stop-color="#52c569"/></linearGradient>
<linearGradient id="g187" gradientUnits="userSpaceOnUse" x1="85.5" y1="122.3" x2="199.6" y2="122.3"><stop offset="0.000" stop-color="#ece51b"/><stop offset="0.500" stop-color="#bddf26"/><stop offset="1.000" stop-color="#21918c"/></linearGradient>
<linearGradient id="g188" gradientUnits="userSpaceOnUse" x1="85.5" y1="122.3" x2="199.6" y2="122.3"><stop offset="0.000" stop-color="#fde725"/><stop offset="0.500" stop-color="#fde725"/><stop offset="1.000" stop-color="#2cb17e"/></linearGradient>
<linearGradient id="g189" gradientUnits="userSpaceOnUse" x1="85.5" y1="122.3" x2="199.6" y2="122.3"><stop offset="0.000" stop-color="#95d840"/><stop offset="0.500" stop-color="#69cd5b"/><stop offset="1.000" stop-color="#2d718e"/></linearGradient>
<linearGradient id="g190" gradientUnits="userSpaceOnUse" x1="85.5" y1="122.3" x2="199.6" y2="122.3"><stop offset="0.000" stop-color="#fde725"/><stop offset="0.500" stop-color="#fde725"/><stop offset="1.000" stop-color="#b0dd2f"/></linearGradient>
<linearGradient id="g191" gradientUnits="userSpaceOnUse" x1="69.5" y1="137.2" x2="69.5" y2="204.5"><stop offset="0.000" stop-color="#ece51b"/><stop offset="1.000" stop-color="#ece51b"/></linearGradient>
<linearGradient id="g192" gradientUnits="userSpaceOnUse" x1="69.5" y1="137.2" x2="69.5" y2="204.5"><stop offset="0.000" stop-color="#fde725"/><stop offset="1.000" stop-color="#fde725"/></linearGradient>
<linearGradient id="g193" gradientUnits="userSpaceOnUse" x1="69.5" y1="137.2" x2="69.5" y2="204.5"><stop offset="0.000" stop-color="#95d840"/><stop offset="1.000" stop-color="#95d840"/></linearGradient>
<linearGradient id="g194" gradientUnits="userSpaceOnUse" x1="69.5" y1="137.2" x2="69.5" y2="204.5"><stop offset="0.000" stop-color="#fde725"/><stop offset="1.000" stop-color="#fde725"/></linearGradient>
<linearGradient id="g195" gradientUnits="userSpaceOnUse" x1="464.5" y1="49.8" x2="180.0" y2="334.3"><stop offset="0.000" stop-color="#4ec36b"/><stop offset="0.333" stop-color="#32b67a"/><stop offset="0.667" stop-color="#21918c"/><stop offset="1.000" stop-color="#3b528b"/></linearGradient>
<linearGradient id="g196" gradientUnits="userSpaceOnUse" x1="464.5" y1="49.8" x2="180.0" y2="334.3"><stop offset="0.000" stop-color="#a2da37"/><stop offset="0.333" stop-color="#7ad151"/><stop offset="0.667" stop-color="#2cb17e"/><stop offset="1.000" stop-color="#2b758e"/></linearGradient>
<linearGradient id="g197" gradientUnits="userSpaceOnUse" x1="464.5" y1="49.8" x2="180.0" y2="334.3"><stop offset="0.000" stop-color="#21a685"/><stop offset="0.333" stop-color="#1f978b"/><stop offset="0.667" stop-color="#2d718e"/><stop offset="1.000" stop-color="#472a7a"/></linearGradient>
<linearGradient id="g198" gradientUnits="userSpaceOnUse" x1="464.5" y1="49.8" x2="180.0" y2="334.3"><stop offset="0.000" stop-color="#fde725"/><stop offset="0.333" stop-color="#fde725"/><stop offset="0.667" stop-color="#b0dd2f"/><stop offset="1.000" stop-color="#29af7f"/></linearGradient>
<linearGradient id="g199" gradientUnits="userSpaceOnUse" x1="376.9" y1="345.6" x2="376.9" y2="468.9"><stop offset="0.000" stop-color="#21918c"/><stop offset="1.000" stop-color="#2a788e"/></linearGradient>
<linearGradient id="g200" gradientUnits="userSpaceOnUse" x1="376.9" y1="345.6" x2="376.9" y2="468.9"><stop offset="0.000" stop-color="#2cb17e"/><stop offset="1.000" stop-color="#1f9a8a"/></linearGradient>
<linearGradient id="g201" gradientUnits="userSpaceOnUse" x1="376.9" y1="345.6" x2="376.9" y2="468.9"><stop offset="0.000" stop-color="#2d718e"/><stop offset="1.000" stop-color="#38588c"/></linearGradient>
<linearGradient id="g202" gradientUnits="userSpaceOnUse" x1="376.9" y1="345.6" x2="376.9" y2="468.9"><stop offset="0.000" stop-color="#b0dd2f"/><stop offset="1.000" stop-color="#6ece58"/></linearGradient>
<linearGradient id="g203" gradientUnits="userSpaceOnUse" x1="32.1" y1="214.5" x2="216.6" y2="214.5"><stop offset="0.000" stop-color="#481769"/><stop offset="0.500" stop-color="#355f8d"/><stop offset="1.000" stop-color="#22a884"/></linearGradient>
<linearGradient id="g204" gradientUnits="userSpaceOnUse" x1="32.1" y1="214.5" x2="216.6" y2="214.5"><stop offset="0.000" stop-color="#414487"/><stop offset="0.500" stop-color="#26828e"/><stop offset="1.000" stop-color="#58c765"/></linearGradient>
<linearGradient id="g205" gradientUnits="userSpaceOnUse" x1="32.1" y1="214.5" x2="216.6" y2="214.5"><stop offset="0.000" stop-color="#440154"/><stop offset="0.500" stop-color="#443a83"/><stop offset="1.000" stop-color="#23898e"/></linearGradient>
<linearGradient id="g206" gradientUnits="userSpaceOnUse" x1="32.1" y1="214.5" x2="216.6" y2="214.5"><stop offset="0.000" stop-color="#26828e"/><stop offset="0.500" stop-color="#3bbb75"/><stop offset="1.000" stop-color="#f1e51d"/></linearGradient>
<linearGradient id="g207" gradientUnits="userSpaceOnUse" x1="85.5" y1="122.3" x2="199.6" y2="122.3"><stop offset="0.000" stop-color="#355f8d"/><stop offset="0.500" stop-color="#21918c"/><stop offset="1.000" stop-color="#22a884"/></linearGradient>
<linearGradient id="g208" gradientUnits="userSpaceOnUse" x1="85.5" y1="122.3" x2="199.6" y2="122.3"><stop offset="0.000" stop-color="#26828e"/><stop offset="0.500" stop-color="#2cb17e"/><stop offset="1.000" stop-color="#58c765"/></linearGradient>
<linearGradient id="g209" gradientUnits="userSpaceOnUse" x1="85.5" y1="122.3" x2="199.6" y2="122.3"><stop offset="0.000" stop-color="#443a83"/><stop offset="0.500" stop-color="#2d718e"/><stop offset="1.000" stop-color="#23898e"/></linearGradient>
<linearGradient id="g210" gradientUnits="userSpaceOnUse" x1="85.5" y1="122.3" x2="199.6" y2="122.3"><stop offset="0.000" stop-color="#3bbb75"/><stop offset="0.500" stop-color="#b0dd2f"/><stop offset="1.000" stop-color="#f1e51d"/></linearGradient>
<linearGradient id="g211" gradientUnits="userSpaceOnUse" x1="69.5" y1="137.2" x2="69.5" y2="204.5"><stop offset="0.000" stop-color="#355f8d"/><stop offset="1.000" stop-color="#355f8d"/></linearGradient>
<linearGradient id="g212" gradientUnits="userSpaceOnUse" x1="69.5" y1="137.2" x2="69.5" y2="204.5"><stop offset="0.000" stop-color="#26828e"/><stop offset="1.000" stop-color="#26828e"/></linearGradient>
<linearGradient id="g213" gradientUnits="userSpaceOnUse" x1="69.5" y1="137.2" x2="69.5" y2="204.5"><stop offset="0.000" stop-color="#443a83"/><stop offset="1.000" stop-color="#443a83"/></linearGradient>
<linearGradient id="g214" gradientUnits="userSpaceOnUse" x1="69.5" y1="137.2" x2="69.5" y2="204.5"><stop offset="0.000" stop-color="#3bbb75"/><stop offset="1.000" stop-color="#3bbb75"/></linearGradient>
<linearGradient id="g215" gradientUnits="userSpaceOnUse" x1="322.2" y1="46.7" x2="322.2" y2="337.4"><stop offset="0.000" stop-color="#3bbb75"/><stop offset="0.500" stop-color="#58c765"/><stop offset="1.000" stop-color="#7ad151"/></linearGradient>
<linearGradient id="g216" gradientUnits="userSpaceOnUse" x1="322.2" y1="46.7" x2="322.2" y2="337.4"><stop offset="0.000" stop-color="#9dd93b"/><stop offset="0.500" stop-color="#c8e020"/><stop offset="1.000" stop-color="#efe51c"/></linearGradient>
<linearGradient id="g217" gradientUnits="userSpaceOnUse" x1="322.2" y1="46.7" x2="322.2" y2="337.4"><stop offset="0.000" stop-color="#1f948c"/><stop offset="0.500" stop-color="#1fa287"/><stop offset="1.000" stop-color="#2cb17e"/></linearGradient>
<linearGradient id="g218" gradientUnits="userSpaceOnUse" x1="322.2" y1="46.7" x2="322.2" y2="337.4"><stop offset="0.000" stop-color="#fde725"/><stop offset="0.500" stop-color="#fde725"/><stop offset="1.000" stop-color="#fde725"/></linearGradient>
<linearGradient id="g219" gradientUnits="userSpaceOnUse" x1="376.9" y1="345.6" x2="376.9" y2="468.9"><stop offset="0.000" stop-color="#355f8d"/><stop offset="1.000" stop-color="#414487"/></linearGradient>
<linearGradient id="g220" gradientUnits="userSpaceOnUse" x1="376.9" y1="345.6" x2="376.9" y2="468.9"><stop offset="0.000" stop-color="#26828e"/><stop offset="1.000" stop-color="#306a8e"/></linearGradient>
<linearGradient id="g221" gradientUnits="userSpaceOnUse" x1="376.9" y1="345.6" x2="376.9" y2="468.9"><stop offset="0.000" stop-color="#443a83"/><stop offset="1.000" stop-color="#481a6c"/></linearGradient>
<linearGradient id="g222" gradientUnits="userSpaceOnUse" x1="376.9" y1="345.6" x2="376.9" y2="468.9"><stop offset="0.000" stop-color="#3bbb75"/><stop offset="1.000" stop-color="#20a386"/></linearGradient>
<linearGradient id="g223" gradientUnits="userSpaceOnUse" x1="32.1" y1="214.5" x2="216.6" y2="214.5"><stop offset="0.000" stop-color="#9bd93c"/><stop offset="0.500" stop-color="#44bf70"/><stop offset="1.000" stop-color="#22a884"/></linearGradient>
<linearGradient id="g224" gradientUnits="userSpaceOnUse" x1="32.1" y1="214.5" x2="216.6" y2="214.5"><stop offset="0.000" stop-color="#f8e621"/><stop offset="0.500" stop-color="#95d840"/><stop offset="1.000" stop-color="#58c765"/></linearGradient>
<linearGradient id="g225" gradientUnits="userSpaceOnUse" x1="32.1" y1="214.5" x2="216.6" y2="214.5"><stop offset="0.000" stop-color="#4ec36b"/><stop offset="0.500" stop-color="#1fa188"/><stop offset="1.000" stop-color="#23898e"/></linearGradient>
<linearGradient id="g226" gradientUnits="userSpaceOnUse" x1="32.1" y1="214.5" x2="216.6" y2="214.5"><stop offset="0.000" stop-color="#fde725"/><stop offset="0.500" stop-color="#fde725"/><stop offset="1.000" stop-color="#f1e51d"/></linearGradient>
<linearGradient id="g227" gradientUnits="userSpaceOnUse" x1="85.5" y1="122.3" x2="199.6" y2="122.3"><stop offset="0.000" stop-color="#355f8d"/><stop offset="0.500" stop-color="#355f8d"/><stop offset="1.000" stop-color="#2a788e"/></linearGradient>
<linearGradient id="g228" gradientUnits="userSpaceOnUse" x1="85.5" y1="122.3" x2="199.6" y2="122.3"><stop offset="0.000" stop-color="#26828e"/><stop offset="0.500" stop-color="#26828e"/><stop offset="1.000" stop-color="#1f9a8a"/></linearGradient>
<linearGradient id="g229" gradientUnits="userSpaceOnUse" x1="85.5" y1="122.3" x2="199.6" y2="122.3"><stop offset="0.000" stop-color="#443a83"/><stop offset="0.500" stop-color="#443a83"/><stop offset="1.000" stop-color="#38588c"/></linearGradient>
<linearGradient id="g230" gradientUnits="userSpaceOnUse" x1="85.5" y1="122.3" x2="199.6" y2="122.3"><stop offset="0.000" stop-color="#3bbb75"/><stop offset="0.500" stop-color="#3bbb75"/><stop offset="1.000" stop-color="#6ece58"/></linearGradient>
<linearGradient id="g231" gradientUnits="userSpaceOnUse" x1="69.5" y1="137.2" x2="69.5" y2="204.5"><stop offset="0.000" stop-color="#355f8d"/><stop offset="1.000" stop-color="#355f8d"/></linearGradient>
<linearGradient id="g232" gradientUnits="userSpaceOnUse" x1="69.5" y1="137.2" x2="69.5" y2="204.5"><stop offset="0.000" stop-color="#26828e"/><stop offset="1.000" stop-color="#26828e"/></linearGradient>
<linearGradient id="g233" gradientUnits="userSpaceOnUse" x1="69.5" y1="137.2" x2="69.5" y2="204.5"><stop offset="0.000" stop-color="#443a83"/><stop offset="1.000" stop-color="#443a83"/></linearGradient>
<linearGradient id="g234" gradientUnits="userSpaceOnUse" x1="69.5" y1="137.2" x2="69.5" y2="204.5"><stop offset="0.000" stop-color="#3bbb75"/><stop offset="1.000" stop-color="#3bbb75"/></linearGradient>
<linearGradient id="g235" gradientUnits="userSpaceOnUse" x1="464.5" y1="49.8" x2="180.0" y2="334.3"><stop offset="0.000" stop-color="#3e4989"/><stop offset="0.333" stop-color="#2f6c8e"/><stop offset="0.667" stop-color="#22a884"/><stop offset="1.000" stop-color="#86d549"/></linearGradient>
<linearGradient id="g236" gradientUnits="userSpaceOnUse" x1="464.5" y1="49.8" x2="180.0" y2="334.3"><stop offset="0.000" stop-color="#2e6f8e"/><stop offset="0.333" stop-color="#218e8d"/><stop offset="0.667" stop-color="#58c765"/><stop offset="1.000" stop-color="#e5e419"/></linearGradient>
<linearGradient id="g237" gradientUnits="userSpaceOnUse" x1="464.5" y1="49.8" x2="180.0" y2="334.3"><stop offset="0.000" stop-color="#482173"/><stop offset="0.333" stop-color="#3e4989"/><stop offset="0.667" stop-color="#23898e"/><stop offset="1.000" stop-color="#3fbc73"/></linearGradient>
<linearGradient id="g238" gradientUnits="userSpaceOnUse" x1="464.5" y1="49.8" x2="180.0" y2="334.3"><stop offset="0.000" stop-color="#22a884"/><stop offset="0.333" stop-color="#52c569"/><stop offset="0.667" stop-color="#f1e51d"/><stop offset="1.000" stop-color="#fde725"/></linearGradient>
<linearGradient id="g239" gradientUnits="userSpaceOnUse" x1="376.9" y1="345.6" x2="376.9" y2="468.9"><stop offset="0.000" stop-color="#355f8d"/><stop offset="1.000" stop-color="#414487"/></linearGradient>
<linearGradient id="g240" gradientUnits="userSpaceOnUse" x1="376.9" y1="345.6" x2="376.9" y2="468.9"><stop offset="0.000" stop-color="#26828e"/><stop offset="1.000" stop-color="#306a8e"/></linearGradient>
<linearGradient id="g241" gradientUnits="userSpaceOnUse" x1="376.9" y1="345.6" x2="376.9" y2="468.9"><stop offset="0.000" stop-color="#443a83"/><stop offset="1.000" stop-color="#481a6c"/></linearGradient>
<linearGradient id="g242" gradientUnits="userSpaceOnUse" x1="376.9" y1="345.6" x2="376.9" y2="468.9"><stop offset="0.000" stop-color="#3bbb75"/><stop offset="1.000" stop-color="#20a386"/></linearGradient>
<linearGradient id="g243" gradientUnits="userSpaceOnUse" x1="32.1" y1="214.5" x2="216.6" y2="214.5"><stop offset="0.000" stop-color="#dfe318"/><stop offset="0.500" stop-color="#44bf70"/><stop offset="1.000" stop-color="#22a884"/></linearGradient>
<linearGradient id="g244" gradientUnits="userSpaceOnUse" x1="32.1" y1="214.5" x2="216.6" y2="214.5"><stop offset="0.000" stop-color="#fde725"/><stop offset="0.500" stop-color="#95d840"/><stop offset="1.000" stop-color="#58c765"/></linearGradient>
<linearGradient id="g245" gradientUnits="userSpaceOnUse" x1="32.1" y1="214.5" x2="216.6" y2="214.5"><stop offset="0.000" stop-color="#86d549"/><stop offset="0.500" stop-color="#1fa188"/><stop offset="1.000" stop-color="#23898e"/></linearGradient>
<linearGradient id="g246" gradientUnits="userSpaceOnUse" x1="32.1" y1="214.5" x2="216.6" y2="214.5"><stop offset="0.000" stop-color="#fde725"/><stop offset="0.500" stop-color="#fde725"/><stop offset="1.000" stop-color="#f1e51d"/></linearGradient>
<linearGradient id="g247" gradientUnits="userSpaceOnUse" x1="85.5" y1="122.3" x2="199.6" y2="122.3"><stop offset="0.000" stop-color="#481d6f"/><stop offset="0.500" stop-color="#463480"/><stop offset="1.000" stop-color="#21918c"/></linearGradient>
<linearGradient id="g248" gradientUnits="userSpaceOnUse" x1="85.5" y1="122.3" x2="199.6" y2="122.3"><stop offset="0.000" stop-color="#3e4989"/><stop offset="0.500" stop-color="#365d8d"/><stop offset="1.000" stop-color="#2cb17e"/></linearGradient>
<linearGradient id="g249" gradientUnits="userSpaceOnUse" x1="85.5" y1="122.3" x2="199.6" y2="122.3"><stop offset="0.000" stop-color="#440154"/><stop offset="0.500" stop-color="#46085c"/><stop offset="1.000" stop-color="#2d718e"/></linearGradient>
<linearGradient id="g250" gradientUnits="userSpaceOnUse" x1="85.5" y1="122.3" x2="199.6" y2="122.3"><stop offset="0.000" stop-color="#24868e"/><stop offset="0.500" stop-color="#1f978b"/><stop offset="1.000" stop-color="#b0dd2f"/></linearGradient>
<linearGradient id="g251" gradientUnits="userSpaceOnUse" x1="69.5" y1="137.2" x2="69.5" y2="204.5"><stop offset="0.000" stop-color="#481d6f"/><stop offset="1.000" stop-color="#481d6f"/></linearGradient>
<linearGradient id="g252" gradientUnits="userSpaceOnUse" x1="69.5" y1="137.2" x2="69.5" y2="204.5"><stop offset="0.000" stop-color="#3e4989"/><stop offset="1.000" stop-color="#3e4989"/></linearGradient>
<linearGradient id="g253" gradientUnits="userSpaceOnUse" x1="69.5" y1="137.2" x2="69.5" y2="204.5"><stop offset="0.000" stop-color="#440154"/><stop offset="1.000" stop-color="#440154"/></linearGradient>
<linearGradient id="g254" gradientUnits="userSpaceOnUse" x1="69.5" y1="137.2" x2="69.5" y2="204.5"><stop offset="0.000" stop-color="#24868e"/><stop offset="1.000" stop-color="#24868e"/></linearGradient>
<linearGradient id="g255" gradientUnits="userSpaceOnUse" x1="351.3" y1="27.3" x2="293.2" y2="356.8"><stop offset="0.000" stop-color="#3b528b"/><stop offset="0.333" stop-color="#21918c"/><stop offset="0.667" stop-color="#26ad81"/><stop offset="1.000" stop-color="#d8e219"/></linearGradient>
<linearGradient id="g256" gradientUnits="userSpaceOnUse" x1="351.3" y1="27.3" x2="293.2" y2="356.8"><stop offset="0.000" stop-color="#2b758e"/><stop offset="0.333" stop-color="#2cb17e"/><stop offset="0.667" stop-color="#63cb5f"/><stop offset="1.000" stop-color="#fde725"/></linearGradient>
<linearGradient id="g257" gradientUnits="userSpaceOnUse" x1="351.3" y1="27.3" x2="293.2" y2="356.8"><stop offset="0.000" stop-color="#472a7a"/><stop offset="0.333" stop-color="#2d718e"/><stop offset="0.667" stop-color="#218e8d"/><stop offset="1.000" stop-color="#81d34d"/></linearGradient>
<linearGradient id="g258" gradientUnits="userSpaceOnUse" x1="351.3" y1="27.3" x2="293.2" y2="356.8"><stop offset="0.000" stop-color="#29af7f"/><stop offset="0.333" stop-color="#b0dd2f"/><stop offset="0.667" stop-color="#fde725"/><stop offset="1.000" stop-color="#fde725"/></linearGradient>
<linearGradient id="g259" gradientUnits="userSpaceOnUse" x1="1131.0" y1="0.0" x2="1305.4" y2="0.0"><stop offset="0.000" stop-color="#440154"/><stop offset="0.100" stop-color="#482475"/><stop offset="0.200" stop-color="#414487"/><stop offset="0.300" stop-color="#355f8d"/><stop offset="0.400" stop-color="#2a788e"/><stop offset="0.500" stop-color="#21918c"/><stop offset="0.600" stop-color="#22a884"/><stop offset="0.700" stop-color="#44bf70"/><stop offset="0.800" stop-color="#7ad151"/><stop offset="0.900" stop-color="#bddf26"/><stop offset="1.000" stop-color="#fde725"/></linearGradient>
<linearGradient id="g260" gradientUnits="userSpaceOnUse" x1="394.3" y1="345.0" x2="394.3" y2="520.8"><stop offset="0.000" stop-color="#22a884"/><stop offset="0.250" stop-color="#5ec962"/><stop offset="0.500" stop-color="#7ad151"/><stop offset="0.750" stop-color="#ece51b"/><stop offset="1.000" stop-color="#ece51b"/></linearGradient>
<linearGradient id="g261" gradientUnits="userSpaceOnUse" x1="394.3" y1="345.0" x2="394.3" y2="520.8"><stop offset="0.000" stop-color="#2fb47c"/><stop offset="0.250" stop-color="#7ad151"/><stop offset="0.500" stop-color="#9bd93c"/><stop offset="0.750" stop-color="#fde725"/><stop offset="1.000" stop-color="#fde725"/></linearGradient>
<linearGradient id="g262" gradientUnits="userSpaceOnUse" x1="394.3" y1="345.0" x2="394.3" y2="520.8"><stop offset="0.000" stop-color="#1e9d89"/><stop offset="0.250" stop-color="#46c06f"/><stop offset="0.500" stop-color="#60ca60"/><stop offset="0.750" stop-color="#cde11d"/><stop offset="1.000" stop-color="#cde11d"/></linearGradient>
<linearGradient id="g263" gradientUnits="userSpaceOnUse" x1="394.3" y1="345.0" x2="394.3" y2="520.8"><stop offset="0.000" stop-color="#54c568"/><stop offset="0.250" stop-color="#b2dd2d"/><stop offset="0.500" stop-color="#d2e21b"/><stop offset="0.750" stop-color="#fde725"/><stop offset="1.000" stop-color="#fde725"/></linearGradient>
<linearGradient id="g264" gradientUnits="userSpaceOnUse" x1="19.9" y1="194.5" x2="233.2" y2="194.5"><stop offset="0.000" stop-color="#481769"/><stop offset="0.500" stop-color="#414487"/><stop offset="1.000" stop-color="#2a788e"/></linearGradient>
<linearGradient id="g265" gradientUnits="userSpaceOnUse" x1="19.9" y1="194.5" x2="233.2" y2="194.5"><stop offset="0.000" stop-color="#414487"/><stop offset="0.500" stop-color="#306a8e"/><stop offset="1.000" stop-color="#1f9a8a"/></linearGradient>
<linearGradient id="g266" gradientUnits="userSpaceOnUse" x1="19.9" y1="194.5" x2="233.2" y2="194.5"><stop offset="0.000" stop-color="#440154"/><stop offset="0.500" stop-color="#481a6c"/><stop offset="1.000" stop-color="#38588c"/></linearGradient>
<linearGradient id="g267" gradientUnits="userSpaceOnUse" x1="19.9" y1="194.5" x2="233.2" y2="194.5"><stop offset="0.000" stop-color="#26828e"/><stop offset="0.500" stop-color="#20a386"/><stop offset="1.000" stop-color="#6ece58"/></linearGradient>
<linearGradient id="g268" gradientUnits="userSpaceOnUse" x1="153.7" y1="85.3" x2="555.2" y2="366.5"><stop offset="0.000" stop-color="#2a788e"/><stop offset="0.333" stop-color="#24868e"/><stop offset="0.667" stop-color="#1e9c89"/><stop offset="1.000" stop-color="#7ad151"/></linearGradient>
<linearGradient id="g269" gradientUnits="userSpaceOnUse" x1="153.7" y1="85.3" x2="555.2" y2="366.5"><stop offset="0.000" stop-color="#1f9a8a"/><stop offset="0.333" stop-color="#22a884"/><stop offset="0.667" stop-color="#3fbc73"/><stop offset="1.000" stop-color="#d8e219"/></linearGradient>
<linearGradient id="g270" gradientUnits="userSpaceOnUse" x1="153.7" y1="85.3" x2="555.2" y2="366.5"><stop offset="0.000" stop-color="#38588c"/><stop offset="0.333" stop-color="#31678e"/><stop offset="0.667" stop-color="#287d8e"/><stop offset="1.000" stop-color="#37b878"/></linearGradient>
<linearGradient id="g271" gradientUnits="userSpaceOnUse" x1="153.7" y1="85.3" x2="555.2" y2="366.5"><stop offset="0.000" stop-color="#6ece58"/><stop offset="0.333" stop-color="#95d840"/><stop offset="0.667" stop-color="#d2e21b"/><stop offset="1.000" stop-color="#fde725"/></linearGradient>
<linearGradient id="g272" gradientUnits="userSpaceOnUse" x1="394.3" y1="345.0" x2="394.3" y2="520.8"><stop offset="0.000" stop-color="#32648e"/><stop offset="0.250" stop-color="#2c738e"/><stop offset="0.500" stop-color="#1e9c89"/><stop offset="0.750" stop-color="#dfe318"/><stop offset="1.000" stop-color="#ece51b"/></linearGradient>
<linearGradient id="g273" gradientUnits="userSpaceOnUse" x1="394.3" y1="345.0" x2="394.3" y2="520.8"><stop offset="0.000" stop-color="#2d718e"/><stop offset="0.250" stop-color="#277f8e"/><stop offset="0.500" stop-color="#22a884"/><stop offset="0.750" stop-color="#fde725"/><stop offset="1.000" stop-color="#fde725"/></linearGradient>
<linearGradient id="g274" gradientUnits="userSpaceOnUse" x1="394.3" y1="345.0" x2="394.3" y2="520.8"><stop offset="0.000" stop-color="#38598c"/><stop offset="0.250" stop-color="#31688e"/><stop offset="0.500" stop-color="#20928c"/><stop offset="0.750" stop-color="#c0df25"/><stop offset="1.000" stop-color="#cde11d"/></linearGradient>
<linearGradient id="g275" gradientUnits="userSpaceOnUse" x1="394.3" y1="345.0" x2="394.3" y2="520.8"><stop offset="0.000" stop-color="#25848e"/><stop offset="0.250" stop-color="#20938c"/><stop offset="0.500" stop-color="#3bbb75"/><stop offset="0.750" stop-color="#fde725"/><stop offset="1.000" stop-color="#fde725"/></linearGradient>
<linearGradient id="g276" gradientUnits="userSpaceOnUse" x1="19.9" y1="194.5" x2="233.2" y2="194.5"><stop offset="0.000" stop-color="#482475"/><stop offset="0.500" stop-color="#472a7a"/><stop offset="1.000" stop-color="#453781"/></linearGradient>
<linearGradient id="g277" gradientUnits="userSpaceOnUse" x1="19.9" y1="194.5" x2="233.2" y2="194.5"><stop offset="0.000" stop-color="#433d84"/><stop offset="0.500" stop-color="#414287"/><stop offset="1.000" stop-color="#3d4e8a"/></linearGradient>
<linearGradient id="g278" gradientUnits="userSpaceOnUse" x1="19.9" y1="194.5" x2="233.2" y2="194.5"><stop offset="0.000" stop-color="#460b5e"/><stop offset="0.500" stop-color="#471365"/><stop offset="1.000" stop-color="#482071"/></linearGradient>
<linearGradient id="g279" gradientUnits="userSpaceOnUse" x1="19.9" y1="194.5" x2="233.2" y2="194.5"><stop offset="0.000" stop-color="#33628d"/><stop offset="0.500" stop-color="#31678e"/><stop offset="1.000" stop-color="#2d718e"/></linearGradient>
<linearGradient id="g280" gradientUnits="userSpaceOnUse" x1="354.5" y1="36.3" x2="354.5" y2="415.4"><stop offset="0.000" stop-color="#472a7a"/><stop offset="0.333" stop-color="#463480"/><stop offset="0.667" stop-color="#3b528b"/><stop offset="1.000" stop-color="#306a8e"/></linearGradient>
<linearGradient id="g281" gradientUnits="userSpaceOnUse" x1="354.5" y1="36.3" x2="354.5" y2="415.4"><stop offset="0.000" stop-color="#414287"/><stop offset="0.333" stop-color="#3e4c8a"/><stop offset="0.667" stop-color="#31668e"/><stop offset="1.000" stop-color="#287c8e"/></linearGradient>
<linearGradient id="g282" gradientUnits="userSpaceOnUse" x1="354.5" y1="36.3" x2="354.5" y2="415.4"><stop offset="0.000" stop-color="#471365"/><stop offset="0.333" stop-color="#481d6f"/><stop offset="0.667" stop-color="#433d84"/><stop offset="1.000" stop-color="#39568c"/></linearGradient>
<linearGradient id="g283" gradientUnits="userSpaceOnUse" x1="354.5" y1="36.3" x2="354.5" y2="415.4"><stop offset="0.000" stop-color="#31678e"/><stop offset="0.333" stop-color="#2e6e8e"/><stop offset="0.667" stop-color="#24868e"/><stop offset="1.000" stop-color="#1e9c89"/></linearGradient>
<linearGradient id="g284" gradientUnits="userSpaceOnUse" x1="394.3" y1="345.0" x2="394.3" y2="520.8"><stop offset="0.000" stop-color="#2a788e"/><stop offset="0.250" stop-color="#25848e"/><stop offset="0.500" stop-color="#22a884"/><stop offset="0.750" stop-color="#dfe318"/><stop offset="1.000" stop-color="#ece51b"/></linearGradient>
<linearGradient id="g285" gradientUnits="userSpaceOnUse" x1="394.3" y1="345.0" x2="394.3" y2="520.8"><stop offset="0.000" stop-color="#25838e"/><stop offset="0.250" stop-color="#21908d"/><stop offset="0.500" stop-color="#2fb47c"/><stop offset="0.750" stop-color="#fde725"/><stop offset="1.000" stop-color="#fde725"/></linearGradient>
<linearGradient id="g286" gradientUnits="userSpaceOnUse" x1="394.3" y1="345.0" x2="394.3" y2="520.8"><stop offset="0.000" stop-color="#2e6d8e"/><stop offset="0.250" stop-color="#29798e"/><stop offset="0.500" stop-color="#1e9d89"/><stop offset="0.750" stop-color="#c0df25"/><stop offset="1.000" stop-color="#cde11d"/></linearGradient>
<linearGradient id="g287" gradientUnits="userSpaceOnUse" x1="394.3" y1="345.0" x2="394.3" y2="520.8"><stop offset="0.000" stop-color="#1f988b"/><stop offset="0.250" stop-color="#20a486"/><stop offset="0.500" stop-color="#54c568"/><stop offset="0.750" stop-color="#fde725"/><stop offset="1.000" stop-color="#fde725"/></linearGradient>
<linearGradient id="g288" gradientUnits="userSpaceOnUse" x1="195.5" y1="75.0" x2="57.6" y2="314.0"><stop offset="0.000" stop-color="#472a7a"/><stop offset="0.500" stop-color="#414487"/><stop offset="1.000" stop-color="#21918c"/></linearGradient>
<linearGradient id="g289" gradientUnits="userSpaceOnUse" x1="195.5" y1="75.0" x2="57.6" y2="314.0"><stop offset="0.000" stop-color="#414287"/><stop offset="0.500" stop-color="#38598c"/><stop offset="1.000" stop-color="#1fa287"/></linearGradient>
<linearGradient id="g290" gradientUnits="userSpaceOnUse" x1="195.5" y1="75.0" x2="57.6" y2="314.0"><stop offset="0.000" stop-color="#471365"/><stop offset="0.500" stop-color="#472d7b"/><stop offset="1.000" stop-color="#277f8e"/></linearGradient>
<linearGradient id="g291" gradientUnits="userSpaceOnUse" x1="195.5" y1="75.0" x2="57.6" y2="314.0"><stop offset="0.000" stop-color="#31678e"/><stop offset="0.500" stop-color="#297a8e"/><stop offset="1.000" stop-color="#48c16e"/></linearGradient>
<linearGradient id="g292" gradientUnits="userSpaceOnUse" x1="391.9" y1="13.6" x2="317.0" y2="438.2"><stop offset="0.000" stop-color="#463480"/><stop offset="0.333" stop-color="#414487"/><stop offset="0.667" stop-color="#355f8d"/><stop offset="1.000" stop-color="#287d8e"/></linearGradient>
<linearGradient id="g293" gradientUnits="userSpaceOnUse" x1="391.9" y1="13.6" x2="317.0" y2="438.2"><stop offset="0.000" stop-color="#3e4c8a"/><stop offset="0.333" stop-color="#38598c"/><stop offset="0.667" stop-color="#2c728e"/><stop offset="1.000" stop-color="#21908d"/></linearGradient>
<linearGradient id="g294" gradientUnits="userSpaceOnUse" x1="391.9" y1="13.6" x2="317.0" y2="438.2"><stop offset="0.000" stop-color="#481d6f"/><stop offset="0.333" stop-color="#472d7b"/><stop offset="0.667" stop-color="#3e4c8a"/><stop offset="1.000" stop-color="#2f6c8e"/></linearGradient>
<linearGradient id="g295" gradientUnits="userSpaceOnUse" x1="391.9" y1="13.6" x2="317.0" y2="438.2"><stop offset="0.000" stop-color="#2e6e8e"/><stop offset="0.333" stop-color="#297a8e"/><stop offset="0.667" stop-color="#20928c"/><stop offset="1.000" stop-color="#29af7f"/></linearGradient>
<linearGradient id="g296" gradientUnits="userSpaceOnUse" x1="394.3" y1="345.0" x2="394.3" y2="520.8"><stop offset="0.000" stop-color="#3e4989"/><stop offset="0.250" stop-color="#355f8d"/><stop offset="0.500" stop-color="#21918c"/><stop offset="0.750" stop-color="#d2e21b"/><stop offset="1.000" stop-color="#ece51b"/></linearGradient>
<linearGradient id="g297" gradientUnits="userSpaceOnUse" x1="394.3" y1="345.0" x2="394.3" y2="520.8"><stop offset="0.000" stop-color="#39568c"/><stop offset="0.250" stop-color="#2f6c8e"/><stop offset="0.500" stop-color="#1e9c89"/><stop offset="0.750" stop-color="#f1e51d"/><stop offset="1.000" stop-color="#fde725"/></linearGradient>
<linearGradient id="g298" gradientUnits="userSpaceOnUse" x1="394.3" y1="345.0" x2="394.3" y2="520.8"><stop offset="0.000" stop-color="#443b84"/><stop offset="0.250" stop-color="#3a538b"/><stop offset="0.500" stop-color="#25858e"/><stop offset="0.750" stop-color="#b2dd2d"/><stop offset="1.000" stop-color="#cde11d"/></linearGradient>
<linearGradient id="g299" gradientUnits="userSpaceOnUse" x1="394.3" y1="345.0" x2="394.3" y2="520.8"><stop offset="0.000" stop-color="#2e6d8e"/><stop offset="0.250" stop-color="#27808e"/><stop offset="0.500" stop-color="#2ab07f"/><stop offset="0.750" stop-color="#fde725"/><stop offset="1.000" stop-color="#fde725"/></linearGradient>
<linearGradient id="g300" gradientUnits="userSpaceOnUse" x1="19.9" y1="194.5" x2="233.2" y2="194.5"><stop offset="0.000" stop-color="#471365"/><stop offset="0.500" stop-color="#482475"/><stop offset="1.000" stop-color="#482475"/></linearGradient>
<linearGradient id="g301" gradientUnits="userSpaceOnUse" x1="19.9" y1="194.5" x2="233.2" y2="194.5"><stop offset="0.000" stop-color="#472d7b"/><stop offset="0.500" stop-color="#433d84"/><stop offset="1.000" stop-color="#433d84"/></linearGradient>
<linearGradient id="g302" gradientUnits="userSpaceOnUse" x1="19.9" y1="194.5" x2="233.2" y2="194.5"><stop offset="0.000" stop-color="#440154"/><stop offset="0.500" stop-color="#460b5e"/><stop offset="1.000" stop-color="#460b5e"/></linearGradient>
<linearGradient id="g303" gradientUnits="userSpaceOnUse" x1="19.9" y1="194.5" x2="233.2" y2="194.5"><stop offset="0.000" stop-color="#3a548c"/><stop offset="0.500" stop-color="#33628d"/><stop offset="1.000" stop-color="#33628d"/></linearGradient>
<linearGradient id="g304" gradientUnits="userSpaceOnUse" x1="354.5" y1="36.3" x2="354.5" y2="415.4"><stop offset="0.000" stop-color="#482475"/><stop offset="0.333" stop-color="#472a7a"/><stop offset="0.667" stop-color="#463480"/><stop offset="1.000" stop-color="#3e4989"/></linearGradient>
<linearGradient id="g305" gradientUnits="userSpaceOnUse" x1="354.5" y1="36.3" x2="354.5" y2="415.4"><stop offset="0.000" stop-color="#433d84"/><stop offset="0.333" stop-color="#414287"/><stop offset="0.667" stop-color="#3e4c8a"/><stop offset="1.000" stop-color="#355f8d"/></linearGradient>
<linearGradient id="g306" gradientUnits="userSpaceOnUse" x1="354.5" y1="36.3" x2="354.5" y2="415.4"><stop offset="0.000" stop-color="#460b5e"/><stop offset="0.333" stop-color="#471365"/><stop offset="0.667" stop-color="#481d6f"/><stop offset="1.000" stop-color="#463480"/></linearGradient>
<linearGradient id="g307" gradientUnits="userSpaceOnUse" x1="354.5" y1="36.3" x2="354.5" y2="415.4"><stop offset="0.000" stop-color="#33628d"/><stop offset="0.333" stop-color="#31678e"/><stop offset="0.667" stop-color="#2e6e8e"/><stop offset="1.000" stop-color="#277f8e"/></linearGradient>
<linearGradient id="g308" gradientUnits="userSpaceOnUse" x1="1091.1" y1="0.0" x2="1266.3" y2="0.0"><stop offset="0.000" stop-color="#440154"/><stop offset="0.100" stop-color="#482475"/><stop offset="0.200" stop-color="#414487"/><stop offset="0.300" stop-color="#355f8d"/><stop offset="0.400" stop-color="#2a788e"/><stop offset="0.500" stop-color="#21918c"/><stop offset="0.600" stop-color="#22a884"/><stop offset="0.700" stop-color="#44bf70"/><stop offset="0.800" stop-color="#7ad151"/><stop offset="0.900" stop-color="#bddf26"/><stop offset="1.000" stop-color="#fde725"/></linearGradient>
<linearGradient id="g309" gradientUnits="userSpaceOnUse" x1="532.5" y1="47.8" x2="176.4" y2="403.9"><stop offset="0.000" stop-color="#4a73b8"/><stop offset="0.250" stop-color="#4a73b8"/><stop offset="0.500" stop-color="#4a73b8"/><stop offset="0.750" stop-color="#d62f1f"/><stop offset="1.000" stop-color="#b0186a"/></linearGradient>
<linearGradient id="g310" gradientUnits="userSpaceOnUse" x1="498.3" y1="20.4" x2="210.6" y2="431.3"><stop offset="0.000" stop-color="#f6c142"/><stop offset="0.250" stop-color="#f6c142"/><stop offset="0.500" stop-color="#f6c142"/><stop offset="0.750" stop-color="#d62f1f"/><stop offset="1.000" stop-color="#b0186a"/></linearGradient>
<linearGradient id="g311" gradientUnits="userSpaceOnUse" x1="561.4" y1="106.4" x2="147.5" y2="345.4"><stop offset="0.000" stop-color="#2ca02c"/><stop offset="0.333" stop-color="#2ca02c"/><stop offset="0.667" stop-color="#fdb0ba"/><stop offset="1.000" stop-color="#d62f1f"/></linearGradient>
<linearGradient id="g312" gradientUnits="userSpaceOnUse" x1="354.5" y1="36.3" x2="354.5" y2="415.4"><stop offset="0.000" stop-color="#8c564b"/><stop offset="0.500" stop-color="#b5d410"/><stop offset="1.000" stop-color="#8446c0"/></linearGradient>
<filter id="so1" x="0" y="0" width="100%" height="100%" color-interpolation-filters="sRGB"><feTurbulence type="fractalNoise" baseFrequency="0.75" numOctaves="2" seed="21" result="n"/><feColorMatrix in="n" type="matrix" values="0 0 0 0 0.690 0 0 0 0 0.549 0 0 0 0 0.659 4 0 0 0 -2.240" result="s"/><feComposite in="s" in2="SourceAlpha" operator="in"/></filter>
<filter id="so2" x="0" y="0" width="100%" height="100%" color-interpolation-filters="sRGB"><feTurbulence type="fractalNoise" baseFrequency="0.75" numOctaves="2" seed="22" result="n"/><feColorMatrix in="n" type="matrix" values="0 0 0 0 0.702 0 0 0 0 0.627 0 0 0 0 0.776 4 0 0 0 -2.320" result="s"/><feComposite in="s" in2="SourceAlpha" operator="in"/></filter>
<radialGradient id="rg1"><stop offset="0" stop-color="#000" stop-opacity="1"/><stop offset="0.55" stop-color="#000" stop-opacity="0.75"/><stop offset="1" stop-color="#000" stop-opacity="0"/></radialGradient>
<filter id="sp1" x="0" y="0" width="100%" height="100%" color-interpolation-filters="sRGB"><feTurbulence type="fractalNoise" baseFrequency="0.75" numOctaves="2" seed="4" result="n"/><feColorMatrix in="n" type="matrix" values="0 0 0 0 0.788 0 0 0 0 0.663 0 0 0 0 0.753 3 0 0 0 -1.680" result="s"/><feComposite in="s" in2="SourceAlpha" operator="in" result="sp"/><feMerge><feMergeNode in="SourceGraphic"/><feMergeNode in="sp"/></feMerge></filter>
<filter id="sp2" x="0" y="0" width="100%" height="100%" color-interpolation-filters="sRGB"><feTurbulence type="fractalNoise" baseFrequency="0.75" numOctaves="2" seed="9" result="n"/><feColorMatrix in="n" type="matrix" values="0 0 0 0 0.541 0 0 0 0 0.353 0 0 0 0 0.533 6 0 0 0 -3.300" result="s"/><feComposite in="s" in2="SourceAlpha" operator="in" result="sp"/><feMerge><feMergeNode in="SourceGraphic"/><feMergeNode in="sp"/></feMerge></filter>
<filter id="sp3" x="0" y="0" width="100%" height="100%" color-interpolation-filters="sRGB"><feTurbulence type="fractalNoise" baseFrequency="0.75" numOctaves="2" seed="12" result="n"/><feColorMatrix in="n" type="matrix" values="0 0 0 0 0.796 0 0 0 0 0.733 0 0 0 0 0.839 2.5 0 0 0 -1.450" result="s"/><feComposite in="s" in2="SourceAlpha" operator="in" result="sp"/><feMerge><feMergeNode in="SourceGraphic"/><feMergeNode in="sp"/></feMerge></filter>
<filter id="sp4" x="0" y="0" width="100%" height="100%" color-interpolation-filters="sRGB"><feTurbulence type="fractalNoise" baseFrequency="0.75" numOctaves="2" seed="15" result="n"/><feColorMatrix in="n" type="matrix" values="0 0 0 0 0.478 0 0 0 0 0.353 0 0 0 0 0.565 6 0 0 0 -3.360" result="s"/><feComposite in="s" in2="SourceAlpha" operator="in" result="sp"/><feMerge><feMergeNode in="SourceGraphic"/><feMergeNode in="sp"/></feMerge></filter>
<filter id="bl1"><feGaussianBlur stdDeviation="1.2"/></filter><filter id="bl3"><feGaussianBlur stdDeviation="3"/></filter><filter id="bl8"><feGaussianBlur stdDeviation="7"/></filter>
<linearGradient id="g313" gradientUnits="userSpaceOnUse" x1="1121.8" y1="0.0" x2="1299.9" y2="0.0"><stop offset="0.000" stop-color="#4a78bc"/><stop offset="0.050" stop-color="#5380c1"/><stop offset="0.100" stop-color="#5d8ac6"/><stop offset="0.150" stop-color="#6b96cc"/><stop offset="0.200" stop-color="#7aa3d2"/><stop offset="0.250" stop-color="#87aed7"/><stop offset="0.300" stop-color="#93b9dc"/><stop offset="0.350" stop-color="#a8c8e3"/><stop offset="0.400" stop-color="#bdd7ea"/><stop offset="0.450" stop-color="#d2e4f1"/><stop offset="0.500" stop-color="#e7f1f7"/><stop offset="0.550" stop-color="#fbfbe0"/><stop offset="0.600" stop-color="#fff3c0"/><stop offset="0.650" stop-color="#fee3a5"/><stop offset="0.700" stop-color="#fdd38b"/><stop offset="0.750" stop-color="#fcbd76"/><stop offset="0.800" stop-color="#fba962"/><stop offset="0.850" stop-color="#f3854e"/><stop offset="0.900" stop-color="#ec6239"/><stop offset="0.950" stop-color="#e14828"/><stop offset="1.000" stop-color="#d83018"/></linearGradient>
</defs>
<text x="4.0" y="28.5" font-size="38" font-weight="bold">a</text>
<text x="36.2" y="49.0" font-size="26.5">Cell types of Astrocytes (snATAC-seq)</text>
<text x="36.2" y="84.3" font-size="26.5">colored by type</text>
<text x="303.5" y="84.3" font-size="26.5">colored by depth</text>
<text x="570.0" y="84.3" font-size="26.5">colored by replicates</text>
<g transform="translate(36.6 96.6) scale(1 1)">
<g filter="url(#fzw)">
<path d="M2.3 115.9C2.6 111.2 12.9 99.4 17.7 92.0C22.6 84.6 28.8 77.3 31.4 71.4C34.0 65.6 31.4 58.9 33.1 56.9C34.8 54.9 36.5 60.0 41.7 59.5C46.8 58.9 56.5 56.0 63.9 53.5C71.3 50.9 76.7 47.6 86.2 44.1C95.6 40.5 114.1 29.2 120.4 32.1C126.6 34.9 124.9 52.3 123.8 61.2C122.7 70.0 115.8 77.1 113.5 85.1C111.3 93.1 110.7 100.5 110.1 109.1C109.5 117.6 109.5 127.3 110.1 136.5C110.7 145.6 117.0 161.0 113.5 163.8C110.1 166.7 97.3 157.6 89.6 153.6C81.9 149.6 75.3 144.4 67.3 139.9C59.4 135.3 50.2 129.5 41.7 126.2C33.1 122.9 22.6 121.9 16.0 120.2C9.5 118.5 2.0 120.6 2.3 115.9Z" fill="#cda4e4" mask="url(#wm)"/>
</g>
<g filter="url(#fz)">
<path d="M157.1 181.8C162.8 173.6 204.0 157.7 213.2 160.1C222.4 162.5 211.8 185.1 212.3 196.3C212.7 207.4 214.2 219.5 215.9 227.0C217.5 234.6 221.0 236.1 222.2 241.5C223.4 246.9 224.5 255.1 223.1 259.6C221.8 264.1 217.6 267.3 214.1 268.3C210.5 269.2 205.1 268.0 201.9 265.4C198.8 262.7 197.0 257.8 195.4 252.4C193.8 246.9 195.1 239.7 192.4 232.4C189.6 225.2 184.7 217.4 178.8 208.9C172.9 200.5 151.3 189.9 157.1 181.8Z" fill="#c6b4e8"/>
</g>
<g filter="url(#fz)">
<path d="M96.6 39.7C100.8 32.5 107.3 25.3 117.4 20.6C127.5 16.0 144.9 13.6 157.3 12.0C169.7 10.4 182.5 10.1 192.0 11.1C201.6 12.1 207.6 14.7 214.6 18.0C221.5 21.4 228.8 26.3 233.7 31.1C238.6 35.8 241.0 40.9 244.1 46.7C247.1 52.5 250.2 59.4 251.9 65.8C253.6 72.1 254.5 77.6 254.5 84.9C254.5 92.1 253.6 101.3 251.9 109.2C250.2 117.0 248.3 123.0 244.1 131.7C239.9 140.4 234.0 152.5 226.7 161.2C219.5 169.9 209.4 178.0 200.7 183.8C192.0 189.6 184.8 195.1 174.7 195.9C164.5 196.8 150.9 192.5 140.0 189.0C129.0 185.5 116.5 180.3 108.7 175.1C100.9 169.9 97.1 163.5 93.1 157.7C89.0 152.0 86.6 146.8 84.4 140.4C82.3 134.0 80.3 127.7 80.1 119.6C79.8 111.5 81.0 101.1 83.0 91.8C85.1 82.5 90.0 72.7 92.2 64.0C94.5 55.4 92.4 47.0 96.6 39.7Z" fill="#a3577f"/>
</g>
<g filter="url(#fzt)">
<path d="M179.3 20.5L197.4 10.7L207.3 5.7L212.5 2.0L214.7 11.5L217.5 28.8L199.0 28.8ZM222.1 30.4L235.2 25.5L241.5 23.3L242.1 44.4L228.6 42.8Z" fill="#a3577f"/>
</g>
</g>
<g transform="translate(36.6 96.6) scale(1.000 1.000)" fill="none" stroke-linecap="round" stroke-width="3.0" opacity="0.75"><use href="#AW0" stroke="#cda4e4"/><use href="#AW1" stroke="#cda4e4"/><use href="#AW2" stroke="#cda4e4"/><use href="#AW3" stroke="#cda4e4"/></g>
<g transform="translate(310.5 110.4) scale(0.957 0.913)">
<g filter="url(#fzw)">
<path d="M2.3 115.9C2.6 111.2 12.9 99.4 17.7 92.0C22.6 84.6 28.8 77.3 31.4 71.4C34.0 65.6 31.4 58.9 33.1 56.9C34.8 54.9 36.5 60.0 41.7 59.5C46.8 58.9 56.5 56.0 63.9 53.5C71.3 50.9 76.7 47.6 86.2 44.1C95.6 40.5 114.1 29.2 120.4 32.1C126.6 34.9 124.9 52.3 123.8 61.2C122.7 70.0 115.8 77.1 113.5 85.1C111.3 93.1 110.7 100.5 110.1 109.1C109.5 117.6 109.5 127.3 110.1 136.5C110.7 145.6 117.0 161.0 113.5 163.8C110.1 166.7 97.3 157.6 89.6 153.6C81.9 149.6 75.3 144.4 67.3 139.9C59.4 135.3 50.2 129.5 41.7 126.2C33.1 122.9 22.6 121.9 16.0 120.2C9.5 118.5 2.0 120.6 2.3 115.9Z" fill="#443a82" mask="url(#wm2)"/>
</g>
<g filter="url(#fz)">
<path d="M157.1 181.8C162.8 173.6 204.0 157.7 213.2 160.1C222.4 162.5 211.8 185.1 212.3 196.3C212.7 207.4 214.2 219.5 215.9 227.0C217.5 234.6 221.0 236.1 222.2 241.5C223.4 246.9 224.5 255.1 223.1 259.6C221.8 264.1 217.6 267.3 214.1 268.3C210.5 269.2 205.1 268.0 201.9 265.4C198.8 262.7 197.0 257.8 195.4 252.4C193.8 246.9 195.1 239.7 192.4 232.4C189.6 225.2 184.7 217.4 178.8 208.9C172.9 200.5 151.3 189.9 157.1 181.8Z" fill="#3a6a8c"/>
</g>
<g filter="url(#fz)">
<path d="M96.6 39.7C100.8 32.5 107.3 25.3 117.4 20.6C127.5 16.0 144.9 13.6 157.3 12.0C169.7 10.4 182.5 10.1 192.0 11.1C201.6 12.1 207.6 14.7 214.6 18.0C221.5 21.4 228.8 26.3 233.7 31.1C238.6 35.8 241.0 40.9 244.1 46.7C247.1 52.5 250.2 59.4 251.9 65.8C253.6 72.1 254.5 77.6 254.5 84.9C254.5 92.1 253.6 101.3 251.9 109.2C250.2 117.0 248.3 123.0 244.1 131.7C239.9 140.4 234.0 152.5 226.7 161.2C219.5 169.9 209.4 178.0 200.7 183.8C192.0 189.6 184.8 195.1 174.7 195.9C164.5 196.8 150.9 192.5 140.0 189.0C129.0 185.5 116.5 180.3 108.7 175.1C100.9 169.9 97.1 163.5 93.1 157.7C89.0 152.0 86.6 146.8 84.4 140.4C82.3 134.0 80.3 127.7 80.1 119.6C79.8 111.5 81.0 101.1 83.0 91.8C85.1 82.5 90.0 72.7 92.2 64.0C94.5 55.4 92.4 47.0 96.6 39.7Z" fill="url(#g1)"/>
</g>
<g filter="url(#fzt)">
<path d="M179.3 20.5L197.4 10.7L207.3 5.7L212.5 2.0L214.7 11.5L217.5 28.8L199.0 28.8ZM222.1 30.4L235.2 25.5L241.5 23.3L242.1 44.4L228.6 42.8Z" fill="url(#g1)"/>
</g>
</g>
<g transform="translate(310.5 110.4) scale(0.957 0.913)" fill="none" stroke-linecap="round" stroke-width="2.8" opacity="0.7"><use href="#AT0" stroke="url(#g2)"/><use href="#AT1" stroke="url(#g3)"/><use href="#AT2" stroke="url(#g4)"/><use href="#AT3" stroke="url(#g5)"/><use href="#AW0" stroke="url(#g6)"/><use href="#AW1" stroke="url(#g7)"/><use href="#AW2" stroke="url(#g8)"/><use href="#AW3" stroke="url(#g9)"/><use href="#AB0" stroke="url(#g10)"/><use href="#AB1" stroke="url(#g11)"/><use href="#AB2" stroke="url(#g12)"/><use href="#AB3" stroke="url(#g13)"/></g>
<g transform="translate(566.5 82.0) scale(1.100 1.140)" fill="none" stroke-linecap="round" stroke-width="3.6"><use href="#BW0" stroke="#c4c4c4"/><use href="#BW1" stroke="#c4c4c4"/><use href="#BW2" stroke="#c4c4c4"/><use href="#BW3" stroke="#c4c4c4"/><use href="#BE0" stroke="#c4c4c4"/><use href="#BE1" stroke="#c4c4c4"/><use href="#BE2" stroke="#c4c4c4"/><use href="#BE3" stroke="#c4c4c4"/><use href="#BF0" stroke="#c4c4c4"/><use href="#BF1" stroke="#c4c4c4"/><use href="#BF2" stroke="#c4c4c4"/><use href="#BF3" stroke="#c4c4c4"/><use href="#BB0" stroke="#c4c4c4"/><use href="#BB1" stroke="#c4c4c4"/><use href="#BB2" stroke="#c4c4c4"/><use href="#BB3" stroke="#c4c4c4"/></g>
<g transform="translate(563.0 83.0) scale(1.030 1.010)" fill="none" stroke-linecap="round" stroke-width="4.0"><use href="#AT0" stroke="#c4c4c4"/><use href="#AT1" stroke="#c4c4c4"/><use href="#AT2" stroke="#c4c4c4"/><use href="#AT3" stroke="#c4c4c4"/></g>
<g transform="translate(567.4 82.5) scale(1.100 1.140)" fill="none" stroke-linecap="round" stroke-width="2.5"><use href="#BW0" stroke="#d8321f"/><use href="#BW1" stroke="#d8321f"/><use href="#BW2" stroke="#d8321f"/><use href="#BW3" stroke="#d8321f"/><use href="#BE0" stroke="#d8321f"/><use href="#BE1" stroke="#d8321f"/><use href="#BE2" stroke="#d8321f"/><use href="#BE3" stroke="#d8321f"/><use href="#BF0" stroke="#d8321f"/><use href="#BF1" stroke="#d8321f"/><use href="#BF2" stroke="#d8321f"/><use href="#BF3" stroke="#d8321f"/><use href="#BB0" stroke="#d8321f"/><use href="#BB1" stroke="#d8321f"/><use href="#BB2" stroke="#d8321f"/><use href="#BB3" stroke="#d8321f"/></g>
<g transform="translate(563.9 83.5) scale(1.030 1.010)" fill="none" stroke-linecap="round" stroke-width="2.9"><use href="#AT0" stroke="#d8321f"/><use href="#AT1" stroke="#d8321f"/><use href="#AT2" stroke="#d8321f"/><use href="#AT3" stroke="#d8321f"/></g>
<rect x="36.6" y="96.6" width="267.0" height="267.0" fill="none" stroke="#555" stroke-width="1.6"/>
<rect x="303.6" y="96.6" width="267.0" height="267.0" fill="none" stroke="#555" stroke-width="1.6"/>
<rect x="570.6" y="96.6" width="267.0" height="267.0" fill="none" stroke="#555" stroke-width="1.6"/>
<text x="47.6" y="193.0" font-size="26.5">ASCW</text>
<text x="163.0" y="211.5" font-size="26.5">ASCG</text>
<text x="200.0" y="326.0" font-size="26.5">ASCN</text>
<line x1="36.6" y1="363.6" x2="36.6" y2="328.0" stroke="#111" stroke-width="1.8"/>
<path d="M28.6 330L36.6 314L44.6 330Z" fill="#111"/>
<line x1="36.6" y1="363.6" x2="74.0" y2="363.6" stroke="#111" stroke-width="1.8"/>
<path d="M72 355.6L88 363.6L72 371.6Z" fill="#111"/>
<text x="21.0" y="365.0" font-size="26.5" transform="rotate(-90 21.0 365.0)">umap 2</text>
<text x="36.2" y="391.5" font-size="26.5">umap 1</text>
<text x="292.5" y="391.5" font-size="26.5">log<tspan font-size="15" dy="7">10</tspan><tspan dy="-7"> frag.</tspan></text>
<text x="420.0" y="391.5" font-size="26.5">3</text>
<rect x="438.0" y="374.0" width="91.0" height="19.0" fill="url(#g14)" stroke="#111" stroke-width="1.5"/>
<text x="534.0" y="391.5" font-size="26.5">4.5</text>
<circle cx="589.5" cy="319" r="4.6" fill="#c4c4c4"/><circle cx="589.5" cy="345.5" r="4.6" fill="#d8321f"/>
<text x="603.0" y="327.0" font-size="26.5">rep 1</text>
<text x="603.0" y="353.5" font-size="26.5">rep 2</text>
<text x="921.0" y="29.0" font-size="38" font-weight="bold">d</text>
<text x="1360.0" y="50.0" font-size="26.5" text-anchor="middle">Markers for astrocyte in grey matter</text>
<line x1="957.0" y1="59.8" x2="1740.0" y2="59.8" stroke="#111" stroke-width="1.5"/>
<text x="957.0" y="88.5" font-size="26.5">Gja1</text>
<text x="1207.0" y="88.5" font-size="26.5">Mfge8</text>
<text x="1474.0" y="88.5" font-size="26.5">Slco1c1</text>
<g transform="translate(950.0 100.0) scale(1.000 1.000)" fill="none" stroke-linecap="round" stroke-width="4.2"><use href="#BT0" stroke="url(#g15)"/><use href="#BT1" stroke="url(#g16)"/><use href="#BT2" stroke="url(#g17)"/><use href="#BT3" stroke="url(#g18)"/><use href="#BW0" stroke="url(#g19)"/><use href="#BW1" stroke="url(#g20)"/><use href="#BW2" stroke="url(#g21)"/><use href="#BW3" stroke="url(#g22)"/><use href="#BE0" stroke="url(#g23)"/><use href="#BE1" stroke="url(#g24)"/><use href="#BE2" stroke="url(#g25)"/><use href="#BE3" stroke="url(#g26)"/><use href="#BF0" stroke="url(#g27)"/><use href="#BF1" stroke="url(#g28)"/><use href="#BF2" stroke="url(#g29)"/><use href="#BF3" stroke="url(#g30)"/><use href="#BB0" stroke="url(#g31)"/><use href="#BB1" stroke="url(#g32)"/><use href="#BB2" stroke="url(#g33)"/><use href="#BB3" stroke="url(#g34)"/></g>
<g transform="translate(1199.5 82.5) scale(1.135 1.135)" fill="none" stroke-linecap="round" stroke-width="4.0"><use href="#BT0" stroke="url(#g35)"/><use href="#BT1" stroke="url(#g36)"/><use href="#BT2" stroke="url(#g37)"/><use href="#BT3" stroke="url(#g38)"/><use href="#BW0" stroke="url(#g39)"/><use href="#BW1" stroke="url(#g40)"/><use href="#BW2" stroke="url(#g41)"/><use href="#BW3" stroke="url(#g42)"/><use href="#BE0" stroke="url(#g43)"/><use href="#BE1" stroke="url(#g44)"/><use href="#BE2" stroke="url(#g45)"/><use href="#BE3" stroke="url(#g46)"/><use href="#BF0" stroke="url(#g47)"/><use href="#BF1" stroke="url(#g48)"/><use href="#BF2" stroke="url(#g49)"/><use href="#BF3" stroke="url(#g50)"/><use href="#BB0" stroke="url(#g51)"/><use href="#BB1" stroke="url(#g52)"/><use href="#BB2" stroke="url(#g53)"/><use href="#BB3" stroke="url(#g54)"/></g>
<g transform="translate(1465.5 82.5) scale(1.135 1.135)" fill="none" stroke-linecap="round" stroke-width="4.0"><use href="#BT0" stroke="url(#g55)"/><use href="#BT1" stroke="url(#g56)"/><use href="#BT2" stroke="url(#g57)"/><use href="#BT3" stroke="url(#g58)"/><use href="#BW0" stroke="url(#g59)"/><use href="#BW1" stroke="url(#g60)"/><use href="#BW2" stroke="url(#g61)"/><use href="#BW3" stroke="url(#g62)"/><use href="#BE0" stroke="url(#g63)"/><use href="#BE1" stroke="url(#g64)"/><use href="#BE2" stroke="url(#g65)"/><use href="#BE3" stroke="url(#g66)"/><use href="#BF0" stroke="url(#g67)"/><use href="#BF1" stroke="url(#g68)"/><use href="#BF2" stroke="url(#g69)"/><use href="#BF3" stroke="url(#g70)"/><use href="#BB0" stroke="url(#g71)"/><use href="#BB1" stroke="url(#g72)"/><use href="#BB2" stroke="url(#g73)"/><use href="#BB3" stroke="url(#g74)"/></g>
<text x="1146.0" y="392.0" font-size="26.5">Normalized accessibility</text>
<text x="1455.0" y="392.0" font-size="26.5">low</text>
<rect x="1502.0" y="374.0" width="174.0" height="19.5" fill="url(#g75)" stroke="#111" stroke-width="1.5"/>
<text x="1683.0" y="392.0" font-size="26.5">high</text>
<text x="1203.0" y="467.6" font-size="26.5" text-anchor="middle">Markers for astrocyte in white matter</text>
<line x1="679.0" y1="475.8" x2="1740.5" y2="475.8" stroke="#111" stroke-width="1.5"/>
<text x="674.0" y="505.3" font-size="26.5">Aldh1l1</text>
<text x="941.8" y="505.3" font-size="26.5">Gfap</text>
<text x="1207.4" y="505.3" font-size="26.5">Aqp4</text>
<text x="1473.0" y="505.3" font-size="26.5">Serpinf1</text>
<g transform="translate(665.4 499.0) scale(1.142 1.150)" fill="none" stroke-linecap="round" stroke-width="4.0"><use href="#BT0" stroke="url(#g76)"/><use href="#BT1" stroke="url(#g77)"/><use href="#BT2" stroke="url(#g78)"/><use href="#BT3" stroke="url(#g79)"/><use href="#BW0" stroke="url(#g80)"/><use href="#BW1" stroke="url(#g81)"/><use href="#BW2" stroke="url(#g82)"/><use href="#BW3" stroke="url(#g83)"/><use href="#BE0" stroke="url(#g84)"/><use href="#BE1" stroke="url(#g85)"/><use href="#BE2" stroke="url(#g86)"/><use href="#BE3" stroke="url(#g87)"/><use href="#BF0" stroke="url(#g88)"/><use href="#BF1" stroke="url(#g89)"/><use href="#BF2" stroke="url(#g90)"/><use href="#BF3" stroke="url(#g91)"/><use href="#BB0" stroke="url(#g92)"/><use href="#BB1" stroke="url(#g93)"/><use href="#BB2" stroke="url(#g94)"/><use href="#BB3" stroke="url(#g95)"/></g>
<g transform="translate(932.7 499.0) scale(1.142 1.150)" fill="none" stroke-linecap="round" stroke-width="4.0"><use href="#BT0" stroke="url(#g96)"/><use href="#BT1" stroke="url(#g97)"/><use href="#BT2" stroke="url(#g98)"/><use href="#BT3" stroke="url(#g99)"/><use href="#BW0" stroke="url(#g100)"/><use href="#BW1" stroke="url(#g101)"/><use href="#BW2" stroke="url(#g102)"/><use href="#BW3" stroke="url(#g103)"/><use href="#BE0" stroke="url(#g104)"/><use href="#BE1" stroke="url(#g105)"/><use href="#BE2" stroke="url(#g106)"/><use href="#BE3" stroke="url(#g107)"/><use href="#BF0" stroke="url(#g108)"/><use href="#BF1" stroke="url(#g109)"/><use href="#BF2" stroke="url(#g110)"/><use href="#BF3" stroke="url(#g111)"/><use href="#BB0" stroke="url(#g112)"/><use href="#BB1" stroke="url(#g113)"/><use href="#BB2" stroke="url(#g114)"/><use href="#BB3" stroke="url(#g115)"/></g>
<g transform="translate(1200.0 499.0) scale(1.142 1.150)" fill="none" stroke-linecap="round" stroke-width="4.0"><use href="#BT0" stroke="url(#g116)"/><use href="#BT1" stroke="url(#g117)"/><use href="#BT2" stroke="url(#g118)"/><use href="#BT3" stroke="url(#g119)"/><use href="#BW0" stroke="url(#g120)"/><use href="#BW1" stroke="url(#g121)"/><use href="#BW2" stroke="url(#g122)"/><use href="#BW3" stroke="url(#g123)"/><use href="#BE0" stroke="url(#g124)"/><use href="#BE1" stroke="url(#g125)"/><use href="#BE2" stroke="url(#g126)"/><use href="#BE3" stroke="url(#g127)"/><use href="#BF0" stroke="url(#g128)"/><use href="#BF1" stroke="url(#g129)"/><use href="#BF2" stroke="url(#g130)"/><use href="#BF3" stroke="url(#g131)"/><use href="#BB0" stroke="url(#g132)"/><use href="#BB1" stroke="url(#g133)"/><use href="#BB2" stroke="url(#g134)"/><use href="#BB3" stroke="url(#g135)"/></g>
<g transform="translate(1467.3 499.0) scale(1.142 1.150)" fill="none" stroke-linecap="round" stroke-width="4.0"><use href="#BT0" stroke="url(#g136)"/><use href="#BT1" stroke="url(#g137)"/><use href="#BT2" stroke="url(#g138)"/><use href="#BT3" stroke="url(#g139)"/><use href="#BW0" stroke="url(#g140)"/><use href="#BW1" stroke="url(#g141)"/><use href="#BW2" stroke="url(#g142)"/><use href="#BW3" stroke="url(#g143)"/><use href="#BE0" stroke="url(#g144)"/><use href="#BE1" stroke="url(#g145)"/><use href="#BE2" stroke="url(#g146)"/><use href="#BE3" stroke="url(#g147)"/><use href="#BF0" stroke="url(#g148)"/><use href="#BF1" stroke="url(#g149)"/><use href="#BF2" stroke="url(#g150)"/><use href="#BF3" stroke="url(#g151)"/><use href="#BB0" stroke="url(#g152)"/><use href="#BB1" stroke="url(#g153)"/><use href="#BB2" stroke="url(#g154)"/><use href="#BB3" stroke="url(#g155)"/></g>
<text x="1146.0" y="800.0" font-size="26.5">Normalized accessibility</text>
<text x="1449.8" y="800.0" font-size="26.5">low</text>
<rect x="1495.6" y="780.6" width="174.6" height="20.5" fill="url(#g156)" stroke="#111" stroke-width="1.5"/>
<text x="1676.6" y="800.0" font-size="26.5">high</text>
<text x="3.7" y="448.0" font-size="38" font-weight="bold">b</text>
<text x="88.5" y="468.2" font-size="26.5">overlap score</text>
<text x="81.0" y="503.5" font-size="26.5">0</text>
<rect x="99.8" y="485.0" width="135.6" height="19.5" fill="url(#g157)" stroke="#111" stroke-width="1.5"/>
<text x="240.0" y="503.5" font-size="26.5">1</text>
<rect x="78.7" y="516.4" width="30.0" height="30.3" fill="#e2331f"/>
<rect x="108.3" y="516.4" width="30.0" height="30.3" fill="#e33a17"/>
<rect x="137.9" y="516.4" width="30.0" height="30.3" fill="#e2351d"/>
<rect x="167.6" y="516.4" width="30.0" height="30.3" fill="#8dc3cb"/>
<rect x="197.2" y="516.4" width="30.0" height="30.3" fill="#63a9c0"/>
<rect x="226.8" y="516.4" width="30.0" height="30.3" fill="#4d9db8"/>
<rect x="78.7" y="546.3" width="30.0" height="30.3" fill="#e2331f"/>
<rect x="108.3" y="546.3" width="30.0" height="30.3" fill="#e1301f"/>
<rect x="137.9" y="546.3" width="30.0" height="30.3" fill="#e2351d"/>
<rect x="167.6" y="546.3" width="30.0" height="30.3" fill="#9cc7b8"/>
<rect x="197.2" y="546.3" width="30.0" height="30.3" fill="#5fa8c0"/>
<rect x="226.8" y="546.3" width="30.0" height="30.3" fill="#4d9db8"/>
<rect x="78.7" y="576.3" width="30.0" height="30.3" fill="#e9540f"/>
<rect x="108.3" y="576.3" width="30.0" height="30.3" fill="#e43a1a"/>
<rect x="137.9" y="576.3" width="30.0" height="30.3" fill="#e94e10"/>
<rect x="167.6" y="576.3" width="30.0" height="30.3" fill="#c6cb7a"/>
<rect x="197.2" y="576.3" width="30.0" height="30.3" fill="#70b3c7"/>
<rect x="226.8" y="576.3" width="30.0" height="30.3" fill="#4d9db8"/>
<rect x="78.7" y="606.2" width="30.0" height="30.3" fill="#eac40d"/>
<rect x="108.3" y="606.2" width="30.0" height="30.3" fill="#ecc40c"/>
<rect x="137.9" y="606.2" width="30.0" height="30.3" fill="#ecc50b"/>
<rect x="167.6" y="606.2" width="30.0" height="30.3" fill="#ecc00c"/>
<rect x="197.2" y="606.2" width="30.0" height="30.3" fill="#e2c832"/>
<rect x="226.8" y="606.2" width="30.0" height="30.3" fill="#4d9db8"/>
<rect x="78.7" y="636.1" width="30.0" height="30.3" fill="#5fa9c1"/>
<rect x="108.3" y="636.1" width="30.0" height="30.3" fill="#63abc2"/>
<rect x="137.9" y="636.1" width="30.0" height="30.3" fill="#5ca6bf"/>
<rect x="167.6" y="636.1" width="30.0" height="30.3" fill="#ee920e"/>
<rect x="197.2" y="636.1" width="30.0" height="30.3" fill="#e1301d"/>
<rect x="226.8" y="636.1" width="30.0" height="30.3" fill="#4d9db8"/>
<rect x="78.7" y="666.0" width="30.0" height="30.3" fill="#4d9db8"/>
<rect x="108.3" y="666.0" width="30.0" height="30.3" fill="#4d9db8"/>
<rect x="137.9" y="666.0" width="30.0" height="30.3" fill="#4b9bb7"/>
<rect x="167.6" y="666.0" width="30.0" height="30.3" fill="#6aaec4"/>
<rect x="197.2" y="666.0" width="30.0" height="30.3" fill="#6aaec4"/>
<rect x="226.8" y="666.0" width="30.0" height="30.3" fill="#ec5b0c"/>
<rect x="14.4" y="516.4" width="19.0" height="179.6" fill="#7d4a96"/>
<rect x="35.3" y="516.4" width="18.2" height="30.3" fill="#b13db5"/>
<rect x="56.0" y="516.4" width="18.5" height="30.3" fill="#b7a5e3"/>
<rect x="35.3" y="546.3" width="18.2" height="30.3" fill="#b13db5"/>
<rect x="56.0" y="546.3" width="18.5" height="30.3" fill="#a9527a"/>
<rect x="35.3" y="576.3" width="18.2" height="30.3" fill="#b13db5"/>
<rect x="56.0" y="576.3" width="18.5" height="30.3" fill="#cf8ddd"/>
<rect x="35.3" y="606.2" width="18.2" height="30.3" fill="#7e67ae"/>
<rect x="56.0" y="606.2" width="18.5" height="30.3" fill="#d184e0"/>
<rect x="35.3" y="636.1" width="18.2" height="30.3" fill="#7e67ae"/>
<rect x="56.0" y="636.1" width="18.5" height="30.3" fill="#4a70b0"/>
<rect x="35.3" y="666.0" width="18.2" height="30.3" fill="#e58fb5"/>
<rect x="56.0" y="666.0" width="18.5" height="30.3" fill="#8b5fa8"/>
<text x="262.3" y="541.1" font-size="26.5">ASCN</text>
<text x="262.3" y="571.0" font-size="26.5">ASCG</text>
<text x="262.3" y="600.9" font-size="26.5">ASCW</text>
<text x="262.3" y="630.9" font-size="26.5">RGSZ</text>
<text x="262.3" y="660.8" font-size="26.5">RGDG</text>
<text x="262.3" y="690.7" font-size="26.5">NIPC</text>
<text x="33.8" y="703.0" font-size="26.5" text-anchor="end" transform="rotate(-90 33.8 703.0)">L1</text>
<text x="55.4" y="703.0" font-size="26.5" text-anchor="end" transform="rotate(-90 55.4 703.0)">L2</text>
<text x="78.3" y="703.0" font-size="26.5" text-anchor="end" transform="rotate(-90 78.3 703.0)">L3</text>
<text x="103.5" y="703.0" font-size="26.5" text-anchor="end" transform="rotate(-90 103.5 703.0)">ACOB</text>
<text x="133.1" y="703.0" font-size="26.5" text-anchor="end" transform="rotate(-90 133.1 703.0)">ACTE1</text>
<text x="162.8" y="703.0" font-size="26.5" text-anchor="end" transform="rotate(-90 162.8 703.0)">ACTE2</text>
<text x="192.4" y="703.0" font-size="26.5" text-anchor="end" transform="rotate(-90 192.4 703.0)">RGSZ</text>
<text x="222.6" y="703.0" font-size="26.5" text-anchor="end" transform="rotate(-90 222.6 703.0)">RGDG</text>
<text x="252.5" y="703.0" font-size="26.5" text-anchor="end" transform="rotate(-90 252.5 703.0)">SZNBL</text>
<text x="5.2" y="812.0" font-size="26.5">Taxonomy in mouseBrain.org</text>
<text x="379.5" y="448.0" font-size="38" font-weight="bold">c</text>
<text x="465.0" y="468.0" font-size="26.5">overlap score</text>
<text x="457.3" y="503.5" font-size="26.5">0</text>
<rect x="475.4" y="483.5" width="135.9" height="20.5" fill="url(#g158)" stroke="#111" stroke-width="1.5"/>
<text x="616.5" y="503.5" font-size="26.5">1</text>
<rect x="409.5" y="515.9" width="31.3" height="30.3" fill="#e1301d"/>
<rect x="440.5" y="515.9" width="31.3" height="30.3" fill="#5aa6bf"/>
<rect x="409.5" y="545.9" width="31.3" height="30.3" fill="#eeaa0c"/>
<rect x="440.5" y="545.9" width="31.3" height="30.3" fill="#ee780e"/>
<text x="476.2" y="539.8" font-size="26.5">ASCG</text>
<text x="476.2" y="569.8" font-size="26.5">ASCW</text>
<text x="434.7" y="581.8" font-size="26.5" text-anchor="end" transform="rotate(-90 434.7 581.8)">Astro Aqp4_Slc7a10</text>
<text x="463.4" y="581.8" font-size="26.5" text-anchor="end" transform="rotate(-90 463.4 581.8)">Astro Aqp4_Gfap</text>
<text x="478.2" y="783.6" font-size="26.5">Cell cluster</text>
<text x="478.2" y="809.5" font-size="26.5">using LIGER</text>
<text x="3.5" y="878.8" font-size="38" font-weight="bold">e</text>
<text x="287.0" y="895.2" font-size="26.5" text-anchor="middle">Markers for upper Layer</text>
<text x="290.0" y="928.1" font-size="26.5" text-anchor="middle">(L2-3 / L4)</text>
<line x1="30.0" y1="939.8" x2="545.0" y2="939.8" stroke="#111" stroke-width="1.5"/>
<text x="699.2" y="895.2" font-size="26.5" text-anchor="middle">Markers for gray matter</text>
<text x="699.2" y="928.1" font-size="26.5" text-anchor="middle">(Pan-Astro)</text>
<line x1="569.0" y1="939.8" x2="812.0" y2="939.8" stroke="#111" stroke-width="1.5"/>
<text x="1082.5" y="895.2" font-size="26.5" text-anchor="middle">Markers for deep Layer</text>
<text x="1086.0" y="928.1" font-size="26.5" text-anchor="middle">(L5-6)</text>
<line x1="845.0" y1="939.8" x2="1349.0" y2="939.8" stroke="#111" stroke-width="1.5"/>
<text x="29.8" y="985.7" font-size="26.5">Scel</text>
<text x="294.8" y="985.7" font-size="26.5">Igfbp2</text>
<text x="561.0" y="985.7" font-size="26.5">Irak2</text>
<text x="828.3" y="985.7" font-size="26.5">Dkk3</text>
<text x="1094.3" y="985.7" font-size="26.5">Axin2</text>
<g transform="translate(22.2 989.4) scale(1.125 1.129)" fill="none" stroke-linecap="round" stroke-width="4.0"><use href="#BT0" stroke="url(#g159)"/><use href="#BT1" stroke="url(#g160)"/><use href="#BT2" stroke="url(#g161)"/><use href="#BT3" stroke="url(#g162)"/><use href="#BW0" stroke="url(#g163)"/><use href="#BW1" stroke="url(#g164)"/><use href="#BW2" stroke="url(#g165)"/><use href="#BW3" stroke="url(#g166)"/><use href="#BE0" stroke="url(#g167)"/><use href="#BE1" stroke="url(#g168)"/><use href="#BE2" stroke="url(#g169)"/><use href="#BE3" stroke="url(#g170)"/><use href="#BF0" stroke="url(#g171)"/><use href="#BF1" stroke="url(#g172)"/><use href="#BF2" stroke="url(#g173)"/><use href="#BF3" stroke="url(#g174)"/><use href="#BB0" stroke="url(#g175)"/><use href="#BB1" stroke="url(#g176)"/><use href="#BB2" stroke="url(#g177)"/><use href="#BB3" stroke="url(#g178)"/></g>
<g transform="translate(288.7 989.4) scale(1.125 1.129)" fill="none" stroke-linecap="round" stroke-width="4.0"><use href="#BT0" stroke="url(#g179)"/><use href="#BT1" stroke="url(#g180)"/><use href="#BT2" stroke="url(#g181)"/><use href="#BT3" stroke="url(#g182)"/><use href="#BW0" stroke="url(#g183)"/><use href="#BW1" stroke="url(#g184)"/><use href="#BW2" stroke="url(#g185)"/><use href="#BW3" stroke="url(#g186)"/><use href="#BE0" stroke="url(#g187)"/><use href="#BE1" stroke="url(#g188)"/><use href="#BE2" stroke="url(#g189)"/><use href="#BE3" stroke="url(#g190)"/><use href="#BF0" stroke="url(#g191)"/><use href="#BF1" stroke="url(#g192)"/><use href="#BF2" stroke="url(#g193)"/><use href="#BF3" stroke="url(#g194)"/><use href="#BB0" stroke="url(#g195)"/><use href="#BB1" stroke="url(#g196)"/><use href="#BB2" stroke="url(#g197)"/><use href="#BB3" stroke="url(#g198)"/></g>
<g transform="translate(555.2 989.4) scale(1.125 1.129)" fill="none" stroke-linecap="round" stroke-width="4.0"><use href="#BT0" stroke="url(#g199)"/><use href="#BT1" stroke="url(#g200)"/><use href="#BT2" stroke="url(#g201)"/><use href="#BT3" stroke="url(#g202)"/><use href="#BW0" stroke="url(#g203)"/><use href="#BW1" stroke="url(#g204)"/><use href="#BW2" stroke="url(#g205)"/><use href="#BW3" stroke="url(#g206)"/><use href="#BE0" stroke="url(#g207)"/><use href="#BE1" stroke="url(#g208)"/><use href="#BE2" stroke="url(#g209)"/><use href="#BE3" stroke="url(#g210)"/><use href="#BF0" stroke="url(#g211)"/><use href="#BF1" stroke="url(#g212)"/><use href="#BF2" stroke="url(#g213)"/><use href="#BF3" stroke="url(#g214)"/><use href="#BB0" stroke="url(#g215)"/><use href="#BB1" stroke="url(#g216)"/><use href="#BB2" stroke="url(#g217)"/><use href="#BB3" stroke="url(#g218)"/></g>
<g transform="translate(821.7 989.4) scale(1.125 1.129)" fill="none" stroke-linecap="round" stroke-width="4.0"><use href="#BT0" stroke="url(#g219)"/><use href="#BT1" stroke="url(#g220)"/><use href="#BT2" stroke="url(#g221)"/><use href="#BT3" stroke="url(#g222)"/><use href="#BW0" stroke="url(#g223)"/><use href="#BW1" stroke="url(#g224)"/><use href="#BW2" stroke="url(#g225)"/><use href="#BW3" stroke="url(#g226)"/><use href="#BE0" stroke="url(#g227)"/><use href="#BE1" stroke="url(#g228)"/><use href="#BE2" stroke="url(#g229)"/><use href="#BE3" stroke="url(#g230)"/><use href="#BF0" stroke="url(#g231)"/><use href="#BF1" stroke="url(#g232)"/><use href="#BF2" stroke="url(#g233)"/><use href="#BF3" stroke="url(#g234)"/><use href="#BB0" stroke="url(#g235)"/><use href="#BB1" stroke="url(#g236)"/><use href="#BB2" stroke="url(#g237)"/><use href="#BB3" stroke="url(#g238)"/></g>
<g transform="translate(1088.2 989.4) scale(1.125 1.129)" fill="none" stroke-linecap="round" stroke-width="4.0"><use href="#BT0" stroke="url(#g239)"/><use href="#BT1" stroke="url(#g240)"/><use href="#BT2" stroke="url(#g241)"/><use href="#BT3" stroke="url(#g242)"/><use href="#BW0" stroke="url(#g243)"/><use href="#BW1" stroke="url(#g244)"/><use href="#BW2" stroke="url(#g245)"/><use href="#BW3" stroke="url(#g246)"/><use href="#BE0" stroke="url(#g247)"/><use href="#BE1" stroke="url(#g248)"/><use href="#BE2" stroke="url(#g249)"/><use href="#BE3" stroke="url(#g250)"/><use href="#BF0" stroke="url(#g251)"/><use href="#BF1" stroke="url(#g252)"/><use href="#BF2" stroke="url(#g253)"/><use href="#BF3" stroke="url(#g254)"/><use href="#BB0" stroke="url(#g255)"/><use href="#BB1" stroke="url(#g256)"/><use href="#BB2" stroke="url(#g257)"/><use href="#BB3" stroke="url(#g258)"/></g>
<path d="M63.5 1054.8C85 1056 100 1048 115.2 1042.3C135 1034 150 1026 164.5 1020.9C180 1015 192 1013 204 1013.3C220 1013.5 235 1017 246.8 1022.5C262 1030 272 1039 279.7 1048.8C287 1058 291 1066 294.5 1075.2C296.5 1082 297 1088 296.8 1094.3" fill="none" stroke="#111" stroke-width="2.4" stroke-linecap="round"/>
<path d="M291.2 1123.5C284 1136 274 1145 263.2 1154.1C252 1163 241 1171 230.3 1177.2C219 1184 208 1189 197.4 1192C190 1194 184 1195.5 177.7 1195.9C171 1196.2 166 1195.5 161.2 1194.3" fill="none" stroke="#111" stroke-width="2.4" stroke-linecap="round"/>
<text x="60.2" y="1039.0" font-size="26.5">L2-3</text>
<text x="260.0" y="1022.5" font-size="26.5">L4</text>
<text x="30.6" y="1155.8" font-size="26.5">L1</text>
<text x="239.2" y="1192.0" font-size="26.5">L5-6</text>
<text x="779.8" y="1285.0" font-size="26.5">Normalized accessibility</text>
<text x="1084.2" y="1285.0" font-size="26.5">low</text>
<rect x="1131.0" y="1267.7" width="174.4" height="20.6" fill="url(#g259)" stroke="#111" stroke-width="1.5"/>
<text x="1312.8" y="1285.0" font-size="26.5">high</text>
<text x="1393.5" y="878.0" font-size="38" font-weight="bold">f</text>
<line x1="1487.8" y1="889.4" x2="1487.8" y2="1091.8" stroke="#111" stroke-width="1.5"/>
<line x1="1480.0" y1="917.0" x2="1487.8" y2="917.0" stroke="#111" stroke-width="1.5"/>
<text x="1474.0" y="926.5" font-size="26.5" text-anchor="end">6</text>
<line x1="1480.0" y1="975.2" x2="1487.8" y2="975.2" stroke="#111" stroke-width="1.5"/>
<text x="1474.0" y="984.7" font-size="26.5" text-anchor="end">4</text>
<line x1="1480.0" y1="1033.2" x2="1487.8" y2="1033.2" stroke="#111" stroke-width="1.5"/>
<text x="1474.0" y="1042.7" font-size="26.5" text-anchor="end">2</text>
<line x1="1480.0" y1="1091.1" x2="1487.8" y2="1091.1" stroke="#111" stroke-width="1.5"/>
<text x="1474.0" y="1100.6" font-size="26.5" text-anchor="end">0</text>
<text x="1415.8" y="1002.4" font-size="26.5" text-anchor="middle" transform="rotate(-90 1415.8 1002.4)">Intersection</text>
<text x="1443.0" y="1004.5" font-size="26.5" text-anchor="middle" transform="rotate(-90 1443.0 1004.5)">size (x 10<tspan font-size="15" dy="-10">3</tspan><tspan dy="10">)</tspan></text>
<rect x="1498.4" y="1034.2" width="30.4" height="56.9" fill="#6b6b6b" stroke="#111" stroke-width="1.2"/>
<rect x="1548.2" y="1089.8" width="31.4" height="1.5" fill="#111"/>
<rect x="1599.0" y="1089.5" width="31.2" height="1.8" fill="#111"/>
<rect x="1649.5" y="899.0" width="31.6" height="192.4" fill="#0b0b0b"/>
<rect x="1700.0" y="926.9" width="31.6" height="164.5" fill="#0b0b0b"/>
<rect x="1750.5" y="937.5" width="31.6" height="153.9" fill="#0b0b0b"/>
<rect x="1487.8" y="1098.8" width="303.7" height="63.2" fill="#f5f5f5"/>
<rect x="1487.8" y="1226.7" width="303.7" height="63.5" fill="#f5f5f5"/>
<circle cx="1511.5" cy="1260.2" r="4" fill="#d4d4d4"/>
<circle cx="1562" cy="1195.6" r="4" fill="#d4d4d4"/>
<circle cx="1612.5" cy="1131.3" r="4" fill="#d4d4d4"/>
<circle cx="1663" cy="1195.6" r="4" fill="#d4d4d4"/>
<circle cx="1663" cy="1260.2" r="4" fill="#d4d4d4"/>
<circle cx="1713.8" cy="1131.3" r="4" fill="#d4d4d4"/>
<circle cx="1713.8" cy="1260.2" r="4" fill="#d4d4d4"/>
<circle cx="1764.7" cy="1131.3" r="4" fill="#d4d4d4"/>
<circle cx="1764.7" cy="1195.6" r="4" fill="#d4d4d4"/>
<line x1="1511.5" y1="1131.3" x2="1511.5" y2="1195.6" stroke="#111" stroke-width="2"/>
<line x1="1562.0" y1="1131.3" x2="1562.0" y2="1260.2" stroke="#111" stroke-width="2"/>
<line x1="1612.5" y1="1195.6" x2="1612.5" y2="1260.2" stroke="#111" stroke-width="2"/>
<circle cx="1511.5" cy="1131.3" r="4.4" fill="#0b0b0b"/>
<circle cx="1511.5" cy="1195.6" r="4.4" fill="#0b0b0b"/>
<circle cx="1562" cy="1131.3" r="4.4" fill="#0b0b0b"/>
<circle cx="1562" cy="1260.2" r="4.4" fill="#0b0b0b"/>
<circle cx="1612.5" cy="1195.6" r="4.4" fill="#0b0b0b"/>
<circle cx="1612.5" cy="1260.2" r="4.4" fill="#0b0b0b"/>
<circle cx="1663" cy="1131.3" r="4.4" fill="#0b0b0b"/>
<circle cx="1713.8" cy="1195.6" r="4.4" fill="#0b0b0b"/>
<circle cx="1764.7" cy="1260.2" r="4.4" fill="#0b0b0b"/>
<text x="1477.6" y="1139.4" font-size="26.5" text-anchor="end">ASCW</text>
<text x="1477.6" y="1203.7" font-size="26.5" text-anchor="end">ASCG</text>
<text x="1477.6" y="1268.3" font-size="26.5" text-anchor="end">ASCN</text>
<rect x="1798.6" y="1110.5" width="128.1" height="38.8" fill="#6b6b6b" stroke="#222" stroke-width="1.2"/>
<rect x="1798.6" y="1174.7" width="114.0" height="38.9" fill="#6b6b6b" stroke="#222" stroke-width="1.2"/>
<rect x="1798.6" y="1239.4" width="79.4" height="38.8" fill="#6b6b6b" stroke="#222" stroke-width="1.2"/>
<line x1="1798.6" y1="1097.0" x2="1932.8" y2="1097.0" stroke="#111" stroke-width="1.3"/>
<line x1="1798.6" y1="1091.3" x2="1798.6" y2="1097.0" stroke="#111" stroke-width="1.3"/>
<text x="1798.6" y="1087.2" font-size="16.5" text-anchor="middle">0</text>
<line x1="1828.2" y1="1091.3" x2="1828.2" y2="1097.0" stroke="#111" stroke-width="1.3"/>
<text x="1828.2" y="1087.2" font-size="16.5" text-anchor="middle">2</text>
<line x1="1857.9" y1="1091.3" x2="1857.9" y2="1097.0" stroke="#111" stroke-width="1.3"/>
<text x="1857.9" y="1087.2" font-size="16.5" text-anchor="middle">4</text>
<line x1="1887.5" y1="1091.3" x2="1887.5" y2="1097.0" stroke="#111" stroke-width="1.3"/>
<text x="1887.5" y="1087.2" font-size="16.5" text-anchor="middle">6</text>
<text x="1792.0" y="1028.9" font-size="26.5" textLength="167" lengthAdjust="spacingAndGlyphs"># of differential</text>
<text x="1793.6" y="1060.7" font-size="26.5">cCREs (x 10<tspan font-size="15" dy="-10">3</tspan><tspan dy="10">)</tspan></text>
<text x="0.5" y="1335.0" font-size="38" font-weight="bold">g</text>
<text x="45.5" y="1367.9" font-size="26.5">Gene activity</text>
<text x="46.0" y="1398.7" font-size="26.5" text-anchor="middle">0</text>
<text x="183.8" y="1398.7" font-size="26.5" text-anchor="middle">600</text>
<line x1="92.5" y1="1407.0" x2="92.5" y2="1690.7" stroke="#d9d9d9" stroke-width="1.3"/>
<line x1="139.0" y1="1407.0" x2="139.0" y2="1690.7" stroke="#d9d9d9" stroke-width="1.3"/>
<line x1="185.9" y1="1407.0" x2="185.9" y2="1690.7" stroke="#d9d9d9" stroke-width="1.3"/>
<rect x="46.0" y="1420.5" width="8.7" height="22.2" fill="#a3577f" stroke="#111" stroke-width="1.3"/>
<rect x="46.0" y="1442.7" width="5.4" height="23.0" fill="#cf8be0" stroke="#111" stroke-width="1.3"/>
<rect x="46.0" y="1465.7" width="18.6" height="24.3" fill="#b9a6ea" stroke="#111" stroke-width="1.3"/>
<rect x="46.0" y="1513.9" width="121.4" height="23.4" fill="#a3577f" stroke="#111" stroke-width="1.3"/>
<rect x="46.0" y="1537.3" width="95.9" height="23.5" fill="#cf8be0" stroke="#111" stroke-width="1.3"/>
<rect x="46.0" y="1560.8" width="123.0" height="23.8" fill="#b9a6ea" stroke="#111" stroke-width="1.3"/>
<rect x="46.0" y="1608.5" width="120.6" height="22.5" fill="#a3577f" stroke="#111" stroke-width="1.3"/>
<rect x="46.0" y="1631.0" width="105.4" height="23.5" fill="#cf8be0" stroke="#111" stroke-width="1.3"/>
<rect x="46.0" y="1654.5" width="95.9" height="23.9" fill="#b9a6ea" stroke="#111" stroke-width="1.3"/>
<line x1="46.0" y1="1407.0" x2="185.9" y2="1407.0" stroke="#111" stroke-width="1.4"/>
<line x1="46.0" y1="1401.5" x2="46.0" y2="1407.0" stroke="#111" stroke-width="1.4"/>
<line x1="92.5" y1="1401.5" x2="92.5" y2="1407.0" stroke="#111" stroke-width="1.4"/>
<line x1="139.0" y1="1401.5" x2="139.0" y2="1407.0" stroke="#111" stroke-width="1.4"/>
<line x1="185.9" y1="1401.5" x2="185.9" y2="1407.0" stroke="#111" stroke-width="1.4"/>
<line x1="46.0" y1="1407.0" x2="46.0" y2="1690.7" stroke="#111" stroke-width="1.4"/>
<rect x="81.0" y="1419.3" width="16.3" height="15.7" fill="#a3577f" stroke="#111" stroke-width="1.3"/>
<text x="102.8" y="1434.5" font-size="26.5">ASC<tspan dx="2.6">G</tspan></text>
<rect x="81.0" y="1446.8" width="16.3" height="15.7" fill="#cf8be0" stroke="#111" stroke-width="1.3"/>
<text x="102.8" y="1462.2" font-size="26.5">ASC<tspan dx="2.6">W</tspan></text>
<rect x="81.0" y="1474.4" width="16.3" height="15.7" fill="#b9a6ea" stroke="#111" stroke-width="1.3"/>
<text x="102.8" y="1490.0" font-size="26.5">ASC<tspan dx="2.6">N</tspan></text>
<text x="36.2" y="1455.0" font-size="26.5" text-anchor="middle" transform="rotate(-90 36.2 1455.0)">Gli1</text>
<text x="36.2" y="1553.8" font-size="26.5" text-anchor="middle" transform="rotate(-90 36.2 1553.8)">Gli2</text>
<text x="36.2" y="1642.6" font-size="26.5" text-anchor="middle" transform="rotate(-90 36.2 1642.6)">Gli3</text>
<text x="233.0" y="1339.9" font-size="38" font-weight="bold">h</text>
<text x="744.8" y="1367.9" font-size="26.5" text-anchor="middle">Markers for Olig2-lineage (ASCNs)</text>
<line x1="249.6" y1="1376.5" x2="1317.7" y2="1376.5" stroke="#111" stroke-width="1.5"/>
<text x="249.5" y="1416.4" font-size="26.5">Olig2</text>
<text x="520.0" y="1416.4" font-size="26.5">Itih3</text>
<text x="785.0" y="1416.4" font-size="26.5">Agt</text>
<text x="1056.5" y="1416.4" font-size="26.5">Slc6a11</text>
<g transform="translate(250.0 1420.0) scale(1.000 1.000)" fill="none" stroke-linecap="round" stroke-width="5.2"><use href="#HT0" stroke="url(#g260)"/><use href="#HT1" stroke="url(#g261)"/><use href="#HT2" stroke="url(#g262)"/><use href="#HT3" stroke="url(#g263)"/></g>
<g transform="translate(250.0 1420.0) scale(1.000 1.000)" fill="none" stroke-linecap="round" stroke-width="5.2"><use href="#HW0" stroke="url(#g264)"/><use href="#HW1" stroke="url(#g265)"/><use href="#HW2" stroke="url(#g266)"/><use href="#HW3" stroke="url(#g267)"/><use href="#HB0" stroke="url(#g268)"/><use href="#HB1" stroke="url(#g269)"/><use href="#HB2" stroke="url(#g270)"/><use href="#HB3" stroke="url(#g271)"/></g>
<g transform="translate(517.6 1420.0) scale(1.000 1.000)" fill="none" stroke-linecap="round" stroke-width="5.2"><use href="#HT0" stroke="url(#g272)"/><use href="#HT1" stroke="url(#g273)"/><use href="#HT2" stroke="url(#g274)"/><use href="#HT3" stroke="url(#g275)"/></g>
<g transform="translate(517.6 1420.0) scale(1.000 1.000)" fill="none" stroke-linecap="round" stroke-width="5.2"><use href="#HW0" stroke="url(#g276)"/><use href="#HW1" stroke="url(#g277)"/><use href="#HW2" stroke="url(#g278)"/><use href="#HW3" stroke="url(#g279)"/><use href="#HB0" stroke="url(#g280)"/><use href="#HB1" stroke="url(#g281)"/><use href="#HB2" stroke="url(#g282)"/><use href="#HB3" stroke="url(#g283)"/></g>
<g transform="translate(785.2 1420.0) scale(1.000 1.000)" fill="none" stroke-linecap="round" stroke-width="5.2"><use href="#HT0" stroke="url(#g284)"/><use href="#HT1" stroke="url(#g285)"/><use href="#HT2" stroke="url(#g286)"/><use href="#HT3" stroke="url(#g287)"/></g>
<g transform="translate(785.2 1420.0) scale(1.000 1.000)" fill="none" stroke-linecap="round" stroke-width="5.2"><use href="#HW0" stroke="url(#g288)"/><use href="#HW1" stroke="url(#g289)"/><use href="#HW2" stroke="url(#g290)"/><use href="#HW3" stroke="url(#g291)"/><use href="#HB0" stroke="url(#g292)"/><use href="#HB1" stroke="url(#g293)"/><use href="#HB2" stroke="url(#g294)"/><use href="#HB3" stroke="url(#g295)"/></g>
<g transform="translate(1052.8 1420.0) scale(1.000 1.000)" fill="none" stroke-linecap="round" stroke-width="5.2"><use href="#HT0" stroke="url(#g296)"/><use href="#HT1" stroke="url(#g297)"/><use href="#HT2" stroke="url(#g298)"/><use href="#HT3" stroke="url(#g299)"/></g>
<g transform="translate(1052.8 1420.0) scale(1.000 1.000)" fill="none" stroke-linecap="round" stroke-width="5.2"><use href="#HW0" stroke="url(#g300)"/><use href="#HW1" stroke="url(#g301)"/><use href="#HW2" stroke="url(#g302)"/><use href="#HW3" stroke="url(#g303)"/><use href="#HB0" stroke="url(#g304)"/><use href="#HB1" stroke="url(#g305)"/><use href="#HB2" stroke="url(#g306)"/><use href="#HB3" stroke="url(#g307)"/></g>
<circle cx="530.6" cy="1544.5" r="3.4" fill="#9bd93c"/>
<circle cx="798.7" cy="1544.5" r="3.6" fill="#ece51b"/>
<text x="742.4" y="1709.2" font-size="26.5">Normalized accessibility</text>
<text x="1046.7" y="1709.2" font-size="26.5">low</text>
<rect x="1091.1" y="1692.0" width="175.2" height="18.5" fill="url(#g308)" stroke="#111" stroke-width="1.5"/>
<text x="1272.9" y="1709.2" font-size="26.5">high</text>
<text x="1394.5" y="1340.0" font-size="38" font-weight="bold">k</text>
<text x="1569.5" y="1376.2" font-size="26.5" text-anchor="middle">Cell types of Astrocytes</text>
<text x="1569.5" y="1405.8" font-size="26.5" text-anchor="middle">colored by sub-regions</text>
<g transform="translate(1439.6 1411.1) scale(0.972 1.030)" fill="none" stroke-linecap="round" stroke-width="3.4"><use href="#HT0" stroke="#b266d6"/><use href="#HT1" stroke="#b0186a"/><use href="#HT2" stroke="#b266d6"/><use href="#HT3" stroke="#c9a08c"/><use href="#HW0" stroke="#f6c142"/><use href="#HW1" stroke="#d62f1f"/><use href="#HW2" stroke="#8c564b"/><use href="#HW3" stroke="#2ca02c"/><use href="#HB0" stroke="url(#g309)"/><use href="#HB1" stroke="url(#g310)"/><use href="#HB2" stroke="url(#g311)"/><use href="#HB3" stroke="url(#g312)"/></g>
<rect x="1441.4" y="1424.9" width="267.0" height="265.9" fill="none" stroke="#666" stroke-width="1.3"/>
<path d="M1485.8 1439.9L1692.4 1439.9L1692.4 1609.9L1537 1609.9Z" fill="none" stroke="#555" stroke-width="1.3"/>
<path d="M1692.4 1439.9L1741.2 1424.9M1692.4 1609.9L1741.2 1719.2" fill="none" stroke="#555" stroke-width="1.3"/>
<text x="1497.8" y="1461.4" font-size="26.5">ASCG</text>
<rect x="1741.2" y="1424.9" width="63.1" height="294.3" fill="none" stroke="#333" stroke-width="1.5"/>
<rect x="1748.7" y="1430.7" width="47.8" height="35.5" fill="#8c564b"/>
<rect x="1748.7" y="1465.9" width="47.8" height="12.2" fill="#f9d4ec"/>
<rect x="1748.7" y="1477.8" width="47.8" height="9.5" fill="#b5d410"/>
<rect x="1748.7" y="1487.0" width="47.8" height="6.4" fill="#f57f0e"/>
<rect x="1748.7" y="1493.2" width="47.8" height="31.7" fill="#d62f1f"/>
<rect x="1748.7" y="1524.6" width="47.8" height="6.4" fill="#8446c0"/>
<rect x="1748.7" y="1530.7" width="47.8" height="20.8" fill="#fdb0ba"/>
<rect x="1748.7" y="1551.2" width="47.8" height="16.3" fill="#b0186a"/>
<rect x="1748.7" y="1567.2" width="47.8" height="3.0" fill="#ee7a10"/>
<rect x="1748.7" y="1570.0" width="47.8" height="46.4" fill="#4a73b8"/>
<rect x="1748.7" y="1616.1" width="47.8" height="5.1" fill="#c9a08c"/>
<rect x="1748.7" y="1620.8" width="47.8" height="5.4" fill="#b266d6"/>
<rect x="1748.7" y="1626.0" width="47.8" height="42.3" fill="#f6c142"/>
<rect x="1748.7" y="1668.0" width="47.8" height="47.4" fill="#2ca02c"/>
<line x1="1804.3" y1="1429.0" x2="1807.5" y2="1429.0" stroke="#111" stroke-width="1.3"/>
<text x="1812.8" y="1436.6" font-size="26.5">100%</text>
<line x1="1804.3" y1="1499.7" x2="1807.5" y2="1499.7" stroke="#111" stroke-width="1.3"/>
<text x="1812.8" y="1507.3" font-size="26.5">75%</text>
<line x1="1804.3" y1="1572.4" x2="1807.5" y2="1572.4" stroke="#111" stroke-width="1.3"/>
<text x="1812.8" y="1580.0" font-size="26.5">50%</text>
<line x1="1804.3" y1="1644.0" x2="1807.5" y2="1644.0" stroke="#111" stroke-width="1.3"/>
<text x="1812.8" y="1651.6" font-size="26.5">25%</text>
<line x1="1804.3" y1="1715.1" x2="1807.5" y2="1715.1" stroke="#111" stroke-width="1.3"/>
<text x="1812.8" y="1722.7" font-size="26.5">0%</text>
<text x="1900.6" y="1573.0" font-size="26.5" text-anchor="middle" transform="rotate(-90 1900.6 1573.0)">cell composition</text>
<text x="1929.6" y="1573.0" font-size="26.5" text-anchor="middle" transform="rotate(-90 1929.6 1573.0)">(sub-regions)</text>
<text x="1424.4" y="1694.6" font-size="26.5" transform="rotate(-90 1424.4 1694.6)">umap 2</text>
<line x1="1441.4" y1="1690.8" x2="1441.4" y2="1652.0" stroke="#111" stroke-width="1.8"/>
<path d="M1433.4 1655L1441.4 1640.5L1449.4 1655Z" fill="#111"/>
<line x1="1441.4" y1="1690.8" x2="1479.0" y2="1690.8" stroke="#111" stroke-width="1.8"/>
<path d="M1477 1682.8L1491.5 1690.8L1477 1698.8Z" fill="#111"/>
<text x="1441.4" y="1719.2" font-size="26.5">umap 1</text>
<text x="3.0" y="1762.0" font-size="38" font-weight="bold">i</text>
<text x="45.3" y="1763.1" font-size="26.5">chr6:114,109,764-114,270,203</text>
<line x1="46.0" y1="1824.6" x2="923.0" y2="1824.6" stroke="#d4d4d4" stroke-width="1.2"/>
<line x1="46.0" y1="1874.3" x2="923.0" y2="1874.3" stroke="#d4d4d4" stroke-width="1.2"/>
<line x1="46.0" y1="1924.1" x2="923.0" y2="1924.1" stroke="#d4d4d4" stroke-width="1.2"/>
<path d="M296.7 1824.6C300.0 1824.6 300.6 1803.0 302.7 1803.0C304.8 1803.0 305.4 1824.6 308.7 1824.6Z" fill="#a3577f"/>
<path d="M295.5 1824.6C297.7 1824.6 298.1 1816.6 299.5 1816.6C300.9 1816.6 301.3 1824.6 303.5 1824.6Z" fill="#a3577f"/>
<path d="M259.0 1824.6C260.1 1824.6 260.3 1823.8 261.0 1823.8C261.7 1823.8 261.9 1824.6 263.0 1824.6Z" fill="#a3577f"/>
<path d="M281.0 1824.6C282.1 1824.6 282.3 1823.8 283.0 1823.8C283.7 1823.8 283.9 1824.6 285.0 1824.6Z" fill="#a3577f"/>
<path d="M308.5 1824.6C309.9 1824.6 310.1 1824.0 311.0 1824.0C311.9 1824.0 312.1 1824.6 313.5 1824.6Z" fill="#a3577f"/>
<rect x="377.6" y="1817.6" width="2.0" height="7.0" fill="#a3577f"/>
<rect x="381.1" y="1811.1" width="1.6" height="13.5" fill="#a3577f"/>
<rect x="422.2" y="1821.6" width="2.0" height="3.0" fill="#a3577f"/>
<rect x="428.4" y="1803.0" width="1.6" height="21.6" fill="#a3577f"/>
<rect x="431.1" y="1813.6" width="1.6" height="11.0" fill="#a3577f"/>
<rect x="456.4" y="1816.6" width="2.4" height="8.0" fill="#a3577f"/>
<rect x="481.4" y="1818.6" width="3.0" height="6.0" fill="#a3577f"/>
<rect x="501.0" y="1821.1" width="2.4" height="3.5" fill="#a3577f"/>
<rect x="531.7" y="1818.6" width="3.4" height="6.0" fill="#a3577f"/>
<rect x="552.2" y="1823.6" width="1.5" height="1.0" fill="#a3577f"/>
<rect x="593.0" y="1823.1" width="2.0" height="1.5" fill="#a3577f"/>
<path d="M665.6 1824.6C668.8 1824.6 669.4 1806.0 671.4 1806.0C673.4 1806.0 674.0 1824.6 677.1 1824.6Z" fill="#a3577f"/>
<path d="M682.5 1824.6C683.6 1824.6 683.8 1823.6 684.5 1823.6C685.2 1823.6 685.4 1824.6 686.5 1824.6Z" fill="#a3577f"/>
<path d="M786.0 1824.6C788.4 1824.6 788.8 1820.6 790.3 1820.6C791.8 1820.6 792.2 1824.6 794.5 1824.6Z" fill="#a3577f"/>
<path d="M875.8 1824.6C878.1 1824.6 878.5 1813.2 880.0 1813.2C881.5 1813.2 881.9 1824.6 884.2 1824.6Z" fill="#a3577f"/>
<path d="M880.0 1824.6C883.3 1824.6 883.9 1822.1 886.0 1822.1C888.1 1822.1 888.7 1824.6 892.0 1824.6Z" fill="#a3577f"/>
<path d="M297.2 1874.3C300.2 1874.3 300.8 1858.3 302.7 1858.3C304.6 1858.3 305.2 1874.3 308.2 1874.3Z" fill="#cf8be0"/>
<path d="M295.0 1874.3C297.2 1874.3 297.6 1867.3 299.0 1867.3C300.4 1867.3 300.8 1874.3 303.0 1874.3Z" fill="#cf8be0"/>
<rect x="378.0" y="1870.3" width="5.0" height="4.0" fill="#cf8be0"/>
<rect x="422.2" y="1872.3" width="2.0" height="2.0" fill="#cf8be0"/>
<rect x="427.6" y="1868.3" width="5.5" height="6.0" fill="#cf8be0"/>
<rect x="456.1" y="1872.8" width="3.0" height="1.5" fill="#cf8be0"/>
<rect x="531.4" y="1871.3" width="4.0" height="3.0" fill="#cf8be0"/>
<path d="M665.9 1874.3C668.9 1874.3 669.5 1855.1 671.4 1855.1C673.3 1855.1 673.9 1874.3 676.9 1874.3Z" fill="#cf8be0"/>
<path d="M682.5 1874.3C683.6 1874.3 683.8 1873.5 684.5 1873.5C685.2 1873.5 685.4 1874.3 686.5 1874.3Z" fill="#cf8be0"/>
<path d="M787.3 1874.3C788.9 1874.3 789.2 1872.8 790.3 1872.8C791.3 1872.8 791.6 1874.3 793.3 1874.3Z" fill="#cf8be0"/>
<path d="M851.3 1874.3C852.7 1874.3 852.9 1872.8 853.8 1872.8C854.7 1872.8 854.9 1874.3 856.3 1874.3Z" fill="#cf8be0"/>
<path d="M875.8 1874.3C878.1 1874.3 878.5 1864.0 880.0 1864.0C881.5 1864.0 881.9 1874.3 884.2 1874.3Z" fill="#cf8be0"/>
<path d="M884.1 1874.3C886.6 1874.3 887.0 1871.3 888.6 1871.3C890.2 1871.3 890.6 1874.3 893.1 1874.3Z" fill="#cf8be0"/>
<path d="M296.4 1924.1C299.9 1924.1 300.5 1881.1 302.7 1881.1C304.9 1881.1 305.5 1924.1 308.9 1924.1Z" fill="#b9a6ea"/>
<path d="M294.5 1924.1C297.5 1924.1 298.1 1904.1 300.0 1904.1C301.9 1904.1 302.5 1924.1 305.5 1924.1Z" fill="#b9a6ea"/>
<path d="M258.5 1924.1C259.9 1924.1 260.1 1917.1 261.0 1917.1C261.9 1917.1 262.1 1924.1 263.5 1924.1Z" fill="#b9a6ea"/>
<path d="M273.9 1924.1C278.3 1924.1 279.1 1920.6 281.9 1920.6C284.7 1920.6 285.5 1924.1 289.9 1924.1Z" fill="#b9a6ea"/>
<path d="M287.0 1924.1C289.8 1924.1 290.2 1922.1 292.0 1922.1C293.8 1922.1 294.2 1924.1 297.0 1924.1Z" fill="#b9a6ea"/>
<rect x="377.2" y="1916.1" width="5.0" height="8.0" fill="#b9a6ea"/>
<rect x="384.0" y="1922.1" width="2.0" height="2.0" fill="#b9a6ea"/>
<rect x="422.2" y="1916.1" width="2.0" height="8.0" fill="#b9a6ea"/>
<rect x="428.0" y="1907.1" width="2.4" height="17.0" fill="#b9a6ea"/>
<rect x="431.1" y="1907.1" width="2.2" height="17.0" fill="#b9a6ea"/>
<rect x="456.1" y="1907.1" width="3.0" height="17.0" fill="#b9a6ea"/>
<rect x="481.7" y="1903.1" width="2.4" height="21.0" fill="#b9a6ea"/>
<rect x="501.1" y="1915.1" width="2.2" height="9.0" fill="#b9a6ea"/>
<rect x="533.1" y="1913.1" width="2.6" height="11.0" fill="#b9a6ea"/>
<rect x="531.0" y="1920.1" width="2.6" height="4.0" fill="#b9a6ea"/>
<path d="M665.9 1924.1C668.9 1924.1 669.5 1892.2 671.4 1892.2C673.3 1892.2 673.9 1924.1 676.9 1924.1Z" fill="#b9a6ea"/>
<path d="M660.0 1924.1C665.0 1924.1 665.9 1916.1 669.0 1916.1C672.1 1916.1 673.0 1924.1 678.0 1924.1Z" fill="#b9a6ea"/>
<path d="M746.5 1924.1C749.0 1924.1 749.4 1922.1 751.0 1922.1C752.6 1922.1 753.0 1924.1 755.5 1924.1Z" fill="#b9a6ea"/>
<path d="M785.3 1924.1C788.0 1924.1 788.5 1914.6 790.3 1914.6C792.0 1914.6 792.5 1924.1 795.3 1924.1Z" fill="#b9a6ea"/>
<path d="M849.8 1924.1C852.0 1924.1 852.4 1921.1 853.8 1921.1C855.2 1921.1 855.6 1924.1 857.8 1924.1Z" fill="#b9a6ea"/>
<path d="M876.0 1924.1C878.2 1924.1 878.6 1902.1 880.0 1902.1C881.4 1902.1 881.8 1924.1 884.0 1924.1Z" fill="#b9a6ea"/>
<path d="M883.4 1924.1C886.1 1924.1 886.6 1911.6 888.4 1911.6C890.1 1911.6 890.6 1924.1 893.4 1924.1Z" fill="#b9a6ea"/>
<path d="M876.0 1924.1C880.4 1924.1 881.2 1916.1 884.0 1916.1C886.8 1916.1 887.6 1924.1 892.0 1924.1Z" fill="#b9a6ea"/>
<line x1="71.6" y1="1931.6" x2="300.8" y2="1931.6" stroke="#2d2a9a" stroke-width="1.1"/>
<rect x="71.6" y="1927.8" width="3.0" height="7.6" fill="#2d2a9a"/>
<rect x="83.8" y="1927.8" width="1.6" height="7.6" fill="#2d2a9a"/>
<rect x="88.7" y="1927.8" width="1.6" height="7.6" fill="#2d2a9a"/>
<rect x="121.9" y="1927.8" width="2.4" height="7.6" fill="#2d2a9a"/>
<rect x="132.4" y="1927.8" width="4.3" height="7.6" fill="#2d2a9a"/>
<rect x="140.0" y="1927.8" width="1.6" height="7.6" fill="#2d2a9a"/>
<rect x="154.1" y="1927.8" width="1.6" height="7.6" fill="#2d2a9a"/>
<rect x="163.5" y="1927.8" width="1.6" height="7.6" fill="#2d2a9a"/>
<rect x="173.8" y="1927.8" width="1.6" height="7.6" fill="#2d2a9a"/>
<rect x="177.8" y="1927.8" width="2.2" height="7.6" fill="#2d2a9a"/>
<rect x="202.2" y="1927.8" width="2.2" height="7.6" fill="#2d2a9a"/>
<rect x="208.1" y="1927.8" width="1.6" height="7.6" fill="#2d2a9a"/>
<rect x="217.6" y="1927.8" width="2.2" height="7.6" fill="#2d2a9a"/>
<rect x="227.8" y="1927.8" width="1.6" height="7.6" fill="#2d2a9a"/>
<rect x="232.7" y="1927.8" width="1.6" height="7.6" fill="#2d2a9a"/>
<rect x="254.1" y="1927.8" width="1.6" height="7.6" fill="#2d2a9a"/>
<rect x="263.2" y="1927.8" width="2.2" height="7.6" fill="#2d2a9a"/>
<rect x="268.9" y="1927.8" width="1.6" height="7.6" fill="#2d2a9a"/>
<rect x="272.4" y="1927.8" width="2.2" height="7.6" fill="#2d2a9a"/>
<rect x="285.7" y="1927.8" width="1.6" height="7.6" fill="#2d2a9a"/>
<rect x="289.2" y="1927.8" width="1.6" height="7.6" fill="#2d2a9a"/>
<rect x="296.8" y="1927.8" width="3.2" height="7.6" fill="#2d2a9a"/>
<line x1="378.3" y1="1931.6" x2="593.0" y2="1931.6" stroke="#2d2a9a" stroke-width="1.1"/>
<rect x="378.4" y="1927.8" width="1.6" height="7.6" fill="#2d2a9a"/>
<rect x="385.1" y="1927.8" width="1.6" height="7.6" fill="#2d2a9a"/>
<rect x="391.9" y="1927.8" width="1.6" height="7.6" fill="#2d2a9a"/>
<rect x="434.3" y="1927.8" width="1.6" height="7.6" fill="#2d2a9a"/>
<rect x="493.3" y="1927.8" width="1.6" height="7.6" fill="#2d2a9a"/>
<rect x="493.3" y="1927.8" width="1.6" height="7.6" fill="#2d2a9a"/>
<rect x="548.9" y="1927.8" width="1.6" height="7.6" fill="#2d2a9a"/>
<rect x="556.8" y="1927.8" width="1.6" height="7.6" fill="#2d2a9a"/>
<rect x="567.0" y="1927.8" width="1.6" height="7.6" fill="#2d2a9a"/>
<rect x="571.6" y="1927.8" width="1.6" height="7.6" fill="#2d2a9a"/>
<rect x="582.7" y="1927.8" width="4.3" height="7.6" fill="#2d2a9a"/>
<rect x="588.6" y="1927.8" width="4.3" height="7.6" fill="#2d2a9a"/>
<line x1="667.3" y1="1931.6" x2="885.4" y2="1931.6" stroke="#2d2a9a" stroke-width="1.1"/>
<rect x="667.3" y="1927.8" width="7.8" height="7.6" fill="#2d2a9a"/>
<rect x="686.2" y="1927.8" width="1.6" height="7.6" fill="#2d2a9a"/>
<rect x="711.1" y="1927.8" width="4.6" height="7.6" fill="#2d2a9a"/>
<rect x="786.2" y="1927.3" width="14.3" height="8.6" fill="#2d2a9a"/>
<path d="M401 1930.0L398.5 1931.6L401 1933.1999999999998Z" fill="#2d2a9a"/>
<path d="M435 1930.0L432.5 1931.6L435 1933.1999999999998Z" fill="#2d2a9a"/>
<path d="M470 1930.0L467.5 1931.6L470 1933.1999999999998Z" fill="#2d2a9a"/>
<path d="M508 1930.0L505.5 1931.6L508 1933.1999999999998Z" fill="#2d2a9a"/>
<path d="M545 1930.0L542.5 1931.6L545 1933.1999999999998Z" fill="#2d2a9a"/>
<path d="M700.5 1930.0L703.0 1931.6L700.5 1933.1999999999998Z" fill="#2d2a9a"/>
<path d="M727 1930.0L729.5 1931.6L727 1933.1999999999998Z" fill="#2d2a9a"/>
<path d="M750 1930.0L752.5 1931.6L750 1933.1999999999998Z" fill="#2d2a9a"/>
<path d="M773 1930.0L775.5 1931.6L773 1933.1999999999998Z" fill="#2d2a9a"/>
<path d="M812 1930.0L814.5 1931.6L812 1933.1999999999998Z" fill="#2d2a9a"/>
<path d="M835 1930.0L837.5 1931.6L835 1933.1999999999998Z" fill="#2d2a9a"/>
<path d="M858 1930.0L860.5 1931.6L858 1933.1999999999998Z" fill="#2d2a9a"/>
<path d="M882 1930.0L884.5 1931.6L882 1933.1999999999998Z" fill="#2d2a9a"/>
<path d="M103 1930.0L100.5 1931.6L103 1933.1999999999998Z" fill="#2d2a9a"/>
<path d="M193 1930.0L190.5 1931.6L193 1933.1999999999998Z" fill="#2d2a9a"/>
<path d="M233 1930.0L230.5 1931.6L233 1933.1999999999998Z" fill="#2d2a9a"/>
<rect x="45.4" y="1776.0" width="877.8" height="191.6" fill="none" stroke="#111" stroke-width="1.6"/>
<line x1="339.5" y1="1776.0" x2="339.5" y2="1967.6" stroke="#111" stroke-width="1.6"/>
<line x1="631.4" y1="1776.0" x2="631.4" y2="1967.6" stroke="#111" stroke-width="1.6"/>
<text x="54.2" y="1809.2" font-size="26.5">ASCG</text>
<text x="54.2" y="1857.8" font-size="26.5">ASCW</text>
<text x="54.2" y="1908.4" font-size="26.5">ASCN</text>
<text x="189.5" y="1958.4" font-size="26.5" text-anchor="middle">Itih3</text>
<text x="483.3" y="1958.4" font-size="26.5" text-anchor="middle">Slc6a11</text>
<text x="778.6" y="1958.4" font-size="26.5" text-anchor="middle">Agt</text>
<text x="2.5" y="2010.4" font-size="38" font-weight="bold">j</text>
<text x="46.3" y="2008.7" font-size="26.5">Slc6a11 (RNA ISH)</text>
<text x="516.4" y="2008.7" font-size="26.5">Agt (RNA ISH)</text>
<g filter="url(#bl1)">
<path d="M234.2 2054.1C231.2 2050.2 236.1 2044.6 228.6 2039.6C221.2 2034.5 221.2 2034.5 206.3 2035.1C191.4 2035.7 190.7 2035.8 172.8 2041.8C154.9 2047.7 157.2 2047.3 139.3 2057.4C121.4 2067.5 121.3 2066.1 105.8 2079.7C90.3 2093.4 91.1 2092.7 81.3 2108.8C71.4 2124.8 73.1 2123.4 69.0 2140.0C64.8 2156.7 64.7 2154.0 65.6 2171.3C66.5 2188.6 66.4 2188.1 72.3 2204.8C78.3 2221.4 78.4 2220.1 88.0 2233.8C97.5 2247.5 95.5 2246.0 108.0 2256.1C120.6 2266.2 121.7 2265.2 134.8 2271.8C147.9 2278.3 144.1 2278.6 157.2 2280.7C170.3 2282.8 169.7 2282.5 184.0 2279.6C198.2 2276.6 198.8 2275.8 210.8 2269.5C222.7 2263.3 220.9 2261.5 228.6 2256.1C236.4 2250.8 233.8 2249.4 239.8 2249.4C245.7 2249.4 242.0 2250.2 250.9 2256.1C259.9 2262.1 261.4 2265.5 273.3 2271.8C285.2 2278.0 283.7 2279.0 295.6 2279.6C307.5 2280.2 306.0 2280.2 317.9 2274.0C329.8 2267.7 328.3 2268.6 340.2 2256.1C352.2 2243.6 351.9 2243.8 362.6 2227.1C373.3 2210.4 372.1 2211.5 380.4 2193.6C388.8 2175.8 390.0 2176.8 393.8 2160.1C397.7 2143.5 397.3 2146.0 394.9 2131.1C392.6 2116.2 393.5 2118.6 384.9 2104.3C376.3 2090.0 377.5 2090.6 362.6 2077.5C347.7 2064.4 346.9 2065.3 329.1 2055.2C311.2 2045.1 313.5 2045.2 295.6 2039.6C277.7 2033.9 275.8 2034.6 262.1 2034.0C248.4 2033.4 250.2 2032.0 244.2 2037.3C238.3 2042.7 242.5 2049.6 239.8 2054.1C237.1 2058.5 237.2 2057.9 234.2 2054.1Z" fill="#f5ebf2" stroke="#ead9e5" stroke-width="1.2" filter="url(#sp1)"/>
</g>
<g filter="url(#bl3)" fill="none" stroke="#fbf6fa" stroke-linecap="round">
<path d="M117.0 2153.4C130.4 2122.2 166.1 2104.3 188.4 2103.2C206.3 2103.2 219.7 2113.2 235.3 2113.2C250.9 2113.2 264.3 2103.2 282.2 2102.1C306.8 2102.1 340.2 2119.9 353.6 2153.4" stroke-width="5"/>
<path d="M195.1 2108.8C201.8 2131.1 199.6 2160.1 205.2 2186.9M271.0 2108.8C264.3 2131.1 267.7 2160.1 263.2 2186.9" stroke-width="5"/>
<path d="M236.4 2055.2L234.9 2108.8" stroke-width="4"/>
</g>
<g filter="url(#bl1)" fill="#fbf6fa"><circle cx="207.4" cy="2203.7" r="4.6"/><circle cx="264.8" cy="2199.2" r="4.6"/></g>
<g filter="url(#bl8)"><ellipse cx="237.5" cy="2222.6" rx="40" ry="48" fill="#ead9e6" opacity="0.9"/></g>
<ellipse cx="237.5" cy="2213.7" rx="62" ry="58" fill="url(#rg1)" filter="url(#so1)"/>
<path d="M238.7 2229.3L237.1 2249.4L240.2 2249.4Z" fill="#5d3d5d" opacity="0.35" filter="url(#bl1)"/>
<g filter="url(#bl1)">
<path d="M715.3 2035.1C711.1 2032.5 714.9 2029.0 704.1 2025.1C693.4 2021.2 691.8 2020.0 675.1 2020.6C658.5 2021.2 659.5 2020.8 641.6 2027.3C623.8 2033.9 624.2 2033.3 608.1 2045.2C592.1 2057.1 593.3 2055.9 581.4 2072.0C569.4 2088.1 570.0 2087.6 563.5 2105.5C556.9 2123.3 557.4 2120.5 556.8 2139.0C556.2 2157.4 556.5 2156.8 561.3 2174.7C566.0 2192.5 565.7 2189.9 574.7 2205.9C583.6 2222.0 582.8 2221.3 594.7 2235.0C606.7 2248.7 605.6 2247.8 619.3 2257.3C633.0 2266.8 633.0 2267.1 646.1 2270.7C659.2 2274.3 657.7 2273.1 668.4 2270.7C679.1 2268.3 675.6 2263.5 686.3 2261.8C697.0 2260.0 698.5 2265.2 708.6 2264.0C718.7 2262.8 715.3 2257.9 724.2 2257.3C733.2 2256.7 734.4 2256.4 742.1 2261.8C749.8 2267.1 745.5 2269.0 753.3 2277.4C761.0 2285.7 760.4 2288.2 771.1 2293.0C781.8 2297.8 780.4 2297.6 793.5 2295.2C806.5 2292.9 806.0 2294.2 820.2 2284.1C834.5 2274.0 835.1 2272.2 847.0 2257.3C858.9 2242.4 857.2 2244.9 864.9 2228.3C872.6 2211.6 871.9 2212.6 876.1 2194.8C880.2 2176.9 881.1 2180.3 880.5 2161.3C879.9 2142.2 879.8 2142.4 873.8 2123.3C867.9 2104.3 868.3 2106.5 858.2 2089.8C848.1 2073.2 849.0 2074.5 835.9 2060.8C822.8 2047.1 825.2 2048.6 809.1 2038.5C793.0 2028.4 791.7 2027.9 775.6 2022.9C759.5 2017.8 760.7 2018.9 748.8 2019.5C736.9 2020.1 738.7 2020.9 730.9 2025.1C723.2 2029.3 723.9 2032.5 719.8 2035.1C715.6 2037.8 719.5 2037.8 715.3 2035.1Z" fill="#f8f3f9" stroke="#efe6f2" stroke-width="1" filter="url(#sp3)"/>
</g>
<g filter="url(#bl8)"><ellipse cx="717.5" cy="2219.3" rx="26" ry="46" fill="#e9dfee"/><ellipse cx="739.9" cy="2063.0" rx="14" ry="40" fill="#f1e9f5"/></g>
<ellipse cx="717.5" cy="2214.9" rx="40" ry="56" fill="url(#rg1)" filter="url(#so2)"/>
<path d="M755.5 2103.2C744.3 2109.9 745.4 2139.0 749.9 2174.7" fill="none" stroke="#e9dfee" stroke-width="1.2" filter="url(#bl1)"/>
<circle cx="758.2" cy="2212.2" r="1.5" fill="#222"/>
<line x1="92.8" y1="2303.1" x2="436.3" y2="2303.1" stroke="#d9d9d9" stroke-width="1.3"/>
<line x1="92.8" y1="2342.9" x2="436.3" y2="2342.9" stroke="#d9d9d9" stroke-width="1.3"/>
<line x1="92.8" y1="2382.6" x2="436.3" y2="2382.6" stroke="#d9d9d9" stroke-width="1.3"/>
<rect x="103.3" y="2405.3" width="37.0" height="16.5" fill="#c8c6c6" stroke="#222" stroke-width="1.3"/>
<rect x="160.2" y="2328.5" width="37.6" height="93.3" fill="#c8c6c6" stroke="#222" stroke-width="1.3"/>
<rect x="217.6" y="2388.2" width="37.6" height="33.6" fill="#c8c6c6" stroke="#222" stroke-width="1.3"/>
<rect x="274.5" y="2373.8" width="39.2" height="48.0" fill="#c8c6c6" stroke="#222" stroke-width="1.3"/>
<rect x="331.9" y="2386.5" width="39.2" height="35.3" fill="#c8c6c6" stroke="#222" stroke-width="1.3"/>
<rect x="389.9" y="2312.5" width="38.7" height="109.3" fill="#4f74c4" stroke="#222" stroke-width="1.3"/>
<line x1="92.8" y1="2302.0" x2="92.8" y2="2422.5" stroke="#111" stroke-width="1.5"/>
<line x1="92.8" y1="2421.8" x2="436.3" y2="2421.8" stroke="#111" stroke-width="1.5"/>
<line x1="85.8" y1="2303.1" x2="92.8" y2="2303.1" stroke="#111" stroke-width="1.5"/>
<text x="84.0" y="2312.6" font-size="26.5" text-anchor="end">3</text>
<line x1="85.8" y1="2342.9" x2="92.8" y2="2342.9" stroke="#111" stroke-width="1.5"/>
<text x="84.0" y="2352.4" font-size="26.5" text-anchor="end">2</text>
<line x1="85.8" y1="2382.6" x2="92.8" y2="2382.6" stroke="#111" stroke-width="1.5"/>
<text x="84.0" y="2392.1" font-size="26.5" text-anchor="end">1</text>
<line x1="85.8" y1="2421.8" x2="92.8" y2="2421.8" stroke="#111" stroke-width="1.5"/>
<text x="84.0" y="2431.3" font-size="26.5" text-anchor="end">0</text>
<text x="53.6" y="2363.8" font-size="26.5" text-anchor="middle" transform="rotate(-90 53.6 2363.8)">ISH expression</text>
<text x="132.8" y="2437.0" font-size="26.5" text-anchor="end" transform="rotate(-45 132.8 2437.0)">Isocortex</text>
<text x="189.9" y="2437.0" font-size="26.5" text-anchor="end" transform="rotate(-45 189.9 2437.0)">HPF</text>
<text x="247.4" y="2437.0" font-size="26.5" text-anchor="end" transform="rotate(-45 247.4 2437.0)">OLF</text>
<text x="305.1" y="2437.0" font-size="26.5" text-anchor="end" transform="rotate(-45 305.1 2437.0)">CTXsp</text>
<text x="362.5" y="2437.0" font-size="26.5" text-anchor="end" transform="rotate(-45 362.5 2437.0)">STR</text>
<text x="420.3" y="2437.0" font-size="26.5" text-anchor="end" transform="rotate(-45 420.3 2437.0)">PAL</text>
<line x1="558.9" y1="2303.1" x2="905.8" y2="2303.1" stroke="#d9d9d9" stroke-width="1.3"/>
<line x1="558.9" y1="2342.9" x2="905.8" y2="2342.9" stroke="#d9d9d9" stroke-width="1.3"/>
<line x1="558.9" y1="2382.6" x2="905.8" y2="2382.6" stroke="#d9d9d9" stroke-width="1.3"/>
<rect x="573.3" y="2412.5" width="38.1" height="9.3" fill="#c8c6c6" stroke="#222" stroke-width="1.3"/>
<rect x="629.6" y="2395.3" width="38.7" height="26.5" fill="#c8c6c6" stroke="#222" stroke-width="1.3"/>
<rect x="687.6" y="2406.4" width="37.6" height="15.4" fill="#c8c6c6" stroke="#222" stroke-width="1.3"/>
<rect x="744.5" y="2398.6" width="37.6" height="23.2" fill="#c8c6c6" stroke="#222" stroke-width="1.3"/>
<rect x="801.9" y="2395.3" width="37.6" height="26.5" fill="#c8c6c6" stroke="#222" stroke-width="1.3"/>
<rect x="859.4" y="2309.2" width="38.1" height="112.6" fill="#4f74c4" stroke="#222" stroke-width="1.3"/>
<line x1="558.9" y1="2302.0" x2="558.9" y2="2422.5" stroke="#111" stroke-width="1.5"/>
<line x1="558.9" y1="2421.8" x2="905.8" y2="2421.8" stroke="#111" stroke-width="1.5"/>
<line x1="551.9" y1="2303.1" x2="558.9" y2="2303.1" stroke="#111" stroke-width="1.5"/>
<text x="550.1" y="2312.6" font-size="26.5" text-anchor="end">3</text>
<line x1="551.9" y1="2342.9" x2="558.9" y2="2342.9" stroke="#111" stroke-width="1.5"/>
<text x="550.1" y="2352.4" font-size="26.5" text-anchor="end">2</text>
<line x1="551.9" y1="2382.6" x2="558.9" y2="2382.6" stroke="#111" stroke-width="1.5"/>
<text x="550.1" y="2392.1" font-size="26.5" text-anchor="end">1</text>
<line x1="551.9" y1="2421.8" x2="558.9" y2="2421.8" stroke="#111" stroke-width="1.5"/>
<text x="550.1" y="2431.3" font-size="26.5" text-anchor="end">0</text>
<text x="519.7" y="2363.8" font-size="26.5" text-anchor="middle" transform="rotate(-90 519.7 2363.8)">ISH expression</text>
<text x="603.3" y="2437.0" font-size="26.5" text-anchor="end" transform="rotate(-45 603.3 2437.0)">Isocortex</text>
<text x="660.0" y="2437.0" font-size="26.5" text-anchor="end" transform="rotate(-45 660.0 2437.0)">HPF</text>
<text x="717.4" y="2437.0" font-size="26.5" text-anchor="end" transform="rotate(-45 717.4 2437.0)">OLF</text>
<text x="774.3" y="2437.0" font-size="26.5" text-anchor="end" transform="rotate(-45 774.3 2437.0)">CTXsp</text>
<text x="831.7" y="2437.0" font-size="26.5" text-anchor="end" transform="rotate(-45 831.7 2437.0)">STR</text>
<text x="889.4" y="2437.0" font-size="26.5" text-anchor="end" transform="rotate(-45 889.4 2437.0)">PAL</text>
<text x="978.0" y="1763.0" font-size="38" font-weight="bold">l</text>
<text x="1470.3" y="1781.7" font-size="26.5" text-anchor="middle" textLength="189.5" lengthAdjust="spacingAndGlyphs">Motif enrichment</text>
<rect x="1143.4" y="1820.6" width="27.6" height="23.8" fill="#5380c1"/>
<rect x="1170.7" y="1820.6" width="27.6" height="23.8" fill="#6b96cc"/>
<rect x="1198.0" y="1820.6" width="27.6" height="23.8" fill="#6b96cc"/>
<rect x="1225.3" y="1820.6" width="27.6" height="23.8" fill="#6b96cc"/>
<rect x="1252.6" y="1820.6" width="27.6" height="23.8" fill="#cadfee"/>
<rect x="1279.9" y="1820.6" width="27.6" height="23.8" fill="#fcf8d4"/>
<rect x="1307.1" y="1820.6" width="27.6" height="23.8" fill="#5380c1"/>
<rect x="1334.4" y="1820.6" width="27.6" height="23.8" fill="#cadfee"/>
<rect x="1361.7" y="1820.6" width="27.6" height="23.8" fill="#87aed7"/>
<rect x="1389.0" y="1820.6" width="27.6" height="23.8" fill="#a0c2e0"/>
<rect x="1416.3" y="1820.6" width="27.6" height="23.8" fill="#a8c8e3"/>
<rect x="1443.6" y="1820.6" width="27.6" height="23.8" fill="#fdf6cd"/>
<rect x="1470.9" y="1820.6" width="27.6" height="23.8" fill="#eff5ee"/>
<rect x="1498.2" y="1820.6" width="27.6" height="23.8" fill="#fef4c5"/>
<rect x="1525.5" y="1820.6" width="27.6" height="23.8" fill="#fdf6cd"/>
<rect x="1552.8" y="1820.6" width="27.6" height="23.8" fill="#f2f7ea"/>
<rect x="1580.0" y="1820.6" width="27.6" height="23.8" fill="#fcf8d4"/>
<rect x="1607.3" y="1820.6" width="27.6" height="23.8" fill="#fff3c0"/>
<rect x="1634.6" y="1820.6" width="27.6" height="23.8" fill="#fee3a5"/>
<rect x="1661.9" y="1820.6" width="27.6" height="23.8" fill="#fdd38b"/>
<rect x="1689.2" y="1820.6" width="27.6" height="23.8" fill="#e7f1f7"/>
<rect x="1143.4" y="1844.1" width="27.6" height="23.8" fill="#81a9d5"/>
<rect x="1170.7" y="1844.1" width="27.6" height="23.8" fill="#a8c8e3"/>
<rect x="1198.0" y="1844.1" width="27.6" height="23.8" fill="#93b9dc"/>
<rect x="1225.3" y="1844.1" width="27.6" height="23.8" fill="#5784c3"/>
<rect x="1252.6" y="1844.1" width="27.6" height="23.8" fill="#8cb3d9"/>
<rect x="1279.9" y="1844.1" width="27.6" height="23.8" fill="#a0c2e0"/>
<rect x="1307.1" y="1844.1" width="27.6" height="23.8" fill="#8cb3d9"/>
<rect x="1334.4" y="1844.1" width="27.6" height="23.8" fill="#87aed7"/>
<rect x="1361.7" y="1844.1" width="27.6" height="23.8" fill="#5986c4"/>
<rect x="1389.0" y="1844.1" width="27.6" height="23.8" fill="#5d8ac6"/>
<rect x="1416.3" y="1844.1" width="27.6" height="23.8" fill="#5784c3"/>
<rect x="1443.6" y="1844.1" width="27.6" height="23.8" fill="#f7f9e4"/>
<rect x="1470.9" y="1844.1" width="27.6" height="23.8" fill="#fee9b0"/>
<rect x="1498.2" y="1844.1" width="27.6" height="23.8" fill="#fba962"/>
<rect x="1525.5" y="1844.1" width="27.6" height="23.8" fill="#fee9b0"/>
<rect x="1552.8" y="1844.1" width="27.6" height="23.8" fill="#ffedb6"/>
<rect x="1580.0" y="1844.1" width="27.6" height="23.8" fill="#e5522f"/>
<rect x="1607.3" y="1844.1" width="27.6" height="23.8" fill="#fbb16a"/>
<rect x="1634.6" y="1844.1" width="27.6" height="23.8" fill="#dc3a1f"/>
<rect x="1661.9" y="1844.1" width="27.6" height="23.8" fill="#e85833"/>
<rect x="1689.2" y="1844.1" width="27.6" height="23.8" fill="#ec6239"/>
<rect x="1143.4" y="1867.6" width="27.6" height="23.8" fill="#749ed0"/>
<rect x="1170.7" y="1867.6" width="27.6" height="23.8" fill="#b5d1e7"/>
<rect x="1198.0" y="1867.6" width="27.6" height="23.8" fill="#6b96cc"/>
<rect x="1225.3" y="1867.6" width="27.6" height="23.8" fill="#6691ca"/>
<rect x="1252.6" y="1867.6" width="27.6" height="23.8" fill="#8eb4da"/>
<rect x="1279.9" y="1867.6" width="27.6" height="23.8" fill="#d5e6f2"/>
<rect x="1307.1" y="1867.6" width="27.6" height="23.8" fill="#7aa3d2"/>
<rect x="1334.4" y="1867.6" width="27.6" height="23.8" fill="#517fc0"/>
<rect x="1361.7" y="1867.6" width="27.6" height="23.8" fill="#5784c3"/>
<rect x="1389.0" y="1867.6" width="27.6" height="23.8" fill="#5d8ac6"/>
<rect x="1416.3" y="1867.6" width="27.6" height="23.8" fill="#a0c2e0"/>
<rect x="1443.6" y="1867.6" width="27.6" height="23.8" fill="#517fc0"/>
<rect x="1470.9" y="1867.6" width="27.6" height="23.8" fill="#81a9d5"/>
<rect x="1498.2" y="1867.6" width="27.6" height="23.8" fill="#81a9d5"/>
<rect x="1525.5" y="1867.6" width="27.6" height="23.8" fill="#5986c4"/>
<rect x="1552.8" y="1867.6" width="27.6" height="23.8" fill="#628ec8"/>
<rect x="1580.0" y="1867.6" width="27.6" height="23.8" fill="#87aed7"/>
<rect x="1607.3" y="1867.6" width="27.6" height="23.8" fill="#9bbede"/>
<rect x="1634.6" y="1867.6" width="27.6" height="23.8" fill="#93b9dc"/>
<rect x="1661.9" y="1867.6" width="27.6" height="23.8" fill="#93b9dc"/>
<rect x="1689.2" y="1867.6" width="27.6" height="23.8" fill="#87aed7"/>
<rect x="1143.4" y="1891.0" width="27.6" height="23.8" fill="#7fa7d4"/>
<rect x="1170.7" y="1891.0" width="27.6" height="23.8" fill="#5986c4"/>
<rect x="1198.0" y="1891.0" width="27.6" height="23.8" fill="#e7f1f7"/>
<rect x="1225.3" y="1891.0" width="27.6" height="23.8" fill="#6691ca"/>
<rect x="1252.6" y="1891.0" width="27.6" height="23.8" fill="#93b9dc"/>
<rect x="1279.9" y="1891.0" width="27.6" height="23.8" fill="#d5e6f2"/>
<rect x="1307.1" y="1891.0" width="27.6" height="23.8" fill="#8eb4da"/>
<rect x="1334.4" y="1891.0" width="27.6" height="23.8" fill="#6691ca"/>
<rect x="1361.7" y="1891.0" width="27.6" height="23.8" fill="#93b9dc"/>
<rect x="1389.0" y="1891.0" width="27.6" height="23.8" fill="#87aed7"/>
<rect x="1416.3" y="1891.0" width="27.6" height="23.8" fill="#a0c2e0"/>
<rect x="1443.6" y="1891.0" width="27.6" height="23.8" fill="#7aa3d2"/>
<rect x="1470.9" y="1891.0" width="27.6" height="23.8" fill="#fee7ac"/>
<rect x="1498.2" y="1891.0" width="27.6" height="23.8" fill="#fee9b0"/>
<rect x="1525.5" y="1891.0" width="27.6" height="23.8" fill="#fba962"/>
<rect x="1552.8" y="1891.0" width="27.6" height="23.8" fill="#fbfbe0"/>
<rect x="1580.0" y="1891.0" width="27.6" height="23.8" fill="#f69355"/>
<rect x="1607.3" y="1891.0" width="27.6" height="23.8" fill="#ffedb6"/>
<rect x="1634.6" y="1891.0" width="27.6" height="23.8" fill="#eaf3f3"/>
<rect x="1661.9" y="1891.0" width="27.6" height="23.8" fill="#eaf3f3"/>
<rect x="1689.2" y="1891.0" width="27.6" height="23.8" fill="#a8c8e3"/>
<rect x="1143.4" y="1914.5" width="27.6" height="23.8" fill="#6b96cc"/>
<rect x="1170.7" y="1914.5" width="27.6" height="23.8" fill="#5784c3"/>
<rect x="1198.0" y="1914.5" width="27.6" height="23.8" fill="#7fa7d4"/>
<rect x="1225.3" y="1914.5" width="27.6" height="23.8" fill="#a0c2e0"/>
<rect x="1252.6" y="1914.5" width="27.6" height="23.8" fill="#cadfee"/>
<rect x="1279.9" y="1914.5" width="27.6" height="23.8" fill="#a8c8e3"/>
<rect x="1307.1" y="1914.5" width="27.6" height="23.8" fill="#bdd7ea"/>
<rect x="1334.4" y="1914.5" width="27.6" height="23.8" fill="#6b96cc"/>
<rect x="1361.7" y="1914.5" width="27.6" height="23.8" fill="#eff5ee"/>
<rect x="1389.0" y="1914.5" width="27.6" height="23.8" fill="#e7f1f7"/>
<rect x="1416.3" y="1914.5" width="27.6" height="23.8" fill="#a8c8e3"/>
<rect x="1443.6" y="1914.5" width="27.6" height="23.8" fill="#d2e4f1"/>
<rect x="1470.9" y="1914.5" width="27.6" height="23.8" fill="#cadfee"/>
<rect x="1498.2" y="1914.5" width="27.6" height="23.8" fill="#bdd7ea"/>
<rect x="1525.5" y="1914.5" width="27.6" height="23.8" fill="#f7f9e4"/>
<rect x="1552.8" y="1914.5" width="27.6" height="23.8" fill="#fbfbe0"/>
<rect x="1580.0" y="1914.5" width="27.6" height="23.8" fill="#ddebf5"/>
<rect x="1607.3" y="1914.5" width="27.6" height="23.8" fill="#cde1ef"/>
<rect x="1634.6" y="1914.5" width="27.6" height="23.8" fill="#cadfee"/>
<rect x="1661.9" y="1914.5" width="27.6" height="23.8" fill="#a8c8e3"/>
<rect x="1689.2" y="1914.5" width="27.6" height="23.8" fill="#a0c2e0"/>
<rect x="1143.4" y="1938.0" width="27.6" height="23.8" fill="#a0c2e0"/>
<rect x="1170.7" y="1938.0" width="27.6" height="23.8" fill="#87aed7"/>
<rect x="1198.0" y="1938.0" width="27.6" height="23.8" fill="#7aa3d2"/>
<rect x="1225.3" y="1938.0" width="27.6" height="23.8" fill="#5986c4"/>
<rect x="1252.6" y="1938.0" width="27.6" height="23.8" fill="#7aa3d2"/>
<rect x="1279.9" y="1938.0" width="27.6" height="23.8" fill="#5d8ac6"/>
<rect x="1307.1" y="1938.0" width="27.6" height="23.8" fill="#87aed7"/>
<rect x="1334.4" y="1938.0" width="27.6" height="23.8" fill="#5784c3"/>
<rect x="1361.7" y="1938.0" width="27.6" height="23.8" fill="#f89b5a"/>
<rect x="1389.0" y="1938.0" width="27.6" height="23.8" fill="#fff3c0"/>
<rect x="1416.3" y="1938.0" width="27.6" height="23.8" fill="#e85833"/>
<rect x="1443.6" y="1938.0" width="27.6" height="23.8" fill="#fba962"/>
<rect x="1470.9" y="1938.0" width="27.6" height="23.8" fill="#628ec8"/>
<rect x="1498.2" y="1938.0" width="27.6" height="23.8" fill="#5583c2"/>
<rect x="1525.5" y="1938.0" width="27.6" height="23.8" fill="#5380c1"/>
<rect x="1552.8" y="1938.0" width="27.6" height="23.8" fill="#5d8ac6"/>
<rect x="1580.0" y="1938.0" width="27.6" height="23.8" fill="#5986c4"/>
<rect x="1607.3" y="1938.0" width="27.6" height="23.8" fill="#5d8ac6"/>
<rect x="1634.6" y="1938.0" width="27.6" height="23.8" fill="#93b9dc"/>
<rect x="1661.9" y="1938.0" width="27.6" height="23.8" fill="#5d8ac6"/>
<rect x="1689.2" y="1938.0" width="27.6" height="23.8" fill="#6b96cc"/>
<rect x="1143.4" y="1961.5" width="27.6" height="23.8" fill="#87aed7"/>
<rect x="1170.7" y="1961.5" width="27.6" height="23.8" fill="#ddebf5"/>
<rect x="1198.0" y="1961.5" width="27.6" height="23.8" fill="#93b9dc"/>
<rect x="1225.3" y="1961.5" width="27.6" height="23.8" fill="#8eb4da"/>
<rect x="1252.6" y="1961.5" width="27.6" height="23.8" fill="#a0c2e0"/>
<rect x="1279.9" y="1961.5" width="27.6" height="23.8" fill="#a8c8e3"/>
<rect x="1307.1" y="1961.5" width="27.6" height="23.8" fill="#87aed7"/>
<rect x="1334.4" y="1961.5" width="27.6" height="23.8" fill="#6b96cc"/>
<rect x="1361.7" y="1961.5" width="27.6" height="23.8" fill="#fff3c0"/>
<rect x="1389.0" y="1961.5" width="27.6" height="23.8" fill="#fba962"/>
<rect x="1416.3" y="1961.5" width="27.6" height="23.8" fill="#fba962"/>
<rect x="1443.6" y="1961.5" width="27.6" height="23.8" fill="#5d8ac6"/>
<rect x="1470.9" y="1961.5" width="27.6" height="23.8" fill="#5986c4"/>
<rect x="1498.2" y="1961.5" width="27.6" height="23.8" fill="#5986c4"/>
<rect x="1525.5" y="1961.5" width="27.6" height="23.8" fill="#5d8ac6"/>
<rect x="1552.8" y="1961.5" width="27.6" height="23.8" fill="#6691ca"/>
<rect x="1580.0" y="1961.5" width="27.6" height="23.8" fill="#87aed7"/>
<rect x="1607.3" y="1961.5" width="27.6" height="23.8" fill="#87aed7"/>
<rect x="1634.6" y="1961.5" width="27.6" height="23.8" fill="#749ed0"/>
<rect x="1661.9" y="1961.5" width="27.6" height="23.8" fill="#7aa3d2"/>
<rect x="1689.2" y="1961.5" width="27.6" height="23.8" fill="#6691ca"/>
<rect x="1143.4" y="1985.0" width="27.6" height="23.8" fill="#93b9dc"/>
<rect x="1170.7" y="1985.0" width="27.6" height="23.8" fill="#5784c3"/>
<rect x="1198.0" y="1985.0" width="27.6" height="23.8" fill="#87aed7"/>
<rect x="1225.3" y="1985.0" width="27.6" height="23.8" fill="#5784c3"/>
<rect x="1252.6" y="1985.0" width="27.6" height="23.8" fill="#5380c1"/>
<rect x="1279.9" y="1985.0" width="27.6" height="23.8" fill="#628ec8"/>
<rect x="1307.1" y="1985.0" width="27.6" height="23.8" fill="#517fc0"/>
<rect x="1334.4" y="1985.0" width="27.6" height="23.8" fill="#7aa3d2"/>
<rect x="1361.7" y="1985.0" width="27.6" height="23.8" fill="#a8c8e3"/>
<rect x="1389.0" y="1985.0" width="27.6" height="23.8" fill="#9bbede"/>
<rect x="1416.3" y="1985.0" width="27.6" height="23.8" fill="#fff3c0"/>
<rect x="1443.6" y="1985.0" width="27.6" height="23.8" fill="#a0c2e0"/>
<rect x="1470.9" y="1985.0" width="27.6" height="23.8" fill="#628ec8"/>
<rect x="1498.2" y="1985.0" width="27.6" height="23.8" fill="#6b96cc"/>
<rect x="1525.5" y="1985.0" width="27.6" height="23.8" fill="#749ed0"/>
<rect x="1552.8" y="1985.0" width="27.6" height="23.8" fill="#8eb4da"/>
<rect x="1580.0" y="1985.0" width="27.6" height="23.8" fill="#81a9d5"/>
<rect x="1607.3" y="1985.0" width="27.6" height="23.8" fill="#7aa3d2"/>
<rect x="1634.6" y="1985.0" width="27.6" height="23.8" fill="#b5d1e7"/>
<rect x="1661.9" y="1985.0" width="27.6" height="23.8" fill="#628ec8"/>
<rect x="1689.2" y="1985.0" width="27.6" height="23.8" fill="#6b96cc"/>
<rect x="1143.4" y="2008.4" width="27.6" height="23.8" fill="#8cb3d9"/>
<rect x="1170.7" y="2008.4" width="27.6" height="23.8" fill="#5583c2"/>
<rect x="1198.0" y="2008.4" width="27.6" height="23.8" fill="#5986c4"/>
<rect x="1225.3" y="2008.4" width="27.6" height="23.8" fill="#b5d1e7"/>
<rect x="1252.6" y="2008.4" width="27.6" height="23.8" fill="#6691ca"/>
<rect x="1279.9" y="2008.4" width="27.6" height="23.8" fill="#5583c2"/>
<rect x="1307.1" y="2008.4" width="27.6" height="23.8" fill="#87aed7"/>
<rect x="1334.4" y="2008.4" width="27.6" height="23.8" fill="#93b9dc"/>
<rect x="1361.7" y="2008.4" width="27.6" height="23.8" fill="#81a9d5"/>
<rect x="1389.0" y="2008.4" width="27.6" height="23.8" fill="#628ec8"/>
<rect x="1416.3" y="2008.4" width="27.6" height="23.8" fill="#5d8ac6"/>
<rect x="1443.6" y="2008.4" width="27.6" height="23.8" fill="#87aed7"/>
<rect x="1470.9" y="2008.4" width="27.6" height="23.8" fill="#e7f1f7"/>
<rect x="1498.2" y="2008.4" width="27.6" height="23.8" fill="#c5dced"/>
<rect x="1525.5" y="2008.4" width="27.6" height="23.8" fill="#7aa3d2"/>
<rect x="1552.8" y="2008.4" width="27.6" height="23.8" fill="#a0c2e0"/>
<rect x="1580.0" y="2008.4" width="27.6" height="23.8" fill="#fdf6cd"/>
<rect x="1607.3" y="2008.4" width="27.6" height="23.8" fill="#fdf6cd"/>
<rect x="1634.6" y="2008.4" width="27.6" height="23.8" fill="#e7f1f7"/>
<rect x="1661.9" y="2008.4" width="27.6" height="23.8" fill="#ddebf5"/>
<rect x="1689.2" y="2008.4" width="27.6" height="23.8" fill="#c5dced"/>
<rect x="1143.4" y="2031.9" width="27.6" height="23.8" fill="#6b96cc"/>
<rect x="1170.7" y="2031.9" width="27.6" height="23.8" fill="#628ec8"/>
<rect x="1198.0" y="2031.9" width="27.6" height="23.8" fill="#93b9dc"/>
<rect x="1225.3" y="2031.9" width="27.6" height="23.8" fill="#628ec8"/>
<rect x="1252.6" y="2031.9" width="27.6" height="23.8" fill="#93b9dc"/>
<rect x="1279.9" y="2031.9" width="27.6" height="23.8" fill="#5583c2"/>
<rect x="1307.1" y="2031.9" width="27.6" height="23.8" fill="#87aed7"/>
<rect x="1334.4" y="2031.9" width="27.6" height="23.8" fill="#93b9dc"/>
<rect x="1361.7" y="2031.9" width="27.6" height="23.8" fill="#93b9dc"/>
<rect x="1389.0" y="2031.9" width="27.6" height="23.8" fill="#7aa3d2"/>
<rect x="1416.3" y="2031.9" width="27.6" height="23.8" fill="#81a9d5"/>
<rect x="1443.6" y="2031.9" width="27.6" height="23.8" fill="#6691ca"/>
<rect x="1470.9" y="2031.9" width="27.6" height="23.8" fill="#eff5ee"/>
<rect x="1498.2" y="2031.9" width="27.6" height="23.8" fill="#cadfee"/>
<rect x="1525.5" y="2031.9" width="27.6" height="23.8" fill="#a8c8e3"/>
<rect x="1552.8" y="2031.9" width="27.6" height="23.8" fill="#a8c8e3"/>
<rect x="1580.0" y="2031.9" width="27.6" height="23.8" fill="#fcf8d4"/>
<rect x="1607.3" y="2031.9" width="27.6" height="23.8" fill="#fcf9d9"/>
<rect x="1634.6" y="2031.9" width="27.6" height="23.8" fill="#eaf3f3"/>
<rect x="1661.9" y="2031.9" width="27.6" height="23.8" fill="#c5dced"/>
<rect x="1689.2" y="2031.9" width="27.6" height="23.8" fill="#dae9f4"/>
<rect x="1143.4" y="2055.4" width="27.6" height="23.8" fill="#5583c2"/>
<rect x="1170.7" y="2055.4" width="27.6" height="23.8" fill="#5380c1"/>
<rect x="1198.0" y="2055.4" width="27.6" height="23.8" fill="#5583c2"/>
<rect x="1225.3" y="2055.4" width="27.6" height="23.8" fill="#5380c1"/>
<rect x="1252.6" y="2055.4" width="27.6" height="23.8" fill="#6b96cc"/>
<rect x="1279.9" y="2055.4" width="27.6" height="23.8" fill="#5583c2"/>
<rect x="1307.1" y="2055.4" width="27.6" height="23.8" fill="#7aa3d2"/>
<rect x="1334.4" y="2055.4" width="27.6" height="23.8" fill="#fee9b0"/>
<rect x="1361.7" y="2055.4" width="27.6" height="23.8" fill="#fcf9d9"/>
<rect x="1389.0" y="2055.4" width="27.6" height="23.8" fill="#ddebf5"/>
<rect x="1416.3" y="2055.4" width="27.6" height="23.8" fill="#a0c2e0"/>
<rect x="1443.6" y="2055.4" width="27.6" height="23.8" fill="#87aed7"/>
<rect x="1470.9" y="2055.4" width="27.6" height="23.8" fill="#6b96cc"/>
<rect x="1498.2" y="2055.4" width="27.6" height="23.8" fill="#c5dced"/>
<rect x="1525.5" y="2055.4" width="27.6" height="23.8" fill="#ddebf5"/>
<rect x="1552.8" y="2055.4" width="27.6" height="23.8" fill="#5986c4"/>
<rect x="1580.0" y="2055.4" width="27.6" height="23.8" fill="#a8c8e3"/>
<rect x="1607.3" y="2055.4" width="27.6" height="23.8" fill="#a8c8e3"/>
<rect x="1634.6" y="2055.4" width="27.6" height="23.8" fill="#cde1ef"/>
<rect x="1661.9" y="2055.4" width="27.6" height="23.8" fill="#ddebf5"/>
<rect x="1689.2" y="2055.4" width="27.6" height="23.8" fill="#bdd7ea"/>
<rect x="1143.4" y="2078.9" width="27.6" height="23.8" fill="#5986c4"/>
<rect x="1170.7" y="2078.9" width="27.6" height="23.8" fill="#81a9d5"/>
<rect x="1198.0" y="2078.9" width="27.6" height="23.8" fill="#5380c1"/>
<rect x="1225.3" y="2078.9" width="27.6" height="23.8" fill="#749ed0"/>
<rect x="1252.6" y="2078.9" width="27.6" height="23.8" fill="#6691ca"/>
<rect x="1279.9" y="2078.9" width="27.6" height="23.8" fill="#5380c1"/>
<rect x="1307.1" y="2078.9" width="27.6" height="23.8" fill="#6b96cc"/>
<rect x="1334.4" y="2078.9" width="27.6" height="23.8" fill="#87aed7"/>
<rect x="1361.7" y="2078.9" width="27.6" height="23.8" fill="#5d8ac6"/>
<rect x="1389.0" y="2078.9" width="27.6" height="23.8" fill="#8eb4da"/>
<rect x="1416.3" y="2078.9" width="27.6" height="23.8" fill="#a8c8e3"/>
<rect x="1443.6" y="2078.9" width="27.6" height="23.8" fill="#cadfee"/>
<rect x="1470.9" y="2078.9" width="27.6" height="23.8" fill="#7aa3d2"/>
<rect x="1498.2" y="2078.9" width="27.6" height="23.8" fill="#6691ca"/>
<rect x="1525.5" y="2078.9" width="27.6" height="23.8" fill="#6691ca"/>
<rect x="1552.8" y="2078.9" width="27.6" height="23.8" fill="#5d8ac6"/>
<rect x="1580.0" y="2078.9" width="27.6" height="23.8" fill="#81a9d5"/>
<rect x="1607.3" y="2078.9" width="27.6" height="23.8" fill="#a8c8e3"/>
<rect x="1634.6" y="2078.9" width="27.6" height="23.8" fill="#6b96cc"/>
<rect x="1661.9" y="2078.9" width="27.6" height="23.8" fill="#5d8ac6"/>
<rect x="1689.2" y="2078.9" width="27.6" height="23.8" fill="#5d8ac6"/>
<rect x="1143.4" y="2102.4" width="27.6" height="23.8" fill="#5380c1"/>
<rect x="1170.7" y="2102.4" width="27.6" height="23.8" fill="#517fc0"/>
<rect x="1198.0" y="2102.4" width="27.6" height="23.8" fill="#5380c1"/>
<rect x="1225.3" y="2102.4" width="27.6" height="23.8" fill="#fbb16a"/>
<rect x="1252.6" y="2102.4" width="27.6" height="23.8" fill="#5d8ac6"/>
<rect x="1279.9" y="2102.4" width="27.6" height="23.8" fill="#5380c1"/>
<rect x="1307.1" y="2102.4" width="27.6" height="23.8" fill="#fdf6cd"/>
<rect x="1334.4" y="2102.4" width="27.6" height="23.8" fill="#5986c4"/>
<rect x="1361.7" y="2102.4" width="27.6" height="23.8" fill="#5784c3"/>
<rect x="1389.0" y="2102.4" width="27.6" height="23.8" fill="#6b96cc"/>
<rect x="1416.3" y="2102.4" width="27.6" height="23.8" fill="#5784c3"/>
<rect x="1443.6" y="2102.4" width="27.6" height="23.8" fill="#93b9dc"/>
<rect x="1470.9" y="2102.4" width="27.6" height="23.8" fill="#fcb56e"/>
<rect x="1498.2" y="2102.4" width="27.6" height="23.8" fill="#fcba72"/>
<rect x="1525.5" y="2102.4" width="27.6" height="23.8" fill="#fdd38b"/>
<rect x="1552.8" y="2102.4" width="27.6" height="23.8" fill="#f69355"/>
<rect x="1580.0" y="2102.4" width="27.6" height="23.8" fill="#fcbd76"/>
<rect x="1607.3" y="2102.4" width="27.6" height="23.8" fill="#dc3a1f"/>
<rect x="1634.6" y="2102.4" width="27.6" height="23.8" fill="#eff5ee"/>
<rect x="1661.9" y="2102.4" width="27.6" height="23.8" fill="#fee3a5"/>
<rect x="1689.2" y="2102.4" width="27.6" height="23.8" fill="#cadfee"/>
<rect x="1143.4" y="2125.8" width="27.6" height="23.8" fill="#5d8ac6"/>
<rect x="1170.7" y="2125.8" width="27.6" height="23.8" fill="#81a9d5"/>
<rect x="1198.0" y="2125.8" width="27.6" height="23.8" fill="#8eb4da"/>
<rect x="1225.3" y="2125.8" width="27.6" height="23.8" fill="#6691ca"/>
<rect x="1252.6" y="2125.8" width="27.6" height="23.8" fill="#fff3c0"/>
<rect x="1279.9" y="2125.8" width="27.6" height="23.8" fill="#6691ca"/>
<rect x="1307.1" y="2125.8" width="27.6" height="23.8" fill="#8eb4da"/>
<rect x="1334.4" y="2125.8" width="27.6" height="23.8" fill="#fdd38b"/>
<rect x="1361.7" y="2125.8" width="27.6" height="23.8" fill="#5380c1"/>
<rect x="1389.0" y="2125.8" width="27.6" height="23.8" fill="#517fc0"/>
<rect x="1416.3" y="2125.8" width="27.6" height="23.8" fill="#517fc0"/>
<rect x="1443.6" y="2125.8" width="27.6" height="23.8" fill="#5d8ac6"/>
<rect x="1470.9" y="2125.8" width="27.6" height="23.8" fill="#7fa7d4"/>
<rect x="1498.2" y="2125.8" width="27.6" height="23.8" fill="#93b9dc"/>
<rect x="1525.5" y="2125.8" width="27.6" height="23.8" fill="#7aa3d2"/>
<rect x="1552.8" y="2125.8" width="27.6" height="23.8" fill="#8eb4da"/>
<rect x="1580.0" y="2125.8" width="27.6" height="23.8" fill="#5d8ac6"/>
<rect x="1607.3" y="2125.8" width="27.6" height="23.8" fill="#749ed0"/>
<rect x="1634.6" y="2125.8" width="27.6" height="23.8" fill="#a0c2e0"/>
<rect x="1661.9" y="2125.8" width="27.6" height="23.8" fill="#7fa7d4"/>
<rect x="1689.2" y="2125.8" width="27.6" height="23.8" fill="#7aa3d2"/>
<rect x="1143.4" y="2149.3" width="27.6" height="23.8" fill="#cadfee"/>
<rect x="1170.7" y="2149.3" width="27.6" height="23.8" fill="#d5e6f2"/>
<rect x="1198.0" y="2149.3" width="27.6" height="23.8" fill="#5784c3"/>
<rect x="1225.3" y="2149.3" width="27.6" height="23.8" fill="#5784c3"/>
<rect x="1252.6" y="2149.3" width="27.6" height="23.8" fill="#d83018"/>
<rect x="1279.9" y="2149.3" width="27.6" height="23.8" fill="#e04425"/>
<rect x="1307.1" y="2149.3" width="27.6" height="23.8" fill="#f69355"/>
<rect x="1334.4" y="2149.3" width="27.6" height="23.8" fill="#fdd38b"/>
<rect x="1361.7" y="2149.3" width="27.6" height="23.8" fill="#81a9d5"/>
<rect x="1389.0" y="2149.3" width="27.6" height="23.8" fill="#93b9dc"/>
<rect x="1416.3" y="2149.3" width="27.6" height="23.8" fill="#87aed7"/>
<rect x="1443.6" y="2149.3" width="27.6" height="23.8" fill="#628ec8"/>
<rect x="1470.9" y="2149.3" width="27.6" height="23.8" fill="#fee9b0"/>
<rect x="1498.2" y="2149.3" width="27.6" height="23.8" fill="#ffedb6"/>
<rect x="1525.5" y="2149.3" width="27.6" height="23.8" fill="#fff3c0"/>
<rect x="1552.8" y="2149.3" width="27.6" height="23.8" fill="#f89b5a"/>
<rect x="1580.0" y="2149.3" width="27.6" height="23.8" fill="#f3854e"/>
<rect x="1607.3" y="2149.3" width="27.6" height="23.8" fill="#da341b"/>
<rect x="1634.6" y="2149.3" width="27.6" height="23.8" fill="#eff5ee"/>
<rect x="1661.9" y="2149.3" width="27.6" height="23.8" fill="#eff5ee"/>
<rect x="1689.2" y="2149.3" width="27.6" height="23.8" fill="#e7f1f7"/>
<rect x="1143.4" y="2172.8" width="27.6" height="23.8" fill="#fdd38b"/>
<rect x="1170.7" y="2172.8" width="27.6" height="23.8" fill="#fba962"/>
<rect x="1198.0" y="2172.8" width="27.6" height="23.8" fill="#fba962"/>
<rect x="1225.3" y="2172.8" width="27.6" height="23.8" fill="#5380c1"/>
<rect x="1252.6" y="2172.8" width="27.6" height="23.8" fill="#517fc0"/>
<rect x="1279.9" y="2172.8" width="27.6" height="23.8" fill="#5986c4"/>
<rect x="1307.1" y="2172.8" width="27.6" height="23.8" fill="#7aa3d2"/>
<rect x="1334.4" y="2172.8" width="27.6" height="23.8" fill="#7fa7d4"/>
<rect x="1361.7" y="2172.8" width="27.6" height="23.8" fill="#eff5ee"/>
<rect x="1389.0" y="2172.8" width="27.6" height="23.8" fill="#fdf6cd"/>
<rect x="1416.3" y="2172.8" width="27.6" height="23.8" fill="#eff5ee"/>
<rect x="1443.6" y="2172.8" width="27.6" height="23.8" fill="#6691ca"/>
<rect x="1470.9" y="2172.8" width="27.6" height="23.8" fill="#fee1a1"/>
<rect x="1498.2" y="2172.8" width="27.6" height="23.8" fill="#fee9b0"/>
<rect x="1525.5" y="2172.8" width="27.6" height="23.8" fill="#fff3c0"/>
<rect x="1552.8" y="2172.8" width="27.6" height="23.8" fill="#fdcb83"/>
<rect x="1580.0" y="2172.8" width="27.6" height="23.8" fill="#fee3a5"/>
<rect x="1607.3" y="2172.8" width="27.6" height="23.8" fill="#f69355"/>
<rect x="1634.6" y="2172.8" width="27.6" height="23.8" fill="#fdf6cd"/>
<rect x="1661.9" y="2172.8" width="27.6" height="23.8" fill="#fef4c5"/>
<rect x="1689.2" y="2172.8" width="27.6" height="23.8" fill="#fdd995"/>
<rect x="1143.4" y="2196.3" width="27.6" height="23.8" fill="#7fa7d4"/>
<rect x="1170.7" y="2196.3" width="27.6" height="23.8" fill="#b5d1e7"/>
<rect x="1198.0" y="2196.3" width="27.6" height="23.8" fill="#c5dced"/>
<rect x="1225.3" y="2196.3" width="27.6" height="23.8" fill="#5380c1"/>
<rect x="1252.6" y="2196.3" width="27.6" height="23.8" fill="#ddebf5"/>
<rect x="1279.9" y="2196.3" width="27.6" height="23.8" fill="#93b9dc"/>
<rect x="1307.1" y="2196.3" width="27.6" height="23.8" fill="#7fa7d4"/>
<rect x="1334.4" y="2196.3" width="27.6" height="23.8" fill="#93b9dc"/>
<rect x="1361.7" y="2196.3" width="27.6" height="23.8" fill="#7aa3d2"/>
<rect x="1389.0" y="2196.3" width="27.6" height="23.8" fill="#6b96cc"/>
<rect x="1416.3" y="2196.3" width="27.6" height="23.8" fill="#5d8ac6"/>
<rect x="1443.6" y="2196.3" width="27.6" height="23.8" fill="#628ec8"/>
<rect x="1470.9" y="2196.3" width="27.6" height="23.8" fill="#5784c3"/>
<rect x="1498.2" y="2196.3" width="27.6" height="23.8" fill="#5986c4"/>
<rect x="1525.5" y="2196.3" width="27.6" height="23.8" fill="#5986c4"/>
<rect x="1552.8" y="2196.3" width="27.6" height="23.8" fill="#5d8ac6"/>
<rect x="1580.0" y="2196.3" width="27.6" height="23.8" fill="#7aa3d2"/>
<rect x="1607.3" y="2196.3" width="27.6" height="23.8" fill="#7fa7d4"/>
<rect x="1634.6" y="2196.3" width="27.6" height="23.8" fill="#5986c4"/>
<rect x="1661.9" y="2196.3" width="27.6" height="23.8" fill="#5784c3"/>
<rect x="1689.2" y="2196.3" width="27.6" height="23.8" fill="#5b88c5"/>
<line x1="1170.7" y1="1820.6" x2="1170.7" y2="2219.8" stroke="#ffffff" stroke-width="0.5" opacity="0.35"/>
<line x1="1198.0" y1="1820.6" x2="1198.0" y2="2219.8" stroke="#ffffff" stroke-width="0.5" opacity="0.35"/>
<line x1="1225.3" y1="1820.6" x2="1225.3" y2="2219.8" stroke="#ffffff" stroke-width="0.5" opacity="0.35"/>
<line x1="1252.6" y1="1820.6" x2="1252.6" y2="2219.8" stroke="#ffffff" stroke-width="0.5" opacity="0.35"/>
<line x1="1279.9" y1="1820.6" x2="1279.9" y2="2219.8" stroke="#ffffff" stroke-width="0.5" opacity="0.35"/>
<line x1="1307.1" y1="1820.6" x2="1307.1" y2="2219.8" stroke="#ffffff" stroke-width="0.5" opacity="0.35"/>
<line x1="1334.4" y1="1820.6" x2="1334.4" y2="2219.8" stroke="#ffffff" stroke-width="0.5" opacity="0.35"/>
<line x1="1361.7" y1="1820.6" x2="1361.7" y2="2219.8" stroke="#ffffff" stroke-width="0.5" opacity="0.35"/>
<line x1="1389.0" y1="1820.6" x2="1389.0" y2="2219.8" stroke="#ffffff" stroke-width="0.5" opacity="0.35"/>
<line x1="1416.3" y1="1820.6" x2="1416.3" y2="2219.8" stroke="#ffffff" stroke-width="0.5" opacity="0.35"/>
<line x1="1443.6" y1="1820.6" x2="1443.6" y2="2219.8" stroke="#ffffff" stroke-width="0.5" opacity="0.35"/>
<line x1="1470.9" y1="1820.6" x2="1470.9" y2="2219.8" stroke="#ffffff" stroke-width="0.5" opacity="0.35"/>
<line x1="1498.2" y1="1820.6" x2="1498.2" y2="2219.8" stroke="#ffffff" stroke-width="0.5" opacity="0.35"/>
<line x1="1525.5" y1="1820.6" x2="1525.5" y2="2219.8" stroke="#ffffff" stroke-width="0.5" opacity="0.35"/>
<line x1="1552.8" y1="1820.6" x2="1552.8" y2="2219.8" stroke="#ffffff" stroke-width="0.5" opacity="0.35"/>
<line x1="1580.0" y1="1820.6" x2="1580.0" y2="2219.8" stroke="#ffffff" stroke-width="0.5" opacity="0.35"/>
<line x1="1607.3" y1="1820.6" x2="1607.3" y2="2219.8" stroke="#ffffff" stroke-width="0.5" opacity="0.35"/>
<line x1="1634.6" y1="1820.6" x2="1634.6" y2="2219.8" stroke="#ffffff" stroke-width="0.5" opacity="0.35"/>
<line x1="1661.9" y1="1820.6" x2="1661.9" y2="2219.8" stroke="#ffffff" stroke-width="0.5" opacity="0.35"/>
<line x1="1689.2" y1="1820.6" x2="1689.2" y2="2219.8" stroke="#ffffff" stroke-width="0.5" opacity="0.35"/>
<text x="1133.5" y="1842.1" font-size="26.5" text-anchor="end">ORB</text>
<text x="1133.5" y="1865.6" font-size="26.5" text-anchor="end">ACA,PFC</text>
<text x="1133.5" y="1889.1" font-size="26.5" text-anchor="end">ACA</text>
<text x="1133.5" y="1912.6" font-size="26.5" text-anchor="end">MOs</text>
<text x="1133.5" y="1936.1" font-size="26.5" text-anchor="end">MOp</text>
<text x="1133.5" y="1959.5" font-size="26.5" text-anchor="end">SSp</text>
<text x="1133.5" y="1983.0" font-size="26.5" text-anchor="end">SSs</text>
<text x="1133.5" y="2006.5" font-size="26.5" text-anchor="end">AI</text>
<text x="1133.5" y="2030.0" font-size="26.5" text-anchor="end">MOB,AON</text>
<text x="1133.5" y="2053.5" font-size="26.5" text-anchor="end">AON</text>
<text x="1133.5" y="2076.9" font-size="26.5" text-anchor="end">PIR</text>
<text x="1133.5" y="2100.4" font-size="26.5" text-anchor="end">CA</text>
<text x="1133.5" y="2123.9" font-size="26.5" text-anchor="end">DG</text>
<text x="1133.5" y="2147.4" font-size="26.5" text-anchor="end">ACB</text>
<text x="1133.5" y="2170.9" font-size="26.5" text-anchor="end">CP</text>
<text x="1133.5" y="2194.3" font-size="26.5" text-anchor="end">LSX</text>
<text x="1133.5" y="2217.8" font-size="26.5" text-anchor="end">PAL</text>
<text x="994.0" y="2009.2" font-size="26.5" text-anchor="middle" transform="rotate(-90 994.0 2009.2)">Brain sub-regions</text>
<text x="1166.6" y="2231.0" font-size="26.5" text-anchor="end" transform="rotate(-90 1166.6 2231.0)">GRE(NR),IR3</text>
<text x="1193.9" y="2231.0" font-size="26.5" text-anchor="end" transform="rotate(-90 1193.9 2231.0)">Gli2(Zf)</text>
<text x="1221.2" y="2231.0" font-size="26.5" text-anchor="end" transform="rotate(-90 1221.2 2231.0)">PGR(NR)</text>
<text x="1248.5" y="2231.0" font-size="26.5" text-anchor="end" transform="rotate(-90 1248.5 2231.0)" textLength="150.5" lengthAdjust="spacing">Tcf21(bHLH)</text>
<text x="1275.8" y="2231.0" font-size="26.5" text-anchor="end" transform="rotate(-90 1275.8 2231.0)">Tcf7(HMG)</text>
<text x="1303.1" y="2231.0" font-size="26.5" text-anchor="end" transform="rotate(-90 1303.1 2231.0)">LEF1(HMG)</text>
<text x="1330.4" y="2231.0" font-size="26.5" text-anchor="end" transform="rotate(-90 1330.4 2231.0)" textLength="236.5" lengthAdjust="spacing">Hoxd13(Homeobox</text>
<text x="1357.7" y="2231.0" font-size="26.5" text-anchor="end" transform="rotate(-90 1357.7 2231.0)">Sox9(HMG)</text>
<text x="1385.0" y="2231.0" font-size="26.5" text-anchor="end" transform="rotate(-90 1385.0 2231.0)">RORgt(NR)</text>
<text x="1412.3" y="2231.0" font-size="26.5" text-anchor="end" transform="rotate(-90 1412.3 2231.0)">RORg(NR)</text>
<text x="1439.5" y="2231.0" font-size="26.5" text-anchor="end" transform="rotate(-90 1439.5 2231.0)">RORa(NR)</text>
<text x="1466.8" y="2231.0" font-size="26.5" text-anchor="end" transform="rotate(-90 1466.8 2231.0)" textLength="280.5" lengthAdjust="spacing">Oct11(POU,Homeobox</text>
<text x="1494.1" y="2231.0" font-size="26.5" text-anchor="end" transform="rotate(-90 1494.1 2231.0)">Lhx3(Homeobox)</text>
<text x="1521.4" y="2231.0" font-size="26.5" text-anchor="end" transform="rotate(-90 1521.4 2231.0)">DLX2(Homeobox)</text>
<text x="1548.7" y="2231.0" font-size="26.5" text-anchor="end" transform="rotate(-90 1548.7 2231.0)">En1(Homeobox)</text>
<text x="1576.0" y="2231.0" font-size="26.5" text-anchor="end" transform="rotate(-90 1576.0 2231.0)">Nkx6.1(Homeobox)</text>
<text x="1603.3" y="2231.0" font-size="26.5" text-anchor="end" transform="rotate(-90 1603.3 2231.0)">Lhx2(Homeobox)</text>
<text x="1630.6" y="2231.0" font-size="26.5" text-anchor="end" transform="rotate(-90 1630.6 2231.0)">Lhx1(Homeobox)</text>
<text x="1657.9" y="2231.0" font-size="26.5" text-anchor="end" transform="rotate(-90 1657.9 2231.0)">DLX5(Homeobox)</text>
<text x="1685.2" y="2231.0" font-size="26.5" text-anchor="end" transform="rotate(-90 1685.2 2231.0)">DLX1(Homeobox)</text>
<text x="1712.4" y="2231.0" font-size="26.5" text-anchor="end" transform="rotate(-90 1712.4 2231.0)">Dlx3(Homeobox)</text>
<path d="M1156.8 1820.0L1156.8 1816.0L1184.2 1816.0L1184.2 1820.0M1170.6 1816.0L1170.6 1813.0L1211.4 1813.0L1211.4 1820.0M1191.0 1813.0L1191.0 1802.7L1238.8 1802.7L1238.8 1820.0M1214.9 1802.7L1214.9 1799.6L1324.0 1799.6L1324.0 1805.1M1266.1 1820.0L1266.1 1810.9L1293.3 1810.9L1293.3 1820.0M1279.7 1810.9L1279.7 1809.5L1320.7 1809.5L1320.7 1820.0M1300.1 1809.5L1300.1 1805.1L1347.9 1805.1L1347.9 1820.0M1269.2 1799.6L1269.2 1796.1L1432.8 1796.1L1432.8 1805.1M1375.1 1820.0L1375.1 1811.9L1402.5 1811.9L1402.5 1820.0M1388.9 1811.9L1388.9 1810.9L1429.7 1810.9L1429.7 1820.0M1409.3 1810.9L1409.3 1805.1L1457.1 1805.1L1457.1 1820.0M1351.0 1796.1L1351.0 1789.3M1351.0 1789.3L1628.0 1789.3L1628.0 1804.3M1484.1 1820.0L1484.1 1815.0L1511.5 1815.0L1511.5 1820.0M1497.7 1815.0L1497.7 1813.6L1538.6 1813.6L1538.6 1820.0M1518.0 1813.6L1518.0 1811.5L1565.8 1811.5L1565.8 1820.0M1541.9 1811.5L1541.9 1807.4L1606.8 1807.4L1606.8 1813.0M1593.2 1820.0L1593.2 1813.0L1620.4 1813.0L1620.4 1820.0M1574.5 1807.4L1574.5 1804.3L1681.6 1804.3L1681.6 1811.9M1647.8 1820.0L1647.8 1815.4L1675.0 1815.4L1675.0 1820.0M1661.4 1815.4L1661.4 1811.9L1702.4 1811.9L1702.4 1820.0" fill="none" stroke="#111" stroke-width="1.8" stroke-linejoin="miter"/>
<text x="1208.0" y="2467.9" font-size="26.5" text-anchor="middle">-log (p-value)</text>
<text x="1104.5" y="2494.8" font-size="26.5">0</text>
<rect x="1121.8" y="2476.8" width="178.1" height="19.8" fill="url(#g313)" stroke="#111" stroke-width="1.5"/>
<text x="1302.9" y="2494.8" font-size="26.5">≥15</text>
<text x="1775.6" y="1766.0" font-size="26.5">Sub regions</text>
<rect x="1777.8" y="1786.1" width="19.5" height="19.2" fill="#c9a08c"/>
<text x="1811.0" y="1804.3" font-size="26.5">ORB</text>
<rect x="1777.8" y="1821.5" width="19.5" height="19.2" fill="#8c564b"/>
<text x="1811.0" y="1839.7" font-size="26.5">ACA,PFC</text>
<rect x="1777.8" y="1858.1" width="19.5" height="19.2" fill="#4a73b8"/>
<text x="1811.0" y="1876.3" font-size="26.5">MOs,MOp</text>
<rect x="1777.8" y="1892.3" width="19.5" height="19.2" fill="#2ca02c"/>
<text x="1811.0" y="1910.5" font-size="26.5">SSs,SSp</text>
<rect x="1777.8" y="1926.5" width="19.5" height="19.2" fill="#b5d410"/>
<text x="1811.0" y="1944.7" font-size="26.5">AI</text>
<rect x="1777.8" y="1960.1" width="19.5" height="19.2" fill="#f57f0e"/>
<text x="1811.0" y="1978.3" font-size="26.5">MOB,AON</text>
<rect x="1777.8" y="1994.2" width="19.5" height="19.2" fill="#ee7a10"/>
<text x="1811.0" y="2012.4" font-size="26.5">AON</text>
<rect x="1777.8" y="2028.4" width="19.5" height="19.2" fill="#f6c142"/>
<text x="1811.0" y="2046.6" font-size="26.5">PIR</text>
<rect x="1777.8" y="2065.6" width="19.5" height="19.2" fill="#d62f1f"/>
<text x="1811.0" y="2083.8" font-size="26.5">CA</text>
<rect x="1777.8" y="2100.4" width="19.5" height="19.2" fill="#fdb0ba"/>
<text x="1811.0" y="2118.6" font-size="26.5">DG</text>
<rect x="1777.8" y="2135.2" width="19.5" height="19.2" fill="#f9d4ec"/>
<text x="1811.0" y="2153.4" font-size="26.5">ACB</text>
<rect x="1777.8" y="2168.2" width="19.5" height="19.2" fill="#8446c0"/>
<text x="1811.0" y="2186.4" font-size="26.5">CP</text>
<rect x="1777.8" y="2201.2" width="19.5" height="19.2" fill="#b0186a"/>
<text x="1811.0" y="2219.4" font-size="26.5">LSX</text>
<rect x="1777.8" y="2235.4" width="19.5" height="19.2" fill="#b266d6"/>
<text x="1811.0" y="2253.6" font-size="26.5">PAL</text>
</svg>
</body></html>
